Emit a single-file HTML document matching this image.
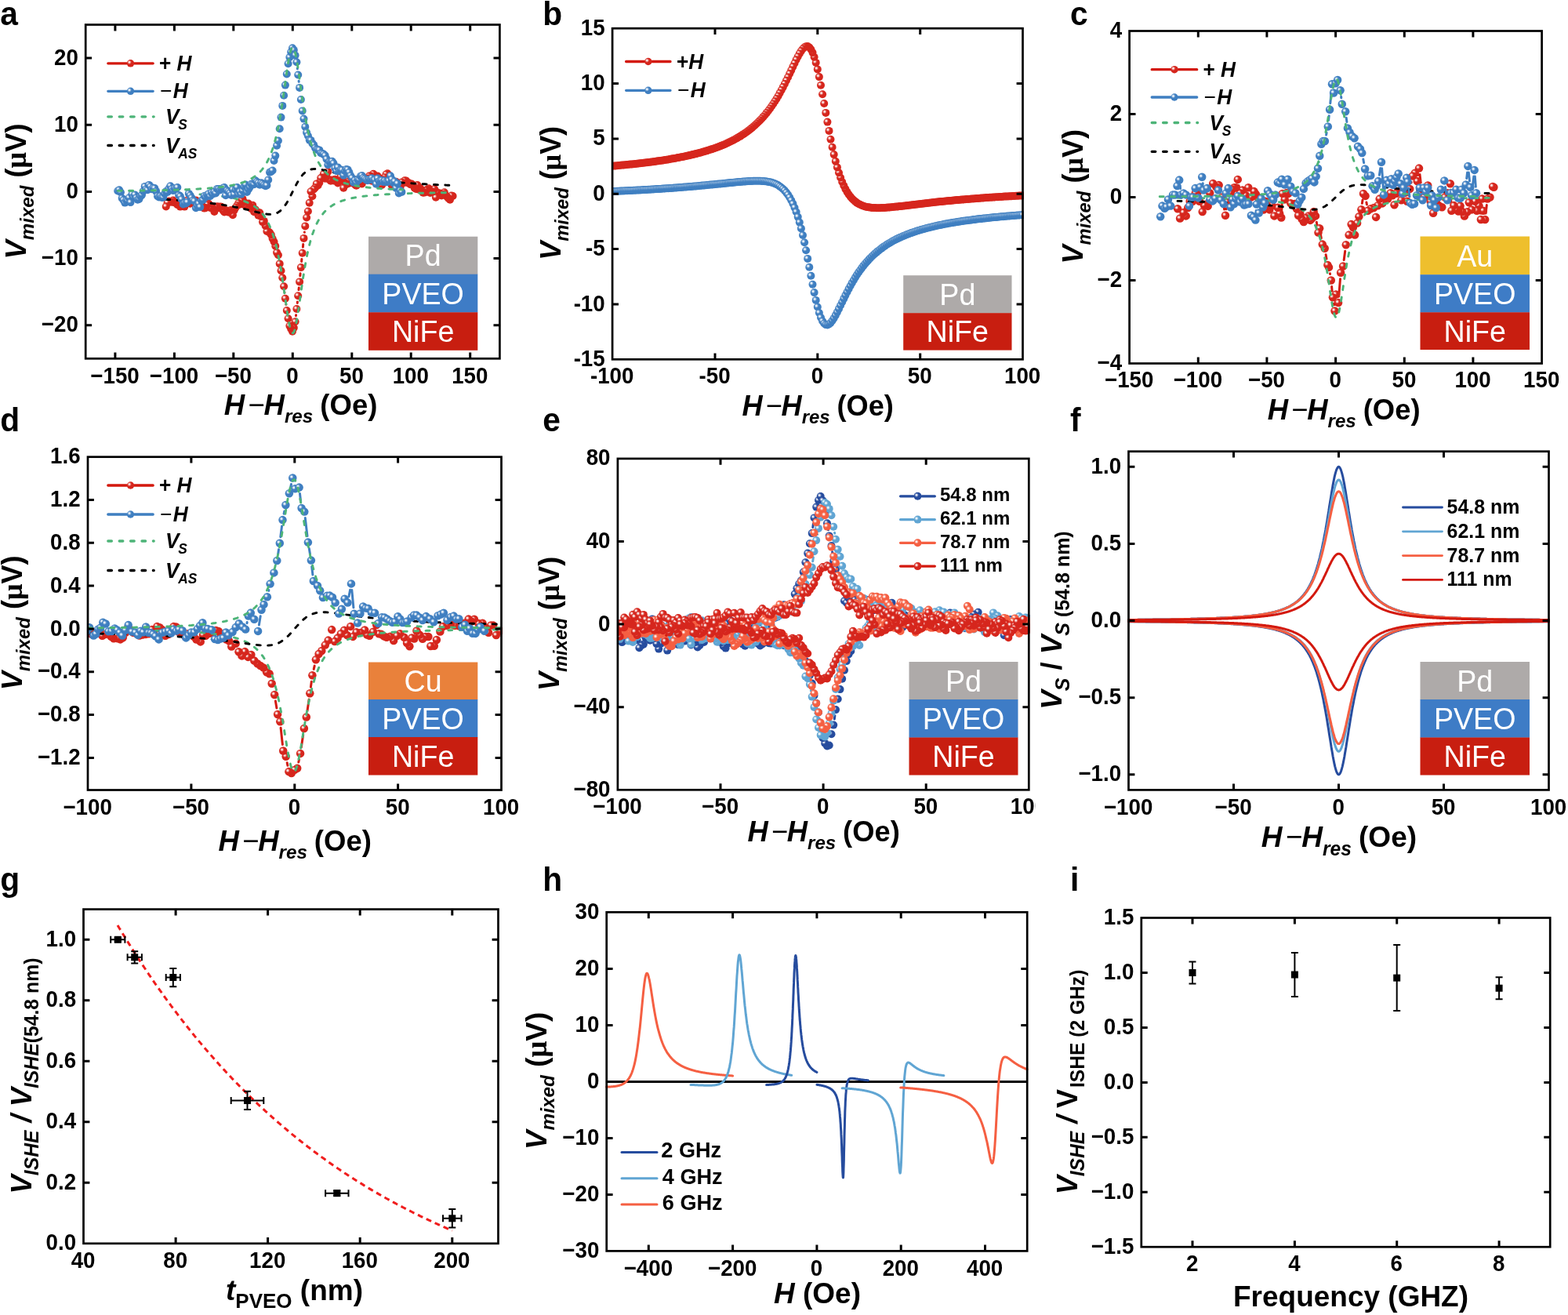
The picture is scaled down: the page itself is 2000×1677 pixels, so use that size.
<!DOCTYPE html>
<html lang="en"><head><meta charset="utf-8"><title>Figure</title>
<style>html,body{margin:0;padding:0;background:#fff}svg{display:block}</style></head>
<body><svg xmlns="http://www.w3.org/2000/svg" width="2000" height="1677" viewBox="0 0 2000 1677" font-family="'Liberation Sans',sans-serif" font-weight="bold" fill="#000">
<rect width="2000" height="1677" fill="#fff"/>
<defs><radialGradient id="hl"><stop offset="0" stop-color="#fff" stop-opacity="0.95"/><stop offset="0.3" stop-color="#fff" stop-opacity="0.85"/><stop offset="0.65" stop-color="#fff" stop-opacity="0.3"/><stop offset="1" stop-color="#fff" stop-opacity="0"/></radialGradient><g id="mr"><circle r="5.0" fill="#d6261d"/><circle cx="-1.5" cy="-1.5" r="2.9" fill="url(#hl)"/></g><g id="lr"><circle r="4.75" fill="#d6261d"/><circle cx="-1.5" cy="-1.5" r="2.9" fill="url(#hl)"/></g><g id="lb"><circle r="4.75" fill="#3f7fc1"/><circle cx="-1.5" cy="-1.5" r="2.9" fill="url(#hl)"/></g><g id="lr5"><circle r="5.0" fill="#d6261d"/><circle cx="-1.5" cy="-1.5" r="2.9" fill="url(#hl)"/></g><g id="mr2"><circle r="5.25" fill="#d6261d"/><circle cx="-1.5" cy="-1.5" r="2.9" fill="url(#hl)"/></g><g id="mb2"><circle r="5.25" fill="#3f7fc1"/><circle cx="-1.5" cy="-1.5" r="2.9" fill="url(#hl)"/></g><g id="ld"><circle r="5.0" fill="#264c9e"/><circle cx="-1.5" cy="-1.5" r="2.9" fill="url(#hl)"/></g><g id="ll"><circle r="5.0" fill="#60a5d3"/><circle cx="-1.5" cy="-1.5" r="2.9" fill="url(#hl)"/></g><g id="ls"><circle r="5.0" fill="#f55f42"/><circle cx="-1.5" cy="-1.5" r="2.9" fill="url(#hl)"/></g><g id="mb"><circle r="5.0" fill="#3f7fc1"/><circle cx="-1.5" cy="-1.5" r="2.9" fill="url(#hl)"/></g><g id="md"><circle r="5.0" fill="#264c9e"/><circle cx="-1.5" cy="-1.5" r="2.9" fill="url(#hl)"/></g><g id="ml"><circle r="5.0" fill="#60a5d3"/><circle cx="-1.5" cy="-1.5" r="2.9" fill="url(#hl)"/></g><g id="ms"><circle r="5.0" fill="#f55f42"/><circle cx="-1.5" cy="-1.5" r="2.9" fill="url(#hl)"/></g><clipPath id="cb"><rect x="781.1" y="36.2" width="524.9" height="422.1"/></clipPath><clipPath id="cd"><rect x="112" y="582.7" width="529" height="424.8"/></clipPath><clipPath id="ce"><rect x="787.9" y="584.9" width="525.9" height="422.4"/></clipPath><clipPath id="cel"><rect x="700" y="1000" width="620.6" height="60"/></clipPath></defs>
<path d="M388.4 296L388.4 296.3M386.7 311.6L386.4 315.1M384.9 330.4L384.6 333.5M383.1 348.8L382.8 351.7M381.3 367L381 369.6M379.4 384.9L379.3 386.4M377.6 401.7L377.5 402.7M364.9 388.3L364.8 388.3M363 373L363 373" stroke="#d3190e" stroke-width="3.0" fill="none" stroke-linecap="round"/>
<use href="#mr" x="577.6" y="250"/><use href="#mr" x="575.8" y="249.5"/><use href="#mr" x="574" y="254.8"/><use href="#mr" x="572.2" y="253.3"/><use href="#mr" x="570.4" y="251.1"/><use href="#mr" x="568.6" y="249.3"/><use href="#mr" x="566.8" y="245.2"/><use href="#mr" x="565" y="247.7"/><use href="#mr" x="563.2" y="249.4"/><use href="#mr" x="561.3" y="246.5"/><use href="#mr" x="559.5" y="248.4"/><use href="#mr" x="557.7" y="245.3"/><use href="#mr" x="555.9" y="251.8"/><use href="#mr" x="554.1" y="241"/><use href="#mr" x="552.3" y="244.5"/><use href="#mr" x="550.5" y="245"/><use href="#mr" x="548.7" y="245.9"/><use href="#mr" x="546.9" y="240.3"/><use href="#mr" x="545" y="241.8"/><use href="#mr" x="543.2" y="242.8"/><use href="#mr" x="541.4" y="245.6"/><use href="#mr" x="539.6" y="245.7"/><use href="#mr" x="537.8" y="242.5"/><use href="#mr" x="536" y="240"/><use href="#mr" x="534.2" y="241.8"/><use href="#mr" x="532.4" y="236"/><use href="#mr" x="530.6" y="241"/><use href="#mr" x="528.7" y="239.8"/><use href="#mr" x="526.9" y="236.1"/><use href="#mr" x="525.1" y="234.5"/><use href="#mr" x="523.3" y="235.3"/><use href="#mr" x="521.5" y="233.2"/><use href="#mr" x="519.7" y="233.1"/><use href="#mr" x="517.9" y="230.4"/><use href="#mr" x="516.1" y="230.3"/><use href="#mr" x="514.3" y="233.5"/><use href="#mr" x="512.4" y="232.5"/><use href="#mr" x="510.6" y="238.7"/><use href="#mr" x="508.8" y="235.2"/><use href="#mr" x="507" y="235.3"/><use href="#mr" x="505.2" y="231.7"/><use href="#mr" x="503.4" y="233.2"/><use href="#mr" x="501.6" y="231"/><use href="#mr" x="499.8" y="236.5"/><use href="#mr" x="498" y="232.2"/><use href="#mr" x="496.1" y="223.9"/><use href="#mr" x="494.3" y="221.2"/><use href="#mr" x="492.5" y="222.4"/><use href="#mr" x="490.7" y="226.2"/><use href="#mr" x="488.9" y="229.2"/><use href="#mr" x="487.1" y="235.9"/><use href="#mr" x="485.3" y="228.3"/><use href="#mr" x="483.5" y="227.1"/><use href="#mr" x="481.7" y="224.5"/><use href="#mr" x="479.8" y="226.7"/><use href="#mr" x="478" y="223.8"/><use href="#mr" x="476.2" y="221.8"/><use href="#mr" x="474.4" y="230.8"/><use href="#mr" x="472.6" y="224.4"/><use href="#mr" x="470.8" y="224.5"/><use href="#mr" x="469" y="227.6"/><use href="#mr" x="467.2" y="228.2"/><use href="#mr" x="465.4" y="229.9"/><use href="#mr" x="463.5" y="229.4"/><use href="#mr" x="461.7" y="234.4"/><use href="#mr" x="459.9" y="233"/><use href="#mr" x="458.1" y="231.9"/><use href="#mr" x="456.3" y="235.2"/><use href="#mr" x="454.5" y="236.7"/><use href="#mr" x="452.7" y="235.5"/><use href="#mr" x="450.9" y="233"/><use href="#mr" x="449.1" y="232.2"/><use href="#mr" x="447.2" y="229"/><use href="#mr" x="445.4" y="233.7"/><use href="#mr" x="443.6" y="231.5"/><use href="#mr" x="441.8" y="235.2"/><use href="#mr" x="440" y="233.2"/><use href="#mr" x="438.2" y="239.7"/><use href="#mr" x="436.4" y="229.2"/><use href="#mr" x="434.6" y="225.4"/><use href="#mr" x="432.8" y="231.3"/><use href="#mr" x="430.9" y="233.5"/><use href="#mr" x="429.1" y="230.9"/><use href="#mr" x="427.3" y="228.8"/><use href="#mr" x="425.5" y="230.5"/><use href="#mr" x="423.7" y="229.5"/><use href="#mr" x="421.9" y="230.7"/><use href="#mr" x="420.1" y="229.3"/><use href="#mr" x="418.3" y="218.9"/><use href="#mr" x="416.5" y="225.3"/><use href="#mr" x="414.7" y="227.8"/><use href="#mr" x="412.8" y="222.1"/><use href="#mr" x="411" y="226.6"/><use href="#mr" x="409.2" y="227.1"/><use href="#mr" x="407.4" y="233"/><use href="#mr" x="405.6" y="236.5"/><use href="#mr" x="403.8" y="234.4"/><use href="#mr" x="402" y="239.4"/><use href="#mr" x="400.2" y="241.4"/><use href="#mr" x="398.4" y="250.3"/><use href="#mr" x="396.5" y="244.2"/><use href="#mr" x="394.7" y="258.8"/><use href="#mr" x="392.9" y="269.5"/><use href="#mr" x="391.1" y="277.5"/><use href="#mr" x="389.3" y="288.4"/><use href="#mr" x="387.5" y="303.9"/><use href="#mr" x="385.7" y="322.7"/><use href="#mr" x="383.9" y="341.1"/><use href="#mr" x="382.1" y="359.4"/><use href="#mr" x="380.2" y="377.2"/><use href="#mr" x="378.4" y="394"/><use href="#mr" x="376.6" y="410.3"/><use href="#mr" x="374.8" y="418.1"/><use href="#mr" x="373" y="422.7"/><use href="#mr" x="371.2" y="419.4"/><use href="#mr" x="369.4" y="415.6"/><use href="#mr" x="367.6" y="406.3"/><use href="#mr" x="365.8" y="396"/><use href="#mr" x="363.9" y="380.7"/><use href="#mr" x="362.1" y="365.3"/><use href="#mr" x="360.3" y="354.3"/><use href="#mr" x="358.5" y="345.3"/><use href="#mr" x="356.7" y="336.4"/><use href="#mr" x="354.9" y="325.2"/><use href="#mr" x="353.1" y="322.1"/><use href="#mr" x="351.3" y="313.7"/><use href="#mr" x="349.5" y="308.2"/><use href="#mr" x="347.6" y="304.2"/><use href="#mr" x="345.8" y="299.3"/><use href="#mr" x="344" y="296.6"/><use href="#mr" x="342.2" y="295.3"/><use href="#mr" x="340.4" y="295"/><use href="#mr" x="338.6" y="287.9"/><use href="#mr" x="336.8" y="281.9"/><use href="#mr" x="335" y="283.1"/><use href="#mr" x="333.2" y="276.3"/><use href="#mr" x="331.3" y="271.3"/><use href="#mr" x="329.5" y="274.7"/><use href="#mr" x="327.7" y="270.2"/><use href="#mr" x="325.9" y="267.3"/><use href="#mr" x="324.1" y="270.3"/><use href="#mr" x="322.3" y="261.7"/><use href="#mr" x="320.5" y="266.1"/><use href="#mr" x="318.7" y="262.7"/><use href="#mr" x="316.9" y="259.5"/><use href="#mr" x="315" y="260.2"/><use href="#mr" x="313.2" y="262.4"/><use href="#mr" x="311.4" y="257.9"/><use href="#mr" x="309.6" y="253.9"/><use href="#mr" x="307.8" y="256.4"/><use href="#mr" x="306" y="260.6"/><use href="#mr" x="304.2" y="259.1"/><use href="#mr" x="302.4" y="262.2"/><use href="#mr" x="300.6" y="264.6"/><use href="#mr" x="298.7" y="268.3"/><use href="#mr" x="296.9" y="274.2"/><use href="#mr" x="295.1" y="267.9"/><use href="#mr" x="293.3" y="268.5"/><use href="#mr" x="291.5" y="270.8"/><use href="#mr" x="289.7" y="269.2"/><use href="#mr" x="287.9" y="268.1"/><use href="#mr" x="286.1" y="270.5"/><use href="#mr" x="284.3" y="268.1"/><use href="#mr" x="282.4" y="263.7"/><use href="#mr" x="280.6" y="263.6"/><use href="#mr" x="278.8" y="265.2"/><use href="#mr" x="277" y="263.3"/><use href="#mr" x="275.2" y="264.4"/><use href="#mr" x="273.4" y="270"/><use href="#mr" x="271.6" y="266.1"/><use href="#mr" x="269.8" y="262.9"/><use href="#mr" x="268" y="265"/><use href="#mr" x="266.2" y="259.8"/><use href="#mr" x="264.3" y="261.2"/><use href="#mr" x="262.5" y="264.9"/><use href="#mr" x="260.7" y="265.6"/><use href="#mr" x="258.9" y="264.5"/><use href="#mr" x="257.1" y="261.4"/><use href="#mr" x="255.3" y="261.2"/><use href="#mr" x="253.5" y="257"/><use href="#mr" x="251.7" y="262.3"/><use href="#mr" x="249.9" y="255.4"/><use href="#mr" x="248" y="256.6"/><use href="#mr" x="246.2" y="258.2"/><use href="#mr" x="244.4" y="256"/><use href="#mr" x="242.6" y="259.8"/><use href="#mr" x="240.8" y="256.8"/><use href="#mr" x="239" y="255.6"/><use href="#mr" x="237.2" y="259.7"/><use href="#mr" x="235.4" y="263.6"/><use href="#mr" x="233.6" y="262.2"/><use href="#mr" x="231.7" y="259.1"/><use href="#mr" x="229.9" y="263.6"/><use href="#mr" x="228.1" y="259.8"/><use href="#mr" x="226.3" y="261.1"/><use href="#mr" x="224.5" y="259"/><use href="#mr" x="222.7" y="258.5"/><use href="#mr" x="220.9" y="255.6"/><use href="#mr" x="219.1" y="257.7"/><use href="#mr" x="217.3" y="257.5"/><use href="#mr" x="215.4" y="256.5"/><use href="#mr" x="213.6" y="258.6"/><use href="#mr" x="211.8" y="263.4"/>
<polyline points="211.8,246.3 212.7,246.3 213.7,246.3 214.6,246.4 215.5,246.4 216.4,246.4 217.3,246.4 218.2,246.4 219.1,246.5 220.1,246.5 221,246.5 221.9,246.5 222.8,246.6 223.7,246.6 224.6,246.6 225.6,246.7 226.5,246.7 227.4,246.7 228.3,246.7 229.2,246.8 230.1,246.8 231,246.8 232,246.9 232.9,246.9 233.8,246.9 234.7,247 235.6,247 236.5,247 237.5,247.1 238.4,247.1 239.3,247.1 240.2,247.2 241.1,247.2 242,247.2 242.9,247.3 243.9,247.3 244.8,247.4 245.7,247.4 246.6,247.4 247.5,247.5 248.4,247.5 249.3,247.6 250.3,247.6 251.2,247.7 252.1,247.7 253,247.8 253.9,247.8 254.8,247.9 255.8,247.9 256.7,248 257.6,248 258.5,248.1 259.4,248.2 260.3,248.2 261.2,248.3 262.2,248.3 263.1,248.4 264,248.5 264.9,248.5 265.8,248.6 266.7,248.7 267.7,248.8 268.6,248.8 269.5,248.9 270.4,249 271.3,249.1 272.2,249.1 273.1,249.2 274.1,249.3 275,249.4 275.9,249.5 276.8,249.6 277.7,249.7 278.6,249.8 279.6,249.9 280.5,250 281.4,250.1 282.3,250.2 283.2,250.3 284.1,250.4 285,250.6 286,250.7 286.9,250.8 287.8,251 288.7,251.1 289.6,251.2 290.5,251.4 291.5,251.5 292.4,251.7 293.3,251.9 294.2,252 295.1,252.2 296,252.4 296.9,252.5 297.9,252.7 298.8,252.9 299.7,253.1 300.6,253.3 301.5,253.6 302.4,253.8 303.4,254 304.3,254.3 305.2,254.5 306.1,254.8 307,255.1 307.9,255.3 308.8,255.6 309.8,255.9 310.7,256.3 311.6,256.6 312.5,256.9 313.4,257.3 314.3,257.7 315.3,258 316.2,258.5 317.1,258.9 318,259.3 318.9,259.8 319.8,260.3 320.7,260.8 321.7,261.3 322.6,261.9 323.5,262.4 324.4,263.1 325.3,263.7 326.2,264.4 327.2,265.1 328.1,265.8 329,266.6 329.9,267.4 330.8,268.3 331.7,269.2 332.6,270.2 333.6,271.2 334.5,272.3 335.4,273.4 336.3,274.7 337.2,275.9 338.1,277.3 339.1,278.7 340,280.3 340.9,281.9 341.8,283.6 342.7,285.5 343.6,287.4 344.5,289.5 345.5,291.8 346.4,294.1 347.3,296.7 348.2,299.4 349.1,302.2 350,305.3 351,308.6 351.9,312.1 352.8,315.8 353.7,319.8 354.6,324 355.5,328.5 356.4,333.3 357.4,338.3 358.3,343.6 359.2,349.2 360.1,355 361,361.1 361.9,367.3 362.8,373.7 363.8,380.2 364.7,386.6 365.6,392.9 366.5,399.1 367.4,404.9 368.3,410.2 369.3,414.8 370.2,418.7 371.1,421.8 372,423.8 372.9,424.8 373.8,424.8 374.7,423.6 375.7,421.4 376.6,418.2 377.5,414.1 378.4,409.3 379.3,403.9 380.2,398.1 381.2,391.9 382.1,385.5 383,379.1 383.9,372.6 384.8,366.3 385.7,360.1 386.6,354 387.6,348.3 388.5,342.7 389.4,337.5 390.3,332.5 391.2,327.8 392.1,323.3 393.1,319.1 394,315.2 394.9,311.5 395.8,308 396.7,304.8 397.6,301.7 398.5,298.9 399.5,296.2 400.4,293.7 401.3,291.4 402.2,289.2 403.1,287.1 404,285.2 405,283.3 405.9,281.6 406.8,280 407.7,278.5 408.6,277.1 409.5,275.7 410.4,274.5 411.4,273.3 412.3,272.1 413.2,271 414.1,270 415,269.1 415.9,268.2 416.9,267.3 417.8,266.5 418.7,265.7 419.6,265 420.5,264.3 421.4,263.6 422.3,263 423.3,262.4 424.2,261.8 425.1,261.2 426,260.7 426.9,260.2 427.8,259.7 428.8,259.2 429.7,258.8 430.6,258.4 431.5,258 432.4,257.6 433.3,257.2 434.2,256.9 435.2,256.5 436.1,256.2 437,255.9 437.9,255.6 438.8,255.3 439.7,255 440.7,254.7 441.6,254.5 442.5,254.2 443.4,254 444.3,253.8 445.2,253.5 446.1,253.3 447.1,253.1 448,252.9 448.9,252.7 449.8,252.5 450.7,252.3 451.6,252.2 452.6,252 453.5,251.8 454.4,251.7 455.3,251.5 456.2,251.4 457.1,251.2 458,251.1 459,250.9 459.9,250.8 460.8,250.7 461.7,250.5 462.6,250.4 463.5,250.3 464.4,250.2 465.4,250.1 466.3,250 467.2,249.9 468.1,249.8 469,249.7 469.9,249.6 470.9,249.5 471.8,249.4 472.7,249.3 473.6,249.2 474.5,249.1 475.4,249 476.3,249 477.3,248.9 478.2,248.8 479.1,248.7 480,248.7 480.9,248.6 481.8,248.5 482.8,248.5 483.7,248.4 484.6,248.3 485.5,248.3 486.4,248.2 487.3,248.1 488.2,248.1 489.2,248 490.1,248 491,247.9 491.9,247.9 492.8,247.8 493.7,247.8 494.7,247.7 495.6,247.7 496.5,247.6 497.4,247.6 498.3,247.5 499.2,247.5 500.1,247.4 501.1,247.4 502,247.4 502.9,247.3 503.8,247.3 504.7,247.2 505.6,247.2 506.6,247.2 507.5,247.1 508.4,247.1 509.3,247.1 510.2,247 511.1,247 512,246.9 513,246.9 513.9,246.9 514.8,246.9 515.7,246.8 516.6,246.8 517.5,246.8 518.5,246.7 519.4,246.7 520.3,246.7 521.2,246.6 522.1,246.6 523,246.6 523.9,246.6 524.9,246.5 525.8,246.5 526.7,246.5 527.6,246.5 528.5,246.4 529.4,246.4 530.4,246.4 531.3,246.4 532.2,246.3 533.1,246.3 534,246.3 534.9,246.3 535.8,246.3 536.8,246.2 537.7,246.2 538.6,246.2 539.5,246.2 540.4,246.2 541.3,246.1 542.3,246.1 543.2,246.1 544.1,246.1 545,246.1 545.9,246.1 546.8,246 547.7,246 548.7,246 549.6,246 550.5,246 551.4,246 552.3,245.9 553.2,245.9 554.2,245.9 555.1,245.9 556,245.9 556.9,245.9 557.8,245.8 558.7,245.8 559.6,245.8 560.6,245.8 561.5,245.8 562.4,245.8 563.3,245.8 564.2,245.8 565.1,245.7 566.1,245.7 567,245.7 567.9,245.7 568.8,245.7 569.7,245.7 570.6,245.7 571.5,245.7 572.5,245.6 573.4,245.6 574.3,245.6 575.2,245.6 576.1,245.6 577,245.6" fill="none" stroke="#4db478" stroke-width="2.9" stroke-linecap="round" stroke-linejoin="round" stroke-dasharray="5 9.4"/>
<polyline points="211.8,254.4 212.7,254.4 213.7,254.5 214.6,254.5 215.5,254.6 216.4,254.6 217.3,254.7 218.2,254.8 219.1,254.8 220.1,254.9 221,254.9 221.9,255 222.8,255 223.7,255.1 224.6,255.2 225.6,255.2 226.5,255.3 227.4,255.4 228.3,255.4 229.2,255.5 230.1,255.6 231,255.6 232,255.7 232.9,255.8 233.8,255.8 234.7,255.9 235.6,256 236.5,256 237.5,256.1 238.4,256.2 239.3,256.2 240.2,256.3 241.1,256.4 242,256.5 242.9,256.5 243.9,256.6 244.8,256.7 245.7,256.8 246.6,256.9 247.5,256.9 248.4,257 249.3,257.1 250.3,257.2 251.2,257.3 252.1,257.4 253,257.5 253.9,257.6 254.8,257.6 255.8,257.7 256.7,257.8 257.6,257.9 258.5,258 259.4,258.1 260.3,258.2 261.2,258.3 262.2,258.4 263.1,258.5 264,258.6 264.9,258.7 265.8,258.8 266.7,258.9 267.7,259 268.6,259.1 269.5,259.3 270.4,259.4 271.3,259.5 272.2,259.6 273.1,259.7 274.1,259.8 275,260 275.9,260.1 276.8,260.2 277.7,260.3 278.6,260.5 279.6,260.6 280.5,260.7 281.4,260.9 282.3,261 283.2,261.1 284.1,261.3 285,261.4 286,261.6 286.9,261.7 287.8,261.9 288.7,262 289.6,262.2 290.5,262.3 291.5,262.5 292.4,262.6 293.3,262.8 294.2,263 295.1,263.1 296,263.3 296.9,263.5 297.9,263.6 298.8,263.8 299.7,264 300.6,264.2 301.5,264.3 302.4,264.5 303.4,264.7 304.3,264.9 305.2,265.1 306.1,265.3 307,265.5 307.9,265.7 308.8,265.9 309.8,266.1 310.7,266.3 311.6,266.5 312.5,266.7 313.4,267 314.3,267.2 315.3,267.4 316.2,267.6 317.1,267.8 318,268.1 318.9,268.3 319.8,268.5 320.7,268.7 321.7,269 322.6,269.2 323.5,269.4 324.4,269.7 325.3,269.9 326.2,270.1 327.2,270.4 328.1,270.6 329,270.8 329.9,271 330.8,271.3 331.7,271.5 332.6,271.7 333.6,271.9 334.5,272.1 335.4,272.3 336.3,272.4 337.2,272.6 338.1,272.8 339.1,272.9 340,273 340.9,273.1 341.8,273.2 342.7,273.3 343.6,273.3 344.5,273.4 345.5,273.3 346.4,273.3 347.3,273.2 348.2,273.1 349.1,272.9 350,272.7 351,272.5 351.9,272.2 352.8,271.8 353.7,271.4 354.6,270.9 355.5,270.3 356.4,269.7 357.4,269 358.3,268.2 359.2,267.3 360.1,266.4 361,265.4 361.9,264.2 362.8,263 363.8,261.7 364.7,260.4 365.6,258.9 366.5,257.4 367.4,255.8 368.3,254.1 369.3,252.4 370.2,250.6 371.1,248.8 372,247 372.9,245.2 373.8,243.3 374.7,241.5 375.7,239.7 376.6,237.9 377.5,236.1 378.4,234.4 379.3,232.7 380.2,231.2 381.2,229.6 382.1,228.2 383,226.8 383.9,225.6 384.8,224.4 385.7,223.3 386.6,222.2 387.6,221.3 388.5,220.5 389.4,219.7 390.3,219 391.2,218.4 392.1,217.8 393.1,217.3 394,216.9 394.9,216.6 395.8,216.3 396.7,216 397.6,215.8 398.5,215.7 399.5,215.6 400.4,215.5 401.3,215.5 402.2,215.4 403.1,215.5 404,215.5 405,215.6 405.9,215.7 406.8,215.8 407.7,215.9 408.6,216.1 409.5,216.2 410.4,216.4 411.4,216.6 412.3,216.8 413.2,217 414.1,217.2 415,217.4 415.9,217.6 416.9,217.8 417.8,218 418.7,218.3 419.6,218.5 420.5,218.7 421.4,218.9 422.3,219.2 423.3,219.4 424.2,219.6 425.1,219.9 426,220.1 426.9,220.3 427.8,220.5 428.8,220.8 429.7,221 430.6,221.2 431.5,221.4 432.4,221.7 433.3,221.9 434.2,222.1 435.2,222.3 436.1,222.5 437,222.7 437.9,222.9 438.8,223.1 439.7,223.3 440.7,223.5 441.6,223.7 442.5,223.9 443.4,224.1 444.3,224.3 445.2,224.5 446.1,224.7 447.1,224.8 448,225 448.9,225.2 449.8,225.4 450.7,225.5 451.6,225.7 452.6,225.9 453.5,226 454.4,226.2 455.3,226.4 456.2,226.5 457.1,226.7 458,226.8 459,227 459.9,227.1 460.8,227.3 461.7,227.4 462.6,227.5 463.5,227.7 464.4,227.8 465.4,228 466.3,228.1 467.2,228.2 468.1,228.4 469,228.5 469.9,228.6 470.9,228.7 471.8,228.9 472.7,229 473.6,229.1 474.5,229.2 475.4,229.3 476.3,229.4 477.3,229.6 478.2,229.7 479.1,229.8 480,229.9 480.9,230 481.8,230.1 482.8,230.2 483.7,230.3 484.6,230.4 485.5,230.5 486.4,230.6 487.3,230.7 488.2,230.8 489.2,230.9 490.1,231 491,231.1 491.9,231.2 492.8,231.3 493.7,231.4 494.7,231.4 495.6,231.5 496.5,231.6 497.4,231.7 498.3,231.8 499.2,231.9 500.1,231.9 501.1,232 502,232.1 502.9,232.2 503.8,232.3 504.7,232.3 505.6,232.4 506.6,232.5 507.5,232.6 508.4,232.6 509.3,232.7 510.2,232.8 511.1,232.9 512,232.9 513,233 513.9,233.1 514.8,233.1 515.7,233.2 516.6,233.3 517.5,233.3 518.5,233.4 519.4,233.5 520.3,233.5 521.2,233.6 522.1,233.6 523,233.7 523.9,233.8 524.9,233.8 525.8,233.9 526.7,233.9 527.6,234 528.5,234.1 529.4,234.1 530.4,234.2 531.3,234.2 532.2,234.3 533.1,234.3 534,234.4 534.9,234.4 535.8,234.5 536.8,234.5 537.7,234.6 538.6,234.6 539.5,234.7 540.4,234.7 541.3,234.8 542.3,234.8 543.2,234.9 544.1,234.9 545,235 545.9,235 546.8,235.1 547.7,235.1 548.7,235.2 549.6,235.2 550.5,235.3 551.4,235.3 552.3,235.4 553.2,235.4 554.2,235.4 555.1,235.5 556,235.5 556.9,235.6 557.8,235.6 558.7,235.7 559.6,235.7 560.6,235.7 561.5,235.8 562.4,235.8 563.3,235.9 564.2,235.9 565.1,235.9 566.1,236 567,236 567.9,236 568.8,236.1 569.7,236.1 570.6,236.2 571.5,236.2 572.5,236.2 573.4,236.3 574.3,236.3 575.2,236.3 576.1,236.4 577,236.4" fill="none" stroke="#000" stroke-width="2.9" stroke-linecap="round" stroke-linejoin="round" stroke-dasharray="5 9.4"/>
<path d="M379.3 87L379.4 87.8M381.1 103.2L381.2 104.3" stroke="#3f7fc1" stroke-width="3.0" fill="none" stroke-linecap="round"/>
<use href="#mb" x="150.2" y="243.5"/><use href="#mb" x="152.1" y="242.3"/><use href="#mb" x="153.9" y="245.2"/><use href="#mb" x="155.7" y="252.8"/><use href="#mb" x="157.5" y="255.1"/><use href="#mb" x="159.3" y="258.6"/><use href="#mb" x="161.1" y="255.5"/><use href="#mb" x="162.9" y="255.9"/><use href="#mb" x="164.7" y="252.2"/><use href="#mb" x="166.5" y="258.1"/><use href="#mb" x="168.4" y="247.7"/><use href="#mb" x="170.2" y="251.5"/><use href="#mb" x="172" y="248.4"/><use href="#mb" x="173.8" y="252.4"/><use href="#mb" x="175.6" y="254.7"/><use href="#mb" x="177.4" y="254"/><use href="#mb" x="179.2" y="250.4"/><use href="#mb" x="181" y="248.6"/><use href="#mb" x="182.8" y="243.7"/><use href="#mb" x="184.7" y="237.9"/><use href="#mb" x="186.5" y="241.3"/><use href="#mb" x="188.3" y="242.2"/><use href="#mb" x="190.1" y="235.9"/><use href="#mb" x="191.9" y="238"/><use href="#mb" x="193.7" y="241.3"/><use href="#mb" x="195.5" y="239.7"/><use href="#mb" x="197.3" y="240.1"/><use href="#mb" x="199.1" y="243.9"/><use href="#mb" x="201" y="250.2"/><use href="#mb" x="202.8" y="251.4"/><use href="#mb" x="204.6" y="250.3"/><use href="#mb" x="206.4" y="251.9"/><use href="#mb" x="208.2" y="251.8"/><use href="#mb" x="210" y="247"/><use href="#mb" x="211.8" y="244.1"/><use href="#mb" x="213.6" y="244.9"/><use href="#mb" x="215.4" y="240.5"/><use href="#mb" x="217.3" y="237.2"/><use href="#mb" x="219.1" y="241.1"/><use href="#mb" x="220.9" y="243.1"/><use href="#mb" x="222.7" y="240.2"/><use href="#mb" x="224.5" y="240.8"/><use href="#mb" x="226.3" y="239"/><use href="#mb" x="228.1" y="248.9"/><use href="#mb" x="229.9" y="250.4"/><use href="#mb" x="231.7" y="254.2"/><use href="#mb" x="233.6" y="260.5"/><use href="#mb" x="235.4" y="259.1"/><use href="#mb" x="237.2" y="259.5"/><use href="#mb" x="239" y="258"/><use href="#mb" x="240.8" y="246.9"/><use href="#mb" x="242.6" y="249.2"/><use href="#mb" x="244.4" y="252.3"/><use href="#mb" x="246.2" y="255.6"/><use href="#mb" x="248" y="256.5"/><use href="#mb" x="249.9" y="265.3"/><use href="#mb" x="251.7" y="262.3"/><use href="#mb" x="253.5" y="259.8"/><use href="#mb" x="255.3" y="264.1"/><use href="#mb" x="257.1" y="255.7"/><use href="#mb" x="258.9" y="255"/><use href="#mb" x="260.7" y="250"/><use href="#mb" x="262.5" y="251.3"/><use href="#mb" x="264.3" y="248.6"/><use href="#mb" x="266.2" y="247.2"/><use href="#mb" x="268" y="250.3"/><use href="#mb" x="269.8" y="245.8"/><use href="#mb" x="271.6" y="247.4"/><use href="#mb" x="273.4" y="244.8"/><use href="#mb" x="275.2" y="246.5"/><use href="#mb" x="277" y="240.9"/><use href="#mb" x="278.8" y="241.1"/><use href="#mb" x="280.6" y="242.5"/><use href="#mb" x="282.4" y="240.9"/><use href="#mb" x="284.3" y="239.9"/><use href="#mb" x="286.1" y="239.1"/><use href="#mb" x="287.9" y="249.3"/><use href="#mb" x="289.7" y="242.9"/><use href="#mb" x="291.5" y="244.3"/><use href="#mb" x="293.3" y="246.1"/><use href="#mb" x="295.1" y="248.9"/><use href="#mb" x="296.9" y="241.8"/><use href="#mb" x="298.7" y="248"/><use href="#mb" x="300.6" y="242"/><use href="#mb" x="302.4" y="239"/><use href="#mb" x="304.2" y="247.7"/><use href="#mb" x="306" y="244.5"/><use href="#mb" x="307.8" y="247.8"/><use href="#mb" x="309.6" y="243.2"/><use href="#mb" x="311.4" y="238.3"/><use href="#mb" x="313.2" y="235.6"/><use href="#mb" x="315" y="244.9"/><use href="#mb" x="316.9" y="241.4"/><use href="#mb" x="318.7" y="238.6"/><use href="#mb" x="320.5" y="234.8"/><use href="#mb" x="322.3" y="235"/><use href="#mb" x="324.1" y="235.2"/><use href="#mb" x="325.9" y="230.2"/><use href="#mb" x="327.7" y="231.9"/><use href="#mb" x="329.5" y="233.3"/><use href="#mb" x="331.3" y="235.7"/><use href="#mb" x="333.2" y="233.3"/><use href="#mb" x="335" y="234.3"/><use href="#mb" x="336.8" y="236.1"/><use href="#mb" x="338.6" y="237.2"/><use href="#mb" x="340.4" y="236.4"/><use href="#mb" x="342.2" y="229.4"/><use href="#mb" x="344" y="219.8"/><use href="#mb" x="345.8" y="218.9"/><use href="#mb" x="347.6" y="217.5"/><use href="#mb" x="349.5" y="204.9"/><use href="#mb" x="351.3" y="198.6"/><use href="#mb" x="353.1" y="185.7"/><use href="#mb" x="354.9" y="179.5"/><use href="#mb" x="356.7" y="164.3"/><use href="#mb" x="358.5" y="149.6"/><use href="#mb" x="360.3" y="134.9"/><use href="#mb" x="362.1" y="121.7"/><use href="#mb" x="363.9" y="108.6"/><use href="#mb" x="365.8" y="94.5"/><use href="#mb" x="367.6" y="81.2"/><use href="#mb" x="369.4" y="73.1"/><use href="#mb" x="371.2" y="66.4"/><use href="#mb" x="373" y="61.3"/><use href="#mb" x="374.8" y="63.9"/><use href="#mb" x="376.6" y="70.6"/><use href="#mb" x="378.4" y="79.3"/><use href="#mb" x="380.2" y="95.5"/><use href="#mb" x="382.1" y="111.9"/><use href="#mb" x="383.9" y="127"/><use href="#mb" x="385.7" y="141.4"/><use href="#mb" x="387.5" y="151.6"/><use href="#mb" x="389.3" y="161.8"/><use href="#mb" x="391.1" y="169.1"/><use href="#mb" x="392.9" y="173.2"/><use href="#mb" x="394.7" y="178.6"/><use href="#mb" x="396.5" y="178.9"/><use href="#mb" x="398.4" y="182.9"/><use href="#mb" x="400.2" y="184.9"/><use href="#mb" x="402" y="188.7"/><use href="#mb" x="403.8" y="190.6"/><use href="#mb" x="405.6" y="191"/><use href="#mb" x="407.4" y="191.4"/><use href="#mb" x="409.2" y="195.3"/><use href="#mb" x="411" y="195.7"/><use href="#mb" x="412.8" y="196.6"/><use href="#mb" x="414.7" y="198.4"/><use href="#mb" x="416.5" y="202.9"/><use href="#mb" x="418.3" y="210.2"/><use href="#mb" x="420.1" y="206.5"/><use href="#mb" x="421.9" y="206.8"/><use href="#mb" x="423.7" y="205.7"/><use href="#mb" x="425.5" y="208.3"/><use href="#mb" x="427.3" y="214.4"/><use href="#mb" x="429.1" y="218"/><use href="#mb" x="430.9" y="213.4"/><use href="#mb" x="432.8" y="218.2"/><use href="#mb" x="434.6" y="216.5"/><use href="#mb" x="436.4" y="216.9"/><use href="#mb" x="438.2" y="223.7"/><use href="#mb" x="440" y="218.3"/><use href="#mb" x="441.8" y="216"/><use href="#mb" x="443.6" y="216.4"/><use href="#mb" x="445.4" y="219.8"/><use href="#mb" x="447.2" y="224"/><use href="#mb" x="449.1" y="227"/><use href="#mb" x="450.9" y="232.8"/><use href="#mb" x="452.7" y="230"/><use href="#mb" x="454.5" y="232.7"/><use href="#mb" x="456.3" y="229.1"/><use href="#mb" x="458.1" y="229.3"/><use href="#mb" x="459.9" y="224.7"/><use href="#mb" x="461.7" y="224"/><use href="#mb" x="463.5" y="226.7"/><use href="#mb" x="465.4" y="228"/><use href="#mb" x="467.2" y="229.5"/><use href="#mb" x="469" y="230.3"/><use href="#mb" x="470.8" y="228.7"/><use href="#mb" x="472.6" y="228.9"/><use href="#mb" x="474.4" y="227.3"/><use href="#mb" x="476.2" y="229.7"/><use href="#mb" x="478" y="229.4"/><use href="#mb" x="479.8" y="234.8"/><use href="#mb" x="481.7" y="227.6"/><use href="#mb" x="483.5" y="231.2"/><use href="#mb" x="485.3" y="230.5"/><use href="#mb" x="487.1" y="230"/><use href="#mb" x="488.9" y="232"/><use href="#mb" x="490.7" y="230.6"/><use href="#mb" x="492.5" y="232.2"/><use href="#mb" x="494.3" y="232.3"/><use href="#mb" x="496.1" y="230.4"/><use href="#mb" x="498" y="224.2"/><use href="#mb" x="499.8" y="228.8"/><use href="#mb" x="501.6" y="233.2"/><use href="#mb" x="503.4" y="231.4"/><use href="#mb" x="505.2" y="239.9"/><use href="#mb" x="507" y="234.1"/><use href="#mb" x="508.8" y="246.5"/><use href="#mb" x="510.6" y="243.1"/><use href="#mb" x="512.4" y="244.9"/>
<polyline points="150.2,243.4 151.2,243.4 152.1,243.4 153,243.4 153.9,243.4 154.8,243.3 155.7,243.3 156.6,243.3 157.5,243.3 158.4,243.3 159.4,243.3 160.3,243.3 161.2,243.3 162.1,243.3 163,243.3 163.9,243.3 164.8,243.2 165.7,243.2 166.6,243.2 167.6,243.2 168.5,243.2 169.4,243.2 170.3,243.2 171.2,243.2 172.1,243.2 173,243.1 173.9,243.1 174.8,243.1 175.8,243.1 176.7,243.1 177.6,243.1 178.5,243.1 179.4,243.1 180.3,243 181.2,243 182.1,243 183,243 183.9,243 184.9,243 185.8,243 186.7,243 187.6,242.9 188.5,242.9 189.4,242.9 190.3,242.9 191.2,242.9 192.1,242.9 193.1,242.9 194,242.8 194.9,242.8 195.8,242.8 196.7,242.8 197.6,242.8 198.5,242.8 199.4,242.7 200.3,242.7 201.3,242.7 202.2,242.7 203.1,242.7 204,242.6 204.9,242.6 205.8,242.6 206.7,242.6 207.6,242.6 208.5,242.6 209.4,242.5 210.4,242.5 211.3,242.5 212.2,242.5 213.1,242.4 214,242.4 214.9,242.4 215.8,242.4 216.7,242.4 217.6,242.3 218.6,242.3 219.5,242.3 220.4,242.3 221.3,242.2 222.2,242.2 223.1,242.2 224,242.2 224.9,242.1 225.8,242.1 226.8,242.1 227.7,242 228.6,242 229.5,242 230.4,242 231.3,241.9 232.2,241.9 233.1,241.9 234,241.8 235,241.8 235.9,241.8 236.8,241.7 237.7,241.7 238.6,241.6 239.5,241.6 240.4,241.6 241.3,241.5 242.2,241.5 243.1,241.5 244.1,241.4 245,241.4 245.9,241.3 246.8,241.3 247.7,241.2 248.6,241.2 249.5,241.1 250.4,241.1 251.3,241.1 252.3,241 253.2,241 254.1,240.9 255,240.8 255.9,240.8 256.8,240.7 257.7,240.7 258.6,240.6 259.5,240.6 260.5,240.5 261.4,240.4 262.3,240.4 263.2,240.3 264.1,240.2 265,240.2 265.9,240.1 266.8,240 267.7,240 268.7,239.9 269.6,239.8 270.5,239.7 271.4,239.6 272.3,239.6 273.2,239.5 274.1,239.4 275,239.3 275.9,239.2 276.8,239.1 277.8,239 278.7,238.9 279.6,238.8 280.5,238.7 281.4,238.6 282.3,238.5 283.2,238.4 284.1,238.2 285,238.1 286,238 286.9,237.9 287.8,237.7 288.7,237.6 289.6,237.4 290.5,237.3 291.4,237.1 292.3,237 293.2,236.8 294.2,236.6 295.1,236.5 296,236.3 296.9,236.1 297.8,235.9 298.7,235.7 299.6,235.5 300.5,235.3 301.4,235.1 302.3,234.9 303.3,234.6 304.2,234.4 305.1,234.1 306,233.9 306.9,233.6 307.8,233.3 308.7,233 309.6,232.7 310.5,232.4 311.5,232 312.4,231.7 313.3,231.3 314.2,231 315.1,230.6 316,230.2 316.9,229.7 317.8,229.3 318.7,228.8 319.7,228.3 320.6,227.8 321.5,227.3 322.4,226.7 323.3,226.1 324.2,225.5 325.1,224.9 326,224.2 326.9,223.5 327.9,222.7 328.8,222 329.7,221.1 330.6,220.3 331.5,219.3 332.4,218.4 333.3,217.4 334.2,216.3 335.1,215.1 336,213.9 337,212.6 337.9,211.3 338.8,209.8 339.7,208.3 340.6,206.7 341.5,205 342.4,203.2 343.3,201.2 344.2,199.1 345.2,196.9 346.1,194.6 347,192.1 347.9,189.4 348.8,186.5 349.7,183.5 350.6,180.2 351.5,176.8 352.4,173.1 353.4,169.1 354.3,164.9 355.2,160.5 356.1,155.8 357,150.8 357.9,145.5 358.8,140 359.7,134.1 360.6,128.1 361.5,121.9 362.5,115.4 363.4,108.9 364.3,102.4 365.2,95.9 366.1,89.6 367,83.5 367.9,77.9 368.8,72.9 369.7,68.5 370.7,65 371.6,62.4 372.5,60.9 373.4,60.5 374.3,61.1 375.2,62.9 376.1,65.6 377,69.3 377.9,73.8 378.9,79 379.8,84.7 380.7,90.8 381.6,97.1 382.5,103.7 383.4,110.2 384.3,116.7 385.2,123.1 386.1,129.3 387.1,135.3 388,141.1 388.9,146.6 389.8,151.8 390.7,156.7 391.6,161.4 392.5,165.8 393.4,169.9 394.3,173.8 395.2,177.5 396.2,180.9 397.1,184.1 398,187.1 398.9,189.9 399.8,192.6 400.7,195 401.6,197.4 402.5,199.6 403.4,201.6 404.4,203.5 405.3,205.3 406.2,207 407.1,208.6 408,210.1 408.9,211.6 409.8,212.9 410.7,214.2 411.6,215.4 412.6,216.5 413.5,217.6 414.4,218.6 415.3,219.5 416.2,220.4 417.1,221.3 418,222.1 418.9,222.9 419.8,223.6 420.8,224.3 421.7,225 422.6,225.6 423.5,226.3 424.4,226.8 425.3,227.4 426.2,227.9 427.1,228.4 428,228.9 428.9,229.4 429.9,229.8 430.8,230.2 431.7,230.6 432.6,231 433.5,231.4 434.4,231.8 435.3,232.1 436.2,232.4 437.1,232.8 438.1,233.1 439,233.4 439.9,233.6 440.8,233.9 441.7,234.2 442.6,234.4 443.5,234.7 444.4,234.9 445.3,235.1 446.3,235.3 447.2,235.6 448.1,235.8 449,236 449.9,236.1 450.8,236.3 451.7,236.5 452.6,236.7 453.5,236.8 454.4,237 455.4,237.2 456.3,237.3 457.2,237.5 458.1,237.6 459,237.7 459.9,237.9 460.8,238 461.7,238.1 462.6,238.3 463.6,238.4 464.5,238.5 465.4,238.6 466.3,238.7 467.2,238.8 468.1,238.9 469,239 469.9,239.1 470.8,239.2 471.8,239.3 472.7,239.4 473.6,239.5 474.5,239.6 475.4,239.7 476.3,239.7 477.2,239.8 478.1,239.9 479,240 480,240 480.9,240.1 481.8,240.2 482.7,240.3 483.6,240.3 484.5,240.4 485.4,240.5 486.3,240.5 487.2,240.6 488.1,240.6 489.1,240.7 490,240.7 490.9,240.8 491.8,240.9 492.7,240.9 493.6,241 494.5,241 495.4,241.1 496.3,241.1 497.3,241.2 498.2,241.2 499.1,241.3 500,241.3 500.9,241.3 501.8,241.4 502.7,241.4 503.6,241.5 504.5,241.5 505.5,241.5 506.4,241.6 507.3,241.6 508.2,241.7 509.1,241.7 510,241.7 510.9,241.8 511.8,241.8 512.7,241.8 513.7,241.9" fill="none" stroke="#4db478" stroke-width="2.9" stroke-linecap="round" stroke-linejoin="round" stroke-dasharray="5 9.4"/>
<path d="M137.8 80.8H161.5M171.5 80.8H195.2" stroke="#d3190e" stroke-width="3.3" stroke-linecap="round" fill="none"/>
<use href="#lr" x="166.5" y="80.8"/>
<path d="M137.8 116.3H161.5M171.5 116.3H195.2" stroke="#3f7fc1" stroke-width="3.3" stroke-linecap="round" fill="none"/>
<use href="#lb" x="166.5" y="116.3"/>
<text transform="translate(203 89.8) scale(0.99 1.045)" font-size="26.5">+ <tspan font-style="italic">H</tspan></text>
<text transform="translate(204 125.3) scale(0.99 1.045)" font-size="26.5"><tspan font-weight="normal">−</tspan><tspan font-style="italic" dx="1.5">H</tspan></text>
<path d="M137.8 148.8H196.2" stroke="#4db478" stroke-width="3.3" stroke-linecap="round" stroke-dasharray="4.6 9.8" fill="none"/>
<path d="M137.8 185.5H196.2" stroke="#000" stroke-width="3.3" stroke-linecap="round" stroke-dasharray="4.6 9.8" fill="none"/>
<text transform="translate(211 158) scale(0.99 1.045)" font-size="26.5" font-style="italic">V<tspan font-size="17.5" dy="6.8" dx="-1.2">S</tspan></text>
<text transform="translate(211 194.5) scale(0.99 1.045)" font-size="26.5" font-style="italic">V<tspan font-size="17.5" dy="6.8" dx="-1.2">AS</tspan></text>
<rect x="470" y="301.7" width="139.3" height="48.3" fill="#aeaaa9"/>
<rect x="470" y="349.7" width="139.3" height="48.9" fill="#3e7cc6"/>
<rect x="470" y="398.3" width="139.3" height="48.5" fill="#c81e10"/>
<text transform="translate(539.6 339.3) scale(0.99 1.045)" font-size="38" font-weight="normal" fill="#fff" text-anchor="middle">Pd</text>
<text transform="translate(539.6 387.9) scale(0.99 1.045)" font-size="38" font-weight="normal" fill="#fff" text-anchor="middle">PVEO</text>
<text transform="translate(539.6 436.4) scale(0.99 1.045)" font-size="38" font-weight="normal" fill="#fff" text-anchor="middle">NiFe</text>
<rect x="109.2" y="31.5" width="528.2" height="425.8" fill="none" stroke="#000" stroke-width="2.7"/>
<path d="M146.9 457.3v-7.9M146.9 31.5v7.9M222.4 457.3v-7.9M222.4 31.5v7.9M297.8 457.3v-7.9M297.8 31.5v7.9M373.3 457.3v-7.9M373.3 31.5v7.9M448.8 457.3v-7.9M448.8 31.5v7.9M524.2 457.3v-7.9M524.2 31.5v7.9M599.7 457.3v-7.9M599.7 31.5v7.9M109.2 414.7h7.9M637.4 414.7h-7.9M109.2 329.6h7.9M637.4 329.6h-7.9M109.2 244.4h7.9M637.4 244.4h-7.9M109.2 159.2h7.9M637.4 159.2h-7.9M109.2 74.1h7.9M637.4 74.1h-7.9" stroke="#000" stroke-width="3.0" fill="none"/>
<text transform="translate(146.5 488.5) scale(0.99 1.05)" font-size="28" text-anchor="middle">−150</text>
<text transform="translate(222 488.5) scale(0.99 1.05)" font-size="28" text-anchor="middle">−100</text>
<text transform="translate(297.4 488.5) scale(0.99 1.05)" font-size="28" text-anchor="middle">−50</text>
<text transform="translate(372.9 488.5) scale(0.99 1.05)" font-size="28" text-anchor="middle">0</text>
<text transform="translate(448.4 488.5) scale(0.99 1.05)" font-size="28" text-anchor="middle">50</text>
<text transform="translate(523.8 488.5) scale(0.99 1.05)" font-size="28" text-anchor="middle">100</text>
<text transform="translate(599.3 488.5) scale(0.99 1.05)" font-size="28" text-anchor="middle">150</text>
<text transform="translate(99.8 423.2) scale(0.99 1.05)" font-size="28" text-anchor="end">−20</text>
<text transform="translate(99.8 338.1) scale(0.99 1.05)" font-size="28" text-anchor="end">−10</text>
<text transform="translate(99.8 252.9) scale(0.99 1.05)" font-size="28" text-anchor="end">0</text>
<text transform="translate(99.8 167.7) scale(0.99 1.05)" font-size="28" text-anchor="end">10</text>
<text transform="translate(99.8 82.6) scale(0.99 1.05)" font-size="28" text-anchor="end">20</text>
<text transform="translate(285.8 529.2) scale(1 1.015)" font-size="36.58"><tspan font-style="italic">H</tspan><tspan font-weight="normal" dx="4.35">−</tspan><tspan font-style="italic" dx="-1.38">H</tspan><tspan font-style="italic" font-size="24.22" dy="9.89">res</tspan><tspan dy="-9.89" dx="-1.19"> (Oe)</tspan></text>
<text transform="translate(32.9 330.4) rotate(-90) scale(1 1.015)"><tspan font-size="36.35" font-style="italic">V</tspan><tspan font-style="italic" font-size="24.07" dy="9.82">mixed</tspan><tspan font-size="36.35" dy="-9.82"> (<tspan font-size="36.35" font-family="'Liberation Serif',serif" font-style="normal">μ</tspan>V)</tspan></text>
<text transform="translate(0.3 31.9) scale(0.97 1.0)" font-size="42">a</text>
<g clip-path="url(#cb)">
<use href="#mr" x="1304.5" y="249.4"/><use href="#mr" x="1302.4" y="249.5"/><use href="#mr" x="1300.3" y="249.6"/><use href="#mr" x="1298.2" y="249.7"/><use href="#mr" x="1296.1" y="249.8"/><use href="#mr" x="1294" y="249.9"/><use href="#mr" x="1291.9" y="250"/><use href="#mr" x="1289.8" y="250.2"/><use href="#mr" x="1287.8" y="250.3"/><use href="#mr" x="1285.7" y="250.4"/><use href="#mr" x="1283.6" y="250.5"/><use href="#mr" x="1281.5" y="250.6"/><use href="#mr" x="1279.4" y="250.8"/><use href="#mr" x="1277.3" y="250.9"/><use href="#mr" x="1275.2" y="251"/><use href="#mr" x="1273.1" y="251.2"/><use href="#mr" x="1271" y="251.3"/><use href="#mr" x="1268.9" y="251.4"/><use href="#mr" x="1266.8" y="251.6"/><use href="#mr" x="1264.7" y="251.7"/><use href="#mr" x="1262.6" y="251.8"/><use href="#mr" x="1260.5" y="252"/><use href="#mr" x="1258.4" y="252.1"/><use href="#mr" x="1256.3" y="252.3"/><use href="#mr" x="1254.3" y="252.4"/><use href="#mr" x="1252.2" y="252.6"/><use href="#mr" x="1250.1" y="252.7"/><use href="#mr" x="1248" y="252.9"/><use href="#mr" x="1245.9" y="253"/><use href="#mr" x="1243.8" y="253.2"/><use href="#mr" x="1241.7" y="253.4"/><use href="#mr" x="1239.6" y="253.5"/><use href="#mr" x="1237.5" y="253.7"/><use href="#mr" x="1235.4" y="253.9"/><use href="#mr" x="1233.3" y="254"/><use href="#mr" x="1231.2" y="254.2"/><use href="#mr" x="1229.1" y="254.4"/><use href="#mr" x="1227" y="254.6"/><use href="#mr" x="1224.9" y="254.7"/><use href="#mr" x="1222.8" y="254.9"/><use href="#mr" x="1220.8" y="255.1"/><use href="#mr" x="1218.7" y="255.3"/><use href="#mr" x="1216.6" y="255.5"/><use href="#mr" x="1214.5" y="255.7"/><use href="#mr" x="1212.4" y="255.9"/><use href="#mr" x="1210.3" y="256.1"/><use href="#mr" x="1208.2" y="256.3"/><use href="#mr" x="1206.1" y="256.5"/><use href="#mr" x="1204" y="256.7"/><use href="#mr" x="1201.9" y="256.9"/><use href="#mr" x="1199.8" y="257.1"/><use href="#mr" x="1197.7" y="257.3"/><use href="#mr" x="1195.6" y="257.6"/><use href="#mr" x="1193.5" y="257.8"/><use href="#mr" x="1191.4" y="258"/><use href="#mr" x="1189.4" y="258.2"/><use href="#mr" x="1187.3" y="258.5"/><use href="#mr" x="1185.2" y="258.7"/><use href="#mr" x="1183.1" y="258.9"/><use href="#mr" x="1181" y="259.2"/><use href="#mr" x="1178.9" y="259.4"/><use href="#mr" x="1176.8" y="259.7"/><use href="#mr" x="1174.7" y="259.9"/><use href="#mr" x="1172.6" y="260.2"/><use href="#mr" x="1170.5" y="260.4"/><use href="#mr" x="1168.4" y="260.7"/><use href="#mr" x="1166.3" y="260.9"/><use href="#mr" x="1164.2" y="261.2"/><use href="#mr" x="1162.1" y="261.4"/><use href="#mr" x="1160" y="261.7"/><use href="#mr" x="1157.9" y="261.9"/><use href="#mr" x="1155.9" y="262.2"/><use href="#mr" x="1153.8" y="262.4"/><use href="#mr" x="1151.7" y="262.7"/><use href="#mr" x="1149.6" y="262.9"/><use href="#mr" x="1147.5" y="263.1"/><use href="#mr" x="1145.4" y="263.4"/><use href="#mr" x="1143.3" y="263.6"/><use href="#mr" x="1141.2" y="263.8"/><use href="#mr" x="1139.1" y="264"/><use href="#mr" x="1137" y="264.2"/><use href="#mr" x="1134.9" y="264.4"/><use href="#mr" x="1132.8" y="264.6"/><use href="#mr" x="1130.7" y="264.8"/><use href="#mr" x="1128.6" y="264.9"/><use href="#mr" x="1126.5" y="265"/><use href="#mr" x="1124.5" y="265.1"/><use href="#mr" x="1122.4" y="265.2"/><use href="#mr" x="1120.3" y="265.2"/><use href="#mr" x="1118.2" y="265.2"/><use href="#mr" x="1116.1" y="265.1"/><use href="#mr" x="1114" y="265"/><use href="#mr" x="1111.9" y="264.9"/><use href="#mr" x="1109.8" y="264.6"/><use href="#mr" x="1107.7" y="264.3"/><use href="#mr" x="1105.6" y="263.9"/><use href="#mr" x="1103.5" y="263.4"/><use href="#mr" x="1101.4" y="262.7"/><use href="#mr" x="1099.3" y="262"/><use href="#mr" x="1097.2" y="261"/><use href="#mr" x="1095.1" y="259.9"/><use href="#mr" x="1093" y="258.6"/><use href="#mr" x="1091" y="257.1"/><use href="#mr" x="1088.9" y="255.3"/><use href="#mr" x="1086.8" y="253.2"/><use href="#mr" x="1084.7" y="250.8"/><use href="#mr" x="1082.6" y="248"/><use href="#mr" x="1080.5" y="244.8"/><use href="#mr" x="1078.4" y="241.1"/><use href="#mr" x="1076.3" y="236.8"/><use href="#mr" x="1074.2" y="232"/><use href="#mr" x="1072.1" y="226.5"/><use href="#mr" x="1070" y="220.3"/><use href="#mr" x="1067.9" y="213.4"/><use href="#mr" x="1065.8" y="205.7"/><use href="#mr" x="1063.7" y="197.1"/><use href="#mr" x="1061.6" y="187.8"/><use href="#mr" x="1059.5" y="177.7"/><use href="#mr" x="1057.5" y="166.9"/><use href="#mr" x="1055.4" y="155.6"/><use href="#mr" x="1053.3" y="143.9"/><use href="#mr" x="1051.2" y="132"/><use href="#mr" x="1049.1" y="120.2"/><use href="#mr" x="1047" y="108.8"/><use href="#mr" x="1044.9" y="98.1"/><use href="#mr" x="1042.8" y="88.4"/><use href="#mr" x="1040.7" y="79.9"/><use href="#mr" x="1038.6" y="72.8"/><use href="#mr" x="1036.5" y="67.1"/><use href="#mr" x="1034.4" y="63"/><use href="#mr" x="1032.3" y="60.4"/><use href="#mr" x="1030.2" y="59.1"/><use href="#mr" x="1028.1" y="59.2"/><use href="#mr" x="1026.1" y="60.3"/><use href="#mr" x="1024" y="62.3"/><use href="#mr" x="1021.9" y="65.1"/><use href="#mr" x="1019.8" y="68.4"/><use href="#mr" x="1017.7" y="72.2"/><use href="#mr" x="1015.6" y="76.3"/><use href="#mr" x="1013.5" y="80.7"/><use href="#mr" x="1011.4" y="85.1"/><use href="#mr" x="1009.3" y="89.6"/><use href="#mr" x="1007.2" y="94"/><use href="#mr" x="1005.1" y="98.5"/><use href="#mr" x="1003" y="102.8"/><use href="#mr" x="1000.9" y="107"/><use href="#mr" x="998.8" y="111.1"/><use href="#mr" x="996.7" y="115"/><use href="#mr" x="994.6" y="118.8"/><use href="#mr" x="992.6" y="122.5"/><use href="#mr" x="990.5" y="126"/><use href="#mr" x="988.4" y="129.3"/><use href="#mr" x="986.3" y="132.5"/><use href="#mr" x="984.2" y="135.5"/><use href="#mr" x="982.1" y="138.5"/><use href="#mr" x="980" y="141.3"/><use href="#mr" x="977.9" y="143.9"/><use href="#mr" x="975.8" y="146.5"/><use href="#mr" x="973.7" y="148.9"/><use href="#mr" x="971.6" y="151.2"/><use href="#mr" x="969.5" y="153.4"/><use href="#mr" x="967.4" y="155.5"/><use href="#mr" x="965.3" y="157.5"/><use href="#mr" x="963.2" y="159.5"/><use href="#mr" x="961.1" y="161.3"/><use href="#mr" x="959.1" y="163.1"/><use href="#mr" x="957" y="164.8"/><use href="#mr" x="954.9" y="166.4"/><use href="#mr" x="952.8" y="168"/><use href="#mr" x="950.7" y="169.4"/><use href="#mr" x="948.6" y="170.9"/><use href="#mr" x="946.5" y="172.3"/><use href="#mr" x="944.4" y="173.6"/><use href="#mr" x="942.3" y="174.8"/><use href="#mr" x="940.2" y="176.1"/><use href="#mr" x="938.1" y="177.2"/><use href="#mr" x="936" y="178.4"/><use href="#mr" x="933.9" y="179.5"/><use href="#mr" x="931.8" y="180.5"/><use href="#mr" x="929.7" y="181.5"/><use href="#mr" x="927.7" y="182.5"/><use href="#mr" x="925.6" y="183.5"/><use href="#mr" x="923.5" y="184.4"/><use href="#mr" x="921.4" y="185.2"/><use href="#mr" x="919.3" y="186.1"/><use href="#mr" x="917.2" y="186.9"/><use href="#mr" x="915.1" y="187.7"/><use href="#mr" x="913" y="188.5"/><use href="#mr" x="910.9" y="189.2"/><use href="#mr" x="908.8" y="189.9"/><use href="#mr" x="906.7" y="190.6"/><use href="#mr" x="904.6" y="191.3"/><use href="#mr" x="902.5" y="192"/><use href="#mr" x="900.4" y="192.6"/><use href="#mr" x="898.3" y="193.2"/><use href="#mr" x="896.2" y="193.8"/><use href="#mr" x="894.2" y="194.4"/><use href="#mr" x="892.1" y="195"/><use href="#mr" x="890" y="195.5"/><use href="#mr" x="887.9" y="196.1"/><use href="#mr" x="885.8" y="196.6"/><use href="#mr" x="883.7" y="197.1"/><use href="#mr" x="881.6" y="197.6"/><use href="#mr" x="879.5" y="198.1"/><use href="#mr" x="877.4" y="198.6"/><use href="#mr" x="875.3" y="199"/><use href="#mr" x="873.2" y="199.5"/><use href="#mr" x="871.1" y="199.9"/><use href="#mr" x="869" y="200.3"/><use href="#mr" x="866.9" y="200.7"/><use href="#mr" x="864.8" y="201.1"/><use href="#mr" x="862.8" y="201.5"/><use href="#mr" x="860.7" y="201.9"/><use href="#mr" x="858.6" y="202.3"/><use href="#mr" x="856.5" y="202.6"/><use href="#mr" x="854.4" y="203"/><use href="#mr" x="852.3" y="203.4"/><use href="#mr" x="850.2" y="203.7"/><use href="#mr" x="848.1" y="204"/><use href="#mr" x="846" y="204.4"/><use href="#mr" x="843.9" y="204.7"/><use href="#mr" x="841.8" y="205"/><use href="#mr" x="839.7" y="205.3"/><use href="#mr" x="837.6" y="205.6"/><use href="#mr" x="835.5" y="205.9"/><use href="#mr" x="833.4" y="206.2"/><use href="#mr" x="831.3" y="206.4"/><use href="#mr" x="829.3" y="206.7"/><use href="#mr" x="827.2" y="207"/><use href="#mr" x="825.1" y="207.2"/><use href="#mr" x="823" y="207.5"/><use href="#mr" x="820.9" y="207.8"/><use href="#mr" x="818.8" y="208"/><use href="#mr" x="816.7" y="208.2"/><use href="#mr" x="814.6" y="208.5"/><use href="#mr" x="812.5" y="208.7"/><use href="#mr" x="810.4" y="209"/><use href="#mr" x="808.3" y="209.2"/><use href="#mr" x="806.2" y="209.4"/><use href="#mr" x="804.1" y="209.6"/><use href="#mr" x="802" y="209.8"/><use href="#mr" x="799.9" y="210"/><use href="#mr" x="797.8" y="210.2"/><use href="#mr" x="795.8" y="210.4"/><use href="#mr" x="793.7" y="210.6"/><use href="#mr" x="791.6" y="210.8"/><use href="#mr" x="789.5" y="211"/><use href="#mr" x="787.4" y="211.2"/><use href="#mr" x="785.3" y="211.4"/><use href="#mr" x="783.2" y="211.6"/><use href="#mr" x="781.1" y="211.8"/>
<use href="#mb" x="781.1" y="244.1"/><use href="#mb" x="783.2" y="244"/><use href="#mb" x="785.3" y="243.9"/><use href="#mb" x="787.4" y="243.8"/><use href="#mb" x="789.5" y="243.7"/><use href="#mb" x="791.6" y="243.6"/><use href="#mb" x="793.7" y="243.5"/><use href="#mb" x="795.8" y="243.4"/><use href="#mb" x="797.8" y="243.3"/><use href="#mb" x="799.9" y="243.2"/><use href="#mb" x="802" y="243.1"/><use href="#mb" x="804.1" y="243"/><use href="#mb" x="806.2" y="242.9"/><use href="#mb" x="808.3" y="242.8"/><use href="#mb" x="810.4" y="242.7"/><use href="#mb" x="812.5" y="242.6"/><use href="#mb" x="814.6" y="242.5"/><use href="#mb" x="816.7" y="242.4"/><use href="#mb" x="818.8" y="242.3"/><use href="#mb" x="820.9" y="242.1"/><use href="#mb" x="823" y="242"/><use href="#mb" x="825.1" y="241.9"/><use href="#mb" x="827.2" y="241.8"/><use href="#mb" x="829.3" y="241.7"/><use href="#mb" x="831.3" y="241.5"/><use href="#mb" x="833.4" y="241.4"/><use href="#mb" x="835.5" y="241.3"/><use href="#mb" x="837.6" y="241.1"/><use href="#mb" x="839.7" y="241"/><use href="#mb" x="841.8" y="240.9"/><use href="#mb" x="843.9" y="240.7"/><use href="#mb" x="846" y="240.6"/><use href="#mb" x="848.1" y="240.5"/><use href="#mb" x="850.2" y="240.3"/><use href="#mb" x="852.3" y="240.2"/><use href="#mb" x="854.4" y="240"/><use href="#mb" x="856.5" y="239.9"/><use href="#mb" x="858.6" y="239.7"/><use href="#mb" x="860.7" y="239.6"/><use href="#mb" x="862.8" y="239.4"/><use href="#mb" x="864.8" y="239.3"/><use href="#mb" x="866.9" y="239.1"/><use href="#mb" x="869" y="238.9"/><use href="#mb" x="871.1" y="238.8"/><use href="#mb" x="873.2" y="238.6"/><use href="#mb" x="875.3" y="238.4"/><use href="#mb" x="877.4" y="238.3"/><use href="#mb" x="879.5" y="238.1"/><use href="#mb" x="881.6" y="237.9"/><use href="#mb" x="883.7" y="237.7"/><use href="#mb" x="885.8" y="237.6"/><use href="#mb" x="887.9" y="237.4"/><use href="#mb" x="890" y="237.2"/><use href="#mb" x="892.1" y="237"/><use href="#mb" x="894.2" y="236.8"/><use href="#mb" x="896.2" y="236.6"/><use href="#mb" x="898.3" y="236.4"/><use href="#mb" x="900.4" y="236.2"/><use href="#mb" x="902.5" y="236"/><use href="#mb" x="904.6" y="235.8"/><use href="#mb" x="906.7" y="235.6"/><use href="#mb" x="908.8" y="235.4"/><use href="#mb" x="910.9" y="235.2"/><use href="#mb" x="913" y="235"/><use href="#mb" x="915.1" y="234.8"/><use href="#mb" x="917.2" y="234.6"/><use href="#mb" x="919.3" y="234.4"/><use href="#mb" x="921.4" y="234.2"/><use href="#mb" x="923.5" y="234"/><use href="#mb" x="925.6" y="233.8"/><use href="#mb" x="927.7" y="233.6"/><use href="#mb" x="929.7" y="233.3"/><use href="#mb" x="931.8" y="233.1"/><use href="#mb" x="933.9" y="232.9"/><use href="#mb" x="936" y="232.7"/><use href="#mb" x="938.1" y="232.5"/><use href="#mb" x="940.2" y="232.3"/><use href="#mb" x="942.3" y="232.1"/><use href="#mb" x="944.4" y="231.9"/><use href="#mb" x="946.5" y="231.8"/><use href="#mb" x="948.6" y="231.6"/><use href="#mb" x="950.7" y="231.4"/><use href="#mb" x="952.8" y="231.3"/><use href="#mb" x="954.9" y="231.1"/><use href="#mb" x="957" y="231"/><use href="#mb" x="959.1" y="230.9"/><use href="#mb" x="961.1" y="230.8"/><use href="#mb" x="963.2" y="230.8"/><use href="#mb" x="965.3" y="230.8"/><use href="#mb" x="967.4" y="230.8"/><use href="#mb" x="969.5" y="230.8"/><use href="#mb" x="971.6" y="230.9"/><use href="#mb" x="973.7" y="231.1"/><use href="#mb" x="975.8" y="231.3"/><use href="#mb" x="977.9" y="231.5"/><use href="#mb" x="980" y="231.9"/><use href="#mb" x="982.1" y="232.3"/><use href="#mb" x="984.2" y="232.8"/><use href="#mb" x="986.3" y="233.5"/><use href="#mb" x="988.4" y="234.3"/><use href="#mb" x="990.5" y="235.2"/><use href="#mb" x="992.6" y="236.3"/><use href="#mb" x="994.6" y="237.7"/><use href="#mb" x="996.7" y="239.2"/><use href="#mb" x="998.8" y="241"/><use href="#mb" x="1000.9" y="243.1"/><use href="#mb" x="1003" y="245.6"/><use href="#mb" x="1005.1" y="248.4"/><use href="#mb" x="1007.2" y="251.7"/><use href="#mb" x="1009.3" y="255.5"/><use href="#mb" x="1011.4" y="259.8"/><use href="#mb" x="1013.5" y="264.7"/><use href="#mb" x="1015.6" y="270.3"/><use href="#mb" x="1017.7" y="276.6"/><use href="#mb" x="1019.8" y="283.6"/><use href="#mb" x="1021.9" y="291.4"/><use href="#mb" x="1024" y="300"/><use href="#mb" x="1026.1" y="309.3"/><use href="#mb" x="1028.1" y="319.3"/><use href="#mb" x="1030.2" y="329.9"/><use href="#mb" x="1032.3" y="340.8"/><use href="#mb" x="1034.4" y="351.8"/><use href="#mb" x="1036.5" y="362.7"/><use href="#mb" x="1038.6" y="373.1"/><use href="#mb" x="1040.7" y="382.9"/><use href="#mb" x="1042.8" y="391.5"/><use href="#mb" x="1044.9" y="399"/><use href="#mb" x="1047" y="405"/><use href="#mb" x="1049.1" y="409.5"/><use href="#mb" x="1051.2" y="412.5"/><use href="#mb" x="1053.3" y="414.1"/><use href="#mb" x="1055.4" y="414.4"/><use href="#mb" x="1057.5" y="413.5"/><use href="#mb" x="1059.5" y="411.7"/><use href="#mb" x="1061.6" y="409"/><use href="#mb" x="1063.7" y="405.8"/><use href="#mb" x="1065.8" y="402.1"/><use href="#mb" x="1067.9" y="398.1"/><use href="#mb" x="1070" y="393.9"/><use href="#mb" x="1072.1" y="389.5"/><use href="#mb" x="1074.2" y="385.2"/><use href="#mb" x="1076.3" y="380.9"/><use href="#mb" x="1078.4" y="376.6"/><use href="#mb" x="1080.5" y="372.5"/><use href="#mb" x="1082.6" y="368.4"/><use href="#mb" x="1084.7" y="364.5"/><use href="#mb" x="1086.8" y="360.8"/><use href="#mb" x="1088.9" y="357.2"/><use href="#mb" x="1091" y="353.8"/><use href="#mb" x="1093" y="350.5"/><use href="#mb" x="1095.1" y="347.4"/><use href="#mb" x="1097.2" y="344.5"/><use href="#mb" x="1099.3" y="341.6"/><use href="#mb" x="1101.4" y="338.9"/><use href="#mb" x="1103.5" y="336.4"/><use href="#mb" x="1105.6" y="334"/><use href="#mb" x="1107.7" y="331.6"/><use href="#mb" x="1109.8" y="329.4"/><use href="#mb" x="1111.9" y="327.3"/><use href="#mb" x="1114" y="325.3"/><use href="#mb" x="1116.1" y="323.4"/><use href="#mb" x="1118.2" y="321.6"/><use href="#mb" x="1120.3" y="319.9"/><use href="#mb" x="1122.4" y="318.2"/><use href="#mb" x="1124.5" y="316.6"/><use href="#mb" x="1126.5" y="315.1"/><use href="#mb" x="1128.6" y="313.7"/><use href="#mb" x="1130.7" y="312.3"/><use href="#mb" x="1132.8" y="311"/><use href="#mb" x="1134.9" y="309.7"/><use href="#mb" x="1137" y="308.5"/><use href="#mb" x="1139.1" y="307.3"/><use href="#mb" x="1141.2" y="306.2"/><use href="#mb" x="1143.3" y="305.1"/><use href="#mb" x="1145.4" y="304.1"/><use href="#mb" x="1147.5" y="303.1"/><use href="#mb" x="1149.6" y="302.2"/><use href="#mb" x="1151.7" y="301.3"/><use href="#mb" x="1153.8" y="300.4"/><use href="#mb" x="1155.9" y="299.5"/><use href="#mb" x="1157.9" y="298.7"/><use href="#mb" x="1160" y="297.9"/><use href="#mb" x="1162.1" y="297.1"/><use href="#mb" x="1164.2" y="296.4"/><use href="#mb" x="1166.3" y="295.7"/><use href="#mb" x="1168.4" y="295"/><use href="#mb" x="1170.5" y="294.3"/><use href="#mb" x="1172.6" y="293.7"/><use href="#mb" x="1174.7" y="293"/><use href="#mb" x="1176.8" y="292.4"/><use href="#mb" x="1178.9" y="291.9"/><use href="#mb" x="1181" y="291.3"/><use href="#mb" x="1183.1" y="290.7"/><use href="#mb" x="1185.2" y="290.2"/><use href="#mb" x="1187.3" y="289.7"/><use href="#mb" x="1189.4" y="289.2"/><use href="#mb" x="1191.4" y="288.7"/><use href="#mb" x="1193.5" y="288.2"/><use href="#mb" x="1195.6" y="287.7"/><use href="#mb" x="1197.7" y="287.3"/><use href="#mb" x="1199.8" y="286.9"/><use href="#mb" x="1201.9" y="286.4"/><use href="#mb" x="1204" y="286"/><use href="#mb" x="1206.1" y="285.6"/><use href="#mb" x="1208.2" y="285.2"/><use href="#mb" x="1210.3" y="284.8"/><use href="#mb" x="1212.4" y="284.5"/><use href="#mb" x="1214.5" y="284.1"/><use href="#mb" x="1216.6" y="283.8"/><use href="#mb" x="1218.7" y="283.4"/><use href="#mb" x="1220.8" y="283.1"/><use href="#mb" x="1222.8" y="282.7"/><use href="#mb" x="1224.9" y="282.4"/><use href="#mb" x="1227" y="282.1"/><use href="#mb" x="1229.1" y="281.8"/><use href="#mb" x="1231.2" y="281.5"/><use href="#mb" x="1233.3" y="281.2"/><use href="#mb" x="1235.4" y="280.9"/><use href="#mb" x="1237.5" y="280.7"/><use href="#mb" x="1239.6" y="280.4"/><use href="#mb" x="1241.7" y="280.1"/><use href="#mb" x="1243.8" y="279.9"/><use href="#mb" x="1245.9" y="279.6"/><use href="#mb" x="1248" y="279.3"/><use href="#mb" x="1250.1" y="279.1"/><use href="#mb" x="1252.2" y="278.9"/><use href="#mb" x="1254.3" y="278.6"/><use href="#mb" x="1256.3" y="278.4"/><use href="#mb" x="1258.4" y="278.2"/><use href="#mb" x="1260.5" y="278"/><use href="#mb" x="1262.6" y="277.7"/><use href="#mb" x="1264.7" y="277.5"/><use href="#mb" x="1266.8" y="277.3"/><use href="#mb" x="1268.9" y="277.1"/><use href="#mb" x="1271" y="276.9"/><use href="#mb" x="1273.1" y="276.7"/><use href="#mb" x="1275.2" y="276.5"/><use href="#mb" x="1277.3" y="276.3"/><use href="#mb" x="1279.4" y="276.2"/><use href="#mb" x="1281.5" y="276"/><use href="#mb" x="1283.6" y="275.8"/><use href="#mb" x="1285.7" y="275.6"/><use href="#mb" x="1287.8" y="275.4"/><use href="#mb" x="1289.8" y="275.3"/><use href="#mb" x="1291.9" y="275.1"/><use href="#mb" x="1294" y="274.9"/><use href="#mb" x="1296.1" y="274.8"/><use href="#mb" x="1298.2" y="274.6"/><use href="#mb" x="1300.3" y="274.5"/><use href="#mb" x="1302.4" y="274.3"/><use href="#mb" x="1304.5" y="274.2"/>
</g>
<path d="M798.6 78.5H821.9M831.7 78.5H855" stroke="#d3190e" stroke-width="3.3" stroke-linecap="round" fill="none"/>
<use href="#lr" x="826.8" y="78.5"/>
<path d="M798.6 115.3H821.9M831.7 115.3H855" stroke="#3f7fc1" stroke-width="3.3" stroke-linecap="round" fill="none"/>
<use href="#lb" x="826.8" y="115.3"/>
<text transform="translate(863 87.5) scale(0.99 1.045)" font-size="26.5">+<tspan font-style="italic">H</tspan></text>
<text transform="translate(864 124.3) scale(0.99 1.045)" font-size="26.5"><tspan font-weight="normal">−</tspan><tspan font-style="italic" dx="1.5">H</tspan></text>
<rect x="1152.2" y="351.2" width="138.3" height="48.3" fill="#aeaaa9"/>
<rect x="1152.2" y="399.2" width="138.3" height="47.4" fill="#c81e10"/>
<text transform="translate(1221.3 388.8) scale(0.99 1.045)" font-size="38" font-weight="normal" fill="#fff" text-anchor="middle">Pd</text>
<text transform="translate(1221.3 436.2) scale(0.99 1.045)" font-size="38" font-weight="normal" fill="#fff" text-anchor="middle">NiFe</text>
<rect x="781.1" y="36.2" width="523.4" height="422.1" fill="none" stroke="#000" stroke-width="2.7"/>
<path d="M912 458.3v-7.9M912 36.2v7.9M1042.8 458.3v-7.9M1042.8 36.2v7.9M1173.7 458.3v-7.9M1173.7 36.2v7.9M781.1 388h7.9M1304.5 388h-7.9M781.1 317.6h7.9M1304.5 317.6h-7.9M781.1 247.2h7.9M1304.5 247.2h-7.9M781.1 176.9h7.9M1304.5 176.9h-7.9M781.1 106.5h7.9M1304.5 106.5h-7.9" stroke="#000" stroke-width="3.0" fill="none"/>
<text transform="translate(780.7 489) scale(0.99 1.05)" font-size="28" text-anchor="middle">-100</text>
<text transform="translate(911.6 489) scale(0.99 1.05)" font-size="28" text-anchor="middle">-50</text>
<text transform="translate(1042.4 489) scale(0.99 1.05)" font-size="28" text-anchor="middle">0</text>
<text transform="translate(1173.2 489) scale(0.99 1.05)" font-size="28" text-anchor="middle">50</text>
<text transform="translate(1304.1 489) scale(0.99 1.05)" font-size="28" text-anchor="middle">100</text>
<text transform="translate(771.7 466.8) scale(0.99 1.05)" font-size="28" text-anchor="end">-15</text>
<text transform="translate(771.7 396.5) scale(0.99 1.05)" font-size="28" text-anchor="end">-10</text>
<text transform="translate(771.7 326.1) scale(0.99 1.05)" font-size="28" text-anchor="end">-5</text>
<text transform="translate(771.7 255.8) scale(0.99 1.05)" font-size="28" text-anchor="end">0</text>
<text transform="translate(771.7 185.4) scale(0.99 1.05)" font-size="28" text-anchor="end">5</text>
<text transform="translate(771.7 115) scale(0.99 1.05)" font-size="28" text-anchor="end">10</text>
<text transform="translate(771.7 44.7) scale(0.99 1.05)" font-size="28" text-anchor="end">15</text>
<text transform="translate(946.4 530) scale(1 1.015)" font-size="36.17"><tspan font-style="italic">H</tspan><tspan font-weight="normal" dx="4.30">−</tspan><tspan font-style="italic" dx="-1.37">H</tspan><tspan font-style="italic" font-size="23.95" dy="9.77">res</tspan><tspan dy="-9.77" dx="-1.17"> (Oe)</tspan></text>
<text transform="translate(715.3 331.8) rotate(-90) scale(1 1.015)"><tspan font-size="35.92" font-style="italic">V</tspan><tspan font-style="italic" font-size="23.78" dy="9.71">mixed</tspan><tspan font-size="35.92" dy="-9.71"> (<tspan font-size="35.92" font-family="'Liberation Serif',serif" font-style="normal">μ</tspan>V)</tspan></text>
<text transform="translate(692.3 31.9) scale(0.97 1.0)" font-size="42">b</text>
<path d="M1896.3 261.6L1895.1 272M1890 261.7L1889.4 272M1887.8 272L1887.5 270.1M1851 260.7L1850.2 242.2M1823.3 248.9L1822.5 244.4M1812.2 232.9L1811 222.6M1808.9 222.6L1808.8 223.2M1800.1 232.3L1800 233M1796.5 248.8L1796.5 248.9M1743.4 260.8L1742.9 257.9M1738 255L1737.4 259.3M1715.7 320.3L1714.2 331.5M1709.5 355.7L1707.7 378.1M1703.4 383.6L1703.1 388.5M1701.3 388.5L1701.1 387.2M1699.1 371.2L1698.6 365.5M1696.5 349.6L1696.4 348.8M1692 330L1691.1 324.8M1685.3 303.7L1684.5 299.2M1680.2 288.6L1679.3 283.3M1635.4 254.9L1634.7 269.4M1580.4 238.3L1580.1 236.8M1564.2 265.8L1564.1 266.8M1561.6 266.9L1560.3 259.4M1542 254.2L1541.9 254.9" stroke="#d3190e" stroke-width="3.0" fill="none" stroke-linecap="round"/>
<use href="#mr2" x="1905.4" y="238.8"/><use href="#mr2" x="1904" y="237.9"/><use href="#mr2" x="1900.5" y="251.5"/><use href="#mr2" x="1897.2" y="253.6"/><use href="#mr2" x="1894.2" y="280"/><use href="#mr2" x="1891.9" y="268.7"/><use href="#mr2" x="1890.5" y="253.6"/><use href="#mr2" x="1888.9" y="280"/><use href="#mr2" x="1886.3" y="262.1"/><use href="#mr2" x="1883.7" y="268.7"/><use href="#mr2" x="1881.4" y="256.8"/><use href="#mr2" x="1877.2" y="267.4"/><use href="#mr2" x="1873.8" y="258.2"/><use href="#mr2" x="1871.6" y="270.3"/><use href="#mr2" x="1867.9" y="275.5"/><use href="#mr2" x="1865.3" y="270.1"/><use href="#mr2" x="1862.6" y="262.6"/><use href="#mr2" x="1860.3" y="269.5"/><use href="#mr2" x="1857.4" y="267.4"/><use href="#mr2" x="1854.4" y="262.1"/><use href="#mr2" x="1851.4" y="268.7"/><use href="#mr2" x="1849.8" y="234.2"/><use href="#mr2" x="1846.5" y="246.2"/><use href="#mr2" x="1843" y="251.5"/><use href="#mr2" x="1839.3" y="264.2"/><use href="#mr2" x="1835.1" y="262.1"/><use href="#mr2" x="1831.6" y="256.8"/><use href="#mr2" x="1828.1" y="271.7"/><use href="#mr2" x="1824.6" y="256.8"/><use href="#mr2" x="1821.2" y="236.4"/><use href="#mr2" x="1819" y="240"/><use href="#mr2" x="1816.7" y="251.5"/><use href="#mr2" x="1813.2" y="240.9"/><use href="#mr2" x="1810" y="214.6"/><use href="#mr2" x="1807.7" y="231.1"/><use href="#mr2" x="1804.8" y="220.8"/><use href="#mr2" x="1801.8" y="224.4"/><use href="#mr2" x="1798.3" y="240.9"/><use href="#mr2" x="1794.8" y="256.8"/><use href="#mr2" x="1791.3" y="246.2"/><use href="#mr2" x="1787.4" y="255.2"/><use href="#mr2" x="1783.7" y="240.2"/><use href="#mr2" x="1781.1" y="246.7"/><use href="#mr2" x="1778.5" y="261.3"/><use href="#mr2" x="1776.2" y="249.2"/><use href="#mr2" x="1773.7" y="246.2"/><use href="#mr2" x="1770.2" y="253.6"/><use href="#mr2" x="1766.7" y="251.5"/><use href="#mr2" x="1763.2" y="259.4"/><use href="#mr2" x="1759.7" y="253.6"/><use href="#mr2" x="1757.4" y="262.2"/><use href="#mr2" x="1755.1" y="276.9"/><use href="#mr2" x="1752.2" y="265"/><use href="#mr2" x="1748.3" y="266.3"/><use href="#mr2" x="1744.6" y="268.7"/><use href="#mr2" x="1741.6" y="249.9"/><use href="#mr2" x="1739" y="247"/><use href="#mr2" x="1736.4" y="267.2"/><use href="#mr2" x="1733.4" y="276.3"/><use href="#mr2" x="1731.1" y="284.6"/><use href="#mr2" x="1728.1" y="299.6"/><use href="#mr2" x="1725.9" y="290.1"/><use href="#mr2" x="1723.6" y="286.1"/><use href="#mr2" x="1720.6" y="299.6"/><use href="#mr2" x="1716.8" y="312.3"/><use href="#mr2" x="1713.1" y="339.5"/><use href="#mr2" x="1710.1" y="347.7"/><use href="#mr2" x="1707.1" y="386.1"/><use href="#mr2" x="1704" y="375.5"/><use href="#mr2" x="1702.5" y="396.5"/><use href="#mr2" x="1699.9" y="379.2"/><use href="#mr2" x="1697.8" y="357.5"/><use href="#mr2" x="1695" y="340.9"/><use href="#mr2" x="1693.4" y="337.9"/><use href="#mr2" x="1689.7" y="316.8"/><use href="#mr2" x="1686.8" y="311.6"/><use href="#mr2" x="1683.1" y="291.2"/><use href="#mr2" x="1681.5" y="296.6"/><use href="#mr2" x="1678" y="275.4"/><use href="#mr2" x="1675.7" y="270"/><use href="#mr2" x="1673.4" y="278.5"/><use href="#mr2" x="1671.2" y="280.9"/><use href="#mr2" x="1668.9" y="275.4"/><use href="#mr2" x="1665.9" y="278"/><use href="#mr2" x="1662.9" y="283"/><use href="#mr2" x="1660.6" y="279.4"/><use href="#mr2" x="1658.4" y="272.7"/><use href="#mr2" x="1656.1" y="274.8"/><use href="#mr2" x="1653.8" y="266.3"/><use href="#mr2" x="1651.5" y="259.9"/><use href="#mr2" x="1649.2" y="260.5"/><use href="#mr2" x="1646.3" y="259.3"/><use href="#mr2" x="1643.3" y="246.9"/><use href="#mr2" x="1641" y="246.1"/><use href="#mr2" x="1638.7" y="254.4"/><use href="#mr2" x="1635.7" y="246.9"/><use href="#mr2" x="1634.3" y="277.5"/><use href="#mr2" x="1632.1" y="272.3"/><use href="#mr2" x="1629.8" y="264.8"/><use href="#mr2" x="1625.4" y="275.4"/><use href="#mr2" x="1622.4" y="262.1"/><use href="#mr2" x="1619.3" y="267.4"/><use href="#mr2" x="1616.7" y="263.2"/><use href="#mr2" x="1614.2" y="256.8"/><use href="#mr2" x="1611.5" y="267.6"/><use href="#mr2" x="1608.9" y="259.4"/><use href="#mr2" x="1606.6" y="255.3"/><use href="#mr2" x="1604.2" y="251.5"/><use href="#mr2" x="1601.9" y="247.6"/><use href="#mr2" x="1599.6" y="244.1"/><use href="#mr2" x="1595.8" y="251.5"/><use href="#mr2" x="1592.3" y="239.3"/><use href="#mr2" x="1588.8" y="248.9"/><use href="#mr2" x="1584.7" y="242.5"/><use href="#mr2" x="1581.7" y="246.2"/><use href="#mr2" x="1578.8" y="228.9"/><use href="#mr2" x="1576.5" y="239.3"/><use href="#mr2" x="1574.2" y="239.3"/><use href="#mr2" x="1571.8" y="241.5"/><use href="#mr2" x="1569.5" y="246.2"/><use href="#mr2" x="1565.3" y="257.9"/><use href="#mr2" x="1563" y="274.8"/><use href="#mr2" x="1558.9" y="251.5"/><use href="#mr2" x="1554.7" y="236.1"/><use href="#mr2" x="1551.1" y="238.2"/><use href="#mr2" x="1547.2" y="234"/><use href="#mr2" x="1543.2" y="246.2"/><use href="#mr2" x="1540.7" y="262.9"/><use href="#mr2" x="1538.3" y="260.5"/><use href="#mr2" x="1536" y="261.9"/><use href="#mr2" x="1533.7" y="270.1"/><use href="#mr2" x="1530" y="256.8"/><use href="#mr2" x="1527.4" y="245.9"/><use href="#mr2" x="1524.8" y="246.2"/><use href="#mr2" x="1521.3" y="256.8"/><use href="#mr2" x="1517.7" y="256.8"/><use href="#mr2" x="1515.2" y="265"/><use href="#mr2" x="1512.7" y="275.4"/><use href="#mr2" x="1509.5" y="271.1"/><use href="#mr2" x="1505.1" y="278.5"/><use href="#mr2" x="1502.1" y="266.3"/>
<polyline points="1502,252.3 1503.3,252.3 1504.7,252.4 1506,252.4 1507.4,252.4 1508.7,252.4 1510.1,252.4 1511.4,252.4 1512.8,252.4 1514.2,252.4 1515.5,252.5 1516.9,252.5 1518.2,252.5 1519.6,252.5 1520.9,252.5 1522.3,252.5 1523.6,252.5 1525,252.6 1526.3,252.6 1527.7,252.6 1529.1,252.6 1530.4,252.6 1531.8,252.6 1533.1,252.7 1534.5,252.7 1535.8,252.7 1537.2,252.7 1538.5,252.7 1539.9,252.8 1541.2,252.8 1542.6,252.8 1544,252.8 1545.3,252.8 1546.7,252.9 1548,252.9 1549.4,252.9 1550.7,252.9 1552.1,253 1553.4,253 1554.8,253 1556.1,253 1557.5,253.1 1558.9,253.1 1560.2,253.1 1561.6,253.2 1562.9,253.2 1564.3,253.2 1565.6,253.3 1567,253.3 1568.3,253.3 1569.7,253.4 1571.1,253.4 1572.4,253.4 1573.8,253.5 1575.1,253.5 1576.5,253.6 1577.8,253.6 1579.2,253.6 1580.5,253.7 1581.9,253.7 1583.2,253.8 1584.6,253.8 1586,253.9 1587.3,253.9 1588.7,254 1590,254.1 1591.4,254.1 1592.7,254.2 1594.1,254.3 1595.4,254.3 1596.8,254.4 1598.1,254.5 1599.5,254.5 1600.9,254.6 1602.2,254.7 1603.6,254.8 1604.9,254.9 1606.3,255 1607.6,255.1 1609,255.2 1610.3,255.3 1611.7,255.4 1613,255.5 1614.4,255.6 1615.8,255.7 1617.1,255.8 1618.5,256 1619.8,256.1 1621.2,256.3 1622.5,256.4 1623.9,256.6 1625.2,256.8 1626.6,256.9 1627.9,257.1 1629.3,257.3 1630.7,257.5 1632,257.7 1633.4,258 1634.7,258.2 1636.1,258.5 1637.4,258.7 1638.8,259 1640.1,259.3 1641.5,259.6 1642.8,260 1644.2,260.4 1645.6,260.7 1646.9,261.2 1648.3,261.6 1649.6,262.1 1651,262.6 1652.3,263.1 1653.7,263.7 1655,264.3 1656.4,265 1657.7,265.7 1659.1,266.5 1660.5,267.3 1661.8,268.2 1663.2,269.2 1664.5,270.3 1665.9,271.4 1667.2,272.7 1668.6,274.1 1669.9,275.6 1671.3,277.3 1672.6,279.1 1674,281.2 1675.4,283.4 1676.7,285.9 1678.1,288.6 1679.4,291.7 1680.8,295 1682.1,298.8 1683.5,303 1684.8,307.7 1686.2,312.8 1687.5,318.6 1688.9,325 1690.3,331.9 1691.6,339.6 1693,347.8 1694.3,356.4 1695.7,365.4 1697,374.5 1698.4,383.2 1699.7,391.1 1701.1,397.7 1702.4,402.4 1703.8,404.9 1705.2,404.9 1706.5,402.4 1707.9,397.7 1709.2,391.1 1710.6,383.2 1711.9,374.5 1713.3,365.4 1714.6,356.4 1716,347.8 1717.3,339.6 1718.7,331.9 1720.1,325 1721.4,318.6 1722.8,312.8 1724.1,307.7 1725.5,303 1726.8,298.8 1728.2,295 1729.5,291.7 1730.9,288.6 1732.2,285.9 1733.6,283.4 1735,281.2 1736.3,279.1 1737.7,277.3 1739,275.6 1740.4,274.1 1741.7,272.7 1743.1,271.4 1744.4,270.3 1745.8,269.2 1747.1,268.2 1748.5,267.3 1749.9,266.5 1751.2,265.7 1752.6,265 1753.9,264.3 1755.3,263.7 1756.6,263.1 1758,262.6 1759.3,262.1 1760.7,261.6 1762,261.2 1763.4,260.7 1764.8,260.4 1766.1,260 1767.5,259.6 1768.8,259.3 1770.2,259 1771.5,258.7 1772.9,258.5 1774.2,258.2 1775.6,258 1776.9,257.7 1778.3,257.5 1779.7,257.3 1781,257.1 1782.4,256.9 1783.7,256.8 1785.1,256.6 1786.4,256.4 1787.8,256.3 1789.1,256.1 1790.5,256 1791.8,255.8 1793.2,255.7 1794.6,255.6 1795.9,255.5 1797.3,255.4 1798.6,255.3 1800,255.2 1801.3,255.1 1802.7,255 1804,254.9 1805.4,254.8 1806.7,254.7 1808.1,254.6 1809.5,254.5 1810.8,254.5 1812.2,254.4 1813.5,254.3 1814.9,254.3 1816.2,254.2 1817.6,254.1 1818.9,254.1 1820.3,254 1821.6,253.9 1823,253.9 1824.4,253.8 1825.7,253.8 1827.1,253.7 1828.4,253.7 1829.8,253.6 1831.1,253.6 1832.5,253.6 1833.8,253.5 1835.2,253.5 1836.5,253.4 1837.9,253.4 1839.3,253.4 1840.6,253.3 1842,253.3 1843.3,253.3 1844.7,253.2 1846,253.2 1847.4,253.2 1848.7,253.1 1850.1,253.1 1851.4,253.1 1852.8,253 1854.2,253 1855.5,253 1856.9,253 1858.2,252.9 1859.6,252.9 1860.9,252.9 1862.3,252.9 1863.6,252.8 1865,252.8 1866.3,252.8 1867.7,252.8 1869.1,252.8 1870.4,252.7 1871.8,252.7 1873.1,252.7 1874.5,252.7 1875.8,252.7 1877.2,252.6 1878.5,252.6 1879.9,252.6 1881.2,252.6 1882.6,252.6 1884,252.6 1885.3,252.5 1886.7,252.5 1888,252.5 1889.4,252.5 1890.7,252.5 1892.1,252.5 1893.4,252.5 1894.8,252.4 1896.2,252.4 1897.5,252.4 1898.9,252.4 1900.2,252.4 1901.6,252.4 1902.9,252.4 1904.3,252.4 1905.6,252.3 1907,252.3" fill="none" stroke="#4db478" stroke-width="2.9" stroke-linecap="round" stroke-linejoin="round" stroke-dasharray="5 9.4"/>
<polyline points="1502,256.4 1503.3,256.4 1504.7,256.4 1506,256.5 1507.4,256.5 1508.7,256.5 1510.1,256.6 1511.4,256.6 1512.8,256.6 1514.2,256.7 1515.5,256.7 1516.9,256.7 1518.2,256.8 1519.6,256.8 1520.9,256.8 1522.3,256.9 1523.6,256.9 1525,256.9 1526.3,257 1527.7,257 1529.1,257.1 1530.4,257.1 1531.8,257.2 1533.1,257.2 1534.5,257.2 1535.8,257.3 1537.2,257.3 1538.5,257.4 1539.9,257.4 1541.2,257.5 1542.6,257.5 1544,257.6 1545.3,257.6 1546.7,257.6 1548,257.7 1549.4,257.7 1550.7,257.8 1552.1,257.8 1553.4,257.9 1554.8,258 1556.1,258 1557.5,258.1 1558.9,258.1 1560.2,258.2 1561.6,258.2 1562.9,258.3 1564.3,258.4 1565.6,258.4 1567,258.5 1568.3,258.5 1569.7,258.6 1571.1,258.7 1572.4,258.7 1573.8,258.8 1575.1,258.9 1576.5,258.9 1577.8,259 1579.2,259.1 1580.5,259.2 1581.9,259.2 1583.2,259.3 1584.6,259.4 1586,259.5 1587.3,259.5 1588.7,259.6 1590,259.7 1591.4,259.8 1592.7,259.9 1594.1,260 1595.4,260.1 1596.8,260.1 1598.1,260.2 1599.5,260.3 1600.9,260.4 1602.2,260.5 1603.6,260.6 1604.9,260.7 1606.3,260.8 1607.6,260.9 1609,261 1610.3,261.2 1611.7,261.3 1613,261.4 1614.4,261.5 1615.8,261.6 1617.1,261.7 1618.5,261.9 1619.8,262 1621.2,262.1 1622.5,262.2 1623.9,262.4 1625.2,262.5 1626.6,262.7 1627.9,262.8 1629.3,262.9 1630.7,263.1 1632,263.2 1633.4,263.4 1634.7,263.5 1636.1,263.7 1637.4,263.9 1638.8,264 1640.1,264.2 1641.5,264.3 1642.8,264.5 1644.2,264.7 1645.6,264.8 1646.9,265 1648.3,265.2 1649.6,265.4 1651,265.5 1652.3,265.7 1653.7,265.9 1655,266 1656.4,266.2 1657.7,266.4 1659.1,266.5 1660.5,266.7 1661.8,266.8 1663.2,266.9 1664.5,267 1665.9,267.1 1667.2,267.2 1668.6,267.3 1669.9,267.4 1671.3,267.4 1672.6,267.4 1674,267.4 1675.4,267.3 1676.7,267.2 1678.1,267.1 1679.4,266.9 1680.8,266.6 1682.1,266.3 1683.5,265.9 1684.8,265.5 1686.2,264.9 1687.5,264.4 1688.9,263.7 1690.3,262.9 1691.6,262.1 1693,261.1 1694.3,260.1 1695.7,259 1697,257.8 1698.4,256.6 1699.7,255.3 1701.1,254 1702.4,252.7 1703.8,251.3 1705.2,249.9 1706.5,248.6 1707.9,247.3 1709.2,246 1710.6,244.8 1711.9,243.7 1713.3,242.6 1714.6,241.6 1716,240.7 1717.3,239.9 1718.7,239.1 1720.1,238.5 1721.4,237.9 1722.8,237.4 1724.1,237 1725.5,236.6 1726.8,236.3 1728.2,236.1 1729.5,235.9 1730.9,235.8 1732.2,235.7 1733.6,235.6 1735,235.6 1736.3,235.6 1737.7,235.6 1739,235.7 1740.4,235.8 1741.7,235.9 1743.1,236 1744.4,236.1 1745.8,236.2 1747.1,236.4 1748.5,236.5 1749.9,236.7 1751.2,236.9 1752.6,237 1753.9,237.2 1755.3,237.4 1756.6,237.5 1758,237.7 1759.3,237.9 1760.7,238 1762,238.2 1763.4,238.4 1764.8,238.5 1766.1,238.7 1767.5,238.9 1768.8,239 1770.2,239.2 1771.5,239.3 1772.9,239.5 1774.2,239.7 1775.6,239.8 1776.9,240 1778.3,240.1 1779.7,240.2 1781,240.4 1782.4,240.5 1783.7,240.7 1785.1,240.8 1786.4,240.9 1787.8,241 1789.1,241.2 1790.5,241.3 1791.8,241.4 1793.2,241.5 1794.6,241.7 1795.9,241.8 1797.3,241.9 1798.6,242 1800,242.1 1801.3,242.2 1802.7,242.3 1804,242.4 1805.4,242.5 1806.7,242.6 1808.1,242.7 1809.5,242.8 1810.8,242.9 1812.2,243 1813.5,243.1 1814.9,243.2 1816.2,243.2 1817.6,243.3 1818.9,243.4 1820.3,243.5 1821.6,243.6 1823,243.6 1824.4,243.7 1825.7,243.8 1827.1,243.9 1828.4,243.9 1829.8,244 1831.1,244.1 1832.5,244.2 1833.8,244.2 1835.2,244.3 1836.5,244.4 1837.9,244.4 1839.3,244.5 1840.6,244.5 1842,244.6 1843.3,244.7 1844.7,244.7 1846,244.8 1847.4,244.8 1848.7,244.9 1850.1,245 1851.4,245 1852.8,245.1 1854.2,245.1 1855.5,245.2 1856.9,245.2 1858.2,245.3 1859.6,245.3 1860.9,245.4 1862.3,245.4 1863.6,245.5 1865,245.5 1866.3,245.6 1867.7,245.6 1869.1,245.6 1870.4,245.7 1871.8,245.7 1873.1,245.8 1874.5,245.8 1875.8,245.9 1877.2,245.9 1878.5,245.9 1879.9,246 1881.2,246 1882.6,246.1 1884,246.1 1885.3,246.1 1886.7,246.2 1888,246.2 1889.4,246.2 1890.7,246.3 1892.1,246.3 1893.4,246.4 1894.8,246.4 1896.2,246.4 1897.5,246.5 1898.9,246.5 1900.2,246.5 1901.6,246.6 1902.9,246.6 1904.3,246.6 1905.6,246.7 1907,246.7" fill="none" stroke="#000" stroke-width="2.9" stroke-linecap="round" stroke-linejoin="round" stroke-dasharray="5 9.4"/>
<path d="M1505.2 237.6L1505.6 240.4M1534.2 233.8L1534.3 234.5M1567.7 248.1L1568.7 256.2M1601.9 272.6L1602.2 268.5M1607 263.7L1607.5 261M1682.1 206.8L1682.1 206.8M1691.6 172.1L1692.1 169.3M1694.6 153.4L1695.2 147.7M1696.8 131.7L1698.3 115.4M1710.6 123.3L1710.8 124.8M1717.2 150.3L1717.9 155.4M1738.8 203L1739.6 207.6M1759.4 223.2L1760.7 214.6M1762.6 214.7L1764.4 240.4M1766.5 240.5L1767.1 237.7M1796.6 239.9L1797.9 250.9M1812.6 247.3L1812.7 247.4M1822.6 247.4L1823.7 254.1M1843.5 238.4L1844.9 247.3M1870.7 227.5L1871.6 219.9M1873.3 219.9L1874.5 230.8M1877.9 241.2L1879.8 224.9M1881.3 224.9L1882.3 238.2" stroke="#3f7fc1" stroke-width="3.0" fill="none" stroke-linecap="round"/>
<use href="#mb2" x="1480.2" y="276.2"/><use href="#mb2" x="1482.5" y="262.6"/><use href="#mb2" x="1485.5" y="265.7"/><use href="#mb2" x="1487.8" y="263.9"/><use href="#mb2" x="1490" y="254.4"/><use href="#mb2" x="1493.2" y="262.6"/><use href="#mb2" x="1496" y="248.4"/><use href="#mb2" x="1498.8" y="248.5"/><use href="#mb2" x="1501.5" y="237.1"/><use href="#mb2" x="1504.2" y="229.6"/><use href="#mb2" x="1506.5" y="248.4"/><use href="#mb2" x="1509.6" y="246.4"/><use href="#mb2" x="1512.7" y="248.4"/><use href="#mb2" x="1517" y="262.6"/><use href="#mb2" x="1519.3" y="251.6"/><use href="#mb2" x="1521.6" y="251.5"/><use href="#mb2" x="1524.6" y="240.1"/><use href="#mb2" x="1528.4" y="252.3"/><use href="#mb2" x="1530.8" y="238.5"/><use href="#mb2" x="1533.2" y="225.8"/><use href="#mb2" x="1535.3" y="242.5"/><use href="#mb2" x="1539.7" y="240.1"/><use href="#mb2" x="1543.3" y="254.4"/><use href="#mb2" x="1546.8" y="256.4"/><use href="#mb2" x="1550.2" y="253.1"/><use href="#mb2" x="1553.9" y="242.5"/><use href="#mb2" x="1557.3" y="255"/><use href="#mb2" x="1560.7" y="260"/><use href="#mb2" x="1563.7" y="246.5"/><use href="#mb2" x="1566.7" y="240.1"/><use href="#mb2" x="1569.6" y="264.2"/><use href="#mb2" x="1571.9" y="254.3"/><use href="#mb2" x="1574.2" y="260"/><use href="#mb2" x="1576.5" y="253.6"/><use href="#mb2" x="1578.8" y="249.9"/><use href="#mb2" x="1581.7" y="257.6"/><use href="#mb2" x="1584.7" y="253.6"/><use href="#mb2" x="1587" y="261.6"/><use href="#mb2" x="1589.3" y="260.5"/><use href="#mb2" x="1592.6" y="260"/><use href="#mb2" x="1595.9" y="274.7"/><use href="#mb2" x="1598.7" y="276.7"/><use href="#mb2" x="1601.4" y="280.6"/><use href="#mb2" x="1602.8" y="260.5"/><use href="#mb2" x="1605.8" y="271.6"/><use href="#mb2" x="1608.7" y="253.1"/><use href="#mb2" x="1611" y="264.3"/><use href="#mb2" x="1613.3" y="258.9"/><use href="#mb2" x="1617" y="243.3"/><use href="#mb2" x="1619.3" y="247"/><use href="#mb2" x="1621.5" y="249.9"/><use href="#mb2" x="1624.2" y="254.7"/><use href="#mb2" x="1626.8" y="248.4"/><use href="#mb2" x="1629.8" y="232.6"/><use href="#mb2" x="1632.4" y="233.7"/><use href="#mb2" x="1635" y="228.7"/><use href="#mb2" x="1638.7" y="235.6"/><use href="#mb2" x="1642.6" y="228.7"/><use href="#mb2" x="1646.3" y="237.7"/><use href="#mb2" x="1649.3" y="244.3"/><use href="#mb2" x="1652.4" y="246.2"/><use href="#mb2" x="1655.4" y="260.5"/><use href="#mb2" x="1657.7" y="255.9"/><use href="#mb2" x="1660.3" y="251.8"/><use href="#mb2" x="1662.9" y="240.9"/><use href="#mb2" x="1665.6" y="233.4"/><use href="#mb2" x="1668.2" y="231.1"/><use href="#mb2" x="1670.8" y="229.5"/><use href="#mb2" x="1673.4" y="227.4"/><use href="#mb2" x="1676.4" y="232.4"/><use href="#mb2" x="1678.7" y="225.1"/><use href="#mb2" x="1681" y="214.8"/><use href="#mb2" x="1683.3" y="198.8"/><use href="#mb2" x="1685.4" y="183.7"/><use href="#mb2" x="1687.6" y="179.9"/><use href="#mb2" x="1689.9" y="180"/><use href="#mb2" x="1693.8" y="161.4"/><use href="#mb2" x="1696.1" y="139.7"/><use href="#mb2" x="1699" y="107.3"/><use href="#mb2" x="1701.1" y="118.5"/><use href="#mb2" x="1703.6" y="106.3"/><use href="#mb2" x="1706.1" y="102"/><use href="#mb2" x="1709.6" y="115.3"/><use href="#mb2" x="1711.8" y="132.8"/><use href="#mb2" x="1716.2" y="142.3"/><use href="#mb2" x="1718.9" y="163.4"/><use href="#mb2" x="1721.5" y="168.8"/><use href="#mb2" x="1724.6" y="173.8"/><use href="#mb2" x="1727.6" y="176.2"/><use href="#mb2" x="1732" y="186.8"/><use href="#mb2" x="1735" y="190"/><use href="#mb2" x="1737.3" y="195.1"/><use href="#mb2" x="1741.1" y="215.5"/><use href="#mb2" x="1744.7" y="224.2"/><use href="#mb2" x="1748.3" y="223.7"/><use href="#mb2" x="1750.6" y="237.2"/><use href="#mb2" x="1753.6" y="241.7"/><use href="#mb2" x="1755.8" y="237.2"/><use href="#mb2" x="1758.1" y="231.1"/><use href="#mb2" x="1762" y="206.7"/><use href="#mb2" x="1765" y="248.4"/><use href="#mb2" x="1768.6" y="229.8"/><use href="#mb2" x="1771.6" y="234.2"/><use href="#mb2" x="1774.6" y="228.2"/><use href="#mb2" x="1776.9" y="235.8"/><use href="#mb2" x="1779.2" y="231.1"/><use href="#mb2" x="1781.4" y="226.2"/><use href="#mb2" x="1783.7" y="221.4"/><use href="#mb2" x="1786.4" y="234.3"/><use href="#mb2" x="1789" y="246.9"/><use href="#mb2" x="1790.4" y="239.5"/><use href="#mb2" x="1794.2" y="226.7"/><use href="#mb2" x="1795.6" y="231.9"/><use href="#mb2" x="1798.8" y="258.9"/><use href="#mb2" x="1801.4" y="260.8"/><use href="#mb2" x="1804.1" y="259.7"/><use href="#mb2" x="1807" y="249.2"/><use href="#mb2" x="1810.7" y="239.5"/><use href="#mb2" x="1814.6" y="255.2"/><use href="#mb2" x="1816" y="239.5"/><use href="#mb2" x="1818.6" y="244.5"/><use href="#mb2" x="1821.2" y="239.5"/><use href="#mb2" x="1825.1" y="262"/><use href="#mb2" x="1826.5" y="249.2"/><use href="#mb2" x="1829.5" y="255.2"/><use href="#mb2" x="1831.8" y="265"/><use href="#mb2" x="1834.7" y="251.5"/><use href="#mb2" x="1837.9" y="241.7"/><use href="#mb2" x="1842.3" y="230.4"/><use href="#mb2" x="1846.1" y="255.2"/><use href="#mb2" x="1850.5" y="246.2"/><use href="#mb2" x="1853.9" y="245.8"/><use href="#mb2" x="1857.4" y="241.7"/><use href="#mb2" x="1860" y="252.5"/><use href="#mb2" x="1862.6" y="252.9"/><use href="#mb2" x="1864.2" y="241.7"/><use href="#mb2" x="1867.2" y="246.2"/><use href="#mb2" x="1869.8" y="235.5"/><use href="#mb2" x="1872.4" y="211.9"/><use href="#mb2" x="1875.4" y="238.8"/><use href="#mb2" x="1877" y="249.2"/><use href="#mb2" x="1880.7" y="216.9"/><use href="#mb2" x="1883" y="246.2"/>
<polyline points="1479.2,250.8 1480.5,250.8 1481.9,250.8 1483.3,250.8 1484.6,250.8 1486,250.8 1487.3,250.8 1488.7,250.8 1490.1,250.8 1491.4,250.8 1492.8,250.8 1494.1,250.7 1495.5,250.7 1496.9,250.7 1498.2,250.7 1499.6,250.7 1500.9,250.7 1502.3,250.7 1503.7,250.7 1505,250.7 1506.4,250.6 1507.7,250.6 1509.1,250.6 1510.5,250.6 1511.8,250.6 1513.2,250.6 1514.5,250.6 1515.9,250.6 1517.3,250.5 1518.6,250.5 1520,250.5 1521.3,250.5 1522.7,250.5 1524.1,250.5 1525.4,250.5 1526.8,250.4 1528.1,250.4 1529.5,250.4 1530.9,250.4 1532.2,250.4 1533.6,250.4 1535,250.3 1536.3,250.3 1537.7,250.3 1539,250.3 1540.4,250.3 1541.8,250.2 1543.1,250.2 1544.5,250.2 1545.8,250.2 1547.2,250.2 1548.6,250.1 1549.9,250.1 1551.3,250.1 1552.6,250.1 1554,250 1555.4,250 1556.7,250 1558.1,250 1559.4,249.9 1560.8,249.9 1562.2,249.9 1563.5,249.8 1564.9,249.8 1566.2,249.8 1567.6,249.7 1569,249.7 1570.3,249.7 1571.7,249.6 1573,249.6 1574.4,249.5 1575.8,249.5 1577.1,249.5 1578.5,249.4 1579.8,249.4 1581.2,249.3 1582.6,249.3 1583.9,249.2 1585.3,249.2 1586.6,249.1 1588,249.1 1589.4,249 1590.7,249 1592.1,248.9 1593.5,248.8 1594.8,248.8 1596.2,248.7 1597.5,248.6 1598.9,248.5 1600.3,248.5 1601.6,248.4 1603,248.3 1604.3,248.2 1605.7,248.1 1607.1,248 1608.4,247.9 1609.8,247.8 1611.1,247.7 1612.5,247.6 1613.9,247.5 1615.2,247.4 1616.6,247.3 1617.9,247.1 1619.3,247 1620.7,246.9 1622,246.7 1623.4,246.6 1624.7,246.4 1626.1,246.2 1627.5,246 1628.8,245.9 1630.2,245.7 1631.5,245.4 1632.9,245.2 1634.3,245 1635.6,244.7 1637,244.5 1638.3,244.2 1639.7,243.9 1641.1,243.6 1642.4,243.3 1643.8,242.9 1645.1,242.5 1646.5,242.1 1647.9,241.7 1649.2,241.3 1650.6,240.8 1651.9,240.2 1653.3,239.7 1654.7,239.1 1656,238.4 1657.4,237.7 1658.8,237 1660.1,236.2 1661.5,235.3 1662.8,234.4 1664.2,233.3 1665.6,232.2 1666.9,231 1668.3,229.6 1669.6,228.1 1671,226.5 1672.4,224.7 1673.7,222.8 1675.1,220.6 1676.4,218.2 1677.8,215.6 1679.2,212.6 1680.5,209.4 1681.9,205.7 1683.2,201.7 1684.6,197.1 1686,192.1 1687.3,186.5 1688.7,180.4 1690,173.6 1691.4,166.1 1692.8,158.1 1694.1,149.6 1695.5,140.8 1696.8,131.8 1698.2,123.2 1699.6,115.2 1700.9,108.6 1702.3,103.6 1703.6,100.9 1705,100.6 1706.4,102.8 1707.7,107.3 1709.1,113.7 1710.4,121.4 1711.8,129.9 1713.2,138.8 1714.5,147.7 1715.9,156.3 1717.3,164.4 1718.6,172 1720,178.9 1721.3,185.2 1722.7,190.9 1724.1,196.1 1725.4,200.7 1726.8,204.9 1728.1,208.6 1729.5,211.9 1730.9,215 1732.2,217.7 1733.6,220.1 1734.9,222.3 1736.3,224.3 1737.7,226.1 1739,227.8 1740.4,229.3 1741.7,230.7 1743.1,231.9 1744.5,233.1 1745.8,234.1 1747.2,235.1 1748.5,236 1749.9,236.8 1751.3,237.6 1752.6,238.3 1754,238.9 1755.3,239.6 1756.7,240.1 1758.1,240.7 1759.4,241.1 1760.8,241.6 1762.1,242 1763.5,242.4 1764.9,242.8 1766.2,243.2 1767.6,243.5 1768.9,243.8 1770.3,244.1 1771.7,244.4 1773,244.7 1774.4,244.9 1775.8,245.2 1777.1,245.4 1778.5,245.6 1779.8,245.8 1781.2,246 1782.6,246.2 1783.9,246.4 1785.3,246.5 1786.6,246.7 1788,246.8 1789.4,247 1790.7,247.1 1792.1,247.3 1793.4,247.4 1794.8,247.5 1796.2,247.6 1797.5,247.7 1798.9,247.8 1800.2,247.9 1801.6,248 1803,248.1 1804.3,248.2 1805.7,248.3 1807,248.4 1808.4,248.5 1809.8,248.5 1811.1,248.6 1812.5,248.7 1813.8,248.7 1815.2,248.8 1816.6,248.9 1817.9,248.9 1819.3,249 1820.6,249.1 1822,249.1 1823.4,249.2 1824.7,249.2 1826.1,249.3 1827.4,249.3 1828.8,249.4 1830.2,249.4 1831.5,249.4 1832.9,249.5 1834.2,249.5 1835.6,249.6 1837,249.6 1838.3,249.7 1839.7,249.7 1841.1,249.7 1842.4,249.8 1843.8,249.8 1845.1,249.8 1846.5,249.9 1847.9,249.9 1849.2,249.9 1850.6,249.9 1851.9,250 1853.3,250 1854.7,250 1856,250.1 1857.4,250.1 1858.7,250.1 1860.1,250.1 1861.5,250.2 1862.8,250.2 1864.2,250.2 1865.5,250.2 1866.9,250.2 1868.3,250.3 1869.6,250.3 1871,250.3 1872.3,250.3 1873.7,250.3 1875.1,250.4 1876.4,250.4 1877.8,250.4 1879.1,250.4 1880.5,250.4 1881.9,250.4 1883.2,250.5 1884.6,250.5 1885.9,250.5" fill="none" stroke="#4db478" stroke-width="2.9" stroke-linecap="round" stroke-linejoin="round" stroke-dasharray="5 9.4"/>
<path d="M1469.2 88.7H1493M1502.9 88.7H1526.7" stroke="#d3190e" stroke-width="3.3" stroke-linecap="round" fill="none"/>
<use href="#lr" x="1498" y="88.7"/>
<path d="M1469.2 124H1493M1502.9 124H1526.7" stroke="#3f7fc1" stroke-width="3.3" stroke-linecap="round" fill="none"/>
<use href="#lb" x="1498" y="124"/>
<text transform="translate(1534.5 97.7) scale(0.99 1.045)" font-size="26.5">+ <tspan font-style="italic">H</tspan></text>
<text transform="translate(1535.5 133) scale(0.99 1.045)" font-size="26.5"><tspan font-weight="normal">−</tspan><tspan font-style="italic" dx="1.5">H</tspan></text>
<path d="M1469.2 156.5H1527.6" stroke="#4db478" stroke-width="3.3" stroke-linecap="round" stroke-dasharray="4.6 9.8" fill="none"/>
<path d="M1469.2 193.3H1527.6" stroke="#000" stroke-width="3.3" stroke-linecap="round" stroke-dasharray="4.6 9.8" fill="none"/>
<text transform="translate(1542.5 165.7) scale(0.99 1.045)" font-size="26.5" font-style="italic">V<tspan font-size="17.5" dy="6.8" dx="-1.2">S</tspan></text>
<text transform="translate(1542.5 202.3) scale(0.99 1.045)" font-size="26.5" font-style="italic">V<tspan font-size="17.5" dy="6.8" dx="-1.2">AS</tspan></text>
<rect x="1811.5" y="301.5" width="139.5" height="49" fill="#eebf2d"/>
<rect x="1811.5" y="350.2" width="139.5" height="48.4" fill="#3e7cc6"/>
<rect x="1811.5" y="398.3" width="139.5" height="47.7" fill="#c81e10"/>
<text transform="translate(1881.2 339.8) scale(0.99 1.045)" font-size="38" font-weight="normal" fill="#fff" text-anchor="middle">Au</text>
<text transform="translate(1881.2 387.9) scale(0.99 1.045)" font-size="38" font-weight="normal" fill="#fff" text-anchor="middle">PVEO</text>
<text transform="translate(1881.2 435.6) scale(0.99 1.045)" font-size="38" font-weight="normal" fill="#fff" text-anchor="middle">NiFe</text>
<rect x="1440.6" y="39.5" width="526" height="424" fill="none" stroke="#000" stroke-width="2.7"/>
<path d="M1528.3 463.5v-7.9M1528.3 39.5v7.9M1615.9 463.5v-7.9M1615.9 39.5v7.9M1703.6 463.5v-7.9M1703.6 39.5v7.9M1791.3 463.5v-7.9M1791.3 39.5v7.9M1878.9 463.5v-7.9M1878.9 39.5v7.9M1440.6 357.5h7.9M1966.6 357.5h-7.9M1440.6 251.5h7.9M1966.6 251.5h-7.9M1440.6 145.5h7.9M1966.6 145.5h-7.9" stroke="#000" stroke-width="3.0" fill="none"/>
<text transform="translate(1440.2 494.2) scale(0.99 1.05)" font-size="28" text-anchor="middle">−150</text>
<text transform="translate(1527.9 494.2) scale(0.99 1.05)" font-size="28" text-anchor="middle">−100</text>
<text transform="translate(1615.5 494.2) scale(0.99 1.05)" font-size="28" text-anchor="middle">−50</text>
<text transform="translate(1703.2 494.2) scale(0.99 1.05)" font-size="28" text-anchor="middle">0</text>
<text transform="translate(1790.9 494.2) scale(0.99 1.05)" font-size="28" text-anchor="middle">50</text>
<text transform="translate(1878.5 494.2) scale(0.99 1.05)" font-size="28" text-anchor="middle">100</text>
<text transform="translate(1966.2 494.2) scale(0.99 1.05)" font-size="28" text-anchor="middle">150</text>
<text transform="translate(1431.2 472) scale(0.99 1.05)" font-size="28" text-anchor="end">−4</text>
<text transform="translate(1431.2 366) scale(0.99 1.05)" font-size="28" text-anchor="end">−2</text>
<text transform="translate(1431.2 260) scale(0.99 1.05)" font-size="28" text-anchor="end">0</text>
<text transform="translate(1431.2 154) scale(0.99 1.05)" font-size="28" text-anchor="end">2</text>
<text transform="translate(1431.2 48) scale(0.99 1.05)" font-size="28" text-anchor="end">4</text>
<text transform="translate(1616.7 535) scale(1 1.015)" font-size="36.43"><tspan font-style="italic">H</tspan><tspan font-weight="normal" dx="4.33">−</tspan><tspan font-style="italic" dx="-1.38">H</tspan><tspan font-style="italic" font-size="24.12" dy="9.85">res</tspan><tspan dy="-9.85" dx="-1.18"> (Oe)</tspan></text>
<text transform="translate(1381.2 336.6) rotate(-90) scale(1 1.015)"><tspan font-size="36.07" font-style="italic">V</tspan><tspan font-style="italic" font-size="23.88" dy="9.75">mixed</tspan><tspan font-size="36.07" dy="-9.75"> (<tspan font-size="36.07" font-family="'Liberation Serif',serif" font-style="normal">μ</tspan>V)</tspan></text>
<text transform="translate(1365 31.9) scale(0.97 1.0)" font-size="42">c</text>
<g clip-path="url(#cd)">
<path d="M401.2 849.1L400.2 853.4M397.3 869.3L396.4 876.2M394.1 892.1L392 906.5M386.7 937L384.3 953M381.5 968.8L380.8 972M366.9 976.2L366.2 972.7M360.4 949.5L358.1 928.2M352.9 903.1L351.4 893.9" stroke="#d3190e" stroke-width="3.0" fill="none" stroke-linecap="round"/>
<use href="#mr2" x="638.2" y="804.4"/><use href="#mr2" x="632.9" y="810.1"/><use href="#mr2" x="629.2" y="797.6"/><use href="#mr2" x="626.2" y="797.5"/><use href="#mr2" x="623.1" y="806.7"/><use href="#mr2" x="619.2" y="800.6"/><use href="#mr2" x="615.5" y="794.8"/><use href="#mr2" x="610.2" y="795.1"/><use href="#mr2" x="604.9" y="789.8"/><use href="#mr2" x="601.3" y="792.5"/><use href="#mr2" x="597.6" y="789.6"/><use href="#mr2" x="594.5" y="795.5"/><use href="#mr2" x="591.5" y="794.9"/><use href="#mr2" x="588.5" y="795.6"/><use href="#mr2" x="585.4" y="798.3"/><use href="#mr2" x="580.2" y="797.8"/><use href="#mr2" x="574.9" y="796.3"/><use href="#mr2" x="569.9" y="797.8"/><use href="#mr2" x="565.1" y="799"/><use href="#mr2" x="561.4" y="805.5"/><use href="#mr2" x="556.9" y="816"/><use href="#mr2" x="553.8" y="823.8"/><use href="#mr2" x="549.3" y="824"/><use href="#mr2" x="546.4" y="812"/><use href="#mr2" x="542.7" y="812.1"/><use href="#mr2" x="539" y="814.7"/><use href="#mr2" x="535.3" y="809.6"/><use href="#mr2" x="531.4" y="804.5"/><use href="#mr2" x="528.3" y="814.6"/><use href="#mr2" x="525.3" y="813.5"/><use href="#mr2" x="522.4" y="824.3"/><use href="#mr2" x="519" y="820"/><use href="#mr2" x="515.5" y="812.8"/><use href="#mr2" x="510.3" y="808.2"/><use href="#mr2" x="506.3" y="810.7"/><use href="#mr2" x="502.1" y="817"/><use href="#mr2" x="497.6" y="811.8"/><use href="#mr2" x="493.1" y="812.7"/><use href="#mr2" x="489.7" y="811.4"/><use href="#mr2" x="486.3" y="808.7"/><use href="#mr2" x="483.2" y="808.2"/><use href="#mr2" x="480.2" y="797"/><use href="#mr2" x="476" y="805.7"/><use href="#mr2" x="471.2" y="810.7"/><use href="#mr2" x="468.2" y="809.6"/><use href="#mr2" x="465.2" y="803.5"/><use href="#mr2" x="459.9" y="807"/><use href="#mr2" x="454.6" y="806.3"/><use href="#mr2" x="450.1" y="811.9"/><use href="#mr2" x="447.2" y="798.9"/><use href="#mr2" x="442.7" y="810"/><use href="#mr2" x="439.1" y="803.8"/><use href="#mr2" x="434.8" y="808.2"/><use href="#mr2" x="430.6" y="813.8"/><use href="#mr2" x="426.9" y="818.1"/><use href="#mr2" x="423.2" y="803.1"/><use href="#mr2" x="418.7" y="816.6"/><use href="#mr2" x="414.8" y="822.6"/><use href="#mr2" x="410.3" y="830"/><use href="#mr2" x="406.6" y="834"/><use href="#mr2" x="402.9" y="841.2"/><use href="#mr2" x="398.4" y="861.3"/><use href="#mr2" x="395.3" y="884.2"/><use href="#mr2" x="390.8" y="914.5"/><use href="#mr2" x="387.9" y="929"/><use href="#mr2" x="383.1" y="960.9"/><use href="#mr2" x="379.2" y="979.8"/><use href="#mr2" x="375.8" y="981.9"/><use href="#mr2" x="371.8" y="986.1"/><use href="#mr2" x="368.4" y="984.1"/><use href="#mr2" x="364.7" y="964.8"/><use href="#mr2" x="361.2" y="957.5"/><use href="#mr2" x="357.3" y="920.2"/><use href="#mr2" x="354.1" y="911"/><use href="#mr2" x="350.2" y="886"/><use href="#mr2" x="346.7" y="871.8"/><use href="#mr2" x="343.6" y="859.2"/><use href="#mr2" x="340.1" y="857.3"/><use href="#mr2" x="336.2" y="851.6"/><use href="#mr2" x="332.2" y="849"/><use href="#mr2" x="328.3" y="846.3"/><use href="#mr2" x="324.3" y="842.5"/><use href="#mr2" x="320.4" y="835"/><use href="#mr2" x="316.4" y="837.9"/><use href="#mr2" x="312.4" y="831.1"/><use href="#mr2" x="308.5" y="836.4"/><use href="#mr2" x="304.5" y="831.3"/><use href="#mr2" x="300.6" y="820.7"/><use href="#mr2" x="295.3" y="824.5"/><use href="#mr2" x="292" y="817.2"/><use href="#mr2" x="288.7" y="815.6"/><use href="#mr2" x="285.4" y="813.3"/><use href="#mr2" x="282.1" y="810.5"/><use href="#mr2" x="278.8" y="805"/><use href="#mr2" x="275.5" y="803.9"/><use href="#mr2" x="272.2" y="806.6"/><use href="#mr2" x="268.9" y="807.5"/><use href="#mr2" x="265.6" y="808"/><use href="#mr2" x="262.3" y="810.7"/><use href="#mr2" x="259" y="809.9"/><use href="#mr2" x="255.7" y="818.4"/><use href="#mr2" x="250.5" y="815.5"/><use href="#mr2" x="247.2" y="811.9"/><use href="#mr2" x="243.9" y="809.4"/><use href="#mr2" x="239.9" y="808.2"/><use href="#mr2" x="236" y="811"/><use href="#mr2" x="232" y="807.9"/><use href="#mr2" x="228.1" y="806.1"/><use href="#mr2" x="224.8" y="799.6"/><use href="#mr2" x="221.5" y="799.1"/><use href="#mr2" x="218.2" y="804.7"/><use href="#mr2" x="214.9" y="809"/><use href="#mr2" x="210.9" y="810.7"/><use href="#mr2" x="206.9" y="803.1"/><use href="#mr2" x="203.7" y="800.3"/><use href="#mr2" x="200.4" y="799"/><use href="#mr2" x="197.1" y="803.1"/><use href="#mr2" x="193.8" y="802.9"/><use href="#mr2" x="189.8" y="808.3"/><use href="#mr2" x="185.9" y="808.9"/><use href="#mr2" x="181.9" y="809.6"/><use href="#mr2" x="177.9" y="810.6"/><use href="#mr2" x="174" y="808.1"/><use href="#mr2" x="170" y="806.7"/><use href="#mr2" x="166.7" y="803.5"/><use href="#mr2" x="163.4" y="800"/><use href="#mr2" x="160.1" y="806.7"/><use href="#mr2" x="156.8" y="813.2"/><use href="#mr2" x="153.5" y="815.4"/><use href="#mr2" x="150.2" y="814.3"/><use href="#mr2" x="145" y="814.3"/><use href="#mr2" x="141.7" y="811.9"/><use href="#mr2" x="138.4" y="808.3"/><use href="#mr2" x="134.4" y="808.9"/><use href="#mr2" x="130.5" y="810.8"/><use href="#mr2" x="127.2" y="804.4"/><use href="#mr2" x="123.9" y="805.8"/><use href="#mr2" x="120.6" y="807.2"/><use href="#mr2" x="117.3" y="809.1"/><use href="#mr2" x="114" y="807.6"/><use href="#mr2" x="110.7" y="804.5"/>
<polyline points="112,802.9 113.8,803 115.5,803 117.3,803 119.1,803 120.8,803 122.6,803 124.3,803 126.1,803.1 127.9,803.1 129.6,803.1 131.4,803.1 133.2,803.1 134.9,803.1 136.7,803.2 138.5,803.2 140.2,803.2 142,803.2 143.8,803.2 145.5,803.2 147.3,803.3 149,803.3 150.8,803.3 152.6,803.3 154.3,803.3 156.1,803.4 157.9,803.4 159.6,803.4 161.4,803.4 163.2,803.5 164.9,803.5 166.7,803.5 168.5,803.5 170.2,803.6 172,803.6 173.7,803.6 175.5,803.7 177.3,803.7 179,803.7 180.8,803.8 182.6,803.8 184.3,803.8 186.1,803.9 187.9,803.9 189.6,803.9 191.4,804 193.2,804 194.9,804 196.7,804.1 198.4,804.1 200.2,804.2 202,804.2 203.7,804.3 205.5,804.3 207.3,804.4 209,804.4 210.8,804.5 212.6,804.5 214.3,804.6 216.1,804.6 217.9,804.7 219.6,804.7 221.4,804.8 223.1,804.9 224.9,804.9 226.7,805 228.4,805.1 230.2,805.2 232,805.2 233.7,805.3 235.5,805.4 237.3,805.5 239,805.6 240.8,805.7 242.6,805.8 244.3,805.9 246.1,806 247.8,806.1 249.6,806.2 251.4,806.3 253.1,806.5 254.9,806.6 256.7,806.7 258.4,806.9 260.2,807 262,807.2 263.7,807.3 265.5,807.5 267.3,807.7 269,807.9 270.8,808.1 272.5,808.3 274.3,808.5 276.1,808.7 277.8,808.9 279.6,809.2 281.4,809.4 283.1,809.7 284.9,810 286.7,810.3 288.4,810.7 290.2,811 291.9,811.4 293.7,811.8 295.5,812.2 297.2,812.6 299,813.1 300.8,813.6 302.5,814.1 304.3,814.7 306.1,815.3 307.8,816 309.6,816.7 311.4,817.4 313.1,818.3 314.9,819.1 316.6,820.1 318.4,821.1 320.2,822.2 321.9,823.4 323.7,824.8 325.5,826.2 327.2,827.8 329,829.5 330.8,831.4 332.5,833.4 334.3,835.7 336.1,838.2 337.8,841 339.6,844 341.3,847.4 343.1,851.2 344.9,855.4 346.6,860.1 348.4,865.3 350.2,871.1 351.9,877.6 353.7,884.7 355.5,892.6 357.2,901.2 359,910.5 360.8,920.5 362.5,931 364.3,941.8 366,952.4 367.8,962.4 369.6,971.2 371.3,978.1 373.1,982.6 374.9,984.2 376.6,982.9 378.4,978.6 380.2,972 381.9,963.4 383.7,953.5 385.5,942.9 387.2,932.1 389,921.6 390.7,911.5 392.5,902.1 394.3,893.4 396,885.5 397.8,878.3 399.6,871.7 401.3,865.9 403.1,860.6 404.9,855.9 406.6,851.6 408.4,847.8 410.2,844.4 411.9,841.3 413.7,838.5 415.4,835.9 417.2,833.6 419,831.6 420.7,829.7 422.5,827.9 424.3,826.4 426,824.9 427.8,823.6 429.6,822.4 431.3,821.2 433.1,820.2 434.9,819.2 436.6,818.3 438.4,817.5 440.1,816.8 441.9,816.1 443.7,815.4 445.4,814.8 447.2,814.2 449,813.7 450.7,813.1 452.5,812.7 454.3,812.2 456,811.8 457.8,811.4 459.6,811 461.3,810.7 463.1,810.4 464.8,810.1 466.6,809.8 468.4,809.5 470.1,809.2 471.9,809 473.7,808.7 475.4,808.5 477.2,808.3 479,808.1 480.7,807.9 482.5,807.7 484.2,807.5 486,807.3 487.8,807.2 489.5,807 491.3,806.9 493.1,806.7 494.8,806.6 496.6,806.5 498.4,806.3 500.1,806.2 501.9,806.1 503.7,806 505.4,805.9 507.2,805.8 508.9,805.7 510.7,805.6 512.5,805.5 514.2,805.4 516,805.3 517.8,805.2 519.5,805.2 521.3,805.1 523.1,805 524.8,805 526.6,804.9 528.4,804.8 530.1,804.8 531.9,804.7 533.6,804.6 535.4,804.6 537.2,804.5 538.9,804.5 540.7,804.4 542.5,804.4 544.2,804.3 546,804.3 547.8,804.2 549.5,804.2 551.3,804.1 553.1,804.1 554.8,804 556.6,804 558.3,804 560.1,803.9 561.9,803.9 563.6,803.9 565.4,803.8 567.2,803.8 568.9,803.8 570.7,803.7 572.5,803.7 574.2,803.7 576,803.6 577.8,803.6 579.5,803.6 581.3,803.5 583,803.5 584.8,803.5 586.6,803.5 588.3,803.4 590.1,803.4 591.9,803.4 593.6,803.4 595.4,803.4 597.2,803.3 598.9,803.3 600.7,803.3 602.5,803.3 604.2,803.2 606,803.2 607.7,803.2 609.5,803.2 611.3,803.2 613,803.2 614.8,803.1 616.6,803.1 618.3,803.1 620.1,803.1 621.9,803.1 623.6,803.1 625.4,803 627.2,803 628.9,803 630.7,803 632.4,803 634.2,803 636,803 637.7,802.9 639.5,802.9" fill="none" stroke="#4db478" stroke-width="2.9" stroke-linecap="round" stroke-linejoin="round" stroke-dasharray="5 9.4"/>
<polyline points="112,807.8 113.8,807.8 115.5,807.9 117.3,807.9 119.1,807.9 120.8,808 122.6,808 124.3,808.1 126.1,808.1 127.9,808.1 129.6,808.2 131.4,808.2 133.2,808.3 134.9,808.3 136.7,808.4 138.5,808.4 140.2,808.5 142,808.5 143.8,808.5 145.5,808.6 147.3,808.6 149,808.7 150.8,808.7 152.6,808.8 154.3,808.8 156.1,808.9 157.9,808.9 159.6,809 161.4,809.1 163.2,809.1 164.9,809.2 166.7,809.2 168.5,809.3 170.2,809.3 172,809.4 173.7,809.5 175.5,809.5 177.3,809.6 179,809.7 180.8,809.7 182.6,809.8 184.3,809.9 186.1,809.9 187.9,810 189.6,810.1 191.4,810.1 193.2,810.2 194.9,810.3 196.7,810.4 198.4,810.4 200.2,810.5 202,810.6 203.7,810.7 205.5,810.8 207.3,810.8 209,810.9 210.8,811 212.6,811.1 214.3,811.2 216.1,811.3 217.9,811.4 219.6,811.5 221.4,811.6 223.1,811.7 224.9,811.8 226.7,811.9 228.4,812 230.2,812.1 232,812.2 233.7,812.3 235.5,812.4 237.3,812.5 239,812.6 240.8,812.8 242.6,812.9 244.3,813 246.1,813.1 247.8,813.3 249.6,813.4 251.4,813.5 253.1,813.7 254.9,813.8 256.7,814 258.4,814.1 260.2,814.3 262,814.4 263.7,814.6 265.5,814.7 267.3,814.9 269,815.1 270.8,815.2 272.5,815.4 274.3,815.6 276.1,815.8 277.8,816 279.6,816.2 281.4,816.4 283.1,816.6 284.9,816.8 286.7,817 288.4,817.2 290.2,817.4 291.9,817.6 293.7,817.9 295.5,818.1 297.2,818.3 299,818.5 300.8,818.8 302.5,819 304.3,819.3 306.1,819.5 307.8,819.8 309.6,820 311.4,820.3 313.1,820.5 314.9,820.8 316.6,821 318.4,821.3 320.2,821.5 321.9,821.8 323.7,822 325.5,822.2 327.2,822.4 329,822.6 330.8,822.8 332.5,822.9 334.3,823 336.1,823.1 337.8,823.2 339.6,823.2 341.3,823.1 343.1,823 344.9,822.9 346.6,822.6 348.4,822.3 350.2,821.8 351.9,821.3 353.7,820.7 355.5,819.9 357.2,819 359,817.9 360.8,816.8 362.5,815.4 364.3,814 366,812.4 367.8,810.7 369.6,808.9 371.3,807 373.1,805 374.9,803 376.6,800.9 378.4,798.9 380.2,796.9 381.9,795 383.7,793.2 385.5,791.5 387.2,789.9 389,788.5 390.7,787.1 392.5,786 394.3,784.9 396,784 397.8,783.3 399.6,782.6 401.3,782.1 403.1,781.6 404.9,781.3 406.6,781 408.4,780.9 410.2,780.8 411.9,780.7 413.7,780.7 415.4,780.8 417.2,780.9 419,781 420.7,781.1 422.5,781.3 424.3,781.5 426,781.7 427.8,781.9 429.6,782.1 431.3,782.4 433.1,782.6 434.9,782.9 436.6,783.1 438.4,783.4 440.1,783.6 441.9,783.9 443.7,784.1 445.4,784.4 447.2,784.6 449,784.9 450.7,785.1 452.5,785.4 454.3,785.6 456,785.8 457.8,786.1 459.6,786.3 461.3,786.5 463.1,786.7 464.8,786.9 466.6,787.1 468.4,787.3 470.1,787.5 471.9,787.7 473.7,787.9 475.4,788.1 477.2,788.3 479,788.5 480.7,788.7 482.5,788.8 484.2,789 486,789.2 487.8,789.3 489.5,789.5 491.3,789.6 493.1,789.8 494.8,789.9 496.6,790.1 498.4,790.2 500.1,790.4 501.9,790.5 503.7,790.6 505.4,790.8 507.2,790.9 508.9,791 510.7,791.1 512.5,791.3 514.2,791.4 516,791.5 517.8,791.6 519.5,791.7 521.3,791.8 523.1,791.9 524.8,792 526.6,792.1 528.4,792.2 530.1,792.3 531.9,792.4 533.6,792.5 535.4,792.6 537.2,792.7 538.9,792.8 540.7,792.9 542.5,793 544.2,793.1 546,793.2 547.8,793.2 549.5,793.3 551.3,793.4 553.1,793.5 554.8,793.5 556.6,793.6 558.3,793.7 560.1,793.8 561.9,793.8 563.6,793.9 565.4,794 567.2,794.1 568.9,794.1 570.7,794.2 572.5,794.2 574.2,794.3 576,794.4 577.8,794.4 579.5,794.5 581.3,794.6 583,794.6 584.8,794.7 586.6,794.7 588.3,794.8 590.1,794.8 591.9,794.9 593.6,795 595.4,795 597.2,795.1 598.9,795.1 600.7,795.2 602.5,795.2 604.2,795.3 606,795.3 607.7,795.4 609.5,795.4 611.3,795.5 613,795.5 614.8,795.5 616.6,795.6 618.3,795.6 620.1,795.7 621.9,795.7 623.6,795.8 625.4,795.8 627.2,795.8 628.9,795.9 630.7,795.9 632.4,796 634.2,796 636,796 637.7,796.1 639.5,796.1" fill="none" stroke="#000" stroke-width="2.9" stroke-linecap="round" stroke-linejoin="round" stroke-dasharray="5 9.4"/>
<path d="M315 794.7L315.2 793.4M330.4 796.9L332.2 785.7M342.7 753.4L342.9 752.5M354.6 707.1L355.5 700.7M357.8 684.7L359.5 671.1M362.1 655.2L362.8 651.9M370.7 621.3L371.5 617.4M382.5 629.6L383.7 640M389.3 660.6L392 683.6M394.3 699.5L395.5 706.7M397.7 722.6L398.9 733M445 760.7L446.6 752.3M448.8 752.4L450.9 774.8" stroke="#3f7fc1" stroke-width="3.0" fill="none" stroke-linecap="round"/>
<use href="#mb2" x="110.7" y="804.7"/><use href="#mb2" x="114.1" y="800.3"/><use href="#mb2" x="119.4" y="810.5"/><use href="#mb2" x="122.3" y="808.5"/><use href="#mb2" x="125.2" y="802.5"/><use href="#mb2" x="128.2" y="800.6"/><use href="#mb2" x="131.3" y="793.7"/><use href="#mb2" x="134.8" y="795.5"/><use href="#mb2" x="138.4" y="805.2"/><use href="#mb2" x="142.3" y="805"/><use href="#mb2" x="146.3" y="801.4"/><use href="#mb2" x="149.5" y="803.5"/><use href="#mb2" x="152.8" y="806.7"/><use href="#mb2" x="156" y="810.5"/><use href="#mb2" x="159.9" y="803.7"/><use href="#mb2" x="163.7" y="797.1"/><use href="#mb2" x="168.2" y="805.6"/><use href="#mb2" x="172.7" y="806.6"/><use href="#mb2" x="176" y="809.9"/><use href="#mb2" x="179.3" y="804.7"/><use href="#mb2" x="182.7" y="806.3"/><use href="#mb2" x="186.1" y="799.5"/><use href="#mb2" x="189.3" y="806.8"/><use href="#mb2" x="192.4" y="807.1"/><use href="#mb2" x="195.3" y="808.8"/><use href="#mb2" x="198.2" y="811.2"/><use href="#mb2" x="202.6" y="815.4"/><use href="#mb2" x="206.9" y="806.7"/><use href="#mb2" x="210.9" y="805.5"/><use href="#mb2" x="214.9" y="804.6"/><use href="#mb2" x="218.2" y="807.5"/><use href="#mb2" x="221.5" y="802.5"/><use href="#mb2" x="224.9" y="804.6"/><use href="#mb2" x="228.3" y="802.8"/><use href="#mb2" x="232.8" y="804.3"/><use href="#mb2" x="237.3" y="813.4"/><use href="#mb2" x="240.6" y="810.1"/><use href="#mb2" x="243.9" y="806.5"/><use href="#mb2" x="247.8" y="806.3"/><use href="#mb2" x="251.8" y="802.1"/><use href="#mb2" x="255.1" y="797.9"/><use href="#mb2" x="258.4" y="794.3"/><use href="#mb2" x="261.7" y="801.5"/><use href="#mb2" x="265" y="801.9"/><use href="#mb2" x="270.2" y="803.2"/><use href="#mb2" x="274.1" y="815.1"/><use href="#mb2" x="277.9" y="816.1"/><use href="#mb2" x="281.3" y="814.6"/><use href="#mb2" x="284.8" y="813.6"/><use href="#mb2" x="288.1" y="806.5"/><use href="#mb2" x="291.4" y="810.2"/><use href="#mb2" x="296.6" y="806"/><use href="#mb2" x="300.7" y="800.1"/><use href="#mb2" x="304.8" y="795.3"/><use href="#mb2" x="309.3" y="799.4"/><use href="#mb2" x="313.2" y="802.6"/><use href="#mb2" x="316.9" y="785.6"/><use href="#mb2" x="319.8" y="781.6"/><use href="#mb2" x="324.3" y="789.8"/><use href="#mb2" x="329.1" y="804.9"/><use href="#mb2" x="333.5" y="777.7"/><use href="#mb2" x="336.5" y="770.9"/><use href="#mb2" x="340.9" y="761.3"/><use href="#mb2" x="344.6" y="744.6"/><use href="#mb2" x="349.4" y="730.4"/><use href="#mb2" x="353.3" y="715"/><use href="#mb2" x="356.8" y="692.7"/><use href="#mb2" x="360.5" y="663.1"/><use href="#mb2" x="364.4" y="644"/><use href="#mb2" x="368.9" y="629.2"/><use href="#mb2" x="373.3" y="609.5"/><use href="#mb2" x="376.3" y="623.3"/><use href="#mb2" x="381.6" y="621.6"/><use href="#mb2" x="384.6" y="648"/><use href="#mb2" x="388.3" y="652.6"/><use href="#mb2" x="392.9" y="691.6"/><use href="#mb2" x="396.9" y="714.6"/><use href="#mb2" x="399.8" y="741"/><use href="#mb2" x="405" y="746.9"/><use href="#mb2" x="408.2" y="753.3"/><use href="#mb2" x="411.9" y="762.1"/><use href="#mb2" x="417.2" y="759.8"/><use href="#mb2" x="420.6" y="759.6"/><use href="#mb2" x="424" y="761.8"/><use href="#mb2" x="427.7" y="768.6"/><use href="#mb2" x="432.2" y="782.6"/><use href="#mb2" x="435.9" y="776.8"/><use href="#mb2" x="439.6" y="763.7"/><use href="#mb2" x="443.5" y="768.6"/><use href="#mb2" x="448" y="744.4"/><use href="#mb2" x="451.7" y="782.8"/><use href="#mb2" x="456.2" y="794.6"/><use href="#mb2" x="459.4" y="782.5"/><use href="#mb2" x="463.1" y="773.4"/><use href="#mb2" x="466.3" y="775.6"/><use href="#mb2" x="469.6" y="776"/><use href="#mb2" x="473.9" y="781.4"/><use href="#mb2" x="478.1" y="781.7"/><use href="#mb2" x="482.6" y="795"/><use href="#mb2" x="487.1" y="787.2"/><use href="#mb2" x="490.5" y="787.6"/><use href="#mb2" x="493.9" y="789.6"/><use href="#mb2" x="497.2" y="792"/><use href="#mb2" x="500.5" y="793.7"/><use href="#mb2" x="503.9" y="793.1"/><use href="#mb2" x="507.4" y="786.2"/><use href="#mb2" x="510.4" y="789.5"/><use href="#mb2" x="513.4" y="794.1"/><use href="#mb2" x="516.3" y="794"/><use href="#mb2" x="519.2" y="792.6"/><use href="#mb2" x="524.8" y="787.5"/><use href="#mb2" x="528.1" y="784.4"/><use href="#mb2" x="531.4" y="784.6"/><use href="#mb2" x="535.2" y="787.4"/><use href="#mb2" x="539" y="791"/><use href="#mb2" x="543.5" y="786.1"/><use href="#mb2" x="548.5" y="789.3"/><use href="#mb2" x="553.3" y="793.3"/><use href="#mb2" x="558.5" y="785.3"/><use href="#mb2" x="562.2" y="783.6"/><use href="#mb2" x="565.9" y="781.8"/><use href="#mb2" x="570.4" y="790.8"/><use href="#mb2" x="574.9" y="787"/><use href="#mb2" x="578.8" y="785.6"/><use href="#mb2" x="582.1" y="789.6"/><use href="#mb2" x="585.4" y="789.2"/><use href="#mb2" x="589.3" y="799.5"/><use href="#mb2" x="593.1" y="796.8"/><use href="#mb2" x="596.1" y="804.8"/><use href="#mb2" x="599.1" y="801.4"/><use href="#mb2" x="602.8" y="807.8"/><use href="#mb2" x="606.5" y="807.9"/><use href="#mb2" x="609.6" y="803"/><use href="#mb2" x="612.6" y="799.5"/><use href="#mb2" x="617.9" y="804.7"/>
<polyline points="112,800.8 113.8,800.8 115.5,800.8 117.3,800.8 119.1,800.8 120.8,800.7 122.6,800.7 124.3,800.7 126.1,800.7 127.9,800.7 129.6,800.7 131.4,800.6 133.2,800.6 134.9,800.6 136.7,800.6 138.5,800.6 140.2,800.5 142,800.5 143.8,800.5 145.5,800.5 147.3,800.4 149,800.4 150.8,800.4 152.6,800.4 154.3,800.4 156.1,800.3 157.9,800.3 159.6,800.3 161.4,800.2 163.2,800.2 164.9,800.2 166.7,800.2 168.5,800.1 170.2,800.1 172,800.1 173.7,800 175.5,800 177.3,800 179,799.9 180.8,799.9 182.6,799.9 184.3,799.8 186.1,799.8 187.9,799.7 189.6,799.7 191.4,799.6 193.2,799.6 194.9,799.6 196.7,799.5 198.4,799.5 200.2,799.4 202,799.4 203.7,799.3 205.5,799.3 207.3,799.2 209,799.1 210.8,799.1 212.6,799 214.3,799 216.1,798.9 217.9,798.8 219.6,798.8 221.4,798.7 223.1,798.6 224.9,798.5 226.7,798.4 228.4,798.4 230.2,798.3 232,798.2 233.7,798.1 235.5,798 237.3,797.9 239,797.8 240.8,797.7 242.6,797.6 244.3,797.5 246.1,797.3 247.8,797.2 249.6,797.1 251.4,796.9 253.1,796.8 254.9,796.7 256.7,796.5 258.4,796.3 260.2,796.2 262,796 263.7,795.8 265.5,795.6 267.3,795.4 269,795.2 270.8,795 272.5,794.7 274.3,794.5 276.1,794.2 277.8,794 279.6,793.7 281.4,793.4 283.1,793.1 284.9,792.7 286.7,792.4 288.4,792 290.2,791.6 291.9,791.2 293.7,790.7 295.5,790.3 297.2,789.8 299,789.2 300.8,788.7 302.5,788.1 304.3,787.4 306.1,786.7 307.8,786 309.6,785.2 311.4,784.3 313.1,783.4 314.9,782.4 316.6,781.3 318.4,780.2 320.2,778.9 321.9,777.6 323.7,776.1 325.5,774.5 327.2,772.7 329,770.8 330.8,768.7 332.5,766.5 334.3,763.9 336.1,761.2 337.8,758.1 339.6,754.7 341.3,751 343.1,746.9 344.9,742.3 346.6,737.3 348.4,731.7 350.2,725.5 351.9,718.6 353.7,711.1 355.5,702.8 357.2,693.9 359,684.2 360.8,674 362.5,663.4 364.3,652.7 366,642.2 367.8,632.5 369.6,624 371.3,617.3 373.1,613.1 374.9,611.5 376.6,612.8 378.4,616.8 380.2,623.2 381.9,631.5 383.7,641.2 385.5,651.6 387.2,662.3 389,673 390.7,683.2 392.5,692.9 394.3,701.9 396,710.3 397.8,717.9 399.6,724.8 401.3,731 403.1,736.7 404.9,741.8 406.6,746.4 408.4,750.6 410.2,754.4 411.9,757.8 413.7,760.9 415.4,763.7 417.2,766.2 419,768.5 420.7,770.6 422.5,772.6 424.3,774.3 426,775.9 427.8,777.4 429.6,778.8 431.3,780.1 433.1,781.2 434.9,782.3 436.6,783.3 438.4,784.2 440.1,785.1 441.9,785.9 443.7,786.6 445.4,787.3 447.2,788 449,788.6 450.7,789.2 452.5,789.7 454.3,790.2 456,790.7 457.8,791.1 459.6,791.6 461.3,792 463.1,792.3 464.8,792.7 466.6,793 468.4,793.4 470.1,793.7 471.9,793.9 473.7,794.2 475.4,794.5 477.2,794.7 479,795 480.7,795.2 482.5,795.4 484.2,795.6 486,795.8 487.8,796 489.5,796.2 491.3,796.3 493.1,796.5 494.8,796.6 496.6,796.8 498.4,796.9 500.1,797.1 501.9,797.2 503.7,797.3 505.4,797.4 507.2,797.6 508.9,797.7 510.7,797.8 512.5,797.9 514.2,798 516,798.1 517.8,798.2 519.5,798.3 521.3,798.4 523.1,798.4 524.8,798.5 526.6,798.6 528.4,798.7 530.1,798.7 531.9,798.8 533.6,798.9 535.4,798.9 537.2,799 538.9,799.1 540.7,799.1 542.5,799.2 544.2,799.2 546,799.3 547.8,799.4 549.5,799.4 551.3,799.5 553.1,799.5 554.8,799.6 556.6,799.6 558.3,799.6 560.1,799.7 561.9,799.7 563.6,799.8 565.4,799.8 567.2,799.8 568.9,799.9 570.7,799.9 572.5,800 574.2,800 576,800 577.8,800.1 579.5,800.1 581.3,800.1 583,800.2 584.8,800.2 586.6,800.2 588.3,800.2 590.1,800.3 591.9,800.3 593.6,800.3 595.4,800.3 597.2,800.4 598.9,800.4 600.7,800.4 602.5,800.4 604.2,800.5 606,800.5 607.7,800.5 609.5,800.5 611.3,800.6 613,800.6 614.8,800.6 616.6,800.6 618.3,800.6 620.1,800.7 621.9,800.7 623.6,800.7 625.4,800.7 627.2,800.7 628.9,800.7 630.7,800.8 632.4,800.8 634.2,800.8 636,800.8 637.7,800.8 639.5,800.8" fill="none" stroke="#4db478" stroke-width="2.9" stroke-linecap="round" stroke-linejoin="round" stroke-dasharray="5 9.4"/>
</g>
<path d="M137.8 619H161.5M171.5 619H195.2" stroke="#d3190e" stroke-width="3.3" stroke-linecap="round" fill="none"/>
<use href="#lr" x="166.5" y="619"/>
<path d="M137.8 656H161.5M171.5 656H195.2" stroke="#3f7fc1" stroke-width="3.3" stroke-linecap="round" fill="none"/>
<use href="#lb" x="166.5" y="656"/>
<text transform="translate(203 628) scale(0.99 1.045)" font-size="26.5">+ <tspan font-style="italic">H</tspan></text>
<text transform="translate(204 665) scale(0.99 1.045)" font-size="26.5"><tspan font-weight="normal">−</tspan><tspan font-style="italic" dx="1.5">H</tspan></text>
<path d="M137.8 690H196.2" stroke="#4db478" stroke-width="3.3" stroke-linecap="round" stroke-dasharray="4.6 9.8" fill="none"/>
<path d="M137.8 727.5H196.2" stroke="#000" stroke-width="3.3" stroke-linecap="round" stroke-dasharray="4.6 9.8" fill="none"/>
<text transform="translate(211 699.2) scale(0.99 1.045)" font-size="26.5" font-style="italic">V<tspan font-size="17.5" dy="6.8" dx="-1.2">S</tspan></text>
<text transform="translate(211 736.5) scale(0.99 1.045)" font-size="26.5" font-style="italic">V<tspan font-size="17.5" dy="6.8" dx="-1.2">AS</tspan></text>
<rect x="470" y="844.5" width="139.3" height="47.8" fill="#e9813b"/>
<rect x="470" y="892" width="139.3" height="48.3" fill="#3e7cc6"/>
<rect x="470" y="940" width="139.3" height="48.5" fill="#c81e10"/>
<text transform="translate(539.6 881.6) scale(0.99 1.045)" font-size="38" font-weight="normal" fill="#fff" text-anchor="middle">Cu</text>
<text transform="translate(539.6 929.6) scale(0.99 1.045)" font-size="38" font-weight="normal" fill="#fff" text-anchor="middle">PVEO</text>
<text transform="translate(539.6 978.1) scale(0.99 1.045)" font-size="38" font-weight="normal" fill="#fff" text-anchor="middle">NiFe</text>
<rect x="112" y="582.7" width="527.5" height="424.8" fill="none" stroke="#000" stroke-width="2.7"/>
<path d="M243.9 1007.5v-7.9M243.9 582.7v7.9M375.8 1007.5v-7.9M375.8 582.7v7.9M507.6 1007.5v-7.9M507.6 582.7v7.9M112 966.4h7.9M639.5 966.4h-7.9M112 911.6h7.9M639.5 911.6h-7.9M112 856.8h7.9M639.5 856.8h-7.9M112 802h7.9M639.5 802h-7.9M112 747.1h7.9M639.5 747.1h-7.9M112 692.3h7.9M639.5 692.3h-7.9M112 637.5h7.9M639.5 637.5h-7.9" stroke="#000" stroke-width="3.0" fill="none"/>
<text transform="translate(111.6 1038.8) scale(0.99 1.05)" font-size="28" text-anchor="middle">−100</text>
<text transform="translate(243.5 1038.8) scale(0.99 1.05)" font-size="28" text-anchor="middle">−50</text>
<text transform="translate(375.4 1038.8) scale(0.99 1.05)" font-size="28" text-anchor="middle">0</text>
<text transform="translate(507.2 1038.8) scale(0.99 1.05)" font-size="28" text-anchor="middle">50</text>
<text transform="translate(639.1 1038.8) scale(0.99 1.05)" font-size="28" text-anchor="middle">100</text>
<text transform="translate(102.6 974.9) scale(0.99 1.05)" font-size="28" text-anchor="end">−1.2</text>
<text transform="translate(102.6 920.1) scale(0.99 1.05)" font-size="28" text-anchor="end">−0.8</text>
<text transform="translate(102.6 865.3) scale(0.99 1.05)" font-size="28" text-anchor="end">−0.4</text>
<text transform="translate(102.6 810.5) scale(0.99 1.05)" font-size="28" text-anchor="end">0.0</text>
<text transform="translate(102.6 755.6) scale(0.99 1.05)" font-size="28" text-anchor="end">0.4</text>
<text transform="translate(102.6 700.8) scale(0.99 1.05)" font-size="28" text-anchor="end">0.8</text>
<text transform="translate(102.6 646) scale(0.99 1.05)" font-size="28" text-anchor="end">1.2</text>
<text transform="translate(102.6 591.2) scale(0.99 1.05)" font-size="28" text-anchor="end">1.6</text>
<text transform="translate(278.4 1085.2) scale(1 1.015)" font-size="36.56"><tspan font-style="italic">H</tspan><tspan font-weight="normal" dx="4.35">−</tspan><tspan font-style="italic" dx="-1.38">H</tspan><tspan font-style="italic" font-size="24.21" dy="9.88">res</tspan><tspan dy="-9.88" dx="-1.19"> (Oe)</tspan></text>
<text transform="translate(28.1 880.3) rotate(-90) scale(1 1.015)"><tspan font-size="36.11" font-style="italic">V</tspan><tspan font-style="italic" font-size="23.91" dy="9.76">mixed</tspan><tspan font-size="36.11" dy="-9.76"> (<tspan font-size="36.11" font-family="'Liberation Serif',serif" font-style="normal">μ</tspan>V)</tspan></text>
<text transform="translate(0.3 549.7) scale(0.97 1.0)" font-size="42">d</text>
<g clip-path="url(#ce)">
<path d="M1036.8 672.4L1037.4 668M1056.3 674.9L1056.4 675.8M1061.6 703.7L1062.2 707.8M1075.4 756L1075.8 758.7M1138.9 776.3L1139 776.4" stroke="#264c9e" stroke-width="3.0" fill="none" stroke-linecap="round"/>
<use href="#md" x="787.9" y="801.5"/><use href="#md" x="790.7" y="795"/><use href="#md" x="793.4" y="808.4"/><use href="#md" x="796.2" y="797.2"/><use href="#md" x="798.9" y="800.7"/><use href="#md" x="801.7" y="806"/><use href="#md" x="804.4" y="808.4"/><use href="#md" x="807.2" y="810.9"/><use href="#md" x="809.9" y="807.7"/><use href="#md" x="812.7" y="801"/><use href="#md" x="815.4" y="799.3"/><use href="#md" x="818.2" y="798.2"/><use href="#md" x="820.9" y="809.2"/><use href="#md" x="823.7" y="813.6"/><use href="#md" x="826.4" y="800.1"/><use href="#md" x="829.2" y="796.8"/><use href="#md" x="832" y="789.4"/><use href="#md" x="834.7" y="790.8"/><use href="#md" x="837.5" y="802.5"/><use href="#md" x="840.2" y="796.3"/><use href="#md" x="843" y="796.8"/><use href="#md" x="845.7" y="799"/><use href="#md" x="848.5" y="805.1"/><use href="#md" x="851.2" y="803.8"/><use href="#md" x="854" y="803.9"/><use href="#md" x="856.7" y="798.8"/><use href="#md" x="859.5" y="800.2"/><use href="#md" x="862.2" y="793.7"/><use href="#md" x="865" y="802.4"/><use href="#md" x="867.7" y="800.1"/><use href="#md" x="870.5" y="798.9"/><use href="#md" x="873.3" y="805.1"/><use href="#md" x="876" y="809.4"/><use href="#md" x="878.8" y="800.4"/><use href="#md" x="881.5" y="798.8"/><use href="#md" x="884.3" y="801.4"/><use href="#md" x="887" y="799.8"/><use href="#md" x="889.8" y="804.3"/><use href="#md" x="892.5" y="801.8"/><use href="#md" x="895.3" y="804.8"/><use href="#md" x="898" y="802.2"/><use href="#md" x="900.8" y="797"/><use href="#md" x="903.5" y="801.2"/><use href="#md" x="906.3" y="797.1"/><use href="#md" x="909" y="804.6"/><use href="#md" x="911.8" y="804.2"/><use href="#md" x="914.6" y="809.3"/><use href="#md" x="917.3" y="805.2"/><use href="#md" x="920.1" y="802.5"/><use href="#md" x="922.8" y="802.5"/><use href="#md" x="925.6" y="802.8"/><use href="#md" x="928.3" y="794.9"/><use href="#md" x="931.1" y="790.8"/><use href="#md" x="933.8" y="801.9"/><use href="#md" x="936.6" y="795"/><use href="#md" x="939.3" y="806.1"/><use href="#md" x="942.1" y="806.1"/><use href="#md" x="944.8" y="803.2"/><use href="#md" x="947.6" y="800.3"/><use href="#md" x="950.3" y="804.6"/><use href="#md" x="953.1" y="804.7"/><use href="#md" x="955.9" y="800.6"/><use href="#md" x="958.6" y="802.4"/><use href="#md" x="961.4" y="802.7"/><use href="#md" x="964.1" y="796.1"/><use href="#md" x="966.9" y="791.2"/><use href="#md" x="969.6" y="793.4"/><use href="#md" x="972.4" y="793.5"/><use href="#md" x="975.1" y="793.2"/><use href="#md" x="977.9" y="794.6"/><use href="#md" x="980.6" y="794.8"/><use href="#md" x="983.4" y="796.8"/><use href="#md" x="986.1" y="788.6"/><use href="#md" x="988.9" y="787.7"/><use href="#md" x="991.6" y="786.6"/><use href="#md" x="994.4" y="783.3"/><use href="#md" x="997.2" y="779.1"/><use href="#md" x="999.9" y="771.3"/><use href="#md" x="1002.7" y="774.7"/><use href="#md" x="1005.4" y="775.1"/><use href="#md" x="1008.2" y="770.2"/><use href="#md" x="1010.9" y="770.7"/><use href="#md" x="1013.7" y="757.6"/><use href="#md" x="1016.4" y="750.3"/><use href="#md" x="1019.2" y="744.5"/><use href="#md" x="1021.9" y="740.4"/><use href="#md" x="1024.7" y="729.6"/><use href="#md" x="1027.4" y="717.2"/><use href="#md" x="1030.2" y="705.6"/><use href="#md" x="1032.9" y="693.2"/><use href="#md" x="1035.7" y="680.1"/><use href="#md" x="1038.5" y="660.4"/><use href="#md" x="1041.2" y="646.6"/><use href="#md" x="1044" y="638"/><use href="#md" x="1046.7" y="633.1"/><use href="#md" x="1049.5" y="638.4"/><use href="#md" x="1052.2" y="653"/><use href="#md" x="1055" y="667.3"/><use href="#md" x="1057.7" y="683.4"/><use href="#md" x="1060.5" y="696"/><use href="#md" x="1063.2" y="715.4"/><use href="#md" x="1066" y="726"/><use href="#md" x="1068.7" y="734.3"/><use href="#md" x="1071.5" y="735.2"/><use href="#md" x="1074.2" y="748.4"/><use href="#md" x="1077" y="766.3"/><use href="#md" x="1079.8" y="768.7"/><use href="#md" x="1082.5" y="762.7"/><use href="#md" x="1085.3" y="758.4"/><use href="#md" x="1088" y="752.6"/><use href="#md" x="1090.8" y="757.5"/><use href="#md" x="1093.5" y="766.7"/><use href="#md" x="1096.3" y="763.2"/><use href="#md" x="1099" y="766.7"/><use href="#md" x="1101.8" y="769.7"/><use href="#md" x="1104.5" y="770.5"/><use href="#md" x="1107.3" y="765.1"/><use href="#md" x="1110" y="773.8"/><use href="#md" x="1112.8" y="778.7"/><use href="#md" x="1115.6" y="776.4"/><use href="#md" x="1118.3" y="775.7"/><use href="#md" x="1121.1" y="779.4"/><use href="#md" x="1123.8" y="781.7"/><use href="#md" x="1126.6" y="776.8"/><use href="#md" x="1129.3" y="770.1"/><use href="#md" x="1132.1" y="770.4"/><use href="#md" x="1134.8" y="771"/><use href="#md" x="1137.6" y="768.7"/><use href="#md" x="1140.3" y="784"/><use href="#md" x="1143.1" y="788.7"/><use href="#md" x="1145.8" y="787.2"/><use href="#md" x="1148.6" y="789.2"/><use href="#md" x="1151.3" y="789.3"/><use href="#md" x="1154.1" y="784.4"/><use href="#md" x="1156.9" y="789.2"/><use href="#md" x="1159.6" y="787.5"/><use href="#md" x="1162.4" y="794.9"/><use href="#md" x="1165.1" y="793.3"/><use href="#md" x="1167.9" y="781.3"/><use href="#md" x="1170.6" y="785.6"/><use href="#md" x="1173.4" y="783.5"/><use href="#md" x="1176.1" y="780.9"/><use href="#md" x="1178.9" y="786"/><use href="#md" x="1181.6" y="783.3"/><use href="#md" x="1184.4" y="784.1"/><use href="#md" x="1187.1" y="782.3"/><use href="#md" x="1189.9" y="788.4"/><use href="#md" x="1192.6" y="795.4"/><use href="#md" x="1195.4" y="796.7"/><use href="#md" x="1198.2" y="795.2"/><use href="#md" x="1200.9" y="789.4"/><use href="#md" x="1203.7" y="790.6"/><use href="#md" x="1206.4" y="792.3"/><use href="#md" x="1209.2" y="792.2"/><use href="#md" x="1211.9" y="786"/><use href="#md" x="1214.7" y="791.7"/><use href="#md" x="1217.4" y="784.1"/><use href="#md" x="1220.2" y="794.4"/><use href="#md" x="1222.9" y="796.1"/><use href="#md" x="1225.7" y="789.8"/><use href="#md" x="1228.4" y="788.8"/><use href="#md" x="1231.2" y="795.2"/><use href="#md" x="1233.9" y="794.6"/><use href="#md" x="1236.7" y="797.4"/><use href="#md" x="1239.5" y="791"/><use href="#md" x="1242.2" y="789.8"/><use href="#md" x="1245" y="795.5"/><use href="#md" x="1247.7" y="792.7"/><use href="#md" x="1250.5" y="795.3"/><use href="#md" x="1253.2" y="795"/><use href="#md" x="1256" y="794.3"/><use href="#md" x="1258.7" y="797.2"/><use href="#md" x="1261.5" y="793.6"/><use href="#md" x="1264.2" y="791.9"/><use href="#md" x="1267" y="791.3"/><use href="#md" x="1269.7" y="787.7"/><use href="#md" x="1272.5" y="793"/><use href="#md" x="1275.2" y="801.4"/><use href="#md" x="1278" y="800.3"/><use href="#md" x="1280.8" y="796.4"/><use href="#md" x="1283.5" y="795.5"/><use href="#md" x="1286.3" y="792.4"/><use href="#md" x="1289" y="789.9"/><use href="#md" x="1291.8" y="793.4"/><use href="#md" x="1294.5" y="794.9"/><use href="#md" x="1297.3" y="800"/><use href="#md" x="1300" y="792.3"/><use href="#md" x="1302.8" y="795.2"/><use href="#md" x="1305.5" y="800.6"/><use href="#md" x="1308.3" y="803.2"/><use href="#md" x="1311" y="801"/>
<path d="M1064.9 912.7L1064.3 917M1045.6 920.5L1045 916.2M1037.1 879.5L1037 879" stroke="#264c9e" stroke-width="3.0" fill="none" stroke-linecap="round"/>
<use href="#md" x="1311" y="788.5"/><use href="#md" x="1308.3" y="792.6"/><use href="#md" x="1305.5" y="795.6"/><use href="#md" x="1302.8" y="790.8"/><use href="#md" x="1300" y="790.2"/><use href="#md" x="1297.3" y="790.2"/><use href="#md" x="1294.5" y="801.4"/><use href="#md" x="1291.8" y="802"/><use href="#md" x="1289" y="796.3"/><use href="#md" x="1286.3" y="798.2"/><use href="#md" x="1283.5" y="803.3"/><use href="#md" x="1280.8" y="810.3"/><use href="#md" x="1278" y="799.3"/><use href="#md" x="1275.2" y="791.7"/><use href="#md" x="1272.5" y="790.5"/><use href="#md" x="1269.7" y="786.5"/><use href="#md" x="1267" y="787.8"/><use href="#md" x="1264.2" y="795.6"/><use href="#md" x="1261.5" y="790.4"/><use href="#md" x="1258.7" y="793.6"/><use href="#md" x="1256" y="794.5"/><use href="#md" x="1253.2" y="793.4"/><use href="#md" x="1250.5" y="792.1"/><use href="#md" x="1247.7" y="780.7"/><use href="#md" x="1245" y="785.9"/><use href="#md" x="1242.2" y="783.5"/><use href="#md" x="1239.5" y="787.3"/><use href="#md" x="1236.7" y="792.4"/><use href="#md" x="1233.9" y="795.7"/><use href="#md" x="1231.2" y="801.2"/><use href="#md" x="1228.4" y="796.7"/><use href="#md" x="1225.7" y="801.1"/><use href="#md" x="1222.9" y="802"/><use href="#md" x="1220.2" y="799.5"/><use href="#md" x="1217.4" y="799.4"/><use href="#md" x="1214.7" y="791.5"/><use href="#md" x="1211.9" y="781.6"/><use href="#md" x="1209.2" y="789.3"/><use href="#md" x="1206.4" y="796.5"/><use href="#md" x="1203.7" y="798.4"/><use href="#md" x="1200.9" y="796.2"/><use href="#md" x="1198.2" y="792.8"/><use href="#md" x="1195.4" y="792.5"/><use href="#md" x="1192.6" y="792.3"/><use href="#md" x="1189.9" y="794.3"/><use href="#md" x="1187.1" y="789.5"/><use href="#md" x="1184.4" y="790.7"/><use href="#md" x="1181.6" y="792.9"/><use href="#md" x="1178.9" y="791"/><use href="#md" x="1176.1" y="792.9"/><use href="#md" x="1173.4" y="797.6"/><use href="#md" x="1170.6" y="789.2"/><use href="#md" x="1167.9" y="785.5"/><use href="#md" x="1165.1" y="785.2"/><use href="#md" x="1162.4" y="791.1"/><use href="#md" x="1159.6" y="788.4"/><use href="#md" x="1156.9" y="789.7"/><use href="#md" x="1154.1" y="792.4"/><use href="#md" x="1151.3" y="800"/><use href="#md" x="1148.6" y="799.8"/><use href="#md" x="1145.8" y="801"/><use href="#md" x="1143.1" y="801"/><use href="#md" x="1140.3" y="795.6"/><use href="#md" x="1137.6" y="799.6"/><use href="#md" x="1134.8" y="792"/><use href="#md" x="1132.1" y="799"/><use href="#md" x="1129.3" y="790.9"/><use href="#md" x="1126.6" y="801.2"/><use href="#md" x="1123.8" y="802.3"/><use href="#md" x="1121.1" y="794.5"/><use href="#md" x="1118.3" y="798.1"/><use href="#md" x="1115.6" y="800.6"/><use href="#md" x="1112.8" y="797.2"/><use href="#md" x="1110" y="802.5"/><use href="#md" x="1107.3" y="802.1"/><use href="#md" x="1104.5" y="804.4"/><use href="#md" x="1101.8" y="809.7"/><use href="#md" x="1099" y="811.2"/><use href="#md" x="1096.3" y="811.9"/><use href="#md" x="1093.5" y="813.3"/><use href="#md" x="1090.8" y="814.6"/><use href="#md" x="1088" y="818.8"/><use href="#md" x="1085.3" y="830.4"/><use href="#md" x="1082.5" y="834.4"/><use href="#md" x="1079.8" y="843.1"/><use href="#md" x="1077" y="854.7"/><use href="#md" x="1074.2" y="865.7"/><use href="#md" x="1071.5" y="879.1"/><use href="#md" x="1068.7" y="891.5"/><use href="#md" x="1066" y="905.1"/><use href="#md" x="1063.2" y="924.6"/><use href="#md" x="1060.5" y="936.2"/><use href="#md" x="1057.7" y="950.5"/><use href="#md" x="1055" y="951.5"/><use href="#md" x="1052.2" y="947.9"/><use href="#md" x="1049.5" y="941.3"/><use href="#md" x="1046.7" y="928.1"/><use href="#md" x="1044" y="908.5"/><use href="#md" x="1041.2" y="896.7"/><use href="#md" x="1038.5" y="887"/><use href="#md" x="1035.7" y="871.4"/><use href="#md" x="1032.9" y="861.1"/><use href="#md" x="1030.2" y="848.3"/><use href="#md" x="1027.4" y="843"/><use href="#md" x="1024.7" y="838.1"/><use href="#md" x="1021.9" y="835.6"/><use href="#md" x="1019.2" y="831.4"/><use href="#md" x="1016.4" y="822.1"/><use href="#md" x="1013.7" y="824.7"/><use href="#md" x="1010.9" y="826.1"/><use href="#md" x="1008.2" y="821.7"/><use href="#md" x="1005.4" y="817.1"/><use href="#md" x="1002.7" y="817.2"/><use href="#md" x="999.9" y="823.2"/><use href="#md" x="997.2" y="819.4"/><use href="#md" x="994.4" y="818.3"/><use href="#md" x="991.6" y="807.9"/><use href="#md" x="988.9" y="811.3"/><use href="#md" x="986.1" y="817.5"/><use href="#md" x="983.4" y="820.6"/><use href="#md" x="980.6" y="820.2"/><use href="#md" x="977.9" y="813.2"/><use href="#md" x="975.1" y="818.6"/><use href="#md" x="972.4" y="821.5"/><use href="#md" x="969.6" y="823.4"/><use href="#md" x="966.9" y="820.7"/><use href="#md" x="964.1" y="811.4"/><use href="#md" x="961.4" y="813.3"/><use href="#md" x="958.6" y="817.3"/><use href="#md" x="955.9" y="819.4"/><use href="#md" x="953.1" y="819.1"/><use href="#md" x="950.3" y="823.7"/><use href="#md" x="947.6" y="821.8"/><use href="#md" x="944.8" y="819.6"/><use href="#md" x="942.1" y="819.2"/><use href="#md" x="939.3" y="819.6"/><use href="#md" x="936.6" y="814.5"/><use href="#md" x="933.8" y="817"/><use href="#md" x="931.1" y="820.1"/><use href="#md" x="928.3" y="819.9"/><use href="#md" x="925.6" y="826.6"/><use href="#md" x="922.8" y="824.3"/><use href="#md" x="920.1" y="819.3"/><use href="#md" x="917.3" y="818.6"/><use href="#md" x="914.6" y="812.1"/><use href="#md" x="911.8" y="803.8"/><use href="#md" x="909" y="811.3"/><use href="#md" x="906.3" y="812.1"/><use href="#md" x="903.5" y="804.6"/><use href="#md" x="900.8" y="810"/><use href="#md" x="898" y="818.9"/><use href="#md" x="895.3" y="816.6"/><use href="#md" x="892.5" y="823"/><use href="#md" x="889.8" y="825.5"/><use href="#md" x="887" y="819.1"/><use href="#md" x="884.3" y="819"/><use href="#md" x="881.5" y="822.4"/><use href="#md" x="878.8" y="814.9"/><use href="#md" x="876" y="814.7"/><use href="#md" x="873.3" y="817.6"/><use href="#md" x="870.5" y="814.9"/><use href="#md" x="867.7" y="815.3"/><use href="#md" x="865" y="822.3"/><use href="#md" x="862.2" y="819.4"/><use href="#md" x="859.5" y="821.6"/><use href="#md" x="856.7" y="820.5"/><use href="#md" x="854" y="821.4"/><use href="#md" x="851.2" y="829.6"/><use href="#md" x="848.5" y="818.3"/><use href="#md" x="845.7" y="816.6"/><use href="#md" x="843" y="820.8"/><use href="#md" x="840.2" y="827.6"/><use href="#md" x="837.5" y="821.2"/><use href="#md" x="834.7" y="813.9"/><use href="#md" x="832" y="814.5"/><use href="#md" x="829.2" y="816.7"/><use href="#md" x="826.4" y="808.3"/><use href="#md" x="823.7" y="812.8"/><use href="#md" x="820.9" y="821.6"/><use href="#md" x="818.2" y="823.1"/><use href="#md" x="815.4" y="826.2"/><use href="#md" x="812.7" y="816.3"/><use href="#md" x="809.9" y="812.8"/><use href="#md" x="807.2" y="815.8"/><use href="#md" x="804.4" y="810.9"/><use href="#md" x="801.7" y="810.9"/><use href="#md" x="798.9" y="814"/><use href="#md" x="796.2" y="816.9"/><use href="#md" x="793.4" y="819.1"/><use href="#md" x="790.7" y="806.6"/><use href="#md" x="787.9" y="806.2"/>
<path d="M857.9 799.9L858.3 802.3M1023.2 758.8L1023.4 757.8M1036.7 715.8L1037.4 710.8M1042.6 681.5L1042.6 681.5M1064.5 679.4L1064.7 680.2M1094.9 758.7L1094.9 759M1174.7 785.8L1174.8 786M1265.5 790.3L1265.7 789" stroke="#60a5d3" stroke-width="3.0" fill="none" stroke-linecap="round"/>
<use href="#ml" x="787.9" y="799.5"/><use href="#ml" x="790.7" y="803.5"/><use href="#ml" x="793.4" y="801.9"/><use href="#ml" x="796.2" y="806.9"/><use href="#ml" x="798.9" y="806.3"/><use href="#ml" x="801.7" y="801.6"/><use href="#ml" x="804.4" y="805"/><use href="#ml" x="807.2" y="805.1"/><use href="#ml" x="809.9" y="796.9"/><use href="#ml" x="812.7" y="801"/><use href="#ml" x="815.4" y="798.3"/><use href="#ml" x="818.2" y="802.3"/><use href="#ml" x="820.9" y="808.2"/><use href="#ml" x="823.7" y="805.3"/><use href="#ml" x="826.4" y="805.7"/><use href="#ml" x="829.2" y="814"/><use href="#ml" x="832" y="813.8"/><use href="#ml" x="834.7" y="809.8"/><use href="#ml" x="837.5" y="798.6"/><use href="#ml" x="840.2" y="803.7"/><use href="#ml" x="843" y="803.3"/><use href="#ml" x="845.7" y="799.8"/><use href="#ml" x="848.5" y="799.9"/><use href="#ml" x="851.2" y="803"/><use href="#ml" x="854" y="794.4"/><use href="#ml" x="856.7" y="792.3"/><use href="#ml" x="859.5" y="809.9"/><use href="#ml" x="862.2" y="801.1"/><use href="#ml" x="865" y="799.1"/><use href="#ml" x="867.7" y="796.1"/><use href="#ml" x="870.5" y="799.1"/><use href="#ml" x="873.3" y="796.7"/><use href="#ml" x="876" y="790.3"/><use href="#ml" x="878.8" y="788.4"/><use href="#ml" x="881.5" y="787.1"/><use href="#ml" x="884.3" y="790.1"/><use href="#ml" x="887" y="792.1"/><use href="#ml" x="889.8" y="792.9"/><use href="#ml" x="892.5" y="803.3"/><use href="#ml" x="895.3" y="791.3"/><use href="#ml" x="898" y="795.8"/><use href="#ml" x="900.8" y="797.4"/><use href="#ml" x="903.5" y="799.1"/><use href="#ml" x="906.3" y="798"/><use href="#ml" x="909" y="810.3"/><use href="#ml" x="911.8" y="804.2"/><use href="#ml" x="914.6" y="808.7"/><use href="#ml" x="917.3" y="809.3"/><use href="#ml" x="920.1" y="813.8"/><use href="#ml" x="922.8" y="815.1"/><use href="#ml" x="925.6" y="804.3"/><use href="#ml" x="928.3" y="804.6"/><use href="#ml" x="931.1" y="802.8"/><use href="#ml" x="933.8" y="802.2"/><use href="#ml" x="936.6" y="806.7"/><use href="#ml" x="939.3" y="806.4"/><use href="#ml" x="942.1" y="808.9"/><use href="#ml" x="944.8" y="805.2"/><use href="#ml" x="947.6" y="812.8"/><use href="#ml" x="950.3" y="807.2"/><use href="#ml" x="953.1" y="798"/><use href="#ml" x="955.9" y="792.3"/><use href="#ml" x="958.6" y="789.9"/><use href="#ml" x="961.4" y="791.8"/><use href="#ml" x="964.1" y="799.8"/><use href="#ml" x="966.9" y="793.4"/><use href="#ml" x="969.6" y="792"/><use href="#ml" x="972.4" y="792.2"/><use href="#ml" x="975.1" y="799.1"/><use href="#ml" x="977.9" y="793.8"/><use href="#ml" x="980.6" y="785.8"/><use href="#ml" x="983.4" y="784.9"/><use href="#ml" x="986.1" y="788.7"/><use href="#ml" x="988.9" y="785.8"/><use href="#ml" x="991.6" y="786.5"/><use href="#ml" x="994.4" y="785.1"/><use href="#ml" x="997.2" y="780.2"/><use href="#ml" x="999.9" y="779.5"/><use href="#ml" x="1002.7" y="779.4"/><use href="#ml" x="1005.4" y="776.5"/><use href="#ml" x="1008.2" y="779.6"/><use href="#ml" x="1010.9" y="780.2"/><use href="#ml" x="1013.7" y="771.3"/><use href="#ml" x="1016.4" y="770.3"/><use href="#ml" x="1019.2" y="761.6"/><use href="#ml" x="1021.9" y="766.4"/><use href="#ml" x="1024.7" y="750.2"/><use href="#ml" x="1027.4" y="744.8"/><use href="#ml" x="1030.2" y="730.8"/><use href="#ml" x="1032.9" y="733.2"/><use href="#ml" x="1035.7" y="723.5"/><use href="#ml" x="1038.5" y="703.2"/><use href="#ml" x="1041.2" y="689.1"/><use href="#ml" x="1044" y="673.9"/><use href="#ml" x="1046.7" y="659.8"/><use href="#ml" x="1049.5" y="648.3"/><use href="#ml" x="1052.2" y="641"/><use href="#ml" x="1055" y="643"/><use href="#ml" x="1057.7" y="648.9"/><use href="#ml" x="1060.5" y="657.3"/><use href="#ml" x="1063.2" y="671.8"/><use href="#ml" x="1066" y="687.8"/><use href="#ml" x="1068.7" y="700.8"/><use href="#ml" x="1071.5" y="709.7"/><use href="#ml" x="1074.2" y="721.8"/><use href="#ml" x="1077" y="731.3"/><use href="#ml" x="1079.8" y="736.1"/><use href="#ml" x="1082.5" y="738.7"/><use href="#ml" x="1085.3" y="738.4"/><use href="#ml" x="1088" y="747.9"/><use href="#ml" x="1090.8" y="751.4"/><use href="#ml" x="1093.5" y="751.1"/><use href="#ml" x="1096.3" y="766.6"/><use href="#ml" x="1099" y="764.6"/><use href="#ml" x="1101.8" y="762.9"/><use href="#ml" x="1104.5" y="765.6"/><use href="#ml" x="1107.3" y="771.3"/><use href="#ml" x="1110" y="767.4"/><use href="#ml" x="1112.8" y="762.9"/><use href="#ml" x="1115.6" y="767.9"/><use href="#ml" x="1118.3" y="772.6"/><use href="#ml" x="1121.1" y="773.7"/><use href="#ml" x="1123.8" y="765.9"/><use href="#ml" x="1126.6" y="764.3"/><use href="#ml" x="1129.3" y="769.9"/><use href="#ml" x="1132.1" y="778.3"/><use href="#ml" x="1134.8" y="783.3"/><use href="#ml" x="1137.6" y="781.2"/><use href="#ml" x="1140.3" y="780.5"/><use href="#ml" x="1143.1" y="777.7"/><use href="#ml" x="1145.8" y="783.6"/><use href="#ml" x="1148.6" y="781.6"/><use href="#ml" x="1151.3" y="777.8"/><use href="#ml" x="1154.1" y="787.3"/><use href="#ml" x="1156.9" y="772.3"/><use href="#ml" x="1159.6" y="774.3"/><use href="#ml" x="1162.4" y="775.8"/><use href="#ml" x="1165.1" y="785.8"/><use href="#ml" x="1167.9" y="789.2"/><use href="#ml" x="1170.6" y="781"/><use href="#ml" x="1173.4" y="778.2"/><use href="#ml" x="1176.1" y="793.6"/><use href="#ml" x="1178.9" y="783.2"/><use href="#ml" x="1181.6" y="780.8"/><use href="#ml" x="1184.4" y="780.6"/><use href="#ml" x="1187.1" y="789.3"/><use href="#ml" x="1189.9" y="786.7"/><use href="#ml" x="1192.6" y="790.1"/><use href="#ml" x="1195.4" y="786.1"/><use href="#ml" x="1198.2" y="778.2"/><use href="#ml" x="1200.9" y="780.8"/><use href="#ml" x="1203.7" y="780.4"/><use href="#ml" x="1206.4" y="786.9"/><use href="#ml" x="1209.2" y="793.6"/><use href="#ml" x="1211.9" y="791.7"/><use href="#ml" x="1214.7" y="785.9"/><use href="#ml" x="1217.4" y="781.4"/><use href="#ml" x="1220.2" y="787.1"/><use href="#ml" x="1222.9" y="788.2"/><use href="#ml" x="1225.7" y="792.1"/><use href="#ml" x="1228.4" y="800.5"/><use href="#ml" x="1231.2" y="795.5"/><use href="#ml" x="1233.9" y="792.1"/><use href="#ml" x="1236.7" y="794.5"/><use href="#ml" x="1239.5" y="794.4"/><use href="#ml" x="1242.2" y="802.5"/><use href="#ml" x="1245" y="797.1"/><use href="#ml" x="1247.7" y="788.2"/><use href="#ml" x="1250.5" y="791.2"/><use href="#ml" x="1253.2" y="789.6"/><use href="#ml" x="1256" y="789.7"/><use href="#ml" x="1258.7" y="795.7"/><use href="#ml" x="1261.5" y="793.7"/><use href="#ml" x="1264.2" y="797.9"/><use href="#ml" x="1267" y="781.4"/><use href="#ml" x="1269.7" y="787.4"/><use href="#ml" x="1272.5" y="796.6"/><use href="#ml" x="1275.2" y="802.9"/><use href="#ml" x="1278" y="790.9"/><use href="#ml" x="1280.8" y="789.8"/><use href="#ml" x="1283.5" y="790.4"/><use href="#ml" x="1286.3" y="799.4"/><use href="#ml" x="1289" y="799.6"/><use href="#ml" x="1291.8" y="802.9"/><use href="#ml" x="1294.5" y="792.9"/><use href="#ml" x="1297.3" y="796.5"/><use href="#ml" x="1300" y="786"/><use href="#ml" x="1302.8" y="788.3"/><use href="#ml" x="1305.5" y="793.5"/><use href="#ml" x="1308.3" y="787.6"/><use href="#ml" x="1311" y="802"/>
<path d="M1144.5 787.2L1144.4 788M1061.9 901.3L1061.8 902.3M1039.9 909.9L1039.8 909.5M1034.4 881L1034.3 880.4" stroke="#60a5d3" stroke-width="3.0" fill="none" stroke-linecap="round"/>
<use href="#ml" x="1311" y="789.4"/><use href="#ml" x="1308.3" y="790.8"/><use href="#ml" x="1305.5" y="798.5"/><use href="#ml" x="1302.8" y="793.5"/><use href="#ml" x="1300" y="793.5"/><use href="#ml" x="1297.3" y="797.3"/><use href="#ml" x="1294.5" y="796.6"/><use href="#ml" x="1291.8" y="791.3"/><use href="#ml" x="1289" y="792.1"/><use href="#ml" x="1286.3" y="794.9"/><use href="#ml" x="1283.5" y="793.4"/><use href="#ml" x="1280.8" y="789.6"/><use href="#ml" x="1278" y="799.6"/><use href="#ml" x="1275.2" y="796.6"/><use href="#ml" x="1272.5" y="785.3"/><use href="#ml" x="1269.7" y="788.6"/><use href="#ml" x="1267" y="791.1"/><use href="#ml" x="1264.2" y="797.6"/><use href="#ml" x="1261.5" y="789.8"/><use href="#ml" x="1258.7" y="799.2"/><use href="#ml" x="1256" y="806.3"/><use href="#ml" x="1253.2" y="801.9"/><use href="#ml" x="1250.5" y="798.3"/><use href="#ml" x="1247.7" y="799.2"/><use href="#ml" x="1245" y="794.4"/><use href="#ml" x="1242.2" y="799.6"/><use href="#ml" x="1239.5" y="798.1"/><use href="#ml" x="1236.7" y="795"/><use href="#ml" x="1233.9" y="801.4"/><use href="#ml" x="1231.2" y="795.7"/><use href="#ml" x="1228.4" y="793.4"/><use href="#ml" x="1225.7" y="797.9"/><use href="#ml" x="1222.9" y="794.3"/><use href="#ml" x="1220.2" y="791.7"/><use href="#ml" x="1217.4" y="792.3"/><use href="#ml" x="1214.7" y="794.1"/><use href="#ml" x="1211.9" y="790.3"/><use href="#ml" x="1209.2" y="788"/><use href="#ml" x="1206.4" y="792.8"/><use href="#ml" x="1203.7" y="796.3"/><use href="#ml" x="1200.9" y="795.4"/><use href="#ml" x="1198.2" y="798.9"/><use href="#ml" x="1195.4" y="792"/><use href="#ml" x="1192.6" y="780.2"/><use href="#ml" x="1189.9" y="791.7"/><use href="#ml" x="1187.1" y="791.5"/><use href="#ml" x="1184.4" y="789.5"/><use href="#ml" x="1181.6" y="794.8"/><use href="#ml" x="1178.9" y="797.9"/><use href="#ml" x="1176.1" y="794.2"/><use href="#ml" x="1173.4" y="789.4"/><use href="#ml" x="1170.6" y="784.9"/><use href="#ml" x="1167.9" y="792.6"/><use href="#ml" x="1165.1" y="794.7"/><use href="#ml" x="1162.4" y="791.6"/><use href="#ml" x="1159.6" y="793"/><use href="#ml" x="1156.9" y="795.9"/><use href="#ml" x="1154.1" y="790.4"/><use href="#ml" x="1151.3" y="794"/><use href="#ml" x="1148.6" y="792"/><use href="#ml" x="1145.8" y="779.6"/><use href="#ml" x="1143.1" y="795.6"/><use href="#ml" x="1140.3" y="798.3"/><use href="#ml" x="1137.6" y="797.5"/><use href="#ml" x="1134.8" y="788.3"/><use href="#ml" x="1132.1" y="797.4"/><use href="#ml" x="1129.3" y="802.3"/><use href="#ml" x="1126.6" y="802"/><use href="#ml" x="1123.8" y="789.1"/><use href="#ml" x="1121.1" y="798.4"/><use href="#ml" x="1118.3" y="800.5"/><use href="#ml" x="1115.6" y="794.9"/><use href="#ml" x="1112.8" y="793.7"/><use href="#ml" x="1110" y="792.2"/><use href="#ml" x="1107.3" y="797.8"/><use href="#ml" x="1104.5" y="801"/><use href="#ml" x="1101.8" y="807.3"/><use href="#ml" x="1099" y="808"/><use href="#ml" x="1096.3" y="823"/><use href="#ml" x="1093.5" y="817.1"/><use href="#ml" x="1090.8" y="821"/><use href="#ml" x="1088" y="824.2"/><use href="#ml" x="1085.3" y="825.7"/><use href="#ml" x="1082.5" y="821"/><use href="#ml" x="1079.8" y="827.9"/><use href="#ml" x="1077" y="834.4"/><use href="#ml" x="1074.2" y="847.6"/><use href="#ml" x="1071.5" y="853.6"/><use href="#ml" x="1068.7" y="864.1"/><use href="#ml" x="1066" y="878.9"/><use href="#ml" x="1063.2" y="893.7"/><use href="#ml" x="1060.5" y="909.9"/><use href="#ml" x="1057.7" y="922.6"/><use href="#ml" x="1055" y="934.4"/><use href="#ml" x="1052.2" y="939.6"/><use href="#ml" x="1049.5" y="938"/><use href="#ml" x="1046.7" y="937.4"/><use href="#ml" x="1044" y="928"/><use href="#ml" x="1041.2" y="917.5"/><use href="#ml" x="1038.5" y="901.9"/><use href="#ml" x="1035.7" y="888.6"/><use href="#ml" x="1032.9" y="872.8"/><use href="#ml" x="1030.2" y="865.1"/><use href="#ml" x="1027.4" y="862.6"/><use href="#ml" x="1024.7" y="848.8"/><use href="#ml" x="1021.9" y="845.5"/><use href="#ml" x="1019.2" y="839.7"/><use href="#ml" x="1016.4" y="836.2"/><use href="#ml" x="1013.7" y="829"/><use href="#ml" x="1010.9" y="832.2"/><use href="#ml" x="1008.2" y="832.3"/><use href="#ml" x="1005.4" y="827.7"/><use href="#ml" x="1002.7" y="823.1"/><use href="#ml" x="999.9" y="815.1"/><use href="#ml" x="997.2" y="821.7"/><use href="#ml" x="994.4" y="823.2"/><use href="#ml" x="991.6" y="823.2"/><use href="#ml" x="988.9" y="821.7"/><use href="#ml" x="986.1" y="815.2"/><use href="#ml" x="983.4" y="818.4"/><use href="#ml" x="980.6" y="813.6"/><use href="#ml" x="977.9" y="816"/><use href="#ml" x="975.1" y="814.5"/><use href="#ml" x="972.4" y="812.8"/><use href="#ml" x="969.6" y="814.6"/><use href="#ml" x="966.9" y="810.5"/><use href="#ml" x="964.1" y="818.6"/><use href="#ml" x="961.4" y="811.2"/><use href="#ml" x="958.6" y="822.6"/><use href="#ml" x="955.9" y="807.8"/><use href="#ml" x="953.1" y="820.4"/><use href="#ml" x="950.3" y="811.4"/><use href="#ml" x="947.6" y="805.9"/><use href="#ml" x="944.8" y="815.4"/><use href="#ml" x="942.1" y="815.5"/><use href="#ml" x="939.3" y="818.6"/><use href="#ml" x="936.6" y="815.2"/><use href="#ml" x="933.8" y="813.1"/><use href="#ml" x="931.1" y="811.8"/><use href="#ml" x="928.3" y="816.3"/><use href="#ml" x="925.6" y="813.2"/><use href="#ml" x="922.8" y="817.5"/><use href="#ml" x="920.1" y="811.6"/><use href="#ml" x="917.3" y="812"/><use href="#ml" x="914.6" y="818.8"/><use href="#ml" x="911.8" y="814.8"/><use href="#ml" x="909" y="810.2"/><use href="#ml" x="906.3" y="814.5"/><use href="#ml" x="903.5" y="814.1"/><use href="#ml" x="900.8" y="811.4"/><use href="#ml" x="898" y="814.7"/><use href="#ml" x="895.3" y="816.2"/><use href="#ml" x="892.5" y="805.4"/><use href="#ml" x="889.8" y="808.5"/><use href="#ml" x="887" y="804.6"/><use href="#ml" x="884.3" y="813.8"/><use href="#ml" x="881.5" y="821.6"/><use href="#ml" x="878.8" y="814.4"/><use href="#ml" x="876" y="803.1"/><use href="#ml" x="873.3" y="805.7"/><use href="#ml" x="870.5" y="815.2"/><use href="#ml" x="867.7" y="822.6"/><use href="#ml" x="865" y="818.1"/><use href="#ml" x="862.2" y="818"/><use href="#ml" x="859.5" y="810.6"/><use href="#ml" x="856.7" y="811.9"/><use href="#ml" x="854" y="823"/><use href="#ml" x="851.2" y="812.2"/><use href="#ml" x="848.5" y="809.9"/><use href="#ml" x="845.7" y="810.8"/><use href="#ml" x="843" y="802.9"/><use href="#ml" x="840.2" y="813.1"/><use href="#ml" x="837.5" y="810.8"/><use href="#ml" x="834.7" y="811"/><use href="#ml" x="832" y="810.8"/><use href="#ml" x="829.2" y="810.7"/><use href="#ml" x="826.4" y="810.7"/><use href="#ml" x="823.7" y="805.8"/><use href="#ml" x="820.9" y="806.9"/><use href="#ml" x="818.2" y="800.8"/><use href="#ml" x="815.4" y="808.6"/><use href="#ml" x="812.7" y="812.1"/><use href="#ml" x="809.9" y="808.5"/><use href="#ml" x="807.2" y="819"/><use href="#ml" x="804.4" y="816.6"/><use href="#ml" x="801.7" y="817.6"/><use href="#ml" x="798.9" y="806.1"/><use href="#ml" x="796.2" y="804.1"/><use href="#ml" x="793.4" y="807.4"/><use href="#ml" x="790.7" y="814.8"/><use href="#ml" x="787.9" y="815.2"/>
<path d="M1067.3 725.5L1067.4 726.2" stroke="#f55f42" stroke-width="3.0" fill="none" stroke-linecap="round"/>
<use href="#ms" x="787.9" y="801.7"/><use href="#ms" x="790.7" y="803.4"/><use href="#ms" x="793.4" y="796.8"/><use href="#ms" x="796.2" y="810.3"/><use href="#ms" x="798.9" y="803.9"/><use href="#ms" x="801.7" y="804.5"/><use href="#ms" x="804.4" y="805.1"/><use href="#ms" x="807.2" y="797.7"/><use href="#ms" x="809.9" y="797.2"/><use href="#ms" x="812.7" y="783.4"/><use href="#ms" x="815.4" y="793.3"/><use href="#ms" x="818.2" y="794.8"/><use href="#ms" x="820.9" y="804.2"/><use href="#ms" x="823.7" y="796.6"/><use href="#ms" x="826.4" y="801"/><use href="#ms" x="829.2" y="799"/><use href="#ms" x="832" y="792.7"/><use href="#ms" x="834.7" y="790.4"/><use href="#ms" x="837.5" y="792.8"/><use href="#ms" x="840.2" y="789.9"/><use href="#ms" x="843" y="797.1"/><use href="#ms" x="845.7" y="802.8"/><use href="#ms" x="848.5" y="808.2"/><use href="#ms" x="851.2" y="800.4"/><use href="#ms" x="854" y="789.9"/><use href="#ms" x="856.7" y="796.4"/><use href="#ms" x="859.5" y="797.7"/><use href="#ms" x="862.2" y="799.9"/><use href="#ms" x="865" y="796.9"/><use href="#ms" x="867.7" y="806.9"/><use href="#ms" x="870.5" y="798.2"/><use href="#ms" x="873.3" y="793.1"/><use href="#ms" x="876" y="799.5"/><use href="#ms" x="878.8" y="803.9"/><use href="#ms" x="881.5" y="805.3"/><use href="#ms" x="884.3" y="798.8"/><use href="#ms" x="887" y="791.4"/><use href="#ms" x="889.8" y="800.1"/><use href="#ms" x="892.5" y="806.7"/><use href="#ms" x="895.3" y="801.5"/><use href="#ms" x="898" y="798.3"/><use href="#ms" x="900.8" y="794.7"/><use href="#ms" x="903.5" y="799.9"/><use href="#ms" x="906.3" y="795.2"/><use href="#ms" x="909" y="791.2"/><use href="#ms" x="911.8" y="802.8"/><use href="#ms" x="914.6" y="801.4"/><use href="#ms" x="917.3" y="796.2"/><use href="#ms" x="920.1" y="793.1"/><use href="#ms" x="922.8" y="798.1"/><use href="#ms" x="925.6" y="807.2"/><use href="#ms" x="928.3" y="805.4"/><use href="#ms" x="931.1" y="807.8"/><use href="#ms" x="933.8" y="804.3"/><use href="#ms" x="936.6" y="794.9"/><use href="#ms" x="939.3" y="798.8"/><use href="#ms" x="942.1" y="796.9"/><use href="#ms" x="944.8" y="802.4"/><use href="#ms" x="947.6" y="794.1"/><use href="#ms" x="950.3" y="797.9"/><use href="#ms" x="953.1" y="801.5"/><use href="#ms" x="955.9" y="788.6"/><use href="#ms" x="958.6" y="790.2"/><use href="#ms" x="961.4" y="788.9"/><use href="#ms" x="964.1" y="801.3"/><use href="#ms" x="966.9" y="789.6"/><use href="#ms" x="969.6" y="782.4"/><use href="#ms" x="972.4" y="787.9"/><use href="#ms" x="975.1" y="790.7"/><use href="#ms" x="977.9" y="792.9"/><use href="#ms" x="980.6" y="785.1"/><use href="#ms" x="983.4" y="794"/><use href="#ms" x="986.1" y="788"/><use href="#ms" x="988.9" y="776.3"/><use href="#ms" x="991.6" y="779.4"/><use href="#ms" x="994.4" y="770.8"/><use href="#ms" x="997.2" y="775.5"/><use href="#ms" x="999.9" y="778"/><use href="#ms" x="1002.7" y="771.8"/><use href="#ms" x="1005.4" y="772.3"/><use href="#ms" x="1008.2" y="769.9"/><use href="#ms" x="1010.9" y="769.1"/><use href="#ms" x="1013.7" y="770.3"/><use href="#ms" x="1016.4" y="763.4"/><use href="#ms" x="1019.2" y="752.1"/><use href="#ms" x="1021.9" y="741.9"/><use href="#ms" x="1024.7" y="737.2"/><use href="#ms" x="1027.4" y="728"/><use href="#ms" x="1030.2" y="720.8"/><use href="#ms" x="1032.9" y="707.8"/><use href="#ms" x="1035.7" y="693.8"/><use href="#ms" x="1038.5" y="679.6"/><use href="#ms" x="1041.2" y="666.1"/><use href="#ms" x="1044" y="655.3"/><use href="#ms" x="1046.7" y="648.6"/><use href="#ms" x="1049.5" y="649.9"/><use href="#ms" x="1052.2" y="657.3"/><use href="#ms" x="1055" y="671.6"/><use href="#ms" x="1057.7" y="685.5"/><use href="#ms" x="1060.5" y="697.8"/><use href="#ms" x="1063.2" y="709.4"/><use href="#ms" x="1066" y="717.9"/><use href="#ms" x="1068.7" y="733.8"/><use href="#ms" x="1071.5" y="738.2"/><use href="#ms" x="1074.2" y="742.8"/><use href="#ms" x="1077" y="749"/><use href="#ms" x="1079.8" y="755.9"/><use href="#ms" x="1082.5" y="755.2"/><use href="#ms" x="1085.3" y="757.7"/><use href="#ms" x="1088" y="756.5"/><use href="#ms" x="1090.8" y="769"/><use href="#ms" x="1093.5" y="770.3"/><use href="#ms" x="1096.3" y="759.7"/><use href="#ms" x="1099" y="761.9"/><use href="#ms" x="1101.8" y="768.4"/><use href="#ms" x="1104.5" y="769.5"/><use href="#ms" x="1107.3" y="775.3"/><use href="#ms" x="1110" y="764.9"/><use href="#ms" x="1112.8" y="760.5"/><use href="#ms" x="1115.6" y="761.6"/><use href="#ms" x="1118.3" y="760.8"/><use href="#ms" x="1121.1" y="764.3"/><use href="#ms" x="1123.8" y="762"/><use href="#ms" x="1126.6" y="764.7"/><use href="#ms" x="1129.3" y="762.3"/><use href="#ms" x="1132.1" y="768.6"/><use href="#ms" x="1134.8" y="772"/><use href="#ms" x="1137.6" y="776.1"/><use href="#ms" x="1140.3" y="777.8"/><use href="#ms" x="1143.1" y="784.4"/><use href="#ms" x="1145.8" y="773.3"/><use href="#ms" x="1148.6" y="768.3"/><use href="#ms" x="1151.3" y="769.6"/><use href="#ms" x="1154.1" y="769.2"/><use href="#ms" x="1156.9" y="773.2"/><use href="#ms" x="1159.6" y="774"/><use href="#ms" x="1162.4" y="783.7"/><use href="#ms" x="1165.1" y="782.2"/><use href="#ms" x="1167.9" y="790.3"/><use href="#ms" x="1170.6" y="788.8"/><use href="#ms" x="1173.4" y="786.5"/><use href="#ms" x="1176.1" y="785.9"/><use href="#ms" x="1178.9" y="789.6"/><use href="#ms" x="1181.6" y="780.1"/><use href="#ms" x="1184.4" y="777.6"/><use href="#ms" x="1187.1" y="784.2"/><use href="#ms" x="1189.9" y="791"/><use href="#ms" x="1192.6" y="790.6"/><use href="#ms" x="1195.4" y="783.8"/><use href="#ms" x="1198.2" y="795"/><use href="#ms" x="1200.9" y="786.9"/><use href="#ms" x="1203.7" y="788.2"/><use href="#ms" x="1206.4" y="790.3"/><use href="#ms" x="1209.2" y="784.5"/><use href="#ms" x="1211.9" y="787.1"/><use href="#ms" x="1214.7" y="790.2"/><use href="#ms" x="1217.4" y="784.1"/><use href="#ms" x="1220.2" y="795.3"/><use href="#ms" x="1222.9" y="784.9"/><use href="#ms" x="1225.7" y="792.4"/><use href="#ms" x="1228.4" y="795.9"/><use href="#ms" x="1231.2" y="785.7"/><use href="#ms" x="1233.9" y="772.8"/><use href="#ms" x="1236.7" y="777.3"/><use href="#ms" x="1239.5" y="789.7"/><use href="#ms" x="1242.2" y="801.9"/><use href="#ms" x="1245" y="795.6"/><use href="#ms" x="1247.7" y="794.1"/><use href="#ms" x="1250.5" y="796.3"/><use href="#ms" x="1253.2" y="795.2"/><use href="#ms" x="1256" y="797.5"/><use href="#ms" x="1258.7" y="791.1"/><use href="#ms" x="1261.5" y="792.8"/><use href="#ms" x="1264.2" y="794.3"/><use href="#ms" x="1267" y="804.8"/><use href="#ms" x="1269.7" y="797.5"/><use href="#ms" x="1272.5" y="802.6"/><use href="#ms" x="1275.2" y="794.3"/><use href="#ms" x="1278" y="794.3"/><use href="#ms" x="1280.8" y="804.2"/><use href="#ms" x="1283.5" y="800.3"/><use href="#ms" x="1286.3" y="802.8"/><use href="#ms" x="1289" y="795.4"/><use href="#ms" x="1291.8" y="792.6"/><use href="#ms" x="1294.5" y="788.4"/><use href="#ms" x="1297.3" y="795.5"/><use href="#ms" x="1300" y="792.5"/><use href="#ms" x="1302.8" y="800.4"/><use href="#ms" x="1305.5" y="795.6"/><use href="#ms" x="1308.3" y="796.2"/><use href="#ms" x="1311" y="794.2"/>
<path d="M1034.4 867.4L1034.2 866.1" stroke="#f55f42" stroke-width="3.0" fill="none" stroke-linecap="round"/>
<use href="#ms" x="1311" y="791.4"/><use href="#ms" x="1308.3" y="796.1"/><use href="#ms" x="1305.5" y="790.6"/><use href="#ms" x="1302.8" y="802.6"/><use href="#ms" x="1300" y="807.9"/><use href="#ms" x="1297.3" y="803.5"/><use href="#ms" x="1294.5" y="803.1"/><use href="#ms" x="1291.8" y="792.5"/><use href="#ms" x="1289" y="798.8"/><use href="#ms" x="1286.3" y="794.6"/><use href="#ms" x="1283.5" y="788.7"/><use href="#ms" x="1280.8" y="787.9"/><use href="#ms" x="1278" y="795.8"/><use href="#ms" x="1275.2" y="803.4"/><use href="#ms" x="1272.5" y="794.6"/><use href="#ms" x="1269.7" y="800"/><use href="#ms" x="1267" y="799"/><use href="#ms" x="1264.2" y="803.6"/><use href="#ms" x="1261.5" y="803.5"/><use href="#ms" x="1258.7" y="798.8"/><use href="#ms" x="1256" y="787"/><use href="#ms" x="1253.2" y="797"/><use href="#ms" x="1250.5" y="792.6"/><use href="#ms" x="1247.7" y="790.6"/><use href="#ms" x="1245" y="790.3"/><use href="#ms" x="1242.2" y="794.5"/><use href="#ms" x="1239.5" y="801.7"/><use href="#ms" x="1236.7" y="803.1"/><use href="#ms" x="1233.9" y="797.6"/><use href="#ms" x="1231.2" y="797.9"/><use href="#ms" x="1228.4" y="797.9"/><use href="#ms" x="1225.7" y="788.6"/><use href="#ms" x="1222.9" y="793.2"/><use href="#ms" x="1220.2" y="790.1"/><use href="#ms" x="1217.4" y="797.3"/><use href="#ms" x="1214.7" y="787.9"/><use href="#ms" x="1211.9" y="790.5"/><use href="#ms" x="1209.2" y="795"/><use href="#ms" x="1206.4" y="798"/><use href="#ms" x="1203.7" y="795.7"/><use href="#ms" x="1200.9" y="794.6"/><use href="#ms" x="1198.2" y="802.1"/><use href="#ms" x="1195.4" y="795.2"/><use href="#ms" x="1192.6" y="799.8"/><use href="#ms" x="1189.9" y="800.8"/><use href="#ms" x="1187.1" y="800.8"/><use href="#ms" x="1184.4" y="796.1"/><use href="#ms" x="1181.6" y="799.3"/><use href="#ms" x="1178.9" y="798.5"/><use href="#ms" x="1176.1" y="795.5"/><use href="#ms" x="1173.4" y="802.8"/><use href="#ms" x="1170.6" y="801.6"/><use href="#ms" x="1167.9" y="806.8"/><use href="#ms" x="1165.1" y="795.8"/><use href="#ms" x="1162.4" y="794.4"/><use href="#ms" x="1159.6" y="792.2"/><use href="#ms" x="1156.9" y="792.9"/><use href="#ms" x="1154.1" y="796.3"/><use href="#ms" x="1151.3" y="794.6"/><use href="#ms" x="1148.6" y="804.9"/><use href="#ms" x="1145.8" y="797"/><use href="#ms" x="1143.1" y="793"/><use href="#ms" x="1140.3" y="800.8"/><use href="#ms" x="1137.6" y="796.8"/><use href="#ms" x="1134.8" y="795.9"/><use href="#ms" x="1132.1" y="797.2"/><use href="#ms" x="1129.3" y="791.2"/><use href="#ms" x="1126.6" y="791.8"/><use href="#ms" x="1123.8" y="798.1"/><use href="#ms" x="1121.1" y="787.4"/><use href="#ms" x="1118.3" y="793.6"/><use href="#ms" x="1115.6" y="796.4"/><use href="#ms" x="1112.8" y="797.5"/><use href="#ms" x="1110" y="804.6"/><use href="#ms" x="1107.3" y="801.9"/><use href="#ms" x="1104.5" y="804"/><use href="#ms" x="1101.8" y="809.1"/><use href="#ms" x="1099" y="811.1"/><use href="#ms" x="1096.3" y="806.2"/><use href="#ms" x="1093.5" y="809"/><use href="#ms" x="1090.8" y="814.3"/><use href="#ms" x="1088" y="806.6"/><use href="#ms" x="1085.3" y="818.9"/><use href="#ms" x="1082.5" y="827"/><use href="#ms" x="1079.8" y="832.7"/><use href="#ms" x="1077" y="841.4"/><use href="#ms" x="1074.2" y="852.6"/><use href="#ms" x="1071.5" y="861"/><use href="#ms" x="1068.7" y="867.9"/><use href="#ms" x="1066" y="877"/><use href="#ms" x="1063.2" y="891.2"/><use href="#ms" x="1060.5" y="902.3"/><use href="#ms" x="1057.7" y="914.4"/><use href="#ms" x="1055" y="926.1"/><use href="#ms" x="1052.2" y="930"/><use href="#ms" x="1049.5" y="928.9"/><use href="#ms" x="1046.7" y="921.6"/><use href="#ms" x="1044" y="908.5"/><use href="#ms" x="1041.2" y="896.9"/><use href="#ms" x="1038.5" y="884.3"/><use href="#ms" x="1035.7" y="875"/><use href="#ms" x="1032.9" y="858.5"/><use href="#ms" x="1030.2" y="851.3"/><use href="#ms" x="1027.4" y="845.4"/><use href="#ms" x="1024.7" y="836.9"/><use href="#ms" x="1021.9" y="834.7"/><use href="#ms" x="1019.2" y="833.5"/><use href="#ms" x="1016.4" y="836.5"/><use href="#ms" x="1013.7" y="831.2"/><use href="#ms" x="1010.9" y="820.9"/><use href="#ms" x="1008.2" y="821.1"/><use href="#ms" x="1005.4" y="823.8"/><use href="#ms" x="1002.7" y="820.8"/><use href="#ms" x="999.9" y="810.9"/><use href="#ms" x="997.2" y="818.8"/><use href="#ms" x="994.4" y="820.7"/><use href="#ms" x="991.6" y="809.7"/><use href="#ms" x="988.9" y="811.3"/><use href="#ms" x="986.1" y="802"/><use href="#ms" x="983.4" y="814.1"/><use href="#ms" x="980.6" y="805.7"/><use href="#ms" x="977.9" y="816.5"/><use href="#ms" x="975.1" y="818.5"/><use href="#ms" x="972.4" y="813.6"/><use href="#ms" x="969.6" y="810.9"/><use href="#ms" x="966.9" y="814"/><use href="#ms" x="964.1" y="813"/><use href="#ms" x="961.4" y="813.7"/><use href="#ms" x="958.6" y="815.4"/><use href="#ms" x="955.9" y="817.4"/><use href="#ms" x="953.1" y="818.8"/><use href="#ms" x="950.3" y="814.2"/><use href="#ms" x="947.6" y="811.2"/><use href="#ms" x="944.8" y="816.8"/><use href="#ms" x="942.1" y="819.7"/><use href="#ms" x="939.3" y="821.6"/><use href="#ms" x="936.6" y="823.9"/><use href="#ms" x="933.8" y="817.2"/><use href="#ms" x="931.1" y="812.5"/><use href="#ms" x="928.3" y="804.6"/><use href="#ms" x="925.6" y="809.7"/><use href="#ms" x="922.8" y="815.2"/><use href="#ms" x="920.1" y="812.3"/><use href="#ms" x="917.3" y="805.3"/><use href="#ms" x="914.6" y="804.6"/><use href="#ms" x="911.8" y="808.5"/><use href="#ms" x="909" y="805.1"/><use href="#ms" x="906.3" y="814.6"/><use href="#ms" x="903.5" y="803.7"/><use href="#ms" x="900.8" y="805.9"/><use href="#ms" x="898" y="806.6"/><use href="#ms" x="895.3" y="812"/><use href="#ms" x="892.5" y="812"/><use href="#ms" x="889.8" y="813.1"/><use href="#ms" x="887" y="801.2"/><use href="#ms" x="884.3" y="798.6"/><use href="#ms" x="881.5" y="804.4"/><use href="#ms" x="878.8" y="805.7"/><use href="#ms" x="876" y="804.9"/><use href="#ms" x="873.3" y="807.7"/><use href="#ms" x="870.5" y="814.3"/><use href="#ms" x="867.7" y="813.5"/><use href="#ms" x="865" y="815.4"/><use href="#ms" x="862.2" y="812.9"/><use href="#ms" x="859.5" y="817.6"/><use href="#ms" x="856.7" y="824.3"/><use href="#ms" x="854" y="824"/><use href="#ms" x="851.2" y="821.1"/><use href="#ms" x="848.5" y="816.3"/><use href="#ms" x="845.7" y="804.2"/><use href="#ms" x="843" y="809"/><use href="#ms" x="840.2" y="805.3"/><use href="#ms" x="837.5" y="812.9"/><use href="#ms" x="834.7" y="804.2"/><use href="#ms" x="832" y="803.4"/><use href="#ms" x="829.2" y="804.9"/><use href="#ms" x="826.4" y="800.2"/><use href="#ms" x="823.7" y="807.9"/><use href="#ms" x="820.9" y="804.6"/><use href="#ms" x="818.2" y="807.8"/><use href="#ms" x="815.4" y="805.5"/><use href="#ms" x="812.7" y="809.2"/><use href="#ms" x="809.9" y="810.3"/><use href="#ms" x="807.2" y="813.1"/><use href="#ms" x="804.4" y="809.4"/><use href="#ms" x="801.7" y="805.4"/><use href="#ms" x="798.9" y="801.4"/><use href="#ms" x="796.2" y="808.6"/><use href="#ms" x="793.4" y="807.4"/><use href="#ms" x="790.7" y="803.1"/><use href="#ms" x="787.9" y="808.3"/>
<use href="#mr" x="787.9" y="795.5"/><use href="#mr" x="790.7" y="795.3"/><use href="#mr" x="793.4" y="795.3"/><use href="#mr" x="796.2" y="787.5"/><use href="#mr" x="798.9" y="793.3"/><use href="#mr" x="801.7" y="794.9"/><use href="#mr" x="804.4" y="792.3"/><use href="#mr" x="807.2" y="783.7"/><use href="#mr" x="809.9" y="787"/><use href="#mr" x="812.7" y="780.2"/><use href="#mr" x="815.4" y="783.8"/><use href="#mr" x="818.2" y="788.5"/><use href="#mr" x="820.9" y="783.9"/><use href="#mr" x="823.7" y="790.1"/><use href="#mr" x="826.4" y="794.5"/><use href="#mr" x="829.2" y="791.6"/><use href="#mr" x="832" y="798.2"/><use href="#mr" x="834.7" y="799.4"/><use href="#mr" x="837.5" y="798.1"/><use href="#mr" x="840.2" y="793.5"/><use href="#mr" x="843" y="786.6"/><use href="#mr" x="845.7" y="782.9"/><use href="#mr" x="848.5" y="787.7"/><use href="#mr" x="851.2" y="787.8"/><use href="#mr" x="854" y="790.4"/><use href="#mr" x="856.7" y="796.9"/><use href="#mr" x="859.5" y="791.1"/><use href="#mr" x="862.2" y="793.9"/><use href="#mr" x="865" y="788"/><use href="#mr" x="867.7" y="791.5"/><use href="#mr" x="870.5" y="795.4"/><use href="#mr" x="873.3" y="790.6"/><use href="#mr" x="876" y="792.7"/><use href="#mr" x="878.8" y="797.3"/><use href="#mr" x="881.5" y="788"/><use href="#mr" x="884.3" y="787.3"/><use href="#mr" x="887" y="786.9"/><use href="#mr" x="889.8" y="787.9"/><use href="#mr" x="892.5" y="791.4"/><use href="#mr" x="895.3" y="803.7"/><use href="#mr" x="898" y="798.4"/><use href="#mr" x="900.8" y="795.4"/><use href="#mr" x="903.5" y="789.9"/><use href="#mr" x="906.3" y="795.7"/><use href="#mr" x="909" y="789.7"/><use href="#mr" x="911.8" y="789.1"/><use href="#mr" x="914.6" y="781.8"/><use href="#mr" x="917.3" y="789.1"/><use href="#mr" x="920.1" y="788.7"/><use href="#mr" x="922.8" y="787.4"/><use href="#mr" x="925.6" y="785.1"/><use href="#mr" x="928.3" y="780.6"/><use href="#mr" x="931.1" y="782.4"/><use href="#mr" x="933.8" y="792.2"/><use href="#mr" x="936.6" y="781.8"/><use href="#mr" x="939.3" y="794.6"/><use href="#mr" x="942.1" y="787.6"/><use href="#mr" x="944.8" y="781.1"/><use href="#mr" x="947.6" y="787.7"/><use href="#mr" x="950.3" y="787.5"/><use href="#mr" x="953.1" y="787.4"/><use href="#mr" x="955.9" y="792.2"/><use href="#mr" x="958.6" y="787.1"/><use href="#mr" x="961.4" y="791.1"/><use href="#mr" x="964.1" y="786.6"/><use href="#mr" x="966.9" y="783.2"/><use href="#mr" x="969.6" y="779.2"/><use href="#mr" x="972.4" y="776.1"/><use href="#mr" x="975.1" y="779.1"/><use href="#mr" x="977.9" y="780"/><use href="#mr" x="980.6" y="783.6"/><use href="#mr" x="983.4" y="784.3"/><use href="#mr" x="986.1" y="779.8"/><use href="#mr" x="988.9" y="778"/><use href="#mr" x="991.6" y="778.4"/><use href="#mr" x="994.4" y="780.5"/><use href="#mr" x="997.2" y="776"/><use href="#mr" x="999.9" y="783.9"/><use href="#mr" x="1002.7" y="784"/><use href="#mr" x="1005.4" y="779.8"/><use href="#mr" x="1008.2" y="772.7"/><use href="#mr" x="1010.9" y="780"/><use href="#mr" x="1013.7" y="781.5"/><use href="#mr" x="1016.4" y="781.6"/><use href="#mr" x="1019.2" y="770.8"/><use href="#mr" x="1021.9" y="764.1"/><use href="#mr" x="1024.7" y="756.5"/><use href="#mr" x="1027.4" y="748.8"/><use href="#mr" x="1030.2" y="756"/><use href="#mr" x="1032.9" y="752.2"/><use href="#mr" x="1035.7" y="748.2"/><use href="#mr" x="1038.5" y="744"/><use href="#mr" x="1041.2" y="736.4"/><use href="#mr" x="1044" y="731.3"/><use href="#mr" x="1046.7" y="725.8"/><use href="#mr" x="1049.5" y="723"/><use href="#mr" x="1052.2" y="723.5"/><use href="#mr" x="1055" y="721.3"/><use href="#mr" x="1057.7" y="722.4"/><use href="#mr" x="1060.5" y="727.4"/><use href="#mr" x="1063.2" y="735.6"/><use href="#mr" x="1066" y="743.7"/><use href="#mr" x="1068.7" y="749.3"/><use href="#mr" x="1071.5" y="749.8"/><use href="#mr" x="1074.2" y="750.9"/><use href="#mr" x="1077" y="755"/><use href="#mr" x="1079.8" y="758.5"/><use href="#mr" x="1082.5" y="773.4"/><use href="#mr" x="1085.3" y="768.2"/><use href="#mr" x="1088" y="771.6"/><use href="#mr" x="1090.8" y="772.1"/><use href="#mr" x="1093.5" y="776.7"/><use href="#mr" x="1096.3" y="784.5"/><use href="#mr" x="1099" y="775.4"/><use href="#mr" x="1101.8" y="773.7"/><use href="#mr" x="1104.5" y="780.5"/><use href="#mr" x="1107.3" y="786.3"/><use href="#mr" x="1110" y="784.9"/><use href="#mr" x="1112.8" y="777.5"/><use href="#mr" x="1115.6" y="776.1"/><use href="#mr" x="1118.3" y="778.1"/><use href="#mr" x="1121.1" y="775.2"/><use href="#mr" x="1123.8" y="776.9"/><use href="#mr" x="1126.6" y="784.1"/><use href="#mr" x="1129.3" y="780"/><use href="#mr" x="1132.1" y="781.7"/><use href="#mr" x="1134.8" y="786.5"/><use href="#mr" x="1137.6" y="779.4"/><use href="#mr" x="1140.3" y="779.8"/><use href="#mr" x="1143.1" y="789.2"/><use href="#mr" x="1145.8" y="783.1"/><use href="#mr" x="1148.6" y="783.2"/><use href="#mr" x="1151.3" y="786.2"/><use href="#mr" x="1154.1" y="788.2"/><use href="#mr" x="1156.9" y="792.1"/><use href="#mr" x="1159.6" y="796.1"/><use href="#mr" x="1162.4" y="789.8"/><use href="#mr" x="1165.1" y="786.2"/><use href="#mr" x="1167.9" y="788.6"/><use href="#mr" x="1170.6" y="787.1"/><use href="#mr" x="1173.4" y="789.7"/><use href="#mr" x="1176.1" y="790.9"/><use href="#mr" x="1178.9" y="787.5"/><use href="#mr" x="1181.6" y="786.2"/><use href="#mr" x="1184.4" y="781.4"/><use href="#mr" x="1187.1" y="788.4"/><use href="#mr" x="1189.9" y="787.8"/><use href="#mr" x="1192.6" y="790.2"/><use href="#mr" x="1195.4" y="789.6"/><use href="#mr" x="1198.2" y="784.5"/><use href="#mr" x="1200.9" y="786.5"/><use href="#mr" x="1203.7" y="793.2"/><use href="#mr" x="1206.4" y="794.8"/><use href="#mr" x="1209.2" y="796.3"/><use href="#mr" x="1211.9" y="795.5"/><use href="#mr" x="1214.7" y="797.2"/><use href="#mr" x="1217.4" y="797.2"/><use href="#mr" x="1220.2" y="795.8"/><use href="#mr" x="1222.9" y="792.9"/><use href="#mr" x="1225.7" y="797.3"/><use href="#mr" x="1228.4" y="795"/><use href="#mr" x="1231.2" y="794.2"/><use href="#mr" x="1233.9" y="790"/><use href="#mr" x="1236.7" y="791.1"/><use href="#mr" x="1239.5" y="790.3"/><use href="#mr" x="1242.2" y="791.3"/><use href="#mr" x="1245" y="787.6"/><use href="#mr" x="1247.7" y="792"/><use href="#mr" x="1250.5" y="800.6"/><use href="#mr" x="1253.2" y="795.7"/><use href="#mr" x="1256" y="799.9"/><use href="#mr" x="1258.7" y="807.8"/><use href="#mr" x="1261.5" y="798.5"/><use href="#mr" x="1264.2" y="796.8"/><use href="#mr" x="1267" y="795"/><use href="#mr" x="1269.7" y="793"/><use href="#mr" x="1272.5" y="795.1"/><use href="#mr" x="1275.2" y="790.2"/><use href="#mr" x="1278" y="792.8"/><use href="#mr" x="1280.8" y="795.7"/><use href="#mr" x="1283.5" y="795.5"/><use href="#mr" x="1286.3" y="805.2"/><use href="#mr" x="1289" y="797.5"/><use href="#mr" x="1291.8" y="803.5"/><use href="#mr" x="1294.5" y="797.3"/><use href="#mr" x="1297.3" y="797.1"/><use href="#mr" x="1300" y="796"/><use href="#mr" x="1302.8" y="799.7"/><use href="#mr" x="1305.5" y="789.7"/><use href="#mr" x="1308.3" y="802.7"/><use href="#mr" x="1311" y="799.6"/>
<path d="M849.9 809.4L849.8 810.4" stroke="#d3190e" stroke-width="3.0" fill="none" stroke-linecap="round"/>
<use href="#mr" x="1311" y="803.4"/><use href="#mr" x="1308.3" y="804.6"/><use href="#mr" x="1305.5" y="804.1"/><use href="#mr" x="1302.8" y="801.5"/><use href="#mr" x="1300" y="795.9"/><use href="#mr" x="1297.3" y="792.8"/><use href="#mr" x="1294.5" y="800.8"/><use href="#mr" x="1291.8" y="804"/><use href="#mr" x="1289" y="807.3"/><use href="#mr" x="1286.3" y="813.3"/><use href="#mr" x="1283.5" y="805.6"/><use href="#mr" x="1280.8" y="798.5"/><use href="#mr" x="1278" y="791.8"/><use href="#mr" x="1275.2" y="793.3"/><use href="#mr" x="1272.5" y="800.8"/><use href="#mr" x="1269.7" y="807"/><use href="#mr" x="1267" y="800.9"/><use href="#mr" x="1264.2" y="796.2"/><use href="#mr" x="1261.5" y="802.5"/><use href="#mr" x="1258.7" y="794.1"/><use href="#mr" x="1256" y="793.2"/><use href="#mr" x="1253.2" y="795.6"/><use href="#mr" x="1250.5" y="790.4"/><use href="#mr" x="1247.7" y="795"/><use href="#mr" x="1245" y="791"/><use href="#mr" x="1242.2" y="797.9"/><use href="#mr" x="1239.5" y="794.8"/><use href="#mr" x="1236.7" y="798.2"/><use href="#mr" x="1233.9" y="793.2"/><use href="#mr" x="1231.2" y="794.1"/><use href="#mr" x="1228.4" y="796.1"/><use href="#mr" x="1225.7" y="800.2"/><use href="#mr" x="1222.9" y="804.2"/><use href="#mr" x="1220.2" y="800.5"/><use href="#mr" x="1217.4" y="801.4"/><use href="#mr" x="1214.7" y="793.7"/><use href="#mr" x="1211.9" y="795.6"/><use href="#mr" x="1209.2" y="795.2"/><use href="#mr" x="1206.4" y="803.9"/><use href="#mr" x="1203.7" y="801.8"/><use href="#mr" x="1200.9" y="796.9"/><use href="#mr" x="1198.2" y="797.8"/><use href="#mr" x="1195.4" y="790.2"/><use href="#mr" x="1192.6" y="800.1"/><use href="#mr" x="1189.9" y="790.6"/><use href="#mr" x="1187.1" y="797.4"/><use href="#mr" x="1184.4" y="794.3"/><use href="#mr" x="1181.6" y="791.4"/><use href="#mr" x="1178.9" y="796.7"/><use href="#mr" x="1176.1" y="801.1"/><use href="#mr" x="1173.4" y="794.1"/><use href="#mr" x="1170.6" y="803.8"/><use href="#mr" x="1167.9" y="804.7"/><use href="#mr" x="1165.1" y="797.8"/><use href="#mr" x="1162.4" y="801.7"/><use href="#mr" x="1159.6" y="798.3"/><use href="#mr" x="1156.9" y="791.2"/><use href="#mr" x="1154.1" y="792.4"/><use href="#mr" x="1151.3" y="793.4"/><use href="#mr" x="1148.6" y="795"/><use href="#mr" x="1145.8" y="802.7"/><use href="#mr" x="1143.1" y="793.2"/><use href="#mr" x="1140.3" y="789"/><use href="#mr" x="1137.6" y="798.4"/><use href="#mr" x="1134.8" y="800.4"/><use href="#mr" x="1132.1" y="795.6"/><use href="#mr" x="1129.3" y="803.7"/><use href="#mr" x="1126.6" y="803.4"/><use href="#mr" x="1123.8" y="806.5"/><use href="#mr" x="1121.1" y="805.5"/><use href="#mr" x="1118.3" y="808.1"/><use href="#mr" x="1115.6" y="796.6"/><use href="#mr" x="1112.8" y="791.3"/><use href="#mr" x="1110" y="798.1"/><use href="#mr" x="1107.3" y="802.4"/><use href="#mr" x="1104.5" y="810.2"/><use href="#mr" x="1101.8" y="812.6"/><use href="#mr" x="1099" y="811.7"/><use href="#mr" x="1096.3" y="812.4"/><use href="#mr" x="1093.5" y="812.8"/><use href="#mr" x="1090.8" y="810.9"/><use href="#mr" x="1088" y="804.8"/><use href="#mr" x="1085.3" y="812"/><use href="#mr" x="1082.5" y="824.2"/><use href="#mr" x="1079.8" y="828.8"/><use href="#mr" x="1077" y="826.9"/><use href="#mr" x="1074.2" y="828"/><use href="#mr" x="1071.5" y="832.1"/><use href="#mr" x="1068.7" y="835.4"/><use href="#mr" x="1066" y="842"/><use href="#mr" x="1063.2" y="848"/><use href="#mr" x="1060.5" y="856"/><use href="#mr" x="1057.7" y="860.3"/><use href="#mr" x="1055" y="865.5"/><use href="#mr" x="1052.2" y="864.6"/><use href="#mr" x="1049.5" y="866"/><use href="#mr" x="1046.7" y="867.7"/><use href="#mr" x="1044" y="864.5"/><use href="#mr" x="1041.2" y="858.5"/><use href="#mr" x="1038.5" y="853.5"/><use href="#mr" x="1035.7" y="847.7"/><use href="#mr" x="1032.9" y="845.2"/><use href="#mr" x="1030.2" y="833.5"/><use href="#mr" x="1027.4" y="831.1"/><use href="#mr" x="1024.7" y="826"/><use href="#mr" x="1021.9" y="822.8"/><use href="#mr" x="1019.2" y="813.8"/><use href="#mr" x="1016.4" y="820"/><use href="#mr" x="1013.7" y="815"/><use href="#mr" x="1010.9" y="813.7"/><use href="#mr" x="1008.2" y="815.5"/><use href="#mr" x="1005.4" y="820.1"/><use href="#mr" x="1002.7" y="818"/><use href="#mr" x="999.9" y="813.9"/><use href="#mr" x="997.2" y="807.6"/><use href="#mr" x="994.4" y="807.1"/><use href="#mr" x="991.6" y="809"/><use href="#mr" x="988.9" y="804.9"/><use href="#mr" x="986.1" y="805.8"/><use href="#mr" x="983.4" y="813.5"/><use href="#mr" x="980.6" y="818.2"/><use href="#mr" x="977.9" y="811.4"/><use href="#mr" x="975.1" y="810.7"/><use href="#mr" x="972.4" y="804"/><use href="#mr" x="969.6" y="807.7"/><use href="#mr" x="966.9" y="808.1"/><use href="#mr" x="964.1" y="812.5"/><use href="#mr" x="961.4" y="813"/><use href="#mr" x="958.6" y="807.1"/><use href="#mr" x="955.9" y="803.9"/><use href="#mr" x="953.1" y="799.3"/><use href="#mr" x="950.3" y="804"/><use href="#mr" x="947.6" y="801.5"/><use href="#mr" x="944.8" y="802.1"/><use href="#mr" x="942.1" y="801.4"/><use href="#mr" x="939.3" y="801.9"/><use href="#mr" x="936.6" y="801.3"/><use href="#mr" x="933.8" y="801.9"/><use href="#mr" x="931.1" y="800.4"/><use href="#mr" x="928.3" y="803.6"/><use href="#mr" x="925.6" y="805.4"/><use href="#mr" x="922.8" y="801.5"/><use href="#mr" x="920.1" y="800.8"/><use href="#mr" x="917.3" y="809.7"/><use href="#mr" x="914.6" y="806"/><use href="#mr" x="911.8" y="794.9"/><use href="#mr" x="909" y="803.6"/><use href="#mr" x="906.3" y="808.5"/><use href="#mr" x="903.5" y="793.5"/><use href="#mr" x="900.8" y="798.8"/><use href="#mr" x="898" y="805.3"/><use href="#mr" x="895.3" y="807.1"/><use href="#mr" x="892.5" y="808.7"/><use href="#mr" x="889.8" y="803.4"/><use href="#mr" x="887" y="808.2"/><use href="#mr" x="884.3" y="806.9"/><use href="#mr" x="881.5" y="798.5"/><use href="#mr" x="878.8" y="795.9"/><use href="#mr" x="876" y="797.5"/><use href="#mr" x="873.3" y="794.7"/><use href="#mr" x="870.5" y="798.6"/><use href="#mr" x="867.7" y="796.1"/><use href="#mr" x="865" y="808.3"/><use href="#mr" x="862.2" y="803.1"/><use href="#mr" x="859.5" y="798.3"/><use href="#mr" x="856.7" y="799.6"/><use href="#mr" x="854" y="806.6"/><use href="#mr" x="851.2" y="801.8"/><use href="#mr" x="848.5" y="818"/><use href="#mr" x="845.7" y="804.2"/><use href="#mr" x="843" y="800.2"/><use href="#mr" x="840.2" y="803.5"/><use href="#mr" x="837.5" y="799.2"/><use href="#mr" x="834.7" y="803.7"/><use href="#mr" x="832" y="798.1"/><use href="#mr" x="829.2" y="796.3"/><use href="#mr" x="826.4" y="801.6"/><use href="#mr" x="823.7" y="802.4"/><use href="#mr" x="820.9" y="803.5"/><use href="#mr" x="818.2" y="797.1"/><use href="#mr" x="815.4" y="799.2"/><use href="#mr" x="812.7" y="810.2"/><use href="#mr" x="809.9" y="805.9"/><use href="#mr" x="807.2" y="796.8"/><use href="#mr" x="804.4" y="795.9"/><use href="#mr" x="801.7" y="793.2"/><use href="#mr" x="798.9" y="790"/><use href="#mr" x="796.2" y="800.3"/><use href="#mr" x="793.4" y="799.8"/><use href="#mr" x="790.7" y="811.7"/><use href="#mr" x="787.9" y="806.4"/>
</g>
<path d="M1148.5 632.8H1165M1176 632.8H1192.4" stroke="#264c9e" stroke-width="3.2" stroke-linecap="round" fill="none"/>
<use href="#ld" x="1170.5" y="632.8"/>
<text transform="translate(1198.9 639.3)" font-size="24">54.8 nm</text>
<path d="M1148.5 662.6H1165M1176 662.6H1192.4" stroke="#60a5d3" stroke-width="3.2" stroke-linecap="round" fill="none"/>
<use href="#ll" x="1170.5" y="662.6"/>
<text transform="translate(1198.9 669.1)" font-size="24">62.1 nm</text>
<path d="M1148.5 692.3H1165M1176 692.3H1192.4" stroke="#f55f42" stroke-width="3.2" stroke-linecap="round" fill="none"/>
<use href="#ls" x="1170.5" y="692.3"/>
<text transform="translate(1198.9 698.8)" font-size="24">78.7 nm</text>
<path d="M1148.5 722.1H1165M1176 722.1H1192.4" stroke="#d3190e" stroke-width="3.2" stroke-linecap="round" fill="none"/>
<use href="#lr5" x="1170.5" y="722.1"/>
<text transform="translate(1198.9 728.6)" font-size="24">111 nm</text>
<rect x="1159.5" y="844" width="139" height="48.3" fill="#aeaaa9"/>
<rect x="1159.5" y="892" width="139" height="48.8" fill="#3e7cc6"/>
<rect x="1159.5" y="940.5" width="139" height="48" fill="#c81e10"/>
<text transform="translate(1229 881.6) scale(0.99 1.045)" font-size="38" font-weight="normal" fill="#fff" text-anchor="middle">Pd</text>
<text transform="translate(1229 930.1) scale(0.99 1.045)" font-size="38" font-weight="normal" fill="#fff" text-anchor="middle">PVEO</text>
<text transform="translate(1229 978.1) scale(0.99 1.045)" font-size="38" font-weight="normal" fill="#fff" text-anchor="middle">NiFe</text>
<rect x="787.9" y="584.9" width="524.4" height="422.4" fill="none" stroke="#000" stroke-width="2.7"/>
<path d="M919 1007.2v-7.9M919 584.9v7.9M1050.1 1007.2v-7.9M1050.1 584.9v7.9M1181.2 1007.2v-7.9M1181.2 584.9v7.9M787.9 901.7h7.9M1312.3 901.7h-7.9M787.9 796.1h7.9M1312.3 796.1h-7.9M787.9 690.5h7.9M1312.3 690.5h-7.9" stroke="#000" stroke-width="3.0" fill="none"/>
<g clip-path="url(#cel)">
<text transform="translate(787.5 1038.3) scale(0.99 1.05)" font-size="28" text-anchor="middle">−100</text>
<text transform="translate(918.6 1038.3) scale(0.99 1.05)" font-size="28" text-anchor="middle">−50</text>
<text transform="translate(1049.7 1038.3) scale(0.99 1.05)" font-size="28" text-anchor="middle">0</text>
<text transform="translate(1180.8 1038.3) scale(0.99 1.05)" font-size="28" text-anchor="middle">50</text>
<text transform="translate(1311.9 1038.3) scale(0.99 1.05)" font-size="28" text-anchor="middle">100</text>
</g>
<text transform="translate(778.5 1015.8) scale(0.99 1.05)" font-size="28" text-anchor="end">−80</text>
<text transform="translate(778.5 910.2) scale(0.99 1.05)" font-size="28" text-anchor="end">−40</text>
<text transform="translate(778.5 804.6) scale(0.99 1.05)" font-size="28" text-anchor="end">0</text>
<text transform="translate(778.5 699) scale(0.99 1.05)" font-size="28" text-anchor="end">40</text>
<text transform="translate(778.5 593.4) scale(0.99 1.05)" font-size="28" text-anchor="end">80</text>
<text transform="translate(953.4 1073.1) scale(1 1.015)" font-size="36.34"><tspan font-style="italic">H</tspan><tspan font-weight="normal" dx="4.32">−</tspan><tspan font-style="italic" dx="-1.37">H</tspan><tspan font-style="italic" font-size="24.06" dy="9.82">res</tspan><tspan dy="-9.82" dx="-1.18"> (Oe)</tspan></text>
<text transform="translate(712.8 881.1) rotate(-90) scale(1 1.015)"><tspan font-size="36.00" font-style="italic">V</tspan><tspan font-style="italic" font-size="23.84" dy="9.73">mixed</tspan><tspan font-size="36.00" dy="-9.73"> (<tspan font-size="36.00" font-family="'Liberation Serif',serif" font-style="normal">μ</tspan>V)</tspan></text>
<text transform="translate(692.3 549.7) scale(0.97 1.0)" font-size="42">e</text>
<polyline points="1439.5,790.5 1440.2,790.4 1440.8,790.4 1441.5,790.4 1442.2,790.4 1442.8,790.4 1443.5,790.4 1444.2,790.4 1444.9,790.4 1445.5,790.4 1446.2,790.4 1446.9,790.4 1447.5,790.4 1448.2,790.4 1448.9,790.4 1449.5,790.4 1450.2,790.4 1450.9,790.4 1451.6,790.3 1452.2,790.3 1452.9,790.3 1453.6,790.3 1454.2,790.3 1454.9,790.3 1455.6,790.3 1456.2,790.3 1456.9,790.3 1457.6,790.3 1458.3,790.3 1458.9,790.3 1459.6,790.3 1460.3,790.3 1460.9,790.3 1461.6,790.2 1462.3,790.2 1463,790.2 1463.6,790.2 1464.3,790.2 1465,790.2 1465.6,790.2 1466.3,790.2 1467,790.2 1467.6,790.2 1468.3,790.2 1469,790.2 1469.7,790.2 1470.3,790.2 1471,790.1 1471.7,790.1 1472.3,790.1 1473,790.1 1473.7,790.1 1474.3,790.1 1475,790.1 1475.7,790.1 1476.3,790.1 1477,790.1 1477.7,790.1 1478.4,790.1 1479,790 1479.7,790 1480.4,790 1481,790 1481.7,790 1482.4,790 1483,790 1483.7,790 1484.4,790 1485.1,790 1485.7,790 1486.4,789.9 1487.1,789.9 1487.7,789.9 1488.4,789.9 1489.1,789.9 1489.8,789.9 1490.4,789.9 1491.1,789.9 1491.8,789.9 1492.4,789.9 1493.1,789.8 1493.8,789.8 1494.4,789.8 1495.1,789.8 1495.8,789.8 1496.5,789.8 1497.1,789.8 1497.8,789.8 1498.5,789.8 1499.1,789.7 1499.8,789.7 1500.5,789.7 1501.1,789.7 1501.8,789.7 1502.5,789.7 1503.2,789.7 1503.8,789.7 1504.5,789.6 1505.2,789.6 1505.8,789.6 1506.5,789.6 1507.2,789.6 1507.8,789.6 1508.5,789.6 1509.2,789.6 1509.8,789.5 1510.5,789.5 1511.2,789.5 1511.9,789.5 1512.5,789.5 1513.2,789.5 1513.9,789.5 1514.5,789.4 1515.2,789.4 1515.9,789.4 1516.5,789.4 1517.2,789.4 1517.9,789.4 1518.6,789.4 1519.2,789.3 1519.9,789.3 1520.6,789.3 1521.2,789.3 1521.9,789.3 1522.6,789.3 1523.2,789.2 1523.9,789.2 1524.6,789.2 1525.3,789.2 1525.9,789.2 1526.6,789.2 1527.3,789.1 1527.9,789.1 1528.6,789.1 1529.3,789.1 1530,789.1 1530.6,789 1531.3,789 1532,789 1532.6,789 1533.3,789 1534,789 1534.6,788.9 1535.3,788.9 1536,788.9 1536.7,788.9 1537.3,788.9 1538,788.8 1538.7,788.8 1539.3,788.8 1540,788.8 1540.7,788.7 1541.3,788.7 1542,788.7 1542.7,788.7 1543.3,788.7 1544,788.6 1544.7,788.6 1545.4,788.6 1546,788.6 1546.7,788.5 1547.4,788.5 1548,788.5 1548.7,788.5 1549.4,788.4 1550,788.4 1550.7,788.4 1551.4,788.4 1552.1,788.3 1552.7,788.3 1553.4,788.3 1554.1,788.2 1554.7,788.2 1555.4,788.2 1556.1,788.2 1556.8,788.1 1557.4,788.1 1558.1,788.1 1558.8,788 1559.4,788 1560.1,788 1560.8,787.9 1561.4,787.9 1562.1,787.9 1562.8,787.8 1563.5,787.8 1564.1,787.8 1564.8,787.7 1565.5,787.7 1566.1,787.7 1566.8,787.6 1567.5,787.6 1568.1,787.6 1568.8,787.5 1569.5,787.5 1570.2,787.4 1570.8,787.4 1571.5,787.4 1572.2,787.3 1572.8,787.3 1573.5,787.2 1574.2,787.2 1574.8,787.1 1575.5,787.1 1576.2,787.1 1576.8,787 1577.5,787 1578.2,786.9 1578.9,786.9 1579.5,786.8 1580.2,786.8 1580.9,786.7 1581.5,786.7 1582.2,786.6 1582.9,786.6 1583.5,786.5 1584.2,786.5 1584.9,786.4 1585.6,786.4 1586.2,786.3 1586.9,786.2 1587.6,786.2 1588.2,786.1 1588.9,786.1 1589.6,786 1590.2,785.9 1590.9,785.9 1591.6,785.8 1592.3,785.8 1592.9,785.7 1593.6,785.6 1594.3,785.6 1594.9,785.5 1595.6,785.4 1596.3,785.3 1597,785.3 1597.6,785.2 1598.3,785.1 1599,785 1599.6,785 1600.3,784.9 1601,784.8 1601.6,784.7 1602.3,784.6 1603,784.6 1603.7,784.5 1604.3,784.4 1605,784.3 1605.7,784.2 1606.3,784.1 1607,784 1607.7,783.9 1608.3,783.8 1609,783.7 1609.7,783.6 1610.3,783.5 1611,783.4 1611.7,783.3 1612.4,783.2 1613,783.1 1613.7,782.9 1614.4,782.8 1615,782.7 1615.7,782.6 1616.4,782.4 1617,782.3 1617.7,782.2 1618.4,782 1619.1,781.9 1619.7,781.8 1620.4,781.6 1621.1,781.5 1621.7,781.3 1622.4,781.2 1623.1,781 1623.8,780.9 1624.4,780.7 1625.1,780.5 1625.8,780.4 1626.4,780.2 1627.1,780 1627.8,779.8 1628.4,779.6 1629.1,779.4 1629.8,779.2 1630.5,779 1631.1,778.8 1631.8,778.6 1632.5,778.4 1633.1,778.2 1633.8,778 1634.5,777.7 1635.1,777.5 1635.8,777.2 1636.5,777 1637.2,776.7 1637.8,776.5 1638.5,776.2 1639.2,775.9 1639.8,775.6 1640.5,775.3 1641.2,775 1641.8,774.7 1642.5,774.4 1643.2,774.1 1643.8,773.8 1644.5,773.4 1645.2,773.1 1645.9,772.7 1646.5,772.3 1647.2,771.9 1647.9,771.5 1648.5,771.1 1649.2,770.7 1649.9,770.3 1650.5,769.8 1651.2,769.4 1651.9,768.9 1652.6,768.4 1653.2,767.9 1653.9,767.4 1654.6,766.8 1655.2,766.3 1655.9,765.7 1656.6,765.1 1657.2,764.5 1657.9,763.9 1658.6,763.2 1659.3,762.5 1659.9,761.8 1660.6,761.1 1661.3,760.4 1661.9,759.6 1662.6,758.8 1663.3,757.9 1664,757.1 1664.6,756.2 1665.3,755.3 1666,754.3 1666.6,753.3 1667.3,752.3 1668,751.2 1668.6,750.1 1669.3,749 1670,747.8 1670.7,746.6 1671.3,745.3 1672,743.9 1672.7,742.5 1673.3,741.1 1674,739.6 1674.7,738 1675.3,736.4 1676,734.7 1676.7,733 1677.3,731.2 1678,729.3 1678.7,727.3 1679.4,725.3 1680,723.1 1680.7,720.9 1681.4,718.6 1682,716.2 1682.7,713.7 1683.4,711.1 1684,708.4 1684.7,705.7 1685.4,702.8 1686.1,699.8 1686.7,696.7 1687.4,693.4 1688.1,690.1 1688.7,686.7 1689.4,683.1 1690.1,679.5 1690.8,675.7 1691.4,671.9 1692.1,668 1692.8,663.9 1693.4,659.9 1694.1,655.7 1694.8,651.5 1695.4,647.3 1696.1,643 1696.8,638.8 1697.5,634.6 1698.1,630.4 1698.8,626.3 1699.5,622.4 1700.1,618.6 1700.8,614.9 1701.5,611.5 1702.1,608.4 1702.8,605.5 1703.5,602.9 1704.2,600.6 1704.8,598.8 1705.5,597.3 1706.2,596.2 1706.8,595.5 1707.5,595.3 1708.2,595.5 1708.8,596.2 1709.5,597.3 1710.2,598.8 1710.8,600.6 1711.5,602.9 1712.2,605.5 1712.9,608.4 1713.5,611.5 1714.2,614.9 1714.9,618.6 1715.5,622.4 1716.2,626.3 1716.9,630.4 1717.5,634.6 1718.2,638.8 1718.9,643 1719.6,647.3 1720.2,651.5 1720.9,655.7 1721.6,659.9 1722.2,663.9 1722.9,668 1723.6,671.9 1724.2,675.7 1724.9,679.5 1725.6,683.1 1726.3,686.7 1726.9,690.1 1727.6,693.4 1728.3,696.7 1728.9,699.8 1729.6,702.8 1730.3,705.7 1731,708.4 1731.6,711.1 1732.3,713.7 1733,716.2 1733.6,718.6 1734.3,720.9 1735,723.1 1735.6,725.3 1736.3,727.3 1737,729.3 1737.7,731.2 1738.3,733 1739,734.7 1739.7,736.4 1740.3,738 1741,739.6 1741.7,741.1 1742.3,742.5 1743,743.9 1743.7,745.3 1744.3,746.6 1745,747.8 1745.7,749 1746.4,750.1 1747,751.2 1747.7,752.3 1748.4,753.3 1749,754.3 1749.7,755.3 1750.4,756.2 1751,757.1 1751.7,757.9 1752.4,758.8 1753.1,759.6 1753.7,760.4 1754.4,761.1 1755.1,761.8 1755.7,762.5 1756.4,763.2 1757.1,763.9 1757.8,764.5 1758.4,765.1 1759.1,765.7 1759.8,766.3 1760.4,766.8 1761.1,767.4 1761.8,767.9 1762.4,768.4 1763.1,768.9 1763.8,769.4 1764.5,769.8 1765.1,770.3 1765.8,770.7 1766.5,771.1 1767.1,771.5 1767.8,771.9 1768.5,772.3 1769.1,772.7 1769.8,773.1 1770.5,773.4 1771.2,773.8 1771.8,774.1 1772.5,774.4 1773.2,774.7 1773.8,775 1774.5,775.3 1775.2,775.6 1775.8,775.9 1776.5,776.2 1777.2,776.5 1777.8,776.7 1778.5,777 1779.2,777.2 1779.9,777.5 1780.5,777.7 1781.2,778 1781.9,778.2 1782.5,778.4 1783.2,778.6 1783.9,778.8 1784.5,779 1785.2,779.2 1785.9,779.4 1786.6,779.6 1787.2,779.8 1787.9,780 1788.6,780.2 1789.2,780.4 1789.9,780.5 1790.6,780.7 1791.2,780.9 1791.9,781 1792.6,781.2 1793.3,781.3 1793.9,781.5 1794.6,781.6 1795.3,781.8 1795.9,781.9 1796.6,782 1797.3,782.2 1798,782.3 1798.6,782.4 1799.3,782.6 1800,782.7 1800.6,782.8 1801.3,782.9 1802,783.1 1802.6,783.2 1803.3,783.3 1804,783.4 1804.7,783.5 1805.3,783.6 1806,783.7 1806.7,783.8 1807.3,783.9 1808,784 1808.7,784.1 1809.3,784.2 1810,784.3 1810.7,784.4 1811.3,784.5 1812,784.6 1812.7,784.6 1813.4,784.7 1814,784.8 1814.7,784.9 1815.4,785 1816,785 1816.7,785.1 1817.4,785.2 1818,785.3 1818.7,785.3 1819.4,785.4 1820.1,785.5 1820.7,785.6 1821.4,785.6 1822.1,785.7 1822.7,785.8 1823.4,785.8 1824.1,785.9 1824.8,785.9 1825.4,786 1826.1,786.1 1826.8,786.1 1827.4,786.2 1828.1,786.2 1828.8,786.3 1829.4,786.4 1830.1,786.4 1830.8,786.5 1831.5,786.5 1832.1,786.6 1832.8,786.6 1833.5,786.7 1834.1,786.7 1834.8,786.8 1835.5,786.8 1836.1,786.9 1836.8,786.9 1837.5,787 1838.2,787 1838.8,787.1 1839.5,787.1 1840.2,787.1 1840.8,787.2 1841.5,787.2 1842.2,787.3 1842.8,787.3 1843.5,787.4 1844.2,787.4 1844.8,787.4 1845.5,787.5 1846.2,787.5 1846.9,787.6 1847.5,787.6 1848.2,787.6 1848.9,787.7 1849.5,787.7 1850.2,787.7 1850.9,787.8 1851.5,787.8 1852.2,787.8 1852.9,787.9 1853.6,787.9 1854.2,787.9 1854.9,788 1855.6,788 1856.2,788 1856.9,788.1 1857.6,788.1 1858.2,788.1 1858.9,788.2 1859.6,788.2 1860.3,788.2 1860.9,788.2 1861.6,788.3 1862.3,788.3 1862.9,788.3 1863.6,788.4 1864.3,788.4 1865,788.4 1865.6,788.4 1866.3,788.5 1867,788.5 1867.6,788.5 1868.3,788.5 1869,788.6 1869.6,788.6 1870.3,788.6 1871,788.6 1871.7,788.7 1872.3,788.7 1873,788.7 1873.7,788.7 1874.3,788.7 1875,788.8 1875.7,788.8 1876.3,788.8 1877,788.8 1877.7,788.9 1878.3,788.9 1879,788.9 1879.7,788.9 1880.4,788.9 1881,789 1881.7,789 1882.4,789 1883,789 1883.7,789 1884.4,789 1885,789.1 1885.7,789.1 1886.4,789.1 1887.1,789.1 1887.7,789.1 1888.4,789.2 1889.1,789.2 1889.7,789.2 1890.4,789.2 1891.1,789.2 1891.8,789.2 1892.4,789.3 1893.1,789.3 1893.8,789.3 1894.4,789.3 1895.1,789.3 1895.8,789.3 1896.4,789.4 1897.1,789.4 1897.8,789.4 1898.5,789.4 1899.1,789.4 1899.8,789.4 1900.5,789.4 1901.1,789.5 1901.8,789.5 1902.5,789.5 1903.1,789.5 1903.8,789.5 1904.5,789.5 1905.2,789.5 1905.8,789.6 1906.5,789.6 1907.2,789.6 1907.8,789.6 1908.5,789.6 1909.2,789.6 1909.8,789.6 1910.5,789.6 1911.2,789.7 1911.8,789.7 1912.5,789.7 1913.2,789.7 1913.9,789.7 1914.5,789.7 1915.2,789.7 1915.9,789.7 1916.5,789.8 1917.2,789.8 1917.9,789.8 1918.5,789.8 1919.2,789.8 1919.9,789.8 1920.6,789.8 1921.2,789.8 1921.9,789.8 1922.6,789.9 1923.2,789.9 1923.9,789.9 1924.6,789.9 1925.2,789.9 1925.9,789.9 1926.6,789.9 1927.3,789.9 1927.9,789.9 1928.6,789.9 1929.3,790 1929.9,790 1930.6,790 1931.3,790 1932,790 1932.6,790 1933.3,790 1934,790 1934.6,790 1935.3,790 1936,790 1936.6,790.1 1937.3,790.1 1938,790.1 1938.7,790.1 1939.3,790.1 1940,790.1 1940.7,790.1 1941.3,790.1 1942,790.1 1942.7,790.1 1943.3,790.1 1944,790.1 1944.7,790.2 1945.3,790.2 1946,790.2 1946.7,790.2 1947.4,790.2 1948,790.2 1948.7,790.2 1949.4,790.2 1950,790.2 1950.7,790.2 1951.4,790.2 1952.1,790.2 1952.7,790.2 1953.4,790.2 1954.1,790.3 1954.7,790.3 1955.4,790.3 1956.1,790.3 1956.7,790.3 1957.4,790.3 1958.1,790.3 1958.8,790.3 1959.4,790.3 1960.1,790.3 1960.8,790.3 1961.4,790.3 1962.1,790.3 1962.8,790.3 1963.4,790.3 1964.1,790.4 1964.8,790.4 1965.4,790.4 1966.1,790.4 1966.8,790.4 1967.5,790.4 1968.1,790.4 1968.8,790.4 1969.5,790.4 1970.1,790.4 1970.8,790.4 1971.5,790.4 1972.2,790.4 1972.8,790.4 1973.5,790.4 1974.2,790.4 1974.8,790.4 1975.5,790.5" fill="none" stroke="#264c9e" stroke-width="3.0" stroke-linecap="round" stroke-linejoin="round"/>
<polyline points="1439.5,792.6 1440.2,792.7 1440.8,792.7 1441.5,792.7 1442.2,792.7 1442.8,792.7 1443.5,792.7 1444.2,792.7 1444.9,792.7 1445.5,792.7 1446.2,792.7 1446.9,792.7 1447.5,792.7 1448.2,792.7 1448.9,792.7 1449.5,792.7 1450.2,792.7 1450.9,792.7 1451.6,792.8 1452.2,792.8 1452.9,792.8 1453.6,792.8 1454.2,792.8 1454.9,792.8 1455.6,792.8 1456.2,792.8 1456.9,792.8 1457.6,792.8 1458.3,792.8 1458.9,792.8 1459.6,792.8 1460.3,792.8 1460.9,792.8 1461.6,792.9 1462.3,792.9 1463,792.9 1463.6,792.9 1464.3,792.9 1465,792.9 1465.6,792.9 1466.3,792.9 1467,792.9 1467.6,792.9 1468.3,792.9 1469,792.9 1469.7,792.9 1470.3,792.9 1471,793 1471.7,793 1472.3,793 1473,793 1473.7,793 1474.3,793 1475,793 1475.7,793 1476.3,793 1477,793 1477.7,793 1478.4,793 1479,793.1 1479.7,793.1 1480.4,793.1 1481,793.1 1481.7,793.1 1482.4,793.1 1483,793.1 1483.7,793.1 1484.4,793.1 1485.1,793.1 1485.7,793.1 1486.4,793.2 1487.1,793.2 1487.7,793.2 1488.4,793.2 1489.1,793.2 1489.8,793.2 1490.4,793.2 1491.1,793.2 1491.8,793.2 1492.4,793.2 1493.1,793.3 1493.8,793.3 1494.4,793.3 1495.1,793.3 1495.8,793.3 1496.5,793.3 1497.1,793.3 1497.8,793.3 1498.5,793.3 1499.1,793.4 1499.8,793.4 1500.5,793.4 1501.1,793.4 1501.8,793.4 1502.5,793.4 1503.2,793.4 1503.8,793.4 1504.5,793.5 1505.2,793.5 1505.8,793.5 1506.5,793.5 1507.2,793.5 1507.8,793.5 1508.5,793.5 1509.2,793.5 1509.8,793.6 1510.5,793.6 1511.2,793.6 1511.9,793.6 1512.5,793.6 1513.2,793.6 1513.9,793.6 1514.5,793.7 1515.2,793.7 1515.9,793.7 1516.5,793.7 1517.2,793.7 1517.9,793.7 1518.6,793.7 1519.2,793.8 1519.9,793.8 1520.6,793.8 1521.2,793.8 1521.9,793.8 1522.6,793.8 1523.2,793.9 1523.9,793.9 1524.6,793.9 1525.3,793.9 1525.9,793.9 1526.6,793.9 1527.3,794 1527.9,794 1528.6,794 1529.3,794 1530,794 1530.6,794.1 1531.3,794.1 1532,794.1 1532.6,794.1 1533.3,794.1 1534,794.1 1534.6,794.2 1535.3,794.2 1536,794.2 1536.7,794.2 1537.3,794.2 1538,794.3 1538.7,794.3 1539.3,794.3 1540,794.3 1540.7,794.4 1541.3,794.4 1542,794.4 1542.7,794.4 1543.3,794.4 1544,794.5 1544.7,794.5 1545.4,794.5 1546,794.5 1546.7,794.6 1547.4,794.6 1548,794.6 1548.7,794.6 1549.4,794.7 1550,794.7 1550.7,794.7 1551.4,794.7 1552.1,794.8 1552.7,794.8 1553.4,794.8 1554.1,794.9 1554.7,794.9 1555.4,794.9 1556.1,794.9 1556.8,795 1557.4,795 1558.1,795 1558.8,795.1 1559.4,795.1 1560.1,795.1 1560.8,795.2 1561.4,795.2 1562.1,795.2 1562.8,795.3 1563.5,795.3 1564.1,795.3 1564.8,795.4 1565.5,795.4 1566.1,795.4 1566.8,795.5 1567.5,795.5 1568.1,795.5 1568.8,795.6 1569.5,795.6 1570.2,795.7 1570.8,795.7 1571.5,795.7 1572.2,795.8 1572.8,795.8 1573.5,795.9 1574.2,795.9 1574.8,796 1575.5,796 1576.2,796 1576.8,796.1 1577.5,796.1 1578.2,796.2 1578.9,796.2 1579.5,796.3 1580.2,796.3 1580.9,796.4 1581.5,796.4 1582.2,796.5 1582.9,796.5 1583.5,796.6 1584.2,796.6 1584.9,796.7 1585.6,796.7 1586.2,796.8 1586.9,796.9 1587.6,796.9 1588.2,797 1588.9,797 1589.6,797.1 1590.2,797.2 1590.9,797.2 1591.6,797.3 1592.3,797.3 1592.9,797.4 1593.6,797.5 1594.3,797.5 1594.9,797.6 1595.6,797.7 1596.3,797.8 1597,797.8 1597.6,797.9 1598.3,798 1599,798.1 1599.6,798.1 1600.3,798.2 1601,798.3 1601.6,798.4 1602.3,798.5 1603,798.5 1603.7,798.6 1604.3,798.7 1605,798.8 1605.7,798.9 1606.3,799 1607,799.1 1607.7,799.2 1608.3,799.3 1609,799.4 1609.7,799.5 1610.3,799.6 1611,799.7 1611.7,799.8 1612.4,799.9 1613,800 1613.7,800.2 1614.4,800.3 1615,800.4 1615.7,800.5 1616.4,800.7 1617,800.8 1617.7,800.9 1618.4,801.1 1619.1,801.2 1619.7,801.3 1620.4,801.5 1621.1,801.6 1621.7,801.8 1622.4,801.9 1623.1,802.1 1623.8,802.2 1624.4,802.4 1625.1,802.6 1625.8,802.7 1626.4,802.9 1627.1,803.1 1627.8,803.3 1628.4,803.5 1629.1,803.7 1629.8,803.9 1630.5,804.1 1631.1,804.3 1631.8,804.5 1632.5,804.7 1633.1,804.9 1633.8,805.1 1634.5,805.4 1635.1,805.6 1635.8,805.9 1636.5,806.1 1637.2,806.4 1637.8,806.6 1638.5,806.9 1639.2,807.2 1639.8,807.5 1640.5,807.8 1641.2,808.1 1641.8,808.4 1642.5,808.7 1643.2,809 1643.8,809.3 1644.5,809.7 1645.2,810 1645.9,810.4 1646.5,810.8 1647.2,811.2 1647.9,811.6 1648.5,812 1649.2,812.4 1649.9,812.8 1650.5,813.3 1651.2,813.7 1651.9,814.2 1652.6,814.7 1653.2,815.2 1653.9,815.7 1654.6,816.3 1655.2,816.8 1655.9,817.4 1656.6,818 1657.2,818.6 1657.9,819.2 1658.6,819.9 1659.3,820.6 1659.9,821.3 1660.6,822 1661.3,822.7 1661.9,823.5 1662.6,824.3 1663.3,825.2 1664,826 1664.6,826.9 1665.3,827.8 1666,828.8 1666.6,829.8 1667.3,830.8 1668,831.9 1668.6,833 1669.3,834.1 1670,835.3 1670.7,836.5 1671.3,837.8 1672,839.2 1672.7,840.6 1673.3,842 1674,843.5 1674.7,845.1 1675.3,846.7 1676,848.4 1676.7,850.1 1677.3,851.9 1678,853.8 1678.7,855.8 1679.4,857.8 1680,860 1680.7,862.2 1681.4,864.5 1682,866.9 1682.7,869.4 1683.4,872 1684,874.7 1684.7,877.4 1685.4,880.3 1686.1,883.3 1686.7,886.4 1687.4,889.7 1688.1,893 1688.7,896.4 1689.4,900 1690.1,903.6 1690.8,907.4 1691.4,911.2 1692.1,915.1 1692.8,919.2 1693.4,923.2 1694.1,927.4 1694.8,931.6 1695.4,935.8 1696.1,940.1 1696.8,944.3 1697.5,948.5 1698.1,952.7 1698.8,956.8 1699.5,960.7 1700.1,964.5 1700.8,968.2 1701.5,971.6 1702.1,974.7 1702.8,977.6 1703.5,980.2 1704.2,982.5 1704.8,984.3 1705.5,985.8 1706.2,986.9 1706.8,987.6 1707.5,987.8 1708.2,987.6 1708.8,986.9 1709.5,985.8 1710.2,984.3 1710.8,982.5 1711.5,980.2 1712.2,977.6 1712.9,974.7 1713.5,971.6 1714.2,968.2 1714.9,964.5 1715.5,960.7 1716.2,956.8 1716.9,952.7 1717.5,948.5 1718.2,944.3 1718.9,940.1 1719.6,935.8 1720.2,931.6 1720.9,927.4 1721.6,923.2 1722.2,919.2 1722.9,915.1 1723.6,911.2 1724.2,907.4 1724.9,903.6 1725.6,900 1726.3,896.4 1726.9,893 1727.6,889.7 1728.3,886.4 1728.9,883.3 1729.6,880.3 1730.3,877.4 1731,874.7 1731.6,872 1732.3,869.4 1733,866.9 1733.6,864.5 1734.3,862.2 1735,860 1735.6,857.8 1736.3,855.8 1737,853.8 1737.7,851.9 1738.3,850.1 1739,848.4 1739.7,846.7 1740.3,845.1 1741,843.5 1741.7,842 1742.3,840.6 1743,839.2 1743.7,837.8 1744.3,836.5 1745,835.3 1745.7,834.1 1746.4,833 1747,831.9 1747.7,830.8 1748.4,829.8 1749,828.8 1749.7,827.8 1750.4,826.9 1751,826 1751.7,825.2 1752.4,824.3 1753.1,823.5 1753.7,822.7 1754.4,822 1755.1,821.3 1755.7,820.6 1756.4,819.9 1757.1,819.2 1757.8,818.6 1758.4,818 1759.1,817.4 1759.8,816.8 1760.4,816.3 1761.1,815.7 1761.8,815.2 1762.4,814.7 1763.1,814.2 1763.8,813.7 1764.5,813.3 1765.1,812.8 1765.8,812.4 1766.5,812 1767.1,811.6 1767.8,811.2 1768.5,810.8 1769.1,810.4 1769.8,810 1770.5,809.7 1771.2,809.3 1771.8,809 1772.5,808.7 1773.2,808.4 1773.8,808.1 1774.5,807.8 1775.2,807.5 1775.8,807.2 1776.5,806.9 1777.2,806.6 1777.8,806.4 1778.5,806.1 1779.2,805.9 1779.9,805.6 1780.5,805.4 1781.2,805.1 1781.9,804.9 1782.5,804.7 1783.2,804.5 1783.9,804.3 1784.5,804.1 1785.2,803.9 1785.9,803.7 1786.6,803.5 1787.2,803.3 1787.9,803.1 1788.6,802.9 1789.2,802.7 1789.9,802.6 1790.6,802.4 1791.2,802.2 1791.9,802.1 1792.6,801.9 1793.3,801.8 1793.9,801.6 1794.6,801.5 1795.3,801.3 1795.9,801.2 1796.6,801.1 1797.3,800.9 1798,800.8 1798.6,800.7 1799.3,800.5 1800,800.4 1800.6,800.3 1801.3,800.2 1802,800 1802.6,799.9 1803.3,799.8 1804,799.7 1804.7,799.6 1805.3,799.5 1806,799.4 1806.7,799.3 1807.3,799.2 1808,799.1 1808.7,799 1809.3,798.9 1810,798.8 1810.7,798.7 1811.3,798.6 1812,798.5 1812.7,798.5 1813.4,798.4 1814,798.3 1814.7,798.2 1815.4,798.1 1816,798.1 1816.7,798 1817.4,797.9 1818,797.8 1818.7,797.8 1819.4,797.7 1820.1,797.6 1820.7,797.5 1821.4,797.5 1822.1,797.4 1822.7,797.3 1823.4,797.3 1824.1,797.2 1824.8,797.2 1825.4,797.1 1826.1,797 1826.8,797 1827.4,796.9 1828.1,796.9 1828.8,796.8 1829.4,796.7 1830.1,796.7 1830.8,796.6 1831.5,796.6 1832.1,796.5 1832.8,796.5 1833.5,796.4 1834.1,796.4 1834.8,796.3 1835.5,796.3 1836.1,796.2 1836.8,796.2 1837.5,796.1 1838.2,796.1 1838.8,796 1839.5,796 1840.2,796 1840.8,795.9 1841.5,795.9 1842.2,795.8 1842.8,795.8 1843.5,795.7 1844.2,795.7 1844.8,795.7 1845.5,795.6 1846.2,795.6 1846.9,795.5 1847.5,795.5 1848.2,795.5 1848.9,795.4 1849.5,795.4 1850.2,795.4 1850.9,795.3 1851.5,795.3 1852.2,795.3 1852.9,795.2 1853.6,795.2 1854.2,795.2 1854.9,795.1 1855.6,795.1 1856.2,795.1 1856.9,795 1857.6,795 1858.2,795 1858.9,794.9 1859.6,794.9 1860.3,794.9 1860.9,794.9 1861.6,794.8 1862.3,794.8 1862.9,794.8 1863.6,794.7 1864.3,794.7 1865,794.7 1865.6,794.7 1866.3,794.6 1867,794.6 1867.6,794.6 1868.3,794.6 1869,794.5 1869.6,794.5 1870.3,794.5 1871,794.5 1871.7,794.4 1872.3,794.4 1873,794.4 1873.7,794.4 1874.3,794.4 1875,794.3 1875.7,794.3 1876.3,794.3 1877,794.3 1877.7,794.2 1878.3,794.2 1879,794.2 1879.7,794.2 1880.4,794.2 1881,794.1 1881.7,794.1 1882.4,794.1 1883,794.1 1883.7,794.1 1884.4,794.1 1885,794 1885.7,794 1886.4,794 1887.1,794 1887.7,794 1888.4,793.9 1889.1,793.9 1889.7,793.9 1890.4,793.9 1891.1,793.9 1891.8,793.9 1892.4,793.8 1893.1,793.8 1893.8,793.8 1894.4,793.8 1895.1,793.8 1895.8,793.8 1896.4,793.7 1897.1,793.7 1897.8,793.7 1898.5,793.7 1899.1,793.7 1899.8,793.7 1900.5,793.7 1901.1,793.6 1901.8,793.6 1902.5,793.6 1903.1,793.6 1903.8,793.6 1904.5,793.6 1905.2,793.6 1905.8,793.5 1906.5,793.5 1907.2,793.5 1907.8,793.5 1908.5,793.5 1909.2,793.5 1909.8,793.5 1910.5,793.5 1911.2,793.4 1911.8,793.4 1912.5,793.4 1913.2,793.4 1913.9,793.4 1914.5,793.4 1915.2,793.4 1915.9,793.4 1916.5,793.3 1917.2,793.3 1917.9,793.3 1918.5,793.3 1919.2,793.3 1919.9,793.3 1920.6,793.3 1921.2,793.3 1921.9,793.3 1922.6,793.2 1923.2,793.2 1923.9,793.2 1924.6,793.2 1925.2,793.2 1925.9,793.2 1926.6,793.2 1927.3,793.2 1927.9,793.2 1928.6,793.2 1929.3,793.1 1929.9,793.1 1930.6,793.1 1931.3,793.1 1932,793.1 1932.6,793.1 1933.3,793.1 1934,793.1 1934.6,793.1 1935.3,793.1 1936,793.1 1936.6,793 1937.3,793 1938,793 1938.7,793 1939.3,793 1940,793 1940.7,793 1941.3,793 1942,793 1942.7,793 1943.3,793 1944,793 1944.7,792.9 1945.3,792.9 1946,792.9 1946.7,792.9 1947.4,792.9 1948,792.9 1948.7,792.9 1949.4,792.9 1950,792.9 1950.7,792.9 1951.4,792.9 1952.1,792.9 1952.7,792.9 1953.4,792.9 1954.1,792.8 1954.7,792.8 1955.4,792.8 1956.1,792.8 1956.7,792.8 1957.4,792.8 1958.1,792.8 1958.8,792.8 1959.4,792.8 1960.1,792.8 1960.8,792.8 1961.4,792.8 1962.1,792.8 1962.8,792.8 1963.4,792.8 1964.1,792.7 1964.8,792.7 1965.4,792.7 1966.1,792.7 1966.8,792.7 1967.5,792.7 1968.1,792.7 1968.8,792.7 1969.5,792.7 1970.1,792.7 1970.8,792.7 1971.5,792.7 1972.2,792.7 1972.8,792.7 1973.5,792.7 1974.2,792.7 1974.8,792.7 1975.5,792.6" fill="none" stroke="#264c9e" stroke-width="3.0" stroke-linecap="round" stroke-linejoin="round"/>
<polyline points="1439.5,790.5 1440.2,790.5 1440.8,790.5 1441.5,790.4 1442.2,790.4 1442.8,790.4 1443.5,790.4 1444.2,790.4 1444.9,790.4 1445.5,790.4 1446.2,790.4 1446.9,790.4 1447.5,790.4 1448.2,790.4 1448.9,790.4 1449.5,790.4 1450.2,790.4 1450.9,790.4 1451.6,790.4 1452.2,790.4 1452.9,790.3 1453.6,790.3 1454.2,790.3 1454.9,790.3 1455.6,790.3 1456.2,790.3 1456.9,790.3 1457.6,790.3 1458.3,790.3 1458.9,790.3 1459.6,790.3 1460.3,790.3 1460.9,790.3 1461.6,790.3 1462.3,790.3 1463,790.2 1463.6,790.2 1464.3,790.2 1465,790.2 1465.6,790.2 1466.3,790.2 1467,790.2 1467.6,790.2 1468.3,790.2 1469,790.2 1469.7,790.2 1470.3,790.2 1471,790.2 1471.7,790.2 1472.3,790.1 1473,790.1 1473.7,790.1 1474.3,790.1 1475,790.1 1475.7,790.1 1476.3,790.1 1477,790.1 1477.7,790.1 1478.4,790.1 1479,790.1 1479.7,790.1 1480.4,790 1481,790 1481.7,790 1482.4,790 1483,790 1483.7,790 1484.4,790 1485.1,790 1485.7,790 1486.4,790 1487.1,789.9 1487.7,789.9 1488.4,789.9 1489.1,789.9 1489.8,789.9 1490.4,789.9 1491.1,789.9 1491.8,789.9 1492.4,789.9 1493.1,789.9 1493.8,789.8 1494.4,789.8 1495.1,789.8 1495.8,789.8 1496.5,789.8 1497.1,789.8 1497.8,789.8 1498.5,789.8 1499.1,789.8 1499.8,789.7 1500.5,789.7 1501.1,789.7 1501.8,789.7 1502.5,789.7 1503.2,789.7 1503.8,789.7 1504.5,789.7 1505.2,789.7 1505.8,789.6 1506.5,789.6 1507.2,789.6 1507.8,789.6 1508.5,789.6 1509.2,789.6 1509.8,789.6 1510.5,789.6 1511.2,789.5 1511.9,789.5 1512.5,789.5 1513.2,789.5 1513.9,789.5 1514.5,789.5 1515.2,789.5 1515.9,789.4 1516.5,789.4 1517.2,789.4 1517.9,789.4 1518.6,789.4 1519.2,789.4 1519.9,789.3 1520.6,789.3 1521.2,789.3 1521.9,789.3 1522.6,789.3 1523.2,789.3 1523.9,789.3 1524.6,789.2 1525.3,789.2 1525.9,789.2 1526.6,789.2 1527.3,789.2 1527.9,789.1 1528.6,789.1 1529.3,789.1 1530,789.1 1530.6,789.1 1531.3,789.1 1532,789 1532.6,789 1533.3,789 1534,789 1534.6,789 1535.3,788.9 1536,788.9 1536.7,788.9 1537.3,788.9 1538,788.9 1538.7,788.8 1539.3,788.8 1540,788.8 1540.7,788.8 1541.3,788.8 1542,788.7 1542.7,788.7 1543.3,788.7 1544,788.7 1544.7,788.6 1545.4,788.6 1546,788.6 1546.7,788.6 1547.4,788.5 1548,788.5 1548.7,788.5 1549.4,788.5 1550,788.4 1550.7,788.4 1551.4,788.4 1552.1,788.4 1552.7,788.3 1553.4,788.3 1554.1,788.3 1554.7,788.2 1555.4,788.2 1556.1,788.2 1556.8,788.2 1557.4,788.1 1558.1,788.1 1558.8,788.1 1559.4,788 1560.1,788 1560.8,788 1561.4,787.9 1562.1,787.9 1562.8,787.9 1563.5,787.8 1564.1,787.8 1564.8,787.8 1565.5,787.7 1566.1,787.7 1566.8,787.7 1567.5,787.6 1568.1,787.6 1568.8,787.6 1569.5,787.5 1570.2,787.5 1570.8,787.4 1571.5,787.4 1572.2,787.4 1572.8,787.3 1573.5,787.3 1574.2,787.2 1574.8,787.2 1575.5,787.2 1576.2,787.1 1576.8,787.1 1577.5,787 1578.2,787 1578.9,786.9 1579.5,786.9 1580.2,786.8 1580.9,786.8 1581.5,786.7 1582.2,786.7 1582.9,786.6 1583.5,786.6 1584.2,786.5 1584.9,786.5 1585.6,786.4 1586.2,786.4 1586.9,786.3 1587.6,786.3 1588.2,786.2 1588.9,786.1 1589.6,786.1 1590.2,786 1590.9,786 1591.6,785.9 1592.3,785.8 1592.9,785.8 1593.6,785.7 1594.3,785.6 1594.9,785.6 1595.6,785.5 1596.3,785.4 1597,785.4 1597.6,785.3 1598.3,785.2 1599,785.1 1599.6,785.1 1600.3,785 1601,784.9 1601.6,784.8 1602.3,784.7 1603,784.6 1603.7,784.6 1604.3,784.5 1605,784.4 1605.7,784.3 1606.3,784.2 1607,784.1 1607.7,784 1608.3,783.9 1609,783.8 1609.7,783.7 1610.3,783.6 1611,783.5 1611.7,783.4 1612.4,783.3 1613,783.2 1613.7,783.1 1614.4,782.9 1615,782.8 1615.7,782.7 1616.4,782.6 1617,782.4 1617.7,782.3 1618.4,782.2 1619.1,782 1619.7,781.9 1620.4,781.8 1621.1,781.6 1621.7,781.5 1622.4,781.3 1623.1,781.2 1623.8,781 1624.4,780.9 1625.1,780.7 1625.8,780.5 1626.4,780.4 1627.1,780.2 1627.8,780 1628.4,779.8 1629.1,779.6 1629.8,779.4 1630.5,779.2 1631.1,779 1631.8,778.8 1632.5,778.6 1633.1,778.4 1633.8,778.2 1634.5,778 1635.1,777.7 1635.8,777.5 1636.5,777.2 1637.2,777 1637.8,776.7 1638.5,776.5 1639.2,776.2 1639.8,775.9 1640.5,775.6 1641.2,775.3 1641.8,775 1642.5,774.7 1643.2,774.4 1643.8,774.1 1644.5,773.7 1645.2,773.4 1645.9,773 1646.5,772.7 1647.2,772.3 1647.9,771.9 1648.5,771.5 1649.2,771.1 1649.9,770.7 1650.5,770.2 1651.2,769.8 1651.9,769.3 1652.6,768.8 1653.2,768.4 1653.9,767.8 1654.6,767.3 1655.2,766.8 1655.9,766.2 1656.6,765.7 1657.2,765.1 1657.9,764.5 1658.6,763.8 1659.3,763.2 1659.9,762.5 1660.6,761.8 1661.3,761.1 1661.9,760.3 1662.6,759.6 1663.3,758.8 1664,757.9 1664.6,757.1 1665.3,756.2 1666,755.3 1666.6,754.3 1667.3,753.3 1668,752.3 1668.6,751.3 1669.3,750.2 1670,749 1670.7,747.8 1671.3,746.6 1672,745.3 1672.7,744 1673.3,742.7 1674,741.2 1674.7,739.8 1675.3,738.2 1676,736.6 1676.7,735 1677.3,733.3 1678,731.5 1678.7,729.6 1679.4,727.7 1680,725.7 1680.7,723.6 1681.4,721.5 1682,719.3 1682.7,716.9 1683.4,714.5 1684,712 1684.7,709.5 1685.4,706.8 1686.1,704 1686.7,701.2 1687.4,698.3 1688.1,695.2 1688.7,692.1 1689.4,688.9 1690.1,685.6 1690.8,682.2 1691.4,678.7 1692.1,675.2 1692.8,671.6 1693.4,668 1694.1,664.3 1694.8,660.6 1695.4,656.8 1696.1,653.1 1696.8,649.4 1697.5,645.7 1698.1,642.1 1698.8,638.6 1699.5,635.1 1700.1,631.9 1700.8,628.7 1701.5,625.8 1702.1,623.1 1702.8,620.6 1703.5,618.4 1704.2,616.5 1704.8,614.9 1705.5,613.6 1706.2,612.7 1706.8,612.2 1707.5,612 1708.2,612.2 1708.8,612.7 1709.5,613.6 1710.2,614.9 1710.8,616.5 1711.5,618.4 1712.2,620.6 1712.9,623.1 1713.5,625.8 1714.2,628.7 1714.9,631.9 1715.5,635.1 1716.2,638.6 1716.9,642.1 1717.5,645.7 1718.2,649.4 1718.9,653.1 1719.6,656.8 1720.2,660.6 1720.9,664.3 1721.6,668 1722.2,671.6 1722.9,675.2 1723.6,678.7 1724.2,682.2 1724.9,685.6 1725.6,688.9 1726.3,692.1 1726.9,695.2 1727.6,698.3 1728.3,701.2 1728.9,704 1729.6,706.8 1730.3,709.5 1731,712 1731.6,714.5 1732.3,716.9 1733,719.3 1733.6,721.5 1734.3,723.6 1735,725.7 1735.6,727.7 1736.3,729.6 1737,731.5 1737.7,733.3 1738.3,735 1739,736.6 1739.7,738.2 1740.3,739.8 1741,741.2 1741.7,742.7 1742.3,744 1743,745.3 1743.7,746.6 1744.3,747.8 1745,749 1745.7,750.2 1746.4,751.3 1747,752.3 1747.7,753.3 1748.4,754.3 1749,755.3 1749.7,756.2 1750.4,757.1 1751,757.9 1751.7,758.8 1752.4,759.6 1753.1,760.3 1753.7,761.1 1754.4,761.8 1755.1,762.5 1755.7,763.2 1756.4,763.8 1757.1,764.5 1757.8,765.1 1758.4,765.7 1759.1,766.2 1759.8,766.8 1760.4,767.3 1761.1,767.8 1761.8,768.4 1762.4,768.8 1763.1,769.3 1763.8,769.8 1764.5,770.2 1765.1,770.7 1765.8,771.1 1766.5,771.5 1767.1,771.9 1767.8,772.3 1768.5,772.7 1769.1,773 1769.8,773.4 1770.5,773.7 1771.2,774.1 1771.8,774.4 1772.5,774.7 1773.2,775 1773.8,775.3 1774.5,775.6 1775.2,775.9 1775.8,776.2 1776.5,776.5 1777.2,776.7 1777.8,777 1778.5,777.2 1779.2,777.5 1779.9,777.7 1780.5,778 1781.2,778.2 1781.9,778.4 1782.5,778.6 1783.2,778.8 1783.9,779 1784.5,779.2 1785.2,779.4 1785.9,779.6 1786.6,779.8 1787.2,780 1787.9,780.2 1788.6,780.4 1789.2,780.5 1789.9,780.7 1790.6,780.9 1791.2,781 1791.9,781.2 1792.6,781.3 1793.3,781.5 1793.9,781.6 1794.6,781.8 1795.3,781.9 1795.9,782 1796.6,782.2 1797.3,782.3 1798,782.4 1798.6,782.6 1799.3,782.7 1800,782.8 1800.6,782.9 1801.3,783.1 1802,783.2 1802.6,783.3 1803.3,783.4 1804,783.5 1804.7,783.6 1805.3,783.7 1806,783.8 1806.7,783.9 1807.3,784 1808,784.1 1808.7,784.2 1809.3,784.3 1810,784.4 1810.7,784.5 1811.3,784.6 1812,784.6 1812.7,784.7 1813.4,784.8 1814,784.9 1814.7,785 1815.4,785.1 1816,785.1 1816.7,785.2 1817.4,785.3 1818,785.4 1818.7,785.4 1819.4,785.5 1820.1,785.6 1820.7,785.6 1821.4,785.7 1822.1,785.8 1822.7,785.8 1823.4,785.9 1824.1,786 1824.8,786 1825.4,786.1 1826.1,786.1 1826.8,786.2 1827.4,786.3 1828.1,786.3 1828.8,786.4 1829.4,786.4 1830.1,786.5 1830.8,786.5 1831.5,786.6 1832.1,786.6 1832.8,786.7 1833.5,786.7 1834.1,786.8 1834.8,786.8 1835.5,786.9 1836.1,786.9 1836.8,787 1837.5,787 1838.2,787.1 1838.8,787.1 1839.5,787.2 1840.2,787.2 1840.8,787.2 1841.5,787.3 1842.2,787.3 1842.8,787.4 1843.5,787.4 1844.2,787.4 1844.8,787.5 1845.5,787.5 1846.2,787.6 1846.9,787.6 1847.5,787.6 1848.2,787.7 1848.9,787.7 1849.5,787.7 1850.2,787.8 1850.9,787.8 1851.5,787.8 1852.2,787.9 1852.9,787.9 1853.6,787.9 1854.2,788 1854.9,788 1855.6,788 1856.2,788.1 1856.9,788.1 1857.6,788.1 1858.2,788.2 1858.9,788.2 1859.6,788.2 1860.3,788.2 1860.9,788.3 1861.6,788.3 1862.3,788.3 1862.9,788.4 1863.6,788.4 1864.3,788.4 1865,788.4 1865.6,788.5 1866.3,788.5 1867,788.5 1867.6,788.5 1868.3,788.6 1869,788.6 1869.6,788.6 1870.3,788.6 1871,788.7 1871.7,788.7 1872.3,788.7 1873,788.7 1873.7,788.8 1874.3,788.8 1875,788.8 1875.7,788.8 1876.3,788.8 1877,788.9 1877.7,788.9 1878.3,788.9 1879,788.9 1879.7,788.9 1880.4,789 1881,789 1881.7,789 1882.4,789 1883,789 1883.7,789.1 1884.4,789.1 1885,789.1 1885.7,789.1 1886.4,789.1 1887.1,789.1 1887.7,789.2 1888.4,789.2 1889.1,789.2 1889.7,789.2 1890.4,789.2 1891.1,789.3 1891.8,789.3 1892.4,789.3 1893.1,789.3 1893.8,789.3 1894.4,789.3 1895.1,789.3 1895.8,789.4 1896.4,789.4 1897.1,789.4 1897.8,789.4 1898.5,789.4 1899.1,789.4 1899.8,789.5 1900.5,789.5 1901.1,789.5 1901.8,789.5 1902.5,789.5 1903.1,789.5 1903.8,789.5 1904.5,789.6 1905.2,789.6 1905.8,789.6 1906.5,789.6 1907.2,789.6 1907.8,789.6 1908.5,789.6 1909.2,789.6 1909.8,789.7 1910.5,789.7 1911.2,789.7 1911.8,789.7 1912.5,789.7 1913.2,789.7 1913.9,789.7 1914.5,789.7 1915.2,789.7 1915.9,789.8 1916.5,789.8 1917.2,789.8 1917.9,789.8 1918.5,789.8 1919.2,789.8 1919.9,789.8 1920.6,789.8 1921.2,789.8 1921.9,789.9 1922.6,789.9 1923.2,789.9 1923.9,789.9 1924.6,789.9 1925.2,789.9 1925.9,789.9 1926.6,789.9 1927.3,789.9 1927.9,789.9 1928.6,790 1929.3,790 1929.9,790 1930.6,790 1931.3,790 1932,790 1932.6,790 1933.3,790 1934,790 1934.6,790 1935.3,790.1 1936,790.1 1936.6,790.1 1937.3,790.1 1938,790.1 1938.7,790.1 1939.3,790.1 1940,790.1 1940.7,790.1 1941.3,790.1 1942,790.1 1942.7,790.1 1943.3,790.2 1944,790.2 1944.7,790.2 1945.3,790.2 1946,790.2 1946.7,790.2 1947.4,790.2 1948,790.2 1948.7,790.2 1949.4,790.2 1950,790.2 1950.7,790.2 1951.4,790.2 1952.1,790.2 1952.7,790.3 1953.4,790.3 1954.1,790.3 1954.7,790.3 1955.4,790.3 1956.1,790.3 1956.7,790.3 1957.4,790.3 1958.1,790.3 1958.8,790.3 1959.4,790.3 1960.1,790.3 1960.8,790.3 1961.4,790.3 1962.1,790.3 1962.8,790.4 1963.4,790.4 1964.1,790.4 1964.8,790.4 1965.4,790.4 1966.1,790.4 1966.8,790.4 1967.5,790.4 1968.1,790.4 1968.8,790.4 1969.5,790.4 1970.1,790.4 1970.8,790.4 1971.5,790.4 1972.2,790.4 1972.8,790.4 1973.5,790.4 1974.2,790.5 1974.8,790.5 1975.5,790.5" fill="none" stroke="#60a5d3" stroke-width="3.0" stroke-linecap="round" stroke-linejoin="round"/>
<polyline points="1439.5,792.6 1440.2,792.6 1440.8,792.6 1441.5,792.6 1442.2,792.6 1442.8,792.6 1443.5,792.6 1444.2,792.6 1444.9,792.6 1445.5,792.6 1446.2,792.6 1446.9,792.6 1447.5,792.6 1448.2,792.6 1448.9,792.6 1449.5,792.6 1450.2,792.6 1450.9,792.6 1451.6,792.7 1452.2,792.7 1452.9,792.7 1453.6,792.7 1454.2,792.7 1454.9,792.7 1455.6,792.7 1456.2,792.7 1456.9,792.7 1457.6,792.7 1458.3,792.7 1458.9,792.7 1459.6,792.7 1460.3,792.7 1460.9,792.7 1461.6,792.7 1462.3,792.8 1463,792.8 1463.6,792.8 1464.3,792.8 1465,792.8 1465.6,792.8 1466.3,792.8 1467,792.8 1467.6,792.8 1468.3,792.8 1469,792.8 1469.7,792.8 1470.3,792.8 1471,792.8 1471.7,792.9 1472.3,792.9 1473,792.9 1473.7,792.9 1474.3,792.9 1475,792.9 1475.7,792.9 1476.3,792.9 1477,792.9 1477.7,792.9 1478.4,792.9 1479,792.9 1479.7,792.9 1480.4,793 1481,793 1481.7,793 1482.4,793 1483,793 1483.7,793 1484.4,793 1485.1,793 1485.7,793 1486.4,793 1487.1,793 1487.7,793 1488.4,793.1 1489.1,793.1 1489.8,793.1 1490.4,793.1 1491.1,793.1 1491.8,793.1 1492.4,793.1 1493.1,793.1 1493.8,793.1 1494.4,793.1 1495.1,793.2 1495.8,793.2 1496.5,793.2 1497.1,793.2 1497.8,793.2 1498.5,793.2 1499.1,793.2 1499.8,793.2 1500.5,793.2 1501.1,793.2 1501.8,793.3 1502.5,793.3 1503.2,793.3 1503.8,793.3 1504.5,793.3 1505.2,793.3 1505.8,793.3 1506.5,793.3 1507.2,793.3 1507.8,793.4 1508.5,793.4 1509.2,793.4 1509.8,793.4 1510.5,793.4 1511.2,793.4 1511.9,793.4 1512.5,793.4 1513.2,793.5 1513.9,793.5 1514.5,793.5 1515.2,793.5 1515.9,793.5 1516.5,793.5 1517.2,793.5 1517.9,793.6 1518.6,793.6 1519.2,793.6 1519.9,793.6 1520.6,793.6 1521.2,793.6 1521.9,793.6 1522.6,793.7 1523.2,793.7 1523.9,793.7 1524.6,793.7 1525.3,793.7 1525.9,793.7 1526.6,793.7 1527.3,793.8 1527.9,793.8 1528.6,793.8 1529.3,793.8 1530,793.8 1530.6,793.8 1531.3,793.9 1532,793.9 1532.6,793.9 1533.3,793.9 1534,793.9 1534.6,794 1535.3,794 1536,794 1536.7,794 1537.3,794 1538,794 1538.7,794.1 1539.3,794.1 1540,794.1 1540.7,794.1 1541.3,794.1 1542,794.2 1542.7,794.2 1543.3,794.2 1544,794.2 1544.7,794.3 1545.4,794.3 1546,794.3 1546.7,794.3 1547.4,794.3 1548,794.4 1548.7,794.4 1549.4,794.4 1550,794.4 1550.7,794.5 1551.4,794.5 1552.1,794.5 1552.7,794.5 1553.4,794.6 1554.1,794.6 1554.7,794.6 1555.4,794.6 1556.1,794.7 1556.8,794.7 1557.4,794.7 1558.1,794.8 1558.8,794.8 1559.4,794.8 1560.1,794.8 1560.8,794.9 1561.4,794.9 1562.1,794.9 1562.8,795 1563.5,795 1564.1,795 1564.8,795.1 1565.5,795.1 1566.1,795.1 1566.8,795.2 1567.5,795.2 1568.1,795.2 1568.8,795.3 1569.5,795.3 1570.2,795.3 1570.8,795.4 1571.5,795.4 1572.2,795.4 1572.8,795.5 1573.5,795.5 1574.2,795.6 1574.8,795.6 1575.5,795.6 1576.2,795.7 1576.8,795.7 1577.5,795.8 1578.2,795.8 1578.9,795.8 1579.5,795.9 1580.2,795.9 1580.9,796 1581.5,796 1582.2,796.1 1582.9,796.1 1583.5,796.2 1584.2,796.2 1584.9,796.3 1585.6,796.3 1586.2,796.4 1586.9,796.4 1587.6,796.5 1588.2,796.5 1588.9,796.6 1589.6,796.6 1590.2,796.7 1590.9,796.7 1591.6,796.8 1592.3,796.9 1592.9,796.9 1593.6,797 1594.3,797 1594.9,797.1 1595.6,797.2 1596.3,797.2 1597,797.3 1597.6,797.4 1598.3,797.4 1599,797.5 1599.6,797.6 1600.3,797.7 1601,797.7 1601.6,797.8 1602.3,797.9 1603,798 1603.7,798 1604.3,798.1 1605,798.2 1605.7,798.3 1606.3,798.4 1607,798.5 1607.7,798.6 1608.3,798.6 1609,798.7 1609.7,798.8 1610.3,798.9 1611,799 1611.7,799.1 1612.4,799.2 1613,799.3 1613.7,799.4 1614.4,799.6 1615,799.7 1615.7,799.8 1616.4,799.9 1617,800 1617.7,800.1 1618.4,800.2 1619.1,800.4 1619.7,800.5 1620.4,800.6 1621.1,800.8 1621.7,800.9 1622.4,801 1623.1,801.2 1623.8,801.3 1624.4,801.5 1625.1,801.6 1625.8,801.8 1626.4,801.9 1627.1,802.1 1627.8,802.3 1628.4,802.4 1629.1,802.6 1629.8,802.8 1630.5,803 1631.1,803.2 1631.8,803.4 1632.5,803.6 1633.1,803.8 1633.8,804 1634.5,804.2 1635.1,804.4 1635.8,804.6 1636.5,804.8 1637.2,805.1 1637.8,805.3 1638.5,805.6 1639.2,805.8 1639.8,806.1 1640.5,806.3 1641.2,806.6 1641.8,806.9 1642.5,807.2 1643.2,807.5 1643.8,807.8 1644.5,808.1 1645.2,808.4 1645.9,808.8 1646.5,809.1 1647.2,809.4 1647.9,809.8 1648.5,810.2 1649.2,810.6 1649.9,810.9 1650.5,811.4 1651.2,811.8 1651.9,812.2 1652.6,812.6 1653.2,813.1 1653.9,813.6 1654.6,814.1 1655.2,814.6 1655.9,815.1 1656.6,815.6 1657.2,816.2 1657.9,816.7 1658.6,817.3 1659.3,817.9 1659.9,818.5 1660.6,819.2 1661.3,819.9 1661.9,820.6 1662.6,821.3 1663.3,822 1664,822.8 1664.6,823.6 1665.3,824.4 1666,825.3 1666.6,826.1 1667.3,827.1 1668,828 1668.6,829 1669.3,830 1670,831.1 1670.7,832.2 1671.3,833.3 1672,834.5 1672.7,835.7 1673.3,837 1674,838.3 1674.7,839.7 1675.3,841.1 1676,842.6 1676.7,844.1 1677.3,845.7 1678,847.4 1678.7,849.1 1679.4,850.9 1680,852.7 1680.7,854.6 1681.4,856.6 1682,858.7 1682.7,860.9 1683.4,863.1 1684,865.4 1684.7,867.8 1685.4,870.3 1686.1,872.8 1686.7,875.5 1687.4,878.2 1688.1,881 1688.7,883.9 1689.4,886.9 1690.1,890 1690.8,893.1 1691.4,896.3 1692.1,899.6 1692.8,903 1693.4,906.3 1694.1,909.8 1694.8,913.2 1695.4,916.7 1696.1,920.2 1696.8,923.6 1697.5,927 1698.1,930.4 1698.8,933.7 1699.5,936.8 1700.1,939.9 1700.8,942.8 1701.5,945.5 1702.1,948.1 1702.8,950.3 1703.5,952.4 1704.2,954.2 1704.8,955.6 1705.5,956.8 1706.2,957.7 1706.8,958.2 1707.5,958.3 1708.2,958.2 1708.8,957.7 1709.5,956.8 1710.2,955.6 1710.8,954.2 1711.5,952.4 1712.2,950.3 1712.9,948.1 1713.5,945.5 1714.2,942.8 1714.9,939.9 1715.5,936.8 1716.2,933.7 1716.9,930.4 1717.5,927 1718.2,923.6 1718.9,920.2 1719.6,916.7 1720.2,913.2 1720.9,909.8 1721.6,906.3 1722.2,903 1722.9,899.6 1723.6,896.3 1724.2,893.1 1724.9,890 1725.6,886.9 1726.3,883.9 1726.9,881 1727.6,878.2 1728.3,875.5 1728.9,872.8 1729.6,870.3 1730.3,867.8 1731,865.4 1731.6,863.1 1732.3,860.9 1733,858.7 1733.6,856.6 1734.3,854.6 1735,852.7 1735.6,850.9 1736.3,849.1 1737,847.4 1737.7,845.7 1738.3,844.1 1739,842.6 1739.7,841.1 1740.3,839.7 1741,838.3 1741.7,837 1742.3,835.7 1743,834.5 1743.7,833.3 1744.3,832.2 1745,831.1 1745.7,830 1746.4,829 1747,828 1747.7,827.1 1748.4,826.1 1749,825.3 1749.7,824.4 1750.4,823.6 1751,822.8 1751.7,822 1752.4,821.3 1753.1,820.6 1753.7,819.9 1754.4,819.2 1755.1,818.5 1755.7,817.9 1756.4,817.3 1757.1,816.7 1757.8,816.2 1758.4,815.6 1759.1,815.1 1759.8,814.6 1760.4,814.1 1761.1,813.6 1761.8,813.1 1762.4,812.6 1763.1,812.2 1763.8,811.8 1764.5,811.4 1765.1,810.9 1765.8,810.6 1766.5,810.2 1767.1,809.8 1767.8,809.4 1768.5,809.1 1769.1,808.8 1769.8,808.4 1770.5,808.1 1771.2,807.8 1771.8,807.5 1772.5,807.2 1773.2,806.9 1773.8,806.6 1774.5,806.3 1775.2,806.1 1775.8,805.8 1776.5,805.6 1777.2,805.3 1777.8,805.1 1778.5,804.8 1779.2,804.6 1779.9,804.4 1780.5,804.2 1781.2,804 1781.9,803.8 1782.5,803.6 1783.2,803.4 1783.9,803.2 1784.5,803 1785.2,802.8 1785.9,802.6 1786.6,802.4 1787.2,802.3 1787.9,802.1 1788.6,801.9 1789.2,801.8 1789.9,801.6 1790.6,801.5 1791.2,801.3 1791.9,801.2 1792.6,801 1793.3,800.9 1793.9,800.8 1794.6,800.6 1795.3,800.5 1795.9,800.4 1796.6,800.2 1797.3,800.1 1798,800 1798.6,799.9 1799.3,799.8 1800,799.7 1800.6,799.6 1801.3,799.4 1802,799.3 1802.6,799.2 1803.3,799.1 1804,799 1804.7,798.9 1805.3,798.8 1806,798.7 1806.7,798.6 1807.3,798.6 1808,798.5 1808.7,798.4 1809.3,798.3 1810,798.2 1810.7,798.1 1811.3,798 1812,798 1812.7,797.9 1813.4,797.8 1814,797.7 1814.7,797.7 1815.4,797.6 1816,797.5 1816.7,797.4 1817.4,797.4 1818,797.3 1818.7,797.2 1819.4,797.2 1820.1,797.1 1820.7,797 1821.4,797 1822.1,796.9 1822.7,796.9 1823.4,796.8 1824.1,796.7 1824.8,796.7 1825.4,796.6 1826.1,796.6 1826.8,796.5 1827.4,796.5 1828.1,796.4 1828.8,796.4 1829.4,796.3 1830.1,796.3 1830.8,796.2 1831.5,796.2 1832.1,796.1 1832.8,796.1 1833.5,796 1834.1,796 1834.8,795.9 1835.5,795.9 1836.1,795.8 1836.8,795.8 1837.5,795.8 1838.2,795.7 1838.8,795.7 1839.5,795.6 1840.2,795.6 1840.8,795.6 1841.5,795.5 1842.2,795.5 1842.8,795.4 1843.5,795.4 1844.2,795.4 1844.8,795.3 1845.5,795.3 1846.2,795.3 1846.9,795.2 1847.5,795.2 1848.2,795.2 1848.9,795.1 1849.5,795.1 1850.2,795.1 1850.9,795 1851.5,795 1852.2,795 1852.9,794.9 1853.6,794.9 1854.2,794.9 1854.9,794.8 1855.6,794.8 1856.2,794.8 1856.9,794.8 1857.6,794.7 1858.2,794.7 1858.9,794.7 1859.6,794.6 1860.3,794.6 1860.9,794.6 1861.6,794.6 1862.3,794.5 1862.9,794.5 1863.6,794.5 1864.3,794.5 1865,794.4 1865.6,794.4 1866.3,794.4 1867,794.4 1867.6,794.3 1868.3,794.3 1869,794.3 1869.6,794.3 1870.3,794.3 1871,794.2 1871.7,794.2 1872.3,794.2 1873,794.2 1873.7,794.1 1874.3,794.1 1875,794.1 1875.7,794.1 1876.3,794.1 1877,794 1877.7,794 1878.3,794 1879,794 1879.7,794 1880.4,794 1881,793.9 1881.7,793.9 1882.4,793.9 1883,793.9 1883.7,793.9 1884.4,793.8 1885,793.8 1885.7,793.8 1886.4,793.8 1887.1,793.8 1887.7,793.8 1888.4,793.7 1889.1,793.7 1889.7,793.7 1890.4,793.7 1891.1,793.7 1891.8,793.7 1892.4,793.7 1893.1,793.6 1893.8,793.6 1894.4,793.6 1895.1,793.6 1895.8,793.6 1896.4,793.6 1897.1,793.6 1897.8,793.5 1898.5,793.5 1899.1,793.5 1899.8,793.5 1900.5,793.5 1901.1,793.5 1901.8,793.5 1902.5,793.4 1903.1,793.4 1903.8,793.4 1904.5,793.4 1905.2,793.4 1905.8,793.4 1906.5,793.4 1907.2,793.4 1907.8,793.3 1908.5,793.3 1909.2,793.3 1909.8,793.3 1910.5,793.3 1911.2,793.3 1911.8,793.3 1912.5,793.3 1913.2,793.3 1913.9,793.2 1914.5,793.2 1915.2,793.2 1915.9,793.2 1916.5,793.2 1917.2,793.2 1917.9,793.2 1918.5,793.2 1919.2,793.2 1919.9,793.2 1920.6,793.1 1921.2,793.1 1921.9,793.1 1922.6,793.1 1923.2,793.1 1923.9,793.1 1924.6,793.1 1925.2,793.1 1925.9,793.1 1926.6,793.1 1927.3,793 1927.9,793 1928.6,793 1929.3,793 1929.9,793 1930.6,793 1931.3,793 1932,793 1932.6,793 1933.3,793 1934,793 1934.6,793 1935.3,792.9 1936,792.9 1936.6,792.9 1937.3,792.9 1938,792.9 1938.7,792.9 1939.3,792.9 1940,792.9 1940.7,792.9 1941.3,792.9 1942,792.9 1942.7,792.9 1943.3,792.9 1944,792.8 1944.7,792.8 1945.3,792.8 1946,792.8 1946.7,792.8 1947.4,792.8 1948,792.8 1948.7,792.8 1949.4,792.8 1950,792.8 1950.7,792.8 1951.4,792.8 1952.1,792.8 1952.7,792.8 1953.4,792.7 1954.1,792.7 1954.7,792.7 1955.4,792.7 1956.1,792.7 1956.7,792.7 1957.4,792.7 1958.1,792.7 1958.8,792.7 1959.4,792.7 1960.1,792.7 1960.8,792.7 1961.4,792.7 1962.1,792.7 1962.8,792.7 1963.4,792.7 1964.1,792.6 1964.8,792.6 1965.4,792.6 1966.1,792.6 1966.8,792.6 1967.5,792.6 1968.1,792.6 1968.8,792.6 1969.5,792.6 1970.1,792.6 1970.8,792.6 1971.5,792.6 1972.2,792.6 1972.8,792.6 1973.5,792.6 1974.2,792.6 1974.8,792.6 1975.5,792.6" fill="none" stroke="#60a5d3" stroke-width="3.0" stroke-linecap="round" stroke-linejoin="round"/>
<polyline points="1439.5,790.4 1440.2,790.4 1440.8,790.4 1441.5,790.4 1442.2,790.4 1442.8,790.4 1443.5,790.4 1444.2,790.4 1444.9,790.4 1445.5,790.4 1446.2,790.4 1446.9,790.4 1447.5,790.4 1448.2,790.4 1448.9,790.4 1449.5,790.4 1450.2,790.4 1450.9,790.3 1451.6,790.3 1452.2,790.3 1452.9,790.3 1453.6,790.3 1454.2,790.3 1454.9,790.3 1455.6,790.3 1456.2,790.3 1456.9,790.3 1457.6,790.3 1458.3,790.3 1458.9,790.3 1459.6,790.3 1460.3,790.3 1460.9,790.3 1461.6,790.2 1462.3,790.2 1463,790.2 1463.6,790.2 1464.3,790.2 1465,790.2 1465.6,790.2 1466.3,790.2 1467,790.2 1467.6,790.2 1468.3,790.2 1469,790.2 1469.7,790.2 1470.3,790.1 1471,790.1 1471.7,790.1 1472.3,790.1 1473,790.1 1473.7,790.1 1474.3,790.1 1475,790.1 1475.7,790.1 1476.3,790.1 1477,790.1 1477.7,790.1 1478.4,790 1479,790 1479.7,790 1480.4,790 1481,790 1481.7,790 1482.4,790 1483,790 1483.7,790 1484.4,790 1485.1,790 1485.7,789.9 1486.4,789.9 1487.1,789.9 1487.7,789.9 1488.4,789.9 1489.1,789.9 1489.8,789.9 1490.4,789.9 1491.1,789.9 1491.8,789.9 1492.4,789.8 1493.1,789.8 1493.8,789.8 1494.4,789.8 1495.1,789.8 1495.8,789.8 1496.5,789.8 1497.1,789.8 1497.8,789.8 1498.5,789.7 1499.1,789.7 1499.8,789.7 1500.5,789.7 1501.1,789.7 1501.8,789.7 1502.5,789.7 1503.2,789.7 1503.8,789.7 1504.5,789.6 1505.2,789.6 1505.8,789.6 1506.5,789.6 1507.2,789.6 1507.8,789.6 1508.5,789.6 1509.2,789.6 1509.8,789.5 1510.5,789.5 1511.2,789.5 1511.9,789.5 1512.5,789.5 1513.2,789.5 1513.9,789.5 1514.5,789.4 1515.2,789.4 1515.9,789.4 1516.5,789.4 1517.2,789.4 1517.9,789.4 1518.6,789.3 1519.2,789.3 1519.9,789.3 1520.6,789.3 1521.2,789.3 1521.9,789.3 1522.6,789.3 1523.2,789.2 1523.9,789.2 1524.6,789.2 1525.3,789.2 1525.9,789.2 1526.6,789.2 1527.3,789.1 1527.9,789.1 1528.6,789.1 1529.3,789.1 1530,789.1 1530.6,789 1531.3,789 1532,789 1532.6,789 1533.3,789 1534,788.9 1534.6,788.9 1535.3,788.9 1536,788.9 1536.7,788.9 1537.3,788.8 1538,788.8 1538.7,788.8 1539.3,788.8 1540,788.8 1540.7,788.7 1541.3,788.7 1542,788.7 1542.7,788.7 1543.3,788.6 1544,788.6 1544.7,788.6 1545.4,788.6 1546,788.6 1546.7,788.5 1547.4,788.5 1548,788.5 1548.7,788.5 1549.4,788.4 1550,788.4 1550.7,788.4 1551.4,788.3 1552.1,788.3 1552.7,788.3 1553.4,788.3 1554.1,788.2 1554.7,788.2 1555.4,788.2 1556.1,788.1 1556.8,788.1 1557.4,788.1 1558.1,788.1 1558.8,788 1559.4,788 1560.1,788 1560.8,787.9 1561.4,787.9 1562.1,787.9 1562.8,787.8 1563.5,787.8 1564.1,787.8 1564.8,787.7 1565.5,787.7 1566.1,787.7 1566.8,787.6 1567.5,787.6 1568.1,787.6 1568.8,787.5 1569.5,787.5 1570.2,787.4 1570.8,787.4 1571.5,787.4 1572.2,787.3 1572.8,787.3 1573.5,787.2 1574.2,787.2 1574.8,787.1 1575.5,787.1 1576.2,787.1 1576.8,787 1577.5,787 1578.2,786.9 1578.9,786.9 1579.5,786.8 1580.2,786.8 1580.9,786.7 1581.5,786.7 1582.2,786.6 1582.9,786.6 1583.5,786.5 1584.2,786.5 1584.9,786.4 1585.6,786.4 1586.2,786.3 1586.9,786.3 1587.6,786.2 1588.2,786.1 1588.9,786.1 1589.6,786 1590.2,786 1590.9,785.9 1591.6,785.8 1592.3,785.8 1592.9,785.7 1593.6,785.6 1594.3,785.6 1594.9,785.5 1595.6,785.4 1596.3,785.4 1597,785.3 1597.6,785.2 1598.3,785.1 1599,785.1 1599.6,785 1600.3,784.9 1601,784.8 1601.6,784.7 1602.3,784.7 1603,784.6 1603.7,784.5 1604.3,784.4 1605,784.3 1605.7,784.2 1606.3,784.1 1607,784 1607.7,783.9 1608.3,783.8 1609,783.7 1609.7,783.6 1610.3,783.5 1611,783.4 1611.7,783.3 1612.4,783.2 1613,783.1 1613.7,783 1614.4,782.9 1615,782.7 1615.7,782.6 1616.4,782.5 1617,782.4 1617.7,782.2 1618.4,782.1 1619.1,782 1619.7,781.8 1620.4,781.7 1621.1,781.5 1621.7,781.4 1622.4,781.2 1623.1,781.1 1623.8,780.9 1624.4,780.8 1625.1,780.6 1625.8,780.4 1626.4,780.3 1627.1,780.1 1627.8,779.9 1628.4,779.7 1629.1,779.5 1629.8,779.3 1630.5,779.1 1631.1,778.9 1631.8,778.7 1632.5,778.5 1633.1,778.3 1633.8,778.1 1634.5,777.9 1635.1,777.6 1635.8,777.4 1636.5,777.1 1637.2,776.9 1637.8,776.6 1638.5,776.4 1639.2,776.1 1639.8,775.8 1640.5,775.5 1641.2,775.2 1641.8,774.9 1642.5,774.6 1643.2,774.3 1643.8,774 1644.5,773.7 1645.2,773.3 1645.9,773 1646.5,772.6 1647.2,772.2 1647.9,771.8 1648.5,771.4 1649.2,771 1649.9,770.6 1650.5,770.2 1651.2,769.7 1651.9,769.3 1652.6,768.8 1653.2,768.3 1653.9,767.8 1654.6,767.3 1655.2,766.8 1655.9,766.2 1656.6,765.7 1657.2,765.1 1657.9,764.5 1658.6,763.9 1659.3,763.2 1659.9,762.6 1660.6,761.9 1661.3,761.2 1661.9,760.4 1662.6,759.7 1663.3,758.9 1664,758.1 1664.6,757.3 1665.3,756.4 1666,755.5 1666.6,754.6 1667.3,753.6 1668,752.6 1668.6,751.6 1669.3,750.5 1670,749.4 1670.7,748.3 1671.3,747.1 1672,745.9 1672.7,744.6 1673.3,743.3 1674,742 1674.7,740.5 1675.3,739.1 1676,737.6 1676.7,736 1677.3,734.4 1678,732.7 1678.7,730.9 1679.4,729.1 1680,727.2 1680.7,725.3 1681.4,723.3 1682,721.2 1682.7,719 1683.4,716.8 1684,714.5 1684.7,712.1 1685.4,709.6 1686.1,707.1 1686.7,704.5 1687.4,701.8 1688.1,699 1688.7,696.2 1689.4,693.3 1690.1,690.3 1690.8,687.3 1691.4,684.2 1692.1,681.1 1692.8,677.9 1693.4,674.6 1694.1,671.4 1694.8,668.1 1695.4,664.9 1696.1,661.6 1696.8,658.4 1697.5,655.2 1698.1,652.1 1698.8,649.1 1699.5,646.2 1700.1,643.4 1700.8,640.7 1701.5,638.3 1702.1,636 1702.8,633.9 1703.5,632.1 1704.2,630.5 1704.8,629.1 1705.5,628.1 1706.2,627.3 1706.8,626.9 1707.5,626.7 1708.2,626.9 1708.8,627.3 1709.5,628.1 1710.2,629.1 1710.8,630.5 1711.5,632.1 1712.2,633.9 1712.9,636 1713.5,638.3 1714.2,640.7 1714.9,643.4 1715.5,646.2 1716.2,649.1 1716.9,652.1 1717.5,655.2 1718.2,658.4 1718.9,661.6 1719.6,664.9 1720.2,668.1 1720.9,671.4 1721.6,674.6 1722.2,677.9 1722.9,681.1 1723.6,684.2 1724.2,687.3 1724.9,690.3 1725.6,693.3 1726.3,696.2 1726.9,699 1727.6,701.8 1728.3,704.5 1728.9,707.1 1729.6,709.6 1730.3,712.1 1731,714.5 1731.6,716.8 1732.3,719 1733,721.2 1733.6,723.3 1734.3,725.3 1735,727.2 1735.6,729.1 1736.3,730.9 1737,732.7 1737.7,734.4 1738.3,736 1739,737.6 1739.7,739.1 1740.3,740.5 1741,742 1741.7,743.3 1742.3,744.6 1743,745.9 1743.7,747.1 1744.3,748.3 1745,749.4 1745.7,750.5 1746.4,751.6 1747,752.6 1747.7,753.6 1748.4,754.6 1749,755.5 1749.7,756.4 1750.4,757.3 1751,758.1 1751.7,758.9 1752.4,759.7 1753.1,760.4 1753.7,761.2 1754.4,761.9 1755.1,762.6 1755.7,763.2 1756.4,763.9 1757.1,764.5 1757.8,765.1 1758.4,765.7 1759.1,766.2 1759.8,766.8 1760.4,767.3 1761.1,767.8 1761.8,768.3 1762.4,768.8 1763.1,769.3 1763.8,769.7 1764.5,770.2 1765.1,770.6 1765.8,771 1766.5,771.4 1767.1,771.8 1767.8,772.2 1768.5,772.6 1769.1,773 1769.8,773.3 1770.5,773.7 1771.2,774 1771.8,774.3 1772.5,774.6 1773.2,774.9 1773.8,775.2 1774.5,775.5 1775.2,775.8 1775.8,776.1 1776.5,776.4 1777.2,776.6 1777.8,776.9 1778.5,777.1 1779.2,777.4 1779.9,777.6 1780.5,777.9 1781.2,778.1 1781.9,778.3 1782.5,778.5 1783.2,778.7 1783.9,778.9 1784.5,779.1 1785.2,779.3 1785.9,779.5 1786.6,779.7 1787.2,779.9 1787.9,780.1 1788.6,780.3 1789.2,780.4 1789.9,780.6 1790.6,780.8 1791.2,780.9 1791.9,781.1 1792.6,781.2 1793.3,781.4 1793.9,781.5 1794.6,781.7 1795.3,781.8 1795.9,782 1796.6,782.1 1797.3,782.2 1798,782.4 1798.6,782.5 1799.3,782.6 1800,782.7 1800.6,782.9 1801.3,783 1802,783.1 1802.6,783.2 1803.3,783.3 1804,783.4 1804.7,783.5 1805.3,783.6 1806,783.7 1806.7,783.8 1807.3,783.9 1808,784 1808.7,784.1 1809.3,784.2 1810,784.3 1810.7,784.4 1811.3,784.5 1812,784.6 1812.7,784.7 1813.4,784.7 1814,784.8 1814.7,784.9 1815.4,785 1816,785.1 1816.7,785.1 1817.4,785.2 1818,785.3 1818.7,785.4 1819.4,785.4 1820.1,785.5 1820.7,785.6 1821.4,785.6 1822.1,785.7 1822.7,785.8 1823.4,785.8 1824.1,785.9 1824.8,786 1825.4,786 1826.1,786.1 1826.8,786.1 1827.4,786.2 1828.1,786.3 1828.8,786.3 1829.4,786.4 1830.1,786.4 1830.8,786.5 1831.5,786.5 1832.1,786.6 1832.8,786.6 1833.5,786.7 1834.1,786.7 1834.8,786.8 1835.5,786.8 1836.1,786.9 1836.8,786.9 1837.5,787 1838.2,787 1838.8,787.1 1839.5,787.1 1840.2,787.1 1840.8,787.2 1841.5,787.2 1842.2,787.3 1842.8,787.3 1843.5,787.4 1844.2,787.4 1844.8,787.4 1845.5,787.5 1846.2,787.5 1846.9,787.6 1847.5,787.6 1848.2,787.6 1848.9,787.7 1849.5,787.7 1850.2,787.7 1850.9,787.8 1851.5,787.8 1852.2,787.8 1852.9,787.9 1853.6,787.9 1854.2,787.9 1854.9,788 1855.6,788 1856.2,788 1856.9,788.1 1857.6,788.1 1858.2,788.1 1858.9,788.1 1859.6,788.2 1860.3,788.2 1860.9,788.2 1861.6,788.3 1862.3,788.3 1862.9,788.3 1863.6,788.3 1864.3,788.4 1865,788.4 1865.6,788.4 1866.3,788.5 1867,788.5 1867.6,788.5 1868.3,788.5 1869,788.6 1869.6,788.6 1870.3,788.6 1871,788.6 1871.7,788.6 1872.3,788.7 1873,788.7 1873.7,788.7 1874.3,788.7 1875,788.8 1875.7,788.8 1876.3,788.8 1877,788.8 1877.7,788.8 1878.3,788.9 1879,788.9 1879.7,788.9 1880.4,788.9 1881,788.9 1881.7,789 1882.4,789 1883,789 1883.7,789 1884.4,789 1885,789.1 1885.7,789.1 1886.4,789.1 1887.1,789.1 1887.7,789.1 1888.4,789.2 1889.1,789.2 1889.7,789.2 1890.4,789.2 1891.1,789.2 1891.8,789.2 1892.4,789.3 1893.1,789.3 1893.8,789.3 1894.4,789.3 1895.1,789.3 1895.8,789.3 1896.4,789.3 1897.1,789.4 1897.8,789.4 1898.5,789.4 1899.1,789.4 1899.8,789.4 1900.5,789.4 1901.1,789.5 1901.8,789.5 1902.5,789.5 1903.1,789.5 1903.8,789.5 1904.5,789.5 1905.2,789.5 1905.8,789.6 1906.5,789.6 1907.2,789.6 1907.8,789.6 1908.5,789.6 1909.2,789.6 1909.8,789.6 1910.5,789.6 1911.2,789.7 1911.8,789.7 1912.5,789.7 1913.2,789.7 1913.9,789.7 1914.5,789.7 1915.2,789.7 1915.9,789.7 1916.5,789.7 1917.2,789.8 1917.9,789.8 1918.5,789.8 1919.2,789.8 1919.9,789.8 1920.6,789.8 1921.2,789.8 1921.9,789.8 1922.6,789.8 1923.2,789.9 1923.9,789.9 1924.6,789.9 1925.2,789.9 1925.9,789.9 1926.6,789.9 1927.3,789.9 1927.9,789.9 1928.6,789.9 1929.3,789.9 1929.9,790 1930.6,790 1931.3,790 1932,790 1932.6,790 1933.3,790 1934,790 1934.6,790 1935.3,790 1936,790 1936.6,790 1937.3,790.1 1938,790.1 1938.7,790.1 1939.3,790.1 1940,790.1 1940.7,790.1 1941.3,790.1 1942,790.1 1942.7,790.1 1943.3,790.1 1944,790.1 1944.7,790.1 1945.3,790.2 1946,790.2 1946.7,790.2 1947.4,790.2 1948,790.2 1948.7,790.2 1949.4,790.2 1950,790.2 1950.7,790.2 1951.4,790.2 1952.1,790.2 1952.7,790.2 1953.4,790.2 1954.1,790.3 1954.7,790.3 1955.4,790.3 1956.1,790.3 1956.7,790.3 1957.4,790.3 1958.1,790.3 1958.8,790.3 1959.4,790.3 1960.1,790.3 1960.8,790.3 1961.4,790.3 1962.1,790.3 1962.8,790.3 1963.4,790.3 1964.1,790.3 1964.8,790.4 1965.4,790.4 1966.1,790.4 1966.8,790.4 1967.5,790.4 1968.1,790.4 1968.8,790.4 1969.5,790.4 1970.1,790.4 1970.8,790.4 1971.5,790.4 1972.2,790.4 1972.8,790.4 1973.5,790.4 1974.2,790.4 1974.8,790.4 1975.5,790.4" fill="none" stroke="#f55f42" stroke-width="3.0" stroke-linecap="round" stroke-linejoin="round"/>
<polyline points="1439.5,792.6 1440.2,792.6 1440.8,792.6 1441.5,792.6 1442.2,792.6 1442.8,792.6 1443.5,792.6 1444.2,792.6 1444.9,792.6 1445.5,792.6 1446.2,792.7 1446.9,792.7 1447.5,792.7 1448.2,792.7 1448.9,792.7 1449.5,792.7 1450.2,792.7 1450.9,792.7 1451.6,792.7 1452.2,792.7 1452.9,792.7 1453.6,792.7 1454.2,792.7 1454.9,792.7 1455.6,792.7 1456.2,792.7 1456.9,792.7 1457.6,792.8 1458.3,792.8 1458.9,792.8 1459.6,792.8 1460.3,792.8 1460.9,792.8 1461.6,792.8 1462.3,792.8 1463,792.8 1463.6,792.8 1464.3,792.8 1465,792.8 1465.6,792.8 1466.3,792.8 1467,792.8 1467.6,792.9 1468.3,792.9 1469,792.9 1469.7,792.9 1470.3,792.9 1471,792.9 1471.7,792.9 1472.3,792.9 1473,792.9 1473.7,792.9 1474.3,792.9 1475,792.9 1475.7,792.9 1476.3,793 1477,793 1477.7,793 1478.4,793 1479,793 1479.7,793 1480.4,793 1481,793 1481.7,793 1482.4,793 1483,793 1483.7,793 1484.4,793.1 1485.1,793.1 1485.7,793.1 1486.4,793.1 1487.1,793.1 1487.7,793.1 1488.4,793.1 1489.1,793.1 1489.8,793.1 1490.4,793.1 1491.1,793.2 1491.8,793.2 1492.4,793.2 1493.1,793.2 1493.8,793.2 1494.4,793.2 1495.1,793.2 1495.8,793.2 1496.5,793.2 1497.1,793.2 1497.8,793.3 1498.5,793.3 1499.1,793.3 1499.8,793.3 1500.5,793.3 1501.1,793.3 1501.8,793.3 1502.5,793.3 1503.2,793.3 1503.8,793.4 1504.5,793.4 1505.2,793.4 1505.8,793.4 1506.5,793.4 1507.2,793.4 1507.8,793.4 1508.5,793.4 1509.2,793.5 1509.8,793.5 1510.5,793.5 1511.2,793.5 1511.9,793.5 1512.5,793.5 1513.2,793.5 1513.9,793.5 1514.5,793.6 1515.2,793.6 1515.9,793.6 1516.5,793.6 1517.2,793.6 1517.9,793.6 1518.6,793.6 1519.2,793.7 1519.9,793.7 1520.6,793.7 1521.2,793.7 1521.9,793.7 1522.6,793.7 1523.2,793.8 1523.9,793.8 1524.6,793.8 1525.3,793.8 1525.9,793.8 1526.6,793.8 1527.3,793.8 1527.9,793.9 1528.6,793.9 1529.3,793.9 1530,793.9 1530.6,793.9 1531.3,794 1532,794 1532.6,794 1533.3,794 1534,794 1534.6,794 1535.3,794.1 1536,794.1 1536.7,794.1 1537.3,794.1 1538,794.1 1538.7,794.2 1539.3,794.2 1540,794.2 1540.7,794.2 1541.3,794.2 1542,794.3 1542.7,794.3 1543.3,794.3 1544,794.3 1544.7,794.4 1545.4,794.4 1546,794.4 1546.7,794.4 1547.4,794.5 1548,794.5 1548.7,794.5 1549.4,794.5 1550,794.5 1550.7,794.6 1551.4,794.6 1552.1,794.6 1552.7,794.7 1553.4,794.7 1554.1,794.7 1554.7,794.7 1555.4,794.8 1556.1,794.8 1556.8,794.8 1557.4,794.8 1558.1,794.9 1558.8,794.9 1559.4,794.9 1560.1,795 1560.8,795 1561.4,795 1562.1,795.1 1562.8,795.1 1563.5,795.1 1564.1,795.2 1564.8,795.2 1565.5,795.2 1566.1,795.3 1566.8,795.3 1567.5,795.3 1568.1,795.4 1568.8,795.4 1569.5,795.4 1570.2,795.5 1570.8,795.5 1571.5,795.5 1572.2,795.6 1572.8,795.6 1573.5,795.7 1574.2,795.7 1574.8,795.7 1575.5,795.8 1576.2,795.8 1576.8,795.9 1577.5,795.9 1578.2,796 1578.9,796 1579.5,796 1580.2,796.1 1580.9,796.1 1581.5,796.2 1582.2,796.2 1582.9,796.3 1583.5,796.3 1584.2,796.4 1584.9,796.4 1585.6,796.5 1586.2,796.5 1586.9,796.6 1587.6,796.6 1588.2,796.7 1588.9,796.8 1589.6,796.8 1590.2,796.9 1590.9,796.9 1591.6,797 1592.3,797.1 1592.9,797.1 1593.6,797.2 1594.3,797.2 1594.9,797.3 1595.6,797.4 1596.3,797.4 1597,797.5 1597.6,797.6 1598.3,797.7 1599,797.7 1599.6,797.8 1600.3,797.9 1601,798 1601.6,798 1602.3,798.1 1603,798.2 1603.7,798.3 1604.3,798.4 1605,798.4 1605.7,798.5 1606.3,798.6 1607,798.7 1607.7,798.8 1608.3,798.9 1609,799 1609.7,799.1 1610.3,799.2 1611,799.3 1611.7,799.4 1612.4,799.5 1613,799.6 1613.7,799.7 1614.4,799.8 1615,799.9 1615.7,800.1 1616.4,800.2 1617,800.3 1617.7,800.4 1618.4,800.6 1619.1,800.7 1619.7,800.8 1620.4,800.9 1621.1,801.1 1621.7,801.2 1622.4,801.4 1623.1,801.5 1623.8,801.7 1624.4,801.8 1625.1,802 1625.8,802.1 1626.4,802.3 1627.1,802.5 1627.8,802.6 1628.4,802.8 1629.1,803 1629.8,803.2 1630.5,803.4 1631.1,803.6 1631.8,803.7 1632.5,804 1633.1,804.2 1633.8,804.4 1634.5,804.6 1635.1,804.8 1635.8,805 1636.5,805.3 1637.2,805.5 1637.8,805.8 1638.5,806 1639.2,806.3 1639.8,806.5 1640.5,806.8 1641.2,807.1 1641.8,807.4 1642.5,807.7 1643.2,808 1643.8,808.3 1644.5,808.6 1645.2,808.9 1645.9,809.3 1646.5,809.6 1647.2,810 1647.9,810.3 1648.5,810.7 1649.2,811.1 1649.9,811.5 1650.5,811.9 1651.2,812.3 1651.9,812.8 1652.6,813.2 1653.2,813.7 1653.9,814.1 1654.6,814.6 1655.2,815.1 1655.9,815.7 1656.6,816.2 1657.2,816.8 1657.9,817.3 1658.6,817.9 1659.3,818.5 1659.9,819.2 1660.6,819.8 1661.3,820.5 1661.9,821.2 1662.6,821.9 1663.3,822.6 1664,823.4 1664.6,824.2 1665.3,825 1666,825.9 1666.6,826.8 1667.3,827.7 1668,828.6 1668.6,829.6 1669.3,830.6 1670,831.6 1670.7,832.7 1671.3,833.9 1672,835 1672.7,836.2 1673.3,837.5 1674,838.8 1674.7,840.1 1675.3,841.5 1676,843 1676.7,844.5 1677.3,846 1678,847.6 1678.7,849.3 1679.4,851 1680,852.8 1680.7,854.7 1681.4,856.6 1682,858.6 1682.7,860.6 1683.4,862.8 1684,865 1684.7,867.2 1685.4,869.6 1686.1,872 1686.7,874.5 1687.4,877 1688.1,879.7 1688.7,882.4 1689.4,885.1 1690.1,888 1690.8,890.8 1691.4,893.8 1692.1,896.8 1692.8,899.8 1693.4,902.9 1694.1,906 1694.8,909.1 1695.4,912.2 1696.1,915.3 1696.8,918.4 1697.5,921.4 1698.1,924.3 1698.8,927.2 1699.5,930 1700.1,932.7 1700.8,935.2 1701.5,937.5 1702.1,939.7 1702.8,941.7 1703.5,943.4 1704.2,945 1704.8,946.2 1705.5,947.2 1706.2,948 1706.8,948.4 1707.5,948.5 1708.2,948.4 1708.8,948 1709.5,947.2 1710.2,946.2 1710.8,945 1711.5,943.4 1712.2,941.7 1712.9,939.7 1713.5,937.5 1714.2,935.2 1714.9,932.7 1715.5,930 1716.2,927.2 1716.9,924.3 1717.5,921.4 1718.2,918.4 1718.9,915.3 1719.6,912.2 1720.2,909.1 1720.9,906 1721.6,902.9 1722.2,899.8 1722.9,896.8 1723.6,893.8 1724.2,890.8 1724.9,888 1725.6,885.1 1726.3,882.4 1726.9,879.7 1727.6,877 1728.3,874.5 1728.9,872 1729.6,869.6 1730.3,867.2 1731,865 1731.6,862.8 1732.3,860.6 1733,858.6 1733.6,856.6 1734.3,854.7 1735,852.8 1735.6,851 1736.3,849.3 1737,847.6 1737.7,846 1738.3,844.5 1739,843 1739.7,841.5 1740.3,840.1 1741,838.8 1741.7,837.5 1742.3,836.2 1743,835 1743.7,833.9 1744.3,832.7 1745,831.6 1745.7,830.6 1746.4,829.6 1747,828.6 1747.7,827.7 1748.4,826.8 1749,825.9 1749.7,825 1750.4,824.2 1751,823.4 1751.7,822.6 1752.4,821.9 1753.1,821.2 1753.7,820.5 1754.4,819.8 1755.1,819.2 1755.7,818.5 1756.4,817.9 1757.1,817.3 1757.8,816.8 1758.4,816.2 1759.1,815.7 1759.8,815.1 1760.4,814.6 1761.1,814.1 1761.8,813.7 1762.4,813.2 1763.1,812.8 1763.8,812.3 1764.5,811.9 1765.1,811.5 1765.8,811.1 1766.5,810.7 1767.1,810.3 1767.8,810 1768.5,809.6 1769.1,809.3 1769.8,808.9 1770.5,808.6 1771.2,808.3 1771.8,808 1772.5,807.7 1773.2,807.4 1773.8,807.1 1774.5,806.8 1775.2,806.5 1775.8,806.3 1776.5,806 1777.2,805.8 1777.8,805.5 1778.5,805.3 1779.2,805 1779.9,804.8 1780.5,804.6 1781.2,804.4 1781.9,804.2 1782.5,804 1783.2,803.7 1783.9,803.6 1784.5,803.4 1785.2,803.2 1785.9,803 1786.6,802.8 1787.2,802.6 1787.9,802.5 1788.6,802.3 1789.2,802.1 1789.9,802 1790.6,801.8 1791.2,801.7 1791.9,801.5 1792.6,801.4 1793.3,801.2 1793.9,801.1 1794.6,800.9 1795.3,800.8 1795.9,800.7 1796.6,800.6 1797.3,800.4 1798,800.3 1798.6,800.2 1799.3,800.1 1800,799.9 1800.6,799.8 1801.3,799.7 1802,799.6 1802.6,799.5 1803.3,799.4 1804,799.3 1804.7,799.2 1805.3,799.1 1806,799 1806.7,798.9 1807.3,798.8 1808,798.7 1808.7,798.6 1809.3,798.5 1810,798.4 1810.7,798.4 1811.3,798.3 1812,798.2 1812.7,798.1 1813.4,798 1814,798 1814.7,797.9 1815.4,797.8 1816,797.7 1816.7,797.7 1817.4,797.6 1818,797.5 1818.7,797.4 1819.4,797.4 1820.1,797.3 1820.7,797.2 1821.4,797.2 1822.1,797.1 1822.7,797.1 1823.4,797 1824.1,796.9 1824.8,796.9 1825.4,796.8 1826.1,796.8 1826.8,796.7 1827.4,796.6 1828.1,796.6 1828.8,796.5 1829.4,796.5 1830.1,796.4 1830.8,796.4 1831.5,796.3 1832.1,796.3 1832.8,796.2 1833.5,796.2 1834.1,796.1 1834.8,796.1 1835.5,796 1836.1,796 1836.8,796 1837.5,795.9 1838.2,795.9 1838.8,795.8 1839.5,795.8 1840.2,795.7 1840.8,795.7 1841.5,795.7 1842.2,795.6 1842.8,795.6 1843.5,795.5 1844.2,795.5 1844.8,795.5 1845.5,795.4 1846.2,795.4 1846.9,795.4 1847.5,795.3 1848.2,795.3 1848.9,795.3 1849.5,795.2 1850.2,795.2 1850.9,795.2 1851.5,795.1 1852.2,795.1 1852.9,795.1 1853.6,795 1854.2,795 1854.9,795 1855.6,794.9 1856.2,794.9 1856.9,794.9 1857.6,794.8 1858.2,794.8 1858.9,794.8 1859.6,794.8 1860.3,794.7 1860.9,794.7 1861.6,794.7 1862.3,794.7 1862.9,794.6 1863.6,794.6 1864.3,794.6 1865,794.5 1865.6,794.5 1866.3,794.5 1867,794.5 1867.6,794.5 1868.3,794.4 1869,794.4 1869.6,794.4 1870.3,794.4 1871,794.3 1871.7,794.3 1872.3,794.3 1873,794.3 1873.7,794.2 1874.3,794.2 1875,794.2 1875.7,794.2 1876.3,794.2 1877,794.1 1877.7,794.1 1878.3,794.1 1879,794.1 1879.7,794.1 1880.4,794 1881,794 1881.7,794 1882.4,794 1883,794 1883.7,794 1884.4,793.9 1885,793.9 1885.7,793.9 1886.4,793.9 1887.1,793.9 1887.7,793.8 1888.4,793.8 1889.1,793.8 1889.7,793.8 1890.4,793.8 1891.1,793.8 1891.8,793.8 1892.4,793.7 1893.1,793.7 1893.8,793.7 1894.4,793.7 1895.1,793.7 1895.8,793.7 1896.4,793.6 1897.1,793.6 1897.8,793.6 1898.5,793.6 1899.1,793.6 1899.8,793.6 1900.5,793.6 1901.1,793.5 1901.8,793.5 1902.5,793.5 1903.1,793.5 1903.8,793.5 1904.5,793.5 1905.2,793.5 1905.8,793.5 1906.5,793.4 1907.2,793.4 1907.8,793.4 1908.5,793.4 1909.2,793.4 1909.8,793.4 1910.5,793.4 1911.2,793.4 1911.8,793.3 1912.5,793.3 1913.2,793.3 1913.9,793.3 1914.5,793.3 1915.2,793.3 1915.9,793.3 1916.5,793.3 1917.2,793.3 1917.9,793.2 1918.5,793.2 1919.2,793.2 1919.9,793.2 1920.6,793.2 1921.2,793.2 1921.9,793.2 1922.6,793.2 1923.2,793.2 1923.9,793.2 1924.6,793.1 1925.2,793.1 1925.9,793.1 1926.6,793.1 1927.3,793.1 1927.9,793.1 1928.6,793.1 1929.3,793.1 1929.9,793.1 1930.6,793.1 1931.3,793 1932,793 1932.6,793 1933.3,793 1934,793 1934.6,793 1935.3,793 1936,793 1936.6,793 1937.3,793 1938,793 1938.7,793 1939.3,792.9 1940,792.9 1940.7,792.9 1941.3,792.9 1942,792.9 1942.7,792.9 1943.3,792.9 1944,792.9 1944.7,792.9 1945.3,792.9 1946,792.9 1946.7,792.9 1947.4,792.9 1948,792.8 1948.7,792.8 1949.4,792.8 1950,792.8 1950.7,792.8 1951.4,792.8 1952.1,792.8 1952.7,792.8 1953.4,792.8 1954.1,792.8 1954.7,792.8 1955.4,792.8 1956.1,792.8 1956.7,792.8 1957.4,792.8 1958.1,792.7 1958.8,792.7 1959.4,792.7 1960.1,792.7 1960.8,792.7 1961.4,792.7 1962.1,792.7 1962.8,792.7 1963.4,792.7 1964.1,792.7 1964.8,792.7 1965.4,792.7 1966.1,792.7 1966.8,792.7 1967.5,792.7 1968.1,792.7 1968.8,792.7 1969.5,792.6 1970.1,792.6 1970.8,792.6 1971.5,792.6 1972.2,792.6 1972.8,792.6 1973.5,792.6 1974.2,792.6 1974.8,792.6 1975.5,792.6" fill="none" stroke="#f55f42" stroke-width="3.0" stroke-linecap="round" stroke-linejoin="round"/>
<polyline points="1439.5,790.8 1440.2,790.8 1440.8,790.8 1441.5,790.8 1442.2,790.8 1442.8,790.8 1443.5,790.8 1444.2,790.8 1444.9,790.8 1445.5,790.8 1446.2,790.7 1446.9,790.7 1447.5,790.7 1448.2,790.7 1448.9,790.7 1449.5,790.7 1450.2,790.7 1450.9,790.7 1451.6,790.7 1452.2,790.7 1452.9,790.7 1453.6,790.7 1454.2,790.7 1454.9,790.7 1455.6,790.7 1456.2,790.7 1456.9,790.7 1457.6,790.7 1458.3,790.7 1458.9,790.7 1459.6,790.7 1460.3,790.7 1460.9,790.6 1461.6,790.6 1462.3,790.6 1463,790.6 1463.6,790.6 1464.3,790.6 1465,790.6 1465.6,790.6 1466.3,790.6 1467,790.6 1467.6,790.6 1468.3,790.6 1469,790.6 1469.7,790.6 1470.3,790.6 1471,790.6 1471.7,790.6 1472.3,790.6 1473,790.6 1473.7,790.5 1474.3,790.5 1475,790.5 1475.7,790.5 1476.3,790.5 1477,790.5 1477.7,790.5 1478.4,790.5 1479,790.5 1479.7,790.5 1480.4,790.5 1481,790.5 1481.7,790.5 1482.4,790.5 1483,790.5 1483.7,790.5 1484.4,790.5 1485.1,790.4 1485.7,790.4 1486.4,790.4 1487.1,790.4 1487.7,790.4 1488.4,790.4 1489.1,790.4 1489.8,790.4 1490.4,790.4 1491.1,790.4 1491.8,790.4 1492.4,790.4 1493.1,790.4 1493.8,790.4 1494.4,790.3 1495.1,790.3 1495.8,790.3 1496.5,790.3 1497.1,790.3 1497.8,790.3 1498.5,790.3 1499.1,790.3 1499.8,790.3 1500.5,790.3 1501.1,790.3 1501.8,790.3 1502.5,790.3 1503.2,790.2 1503.8,790.2 1504.5,790.2 1505.2,790.2 1505.8,790.2 1506.5,790.2 1507.2,790.2 1507.8,790.2 1508.5,790.2 1509.2,790.2 1509.8,790.2 1510.5,790.1 1511.2,790.1 1511.9,790.1 1512.5,790.1 1513.2,790.1 1513.9,790.1 1514.5,790.1 1515.2,790.1 1515.9,790.1 1516.5,790.1 1517.2,790 1517.9,790 1518.6,790 1519.2,790 1519.9,790 1520.6,790 1521.2,790 1521.9,790 1522.6,790 1523.2,790 1523.9,789.9 1524.6,789.9 1525.3,789.9 1525.9,789.9 1526.6,789.9 1527.3,789.9 1527.9,789.9 1528.6,789.9 1529.3,789.8 1530,789.8 1530.6,789.8 1531.3,789.8 1532,789.8 1532.6,789.8 1533.3,789.8 1534,789.8 1534.6,789.7 1535.3,789.7 1536,789.7 1536.7,789.7 1537.3,789.7 1538,789.7 1538.7,789.7 1539.3,789.6 1540,789.6 1540.7,789.6 1541.3,789.6 1542,789.6 1542.7,789.6 1543.3,789.5 1544,789.5 1544.7,789.5 1545.4,789.5 1546,789.5 1546.7,789.5 1547.4,789.4 1548,789.4 1548.7,789.4 1549.4,789.4 1550,789.4 1550.7,789.4 1551.4,789.3 1552.1,789.3 1552.7,789.3 1553.4,789.3 1554.1,789.3 1554.7,789.2 1555.4,789.2 1556.1,789.2 1556.8,789.2 1557.4,789.2 1558.1,789.1 1558.8,789.1 1559.4,789.1 1560.1,789.1 1560.8,789.1 1561.4,789 1562.1,789 1562.8,789 1563.5,789 1564.1,788.9 1564.8,788.9 1565.5,788.9 1566.1,788.9 1566.8,788.8 1567.5,788.8 1568.1,788.8 1568.8,788.8 1569.5,788.7 1570.2,788.7 1570.8,788.7 1571.5,788.7 1572.2,788.6 1572.8,788.6 1573.5,788.6 1574.2,788.5 1574.8,788.5 1575.5,788.5 1576.2,788.5 1576.8,788.4 1577.5,788.4 1578.2,788.4 1578.9,788.3 1579.5,788.3 1580.2,788.3 1580.9,788.2 1581.5,788.2 1582.2,788.2 1582.9,788.1 1583.5,788.1 1584.2,788.1 1584.9,788 1585.6,788 1586.2,787.9 1586.9,787.9 1587.6,787.9 1588.2,787.8 1588.9,787.8 1589.6,787.7 1590.2,787.7 1590.9,787.7 1591.6,787.6 1592.3,787.6 1592.9,787.5 1593.6,787.5 1594.3,787.4 1594.9,787.4 1595.6,787.3 1596.3,787.3 1597,787.3 1597.6,787.2 1598.3,787.1 1599,787.1 1599.6,787 1600.3,787 1601,786.9 1601.6,786.9 1602.3,786.8 1603,786.8 1603.7,786.7 1604.3,786.7 1605,786.6 1605.7,786.5 1606.3,786.5 1607,786.4 1607.7,786.3 1608.3,786.3 1609,786.2 1609.7,786.1 1610.3,786.1 1611,786 1611.7,785.9 1612.4,785.8 1613,785.8 1613.7,785.7 1614.4,785.6 1615,785.5 1615.7,785.5 1616.4,785.4 1617,785.3 1617.7,785.2 1618.4,785.1 1619.1,785 1619.7,784.9 1620.4,784.8 1621.1,784.7 1621.7,784.6 1622.4,784.5 1623.1,784.4 1623.8,784.3 1624.4,784.2 1625.1,784.1 1625.8,784 1626.4,783.9 1627.1,783.8 1627.8,783.7 1628.4,783.5 1629.1,783.4 1629.8,783.3 1630.5,783.1 1631.1,783 1631.8,782.9 1632.5,782.7 1633.1,782.6 1633.8,782.4 1634.5,782.3 1635.1,782.1 1635.8,782 1636.5,781.8 1637.2,781.7 1637.8,781.5 1638.5,781.3 1639.2,781.1 1639.8,781 1640.5,780.8 1641.2,780.6 1641.8,780.4 1642.5,780.2 1643.2,780 1643.8,779.8 1644.5,779.6 1645.2,779.3 1645.9,779.1 1646.5,778.9 1647.2,778.6 1647.9,778.4 1648.5,778.1 1649.2,777.9 1649.9,777.6 1650.5,777.3 1651.2,777 1651.9,776.8 1652.6,776.5 1653.2,776.2 1653.9,775.8 1654.6,775.5 1655.2,775.2 1655.9,774.8 1656.6,774.5 1657.2,774.1 1657.9,773.7 1658.6,773.4 1659.3,773 1659.9,772.5 1660.6,772.1 1661.3,771.7 1661.9,771.2 1662.6,770.8 1663.3,770.3 1664,769.8 1664.6,769.3 1665.3,768.8 1666,768.2 1666.6,767.7 1667.3,767.1 1668,766.5 1668.6,765.9 1669.3,765.3 1670,764.6 1670.7,764 1671.3,763.3 1672,762.6 1672.7,761.8 1673.3,761.1 1674,760.3 1674.7,759.5 1675.3,758.7 1676,757.8 1676.7,756.9 1677.3,756 1678,755.1 1678.7,754.1 1679.4,753.1 1680,752.1 1680.7,751.1 1681.4,750 1682,748.9 1682.7,747.7 1683.4,746.6 1684,745.4 1684.7,744.1 1685.4,742.9 1686.1,741.6 1686.7,740.3 1687.4,739 1688.1,737.6 1688.7,736.2 1689.4,734.8 1690.1,733.4 1690.8,732 1691.4,730.5 1692.1,729.1 1692.8,727.6 1693.4,726.2 1694.1,724.7 1694.8,723.3 1695.4,721.8 1696.1,720.4 1696.8,719 1697.5,717.7 1698.1,716.4 1698.8,715.1 1699.5,713.9 1700.1,712.8 1700.8,711.7 1701.5,710.7 1702.1,709.8 1702.8,709 1703.5,708.3 1704.2,707.6 1704.8,707.1 1705.5,706.7 1706.2,706.4 1706.8,706.3 1707.5,706.2 1708.2,706.3 1708.8,706.4 1709.5,706.7 1710.2,707.1 1710.8,707.6 1711.5,708.3 1712.2,709 1712.9,709.8 1713.5,710.7 1714.2,711.7 1714.9,712.8 1715.5,713.9 1716.2,715.1 1716.9,716.4 1717.5,717.7 1718.2,719 1718.9,720.4 1719.6,721.8 1720.2,723.3 1720.9,724.7 1721.6,726.2 1722.2,727.6 1722.9,729.1 1723.6,730.5 1724.2,732 1724.9,733.4 1725.6,734.8 1726.3,736.2 1726.9,737.6 1727.6,739 1728.3,740.3 1728.9,741.6 1729.6,742.9 1730.3,744.1 1731,745.4 1731.6,746.6 1732.3,747.7 1733,748.9 1733.6,750 1734.3,751.1 1735,752.1 1735.6,753.1 1736.3,754.1 1737,755.1 1737.7,756 1738.3,756.9 1739,757.8 1739.7,758.7 1740.3,759.5 1741,760.3 1741.7,761.1 1742.3,761.8 1743,762.6 1743.7,763.3 1744.3,764 1745,764.6 1745.7,765.3 1746.4,765.9 1747,766.5 1747.7,767.1 1748.4,767.7 1749,768.2 1749.7,768.8 1750.4,769.3 1751,769.8 1751.7,770.3 1752.4,770.8 1753.1,771.2 1753.7,771.7 1754.4,772.1 1755.1,772.5 1755.7,773 1756.4,773.4 1757.1,773.7 1757.8,774.1 1758.4,774.5 1759.1,774.8 1759.8,775.2 1760.4,775.5 1761.1,775.8 1761.8,776.2 1762.4,776.5 1763.1,776.8 1763.8,777 1764.5,777.3 1765.1,777.6 1765.8,777.9 1766.5,778.1 1767.1,778.4 1767.8,778.6 1768.5,778.9 1769.1,779.1 1769.8,779.3 1770.5,779.6 1771.2,779.8 1771.8,780 1772.5,780.2 1773.2,780.4 1773.8,780.6 1774.5,780.8 1775.2,781 1775.8,781.1 1776.5,781.3 1777.2,781.5 1777.8,781.7 1778.5,781.8 1779.2,782 1779.9,782.1 1780.5,782.3 1781.2,782.4 1781.9,782.6 1782.5,782.7 1783.2,782.9 1783.9,783 1784.5,783.1 1785.2,783.3 1785.9,783.4 1786.6,783.5 1787.2,783.7 1787.9,783.8 1788.6,783.9 1789.2,784 1789.9,784.1 1790.6,784.2 1791.2,784.3 1791.9,784.4 1792.6,784.5 1793.3,784.6 1793.9,784.7 1794.6,784.8 1795.3,784.9 1795.9,785 1796.6,785.1 1797.3,785.2 1798,785.3 1798.6,785.4 1799.3,785.5 1800,785.5 1800.6,785.6 1801.3,785.7 1802,785.8 1802.6,785.8 1803.3,785.9 1804,786 1804.7,786.1 1805.3,786.1 1806,786.2 1806.7,786.3 1807.3,786.3 1808,786.4 1808.7,786.5 1809.3,786.5 1810,786.6 1810.7,786.7 1811.3,786.7 1812,786.8 1812.7,786.8 1813.4,786.9 1814,786.9 1814.7,787 1815.4,787 1816,787.1 1816.7,787.1 1817.4,787.2 1818,787.3 1818.7,787.3 1819.4,787.3 1820.1,787.4 1820.7,787.4 1821.4,787.5 1822.1,787.5 1822.7,787.6 1823.4,787.6 1824.1,787.7 1824.8,787.7 1825.4,787.7 1826.1,787.8 1826.8,787.8 1827.4,787.9 1828.1,787.9 1828.8,787.9 1829.4,788 1830.1,788 1830.8,788.1 1831.5,788.1 1832.1,788.1 1832.8,788.2 1833.5,788.2 1834.1,788.2 1834.8,788.3 1835.5,788.3 1836.1,788.3 1836.8,788.4 1837.5,788.4 1838.2,788.4 1838.8,788.5 1839.5,788.5 1840.2,788.5 1840.8,788.5 1841.5,788.6 1842.2,788.6 1842.8,788.6 1843.5,788.7 1844.2,788.7 1844.8,788.7 1845.5,788.7 1846.2,788.8 1846.9,788.8 1847.5,788.8 1848.2,788.8 1848.9,788.9 1849.5,788.9 1850.2,788.9 1850.9,788.9 1851.5,789 1852.2,789 1852.9,789 1853.6,789 1854.2,789.1 1854.9,789.1 1855.6,789.1 1856.2,789.1 1856.9,789.1 1857.6,789.2 1858.2,789.2 1858.9,789.2 1859.6,789.2 1860.3,789.2 1860.9,789.3 1861.6,789.3 1862.3,789.3 1862.9,789.3 1863.6,789.3 1864.3,789.4 1865,789.4 1865.6,789.4 1866.3,789.4 1867,789.4 1867.6,789.4 1868.3,789.5 1869,789.5 1869.6,789.5 1870.3,789.5 1871,789.5 1871.7,789.5 1872.3,789.6 1873,789.6 1873.7,789.6 1874.3,789.6 1875,789.6 1875.7,789.6 1876.3,789.7 1877,789.7 1877.7,789.7 1878.3,789.7 1879,789.7 1879.7,789.7 1880.4,789.7 1881,789.8 1881.7,789.8 1882.4,789.8 1883,789.8 1883.7,789.8 1884.4,789.8 1885,789.8 1885.7,789.8 1886.4,789.9 1887.1,789.9 1887.7,789.9 1888.4,789.9 1889.1,789.9 1889.7,789.9 1890.4,789.9 1891.1,789.9 1891.8,790 1892.4,790 1893.1,790 1893.8,790 1894.4,790 1895.1,790 1895.8,790 1896.4,790 1897.1,790 1897.8,790 1898.5,790.1 1899.1,790.1 1899.8,790.1 1900.5,790.1 1901.1,790.1 1901.8,790.1 1902.5,790.1 1903.1,790.1 1903.8,790.1 1904.5,790.1 1905.2,790.2 1905.8,790.2 1906.5,790.2 1907.2,790.2 1907.8,790.2 1908.5,790.2 1909.2,790.2 1909.8,790.2 1910.5,790.2 1911.2,790.2 1911.8,790.2 1912.5,790.3 1913.2,790.3 1913.9,790.3 1914.5,790.3 1915.2,790.3 1915.9,790.3 1916.5,790.3 1917.2,790.3 1917.9,790.3 1918.5,790.3 1919.2,790.3 1919.9,790.3 1920.6,790.3 1921.2,790.4 1921.9,790.4 1922.6,790.4 1923.2,790.4 1923.9,790.4 1924.6,790.4 1925.2,790.4 1925.9,790.4 1926.6,790.4 1927.3,790.4 1927.9,790.4 1928.6,790.4 1929.3,790.4 1929.9,790.4 1930.6,790.5 1931.3,790.5 1932,790.5 1932.6,790.5 1933.3,790.5 1934,790.5 1934.6,790.5 1935.3,790.5 1936,790.5 1936.6,790.5 1937.3,790.5 1938,790.5 1938.7,790.5 1939.3,790.5 1940,790.5 1940.7,790.5 1941.3,790.5 1942,790.6 1942.7,790.6 1943.3,790.6 1944,790.6 1944.7,790.6 1945.3,790.6 1946,790.6 1946.7,790.6 1947.4,790.6 1948,790.6 1948.7,790.6 1949.4,790.6 1950,790.6 1950.7,790.6 1951.4,790.6 1952.1,790.6 1952.7,790.6 1953.4,790.6 1954.1,790.6 1954.7,790.7 1955.4,790.7 1956.1,790.7 1956.7,790.7 1957.4,790.7 1958.1,790.7 1958.8,790.7 1959.4,790.7 1960.1,790.7 1960.8,790.7 1961.4,790.7 1962.1,790.7 1962.8,790.7 1963.4,790.7 1964.1,790.7 1964.8,790.7 1965.4,790.7 1966.1,790.7 1966.8,790.7 1967.5,790.7 1968.1,790.7 1968.8,790.7 1969.5,790.8 1970.1,790.8 1970.8,790.8 1971.5,790.8 1972.2,790.8 1972.8,790.8 1973.5,790.8 1974.2,790.8 1974.8,790.8 1975.5,790.8" fill="none" stroke="#d3190e" stroke-width="3.0" stroke-linecap="round" stroke-linejoin="round"/>
<polyline points="1439.5,792.3 1440.2,792.3 1440.8,792.3 1441.5,792.4 1442.2,792.4 1442.8,792.4 1443.5,792.4 1444.2,792.4 1444.9,792.4 1445.5,792.4 1446.2,792.4 1446.9,792.4 1447.5,792.4 1448.2,792.4 1448.9,792.4 1449.5,792.4 1450.2,792.4 1450.9,792.4 1451.6,792.4 1452.2,792.4 1452.9,792.4 1453.6,792.4 1454.2,792.4 1454.9,792.4 1455.6,792.4 1456.2,792.4 1456.9,792.5 1457.6,792.5 1458.3,792.5 1458.9,792.5 1459.6,792.5 1460.3,792.5 1460.9,792.5 1461.6,792.5 1462.3,792.5 1463,792.5 1463.6,792.5 1464.3,792.5 1465,792.5 1465.6,792.5 1466.3,792.5 1467,792.5 1467.6,792.5 1468.3,792.5 1469,792.5 1469.7,792.6 1470.3,792.6 1471,792.6 1471.7,792.6 1472.3,792.6 1473,792.6 1473.7,792.6 1474.3,792.6 1475,792.6 1475.7,792.6 1476.3,792.6 1477,792.6 1477.7,792.6 1478.4,792.6 1479,792.6 1479.7,792.6 1480.4,792.6 1481,792.7 1481.7,792.7 1482.4,792.7 1483,792.7 1483.7,792.7 1484.4,792.7 1485.1,792.7 1485.7,792.7 1486.4,792.7 1487.1,792.7 1487.7,792.7 1488.4,792.7 1489.1,792.7 1489.8,792.7 1490.4,792.7 1491.1,792.8 1491.8,792.8 1492.4,792.8 1493.1,792.8 1493.8,792.8 1494.4,792.8 1495.1,792.8 1495.8,792.8 1496.5,792.8 1497.1,792.8 1497.8,792.8 1498.5,792.8 1499.1,792.8 1499.8,792.9 1500.5,792.9 1501.1,792.9 1501.8,792.9 1502.5,792.9 1503.2,792.9 1503.8,792.9 1504.5,792.9 1505.2,792.9 1505.8,792.9 1506.5,792.9 1507.2,793 1507.8,793 1508.5,793 1509.2,793 1509.8,793 1510.5,793 1511.2,793 1511.9,793 1512.5,793 1513.2,793 1513.9,793.1 1514.5,793.1 1515.2,793.1 1515.9,793.1 1516.5,793.1 1517.2,793.1 1517.9,793.1 1518.6,793.1 1519.2,793.1 1519.9,793.1 1520.6,793.2 1521.2,793.2 1521.9,793.2 1522.6,793.2 1523.2,793.2 1523.9,793.2 1524.6,793.2 1525.3,793.2 1525.9,793.3 1526.6,793.3 1527.3,793.3 1527.9,793.3 1528.6,793.3 1529.3,793.3 1530,793.3 1530.6,793.3 1531.3,793.4 1532,793.4 1532.6,793.4 1533.3,793.4 1534,793.4 1534.6,793.4 1535.3,793.4 1536,793.5 1536.7,793.5 1537.3,793.5 1538,793.5 1538.7,793.5 1539.3,793.5 1540,793.5 1540.7,793.6 1541.3,793.6 1542,793.6 1542.7,793.6 1543.3,793.6 1544,793.6 1544.7,793.7 1545.4,793.7 1546,793.7 1546.7,793.7 1547.4,793.7 1548,793.7 1548.7,793.8 1549.4,793.8 1550,793.8 1550.7,793.8 1551.4,793.8 1552.1,793.9 1552.7,793.9 1553.4,793.9 1554.1,793.9 1554.7,793.9 1555.4,794 1556.1,794 1556.8,794 1557.4,794 1558.1,794 1558.8,794.1 1559.4,794.1 1560.1,794.1 1560.8,794.1 1561.4,794.2 1562.1,794.2 1562.8,794.2 1563.5,794.2 1564.1,794.2 1564.8,794.3 1565.5,794.3 1566.1,794.3 1566.8,794.3 1567.5,794.4 1568.1,794.4 1568.8,794.4 1569.5,794.5 1570.2,794.5 1570.8,794.5 1571.5,794.5 1572.2,794.6 1572.8,794.6 1573.5,794.6 1574.2,794.7 1574.8,794.7 1575.5,794.7 1576.2,794.7 1576.8,794.8 1577.5,794.8 1578.2,794.8 1578.9,794.9 1579.5,794.9 1580.2,794.9 1580.9,795 1581.5,795 1582.2,795.1 1582.9,795.1 1583.5,795.1 1584.2,795.2 1584.9,795.2 1585.6,795.2 1586.2,795.3 1586.9,795.3 1587.6,795.4 1588.2,795.4 1588.9,795.4 1589.6,795.5 1590.2,795.5 1590.9,795.6 1591.6,795.6 1592.3,795.7 1592.9,795.7 1593.6,795.8 1594.3,795.8 1594.9,795.8 1595.6,795.9 1596.3,795.9 1597,796 1597.6,796 1598.3,796.1 1599,796.2 1599.6,796.2 1600.3,796.3 1601,796.3 1601.6,796.4 1602.3,796.4 1603,796.5 1603.7,796.6 1604.3,796.6 1605,796.7 1605.7,796.7 1606.3,796.8 1607,796.9 1607.7,796.9 1608.3,797 1609,797.1 1609.7,797.2 1610.3,797.2 1611,797.3 1611.7,797.4 1612.4,797.5 1613,797.5 1613.7,797.6 1614.4,797.7 1615,797.8 1615.7,797.9 1616.4,797.9 1617,798 1617.7,798.1 1618.4,798.2 1619.1,798.3 1619.7,798.4 1620.4,798.5 1621.1,798.6 1621.7,798.7 1622.4,798.8 1623.1,798.9 1623.8,799 1624.4,799.1 1625.1,799.2 1625.8,799.4 1626.4,799.5 1627.1,799.6 1627.8,799.7 1628.4,799.8 1629.1,800 1629.8,800.1 1630.5,800.2 1631.1,800.4 1631.8,800.5 1632.5,800.7 1633.1,800.8 1633.8,801 1634.5,801.1 1635.1,801.3 1635.8,801.4 1636.5,801.6 1637.2,801.8 1637.8,802 1638.5,802.1 1639.2,802.3 1639.8,802.5 1640.5,802.7 1641.2,802.9 1641.8,803.1 1642.5,803.3 1643.2,803.5 1643.8,803.7 1644.5,804 1645.2,804.2 1645.9,804.4 1646.5,804.7 1647.2,804.9 1647.9,805.2 1648.5,805.4 1649.2,805.7 1649.9,806 1650.5,806.3 1651.2,806.6 1651.9,806.9 1652.6,807.2 1653.2,807.5 1653.9,807.8 1654.6,808.1 1655.2,808.5 1655.9,808.8 1656.6,809.2 1657.2,809.6 1657.9,810 1658.6,810.4 1659.3,810.8 1659.9,811.2 1660.6,811.6 1661.3,812.1 1661.9,812.6 1662.6,813 1663.3,813.5 1664,814 1664.6,814.6 1665.3,815.1 1666,815.7 1666.6,816.2 1667.3,816.8 1668,817.4 1668.6,818.1 1669.3,818.7 1670,819.4 1670.7,820.1 1671.3,820.8 1672,821.5 1672.7,822.3 1673.3,823.1 1674,823.9 1674.7,824.7 1675.3,825.6 1676,826.5 1676.7,827.4 1677.3,828.3 1678,829.3 1678.7,830.3 1679.4,831.3 1680,832.4 1680.7,833.4 1681.4,834.6 1682,835.7 1682.7,836.9 1683.4,838.1 1684,839.3 1684.7,840.6 1685.4,841.9 1686.1,843.2 1686.7,844.6 1687.4,845.9 1688.1,847.4 1688.7,848.8 1689.4,850.2 1690.1,851.7 1690.8,853.2 1691.4,854.7 1692.1,856.2 1692.8,857.7 1693.4,859.2 1694.1,860.7 1694.8,862.2 1695.4,863.7 1696.1,865.1 1696.8,866.6 1697.5,867.9 1698.1,869.3 1698.8,870.6 1699.5,871.8 1700.1,873 1700.8,874.1 1701.5,875.2 1702.1,876.1 1702.8,877 1703.5,877.7 1704.2,878.3 1704.8,878.9 1705.5,879.3 1706.2,879.6 1706.8,879.8 1707.5,879.9 1708.2,879.8 1708.8,879.6 1709.5,879.3 1710.2,878.9 1710.8,878.3 1711.5,877.7 1712.2,877 1712.9,876.1 1713.5,875.2 1714.2,874.1 1714.9,873 1715.5,871.8 1716.2,870.6 1716.9,869.3 1717.5,867.9 1718.2,866.6 1718.9,865.1 1719.6,863.7 1720.2,862.2 1720.9,860.7 1721.6,859.2 1722.2,857.7 1722.9,856.2 1723.6,854.7 1724.2,853.2 1724.9,851.7 1725.6,850.2 1726.3,848.8 1726.9,847.4 1727.6,845.9 1728.3,844.6 1728.9,843.2 1729.6,841.9 1730.3,840.6 1731,839.3 1731.6,838.1 1732.3,836.9 1733,835.7 1733.6,834.6 1734.3,833.4 1735,832.4 1735.6,831.3 1736.3,830.3 1737,829.3 1737.7,828.3 1738.3,827.4 1739,826.5 1739.7,825.6 1740.3,824.7 1741,823.9 1741.7,823.1 1742.3,822.3 1743,821.5 1743.7,820.8 1744.3,820.1 1745,819.4 1745.7,818.7 1746.4,818.1 1747,817.4 1747.7,816.8 1748.4,816.2 1749,815.7 1749.7,815.1 1750.4,814.6 1751,814 1751.7,813.5 1752.4,813 1753.1,812.6 1753.7,812.1 1754.4,811.6 1755.1,811.2 1755.7,810.8 1756.4,810.4 1757.1,810 1757.8,809.6 1758.4,809.2 1759.1,808.8 1759.8,808.5 1760.4,808.1 1761.1,807.8 1761.8,807.5 1762.4,807.2 1763.1,806.9 1763.8,806.6 1764.5,806.3 1765.1,806 1765.8,805.7 1766.5,805.4 1767.1,805.2 1767.8,804.9 1768.5,804.7 1769.1,804.4 1769.8,804.2 1770.5,804 1771.2,803.7 1771.8,803.5 1772.5,803.3 1773.2,803.1 1773.8,802.9 1774.5,802.7 1775.2,802.5 1775.8,802.3 1776.5,802.1 1777.2,802 1777.8,801.8 1778.5,801.6 1779.2,801.4 1779.9,801.3 1780.5,801.1 1781.2,801 1781.9,800.8 1782.5,800.7 1783.2,800.5 1783.9,800.4 1784.5,800.2 1785.2,800.1 1785.9,800 1786.6,799.8 1787.2,799.7 1787.9,799.6 1788.6,799.5 1789.2,799.4 1789.9,799.2 1790.6,799.1 1791.2,799 1791.9,798.9 1792.6,798.8 1793.3,798.7 1793.9,798.6 1794.6,798.5 1795.3,798.4 1795.9,798.3 1796.6,798.2 1797.3,798.1 1798,798 1798.6,797.9 1799.3,797.9 1800,797.8 1800.6,797.7 1801.3,797.6 1802,797.5 1802.6,797.5 1803.3,797.4 1804,797.3 1804.7,797.2 1805.3,797.2 1806,797.1 1806.7,797 1807.3,796.9 1808,796.9 1808.7,796.8 1809.3,796.7 1810,796.7 1810.7,796.6 1811.3,796.6 1812,796.5 1812.7,796.4 1813.4,796.4 1814,796.3 1814.7,796.3 1815.4,796.2 1816,796.2 1816.7,796.1 1817.4,796 1818,796 1818.7,795.9 1819.4,795.9 1820.1,795.8 1820.7,795.8 1821.4,795.8 1822.1,795.7 1822.7,795.7 1823.4,795.6 1824.1,795.6 1824.8,795.5 1825.4,795.5 1826.1,795.4 1826.8,795.4 1827.4,795.4 1828.1,795.3 1828.8,795.3 1829.4,795.2 1830.1,795.2 1830.8,795.2 1831.5,795.1 1832.1,795.1 1832.8,795.1 1833.5,795 1834.1,795 1834.8,794.9 1835.5,794.9 1836.1,794.9 1836.8,794.8 1837.5,794.8 1838.2,794.8 1838.8,794.7 1839.5,794.7 1840.2,794.7 1840.8,794.7 1841.5,794.6 1842.2,794.6 1842.8,794.6 1843.5,794.5 1844.2,794.5 1844.8,794.5 1845.5,794.5 1846.2,794.4 1846.9,794.4 1847.5,794.4 1848.2,794.3 1848.9,794.3 1849.5,794.3 1850.2,794.3 1850.9,794.2 1851.5,794.2 1852.2,794.2 1852.9,794.2 1853.6,794.2 1854.2,794.1 1854.9,794.1 1855.6,794.1 1856.2,794.1 1856.9,794 1857.6,794 1858.2,794 1858.9,794 1859.6,794 1860.3,793.9 1860.9,793.9 1861.6,793.9 1862.3,793.9 1862.9,793.9 1863.6,793.8 1864.3,793.8 1865,793.8 1865.6,793.8 1866.3,793.8 1867,793.7 1867.6,793.7 1868.3,793.7 1869,793.7 1869.6,793.7 1870.3,793.7 1871,793.6 1871.7,793.6 1872.3,793.6 1873,793.6 1873.7,793.6 1874.3,793.6 1875,793.5 1875.7,793.5 1876.3,793.5 1877,793.5 1877.7,793.5 1878.3,793.5 1879,793.5 1879.7,793.4 1880.4,793.4 1881,793.4 1881.7,793.4 1882.4,793.4 1883,793.4 1883.7,793.4 1884.4,793.3 1885,793.3 1885.7,793.3 1886.4,793.3 1887.1,793.3 1887.7,793.3 1888.4,793.3 1889.1,793.3 1889.7,793.2 1890.4,793.2 1891.1,793.2 1891.8,793.2 1892.4,793.2 1893.1,793.2 1893.8,793.2 1894.4,793.2 1895.1,793.1 1895.8,793.1 1896.4,793.1 1897.1,793.1 1897.8,793.1 1898.5,793.1 1899.1,793.1 1899.8,793.1 1900.5,793.1 1901.1,793.1 1901.8,793 1902.5,793 1903.1,793 1903.8,793 1904.5,793 1905.2,793 1905.8,793 1906.5,793 1907.2,793 1907.8,793 1908.5,792.9 1909.2,792.9 1909.8,792.9 1910.5,792.9 1911.2,792.9 1911.8,792.9 1912.5,792.9 1913.2,792.9 1913.9,792.9 1914.5,792.9 1915.2,792.9 1915.9,792.8 1916.5,792.8 1917.2,792.8 1917.9,792.8 1918.5,792.8 1919.2,792.8 1919.9,792.8 1920.6,792.8 1921.2,792.8 1921.9,792.8 1922.6,792.8 1923.2,792.8 1923.9,792.8 1924.6,792.7 1925.2,792.7 1925.9,792.7 1926.6,792.7 1927.3,792.7 1927.9,792.7 1928.6,792.7 1929.3,792.7 1929.9,792.7 1930.6,792.7 1931.3,792.7 1932,792.7 1932.6,792.7 1933.3,792.7 1934,792.7 1934.6,792.6 1935.3,792.6 1936,792.6 1936.6,792.6 1937.3,792.6 1938,792.6 1938.7,792.6 1939.3,792.6 1940,792.6 1940.7,792.6 1941.3,792.6 1942,792.6 1942.7,792.6 1943.3,792.6 1944,792.6 1944.7,792.6 1945.3,792.6 1946,792.5 1946.7,792.5 1947.4,792.5 1948,792.5 1948.7,792.5 1949.4,792.5 1950,792.5 1950.7,792.5 1951.4,792.5 1952.1,792.5 1952.7,792.5 1953.4,792.5 1954.1,792.5 1954.7,792.5 1955.4,792.5 1956.1,792.5 1956.7,792.5 1957.4,792.5 1958.1,792.5 1958.8,792.4 1959.4,792.4 1960.1,792.4 1960.8,792.4 1961.4,792.4 1962.1,792.4 1962.8,792.4 1963.4,792.4 1964.1,792.4 1964.8,792.4 1965.4,792.4 1966.1,792.4 1966.8,792.4 1967.5,792.4 1968.1,792.4 1968.8,792.4 1969.5,792.4 1970.1,792.4 1970.8,792.4 1971.5,792.4 1972.2,792.4 1972.8,792.4 1973.5,792.4 1974.2,792.3 1974.8,792.3 1975.5,792.3" fill="none" stroke="#d3190e" stroke-width="3.0" stroke-linecap="round" stroke-linejoin="round"/>
<path d="M1789.5 647H1839.5" stroke="#264c9e" stroke-width="2.8" stroke-linecap="round" fill="none"/>
<text transform="translate(1845.6 654.9)" font-size="24.9">54.8 nm</text>
<path d="M1789.5 677.8H1839.5" stroke="#60a5d3" stroke-width="2.8" stroke-linecap="round" fill="none"/>
<text transform="translate(1845.6 685.6)" font-size="24.9">62.1 nm</text>
<path d="M1789.5 708.6H1839.5" stroke="#f55f42" stroke-width="2.8" stroke-linecap="round" fill="none"/>
<text transform="translate(1845.6 716.5)" font-size="24.9">78.7 nm</text>
<path d="M1789.5 739.4H1839.5" stroke="#d3190e" stroke-width="2.8" stroke-linecap="round" fill="none"/>
<text transform="translate(1845.6 747.2)" font-size="24.9">111 nm</text>
<rect x="1811.5" y="844" width="139.5" height="48.3" fill="#aeaaa9"/>
<rect x="1811.5" y="892" width="139.5" height="48.8" fill="#3e7cc6"/>
<rect x="1811.5" y="940.5" width="139.5" height="48" fill="#c81e10"/>
<text transform="translate(1881.2 881.6) scale(0.99 1.045)" font-size="38" font-weight="normal" fill="#fff" text-anchor="middle">Pd</text>
<text transform="translate(1881.2 930.1) scale(0.99 1.045)" font-size="38" font-weight="normal" fill="#fff" text-anchor="middle">PVEO</text>
<text transform="translate(1881.2 978.1) scale(0.99 1.045)" font-size="38" font-weight="normal" fill="#fff" text-anchor="middle">NiFe</text>
<rect x="1439.5" y="575.7" width="536" height="431.7" fill="none" stroke="#000" stroke-width="2.7"/>
<path d="M1573.5 1007.4v-7.9M1573.5 575.7v7.9M1707.5 1007.4v-7.9M1707.5 575.7v7.9M1841.5 1007.4v-7.9M1841.5 575.7v7.9M1439.5 987.8h7.9M1975.5 987.8h-7.9M1439.5 889.7h7.9M1975.5 889.7h-7.9M1439.5 791.5h7.9M1975.5 791.5h-7.9M1439.5 693.4h7.9M1975.5 693.4h-7.9M1439.5 595.3h7.9M1975.5 595.3h-7.9" stroke="#000" stroke-width="3.0" fill="none"/>
<text transform="translate(1439.1 1039) scale(0.99 1.05)" font-size="28" text-anchor="middle">−100</text>
<text transform="translate(1573.1 1039) scale(0.99 1.05)" font-size="28" text-anchor="middle">−50</text>
<text transform="translate(1707.1 1039) scale(0.99 1.05)" font-size="28" text-anchor="middle">0</text>
<text transform="translate(1841.1 1039) scale(0.99 1.05)" font-size="28" text-anchor="middle">50</text>
<text transform="translate(1975.1 1039) scale(0.99 1.05)" font-size="28" text-anchor="middle">100</text>
<text transform="translate(1430.1 996.3) scale(0.99 1.05)" font-size="28" text-anchor="end">−1.0</text>
<text transform="translate(1430.1 898.2) scale(0.99 1.05)" font-size="28" text-anchor="end">−0.5</text>
<text transform="translate(1430.1 800) scale(0.99 1.05)" font-size="28" text-anchor="end">0.0</text>
<text transform="translate(1430.1 701.9) scale(0.99 1.05)" font-size="28" text-anchor="end">0.5</text>
<text transform="translate(1430.1 603.8) scale(0.99 1.05)" font-size="28" text-anchor="end">1.0</text>
<text transform="translate(1608.8 1080.4) scale(1 1.015)" font-size="37.09"><tspan font-style="italic">H</tspan><tspan font-weight="normal" dx="4.41">−</tspan><tspan font-style="italic" dx="-1.40">H</tspan><tspan font-style="italic" font-size="24.56" dy="10.03">res</tspan><tspan dy="-10.03" dx="-1.20"> (Oe)</tspan></text>
<text transform="translate(1354.3 904.8) rotate(-90) scale(1 1.015)"><tspan font-size="36.58" font-style="italic">V</tspan><tspan font-style="italic" font-size="25.03" dy="9.62" dx="-0.96">S</tspan><tspan font-size="36.58" dy="-9.62"> / </tspan><tspan font-size="36.58" font-style="italic">V</tspan><tspan font-style="italic" font-size="25.03" dy="9.62" dx="-0.96">S</tspan><tspan font-size="25.03"> (54.8 nm)</tspan></text>
<text transform="translate(1365 549.7) scale(0.97 1.0)" font-size="42">f</text>
<polyline points="150,1179.9 152.1,1183.5 154.3,1187 156.4,1190.5 158.6,1194.1 160.7,1197.5 162.9,1201 165,1204.4 167.2,1207.8 169.3,1211.2 171.4,1214.6 173.6,1217.9 175.7,1221.3 177.9,1224.6 180,1227.8 182.2,1231.1 184.3,1234.3 186.5,1237.5 188.6,1240.7 190.7,1243.9 192.9,1247 195,1250.2 197.2,1253.3 199.3,1256.3 201.5,1259.4 203.6,1262.4 205.8,1265.4 207.9,1268.4 210,1271.4 212.2,1274.4 214.3,1277.3 216.5,1280.2 218.6,1283.1 220.8,1286 222.9,1288.8 225.1,1291.7 227.2,1294.5 229.3,1297.3 231.5,1300.1 233.6,1302.8 235.8,1305.5 237.9,1308.3 240.1,1311 242.2,1313.7 244.4,1316.3 246.5,1319 248.6,1321.6 250.8,1324.2 252.9,1326.8 255.1,1329.4 257.2,1331.9 259.4,1334.5 261.5,1337 263.7,1339.5 265.8,1342 268,1344.4 270.1,1346.9 272.2,1349.3 274.4,1351.8 276.5,1354.2 278.7,1356.5 280.8,1358.9 283,1361.3 285.1,1363.6 287.3,1365.9 289.4,1368.2 291.5,1370.5 293.7,1372.8 295.8,1375.1 298,1377.3 300.1,1379.5 302.3,1381.7 304.4,1383.9 306.6,1386.1 308.7,1388.3 310.8,1390.4 313,1392.6 315.1,1394.7 317.3,1396.8 319.4,1398.9 321.6,1401 323.7,1403 325.9,1405.1 328,1407.1 330.1,1409.2 332.3,1411.2 334.4,1413.2 336.6,1415.1 338.7,1417.1 340.9,1419.1 343,1421 345.2,1422.9 347.3,1424.8 349.4,1426.7 351.6,1428.6 353.7,1430.5 355.9,1432.4 358,1434.2 360.2,1436.1 362.3,1437.9 364.5,1439.7 366.6,1441.5 368.7,1443.3 370.9,1445.1 373,1446.8 375.2,1448.6 377.3,1450.3 379.5,1452 381.6,1453.8 383.8,1455.5 385.9,1457.1 388,1458.8 390.2,1460.5 392.3,1462.2 394.5,1463.8 396.6,1465.4 398.8,1467.1 400.9,1468.7 403.1,1470.3 405.2,1471.9 407.3,1473.4 409.5,1475 411.6,1476.6 413.8,1478.1 415.9,1479.6 418.1,1481.2 420.2,1482.7 422.4,1484.2 424.5,1485.7 426.6,1487.2 428.8,1488.6 430.9,1490.1 433.1,1491.6 435.2,1493 437.4,1494.4 439.5,1495.9 441.7,1497.3 443.8,1498.7 445.9,1500.1 448.1,1501.5 450.2,1502.8 452.4,1504.2 454.5,1505.6 456.7,1506.9 458.8,1508.2 461,1509.6 463.1,1510.9 465.2,1512.2 467.4,1513.5 469.5,1514.8 471.7,1516.1 473.8,1517.4 476,1518.6 478.1,1519.9 480.3,1521.1 482.4,1522.4 484.6,1523.6 486.7,1524.8 488.8,1526.1 491,1527.3 493.1,1528.5 495.3,1529.6 497.4,1530.8 499.6,1532 501.7,1533.2 503.9,1534.3 506,1535.5 508.1,1536.6 510.3,1537.8 512.4,1538.9 514.6,1540 516.7,1541.1 518.9,1542.2 521,1543.3 523.2,1544.4 525.3,1545.5 527.4,1546.6 529.6,1547.6 531.7,1548.7 533.9,1549.7 536,1550.8 538.2,1551.8 540.3,1552.9 542.5,1553.9 544.6,1554.9 546.7,1555.9 548.9,1556.9 551,1557.9 553.2,1558.9 555.3,1559.9 557.5,1560.8 559.6,1561.8 561.8,1562.8 563.9,1563.7 566,1564.7 568.2,1565.6 570.3,1566.6 572.5,1567.5 574.6,1568.4 576.8,1569.3" fill="none" stroke="#f01d1d" stroke-width="3.0" stroke-linecap="butt" stroke-linejoin="round" stroke-dasharray="7 5"/>
<path d="M141.2 1198.3H159.4M141.2 1193.8v9M159.4 1193.8v9M150.3 1196V1200.7M145.8 1196h9M145.8 1200.7h9" stroke="#000" stroke-width="2.0" fill="none"/>
<rect x="145.8" y="1193.8" width="9.0" height="9.0" fill="#000"/>
<path d="M162.6 1220.8H180.9M162.6 1216.3v9M180.9 1216.3v9M171.7 1213.2V1228.4M167.2 1213.2h9M167.2 1228.4h9" stroke="#000" stroke-width="2.0" fill="none"/>
<rect x="167.2" y="1216.3" width="9.0" height="9.0" fill="#000"/>
<path d="M211.7 1246.5H229.9M211.7 1242v9M229.9 1242v9M220.8 1234.9V1258.2M216.3 1234.9h9M216.3 1258.2h9" stroke="#000" stroke-width="2.0" fill="none"/>
<rect x="216.3" y="1242" width="9.0" height="9.0" fill="#000"/>
<path d="M294.7 1403.5H336.3M294.7 1399v9M336.3 1399v9M315.5 1391.8V1415.1M311 1391.8h9M311 1415.1h9" stroke="#000" stroke-width="2.0" fill="none"/>
<rect x="311" y="1399" width="9.0" height="9.0" fill="#000"/>
<path d="M415.1 1521.7H444.5M415.1 1517.2v9M444.5 1517.2v9M429.8 1518.6V1524.8M425.3 1518.6h9M425.3 1524.8h9" stroke="#000" stroke-width="2.0" fill="none"/>
<rect x="425.3" y="1517.2" width="9.0" height="9.0" fill="#000"/>
<path d="M565 1553.8H588.5M565 1549.3v9M588.5 1549.3v9M576.8 1542.1V1565.4M572.3 1542.1h9M572.3 1565.4h9" stroke="#000" stroke-width="2.0" fill="none"/>
<rect x="572.3" y="1549.3" width="9.0" height="9.0" fill="#000"/>
<rect x="106.5" y="1159.6" width="529" height="426.2" fill="none" stroke="#000" stroke-width="2.7"/>
<path d="M224.1 1585.8v-7.9M224.1 1159.6v7.9M341.6 1585.8v-7.9M341.6 1159.6v7.9M459.2 1585.8v-7.9M459.2 1159.6v7.9M576.8 1585.8v-7.9M576.8 1159.6v7.9M106.5 1508.3h7.9M635.5 1508.3h-7.9M106.5 1430.8h7.9M635.5 1430.8h-7.9M106.5 1353.3h7.9M635.5 1353.3h-7.9M106.5 1275.8h7.9M635.5 1275.8h-7.9M106.5 1198.3h7.9M635.5 1198.3h-7.9" stroke="#000" stroke-width="3.0" fill="none"/>
<text transform="translate(106.1 1616.9) scale(0.99 1.05)" font-size="28" text-anchor="middle">40</text>
<text transform="translate(223.7 1616.9) scale(0.99 1.05)" font-size="28" text-anchor="middle">80</text>
<text transform="translate(341.2 1616.9) scale(0.99 1.05)" font-size="28" text-anchor="middle">120</text>
<text transform="translate(458.8 1616.9) scale(0.99 1.05)" font-size="28" text-anchor="middle">160</text>
<text transform="translate(576.4 1616.9) scale(0.99 1.05)" font-size="28" text-anchor="middle">200</text>
<text transform="translate(97.1 1594.3) scale(0.99 1.05)" font-size="28" text-anchor="end">0.0</text>
<text transform="translate(97.1 1516.8) scale(0.99 1.05)" font-size="28" text-anchor="end">0.2</text>
<text transform="translate(97.1 1439.3) scale(0.99 1.05)" font-size="28" text-anchor="end">0.4</text>
<text transform="translate(97.1 1361.8) scale(0.99 1.05)" font-size="28" text-anchor="end">0.6</text>
<text transform="translate(97.1 1284.3) scale(0.99 1.05)" font-size="28" text-anchor="end">0.8</text>
<text transform="translate(97.1 1206.8) scale(0.99 1.05)" font-size="28" text-anchor="end">1.0</text>
<text transform="translate(288 1658) scale(1 1.015)" font-size="37"><tspan font-style="italic">t</tspan><tspan font-size="26" dy="9.5">PVEO</tspan><tspan dy="-9.5"> (nm)</tspan></text>
<text transform="translate(39.5 1522.4) rotate(-90) scale(1 1.015)"><tspan font-size="36.19" font-style="italic">V</tspan><tspan font-style="italic" font-size="24.76" dy="9.52" dx="-0.95">ISHE</tspan><tspan font-size="36.19" font-style="italic" dy="-9.52"> / </tspan><tspan font-size="36.19" font-style="italic">V</tspan><tspan font-style="italic" font-size="24.76" dy="9.52" dx="-0.95">ISHE</tspan><tspan font-size="24.76">(54.8 nm)</tspan></text>
<text transform="translate(0.3 1136.3) scale(0.97 1.0)" font-size="42">g</text>
<path d="M773.7 1379.4H1310.2" stroke="#000" stroke-width="3"/>
<polyline points="773.7,1386.1 774.1,1386.1 774.5,1386.1 774.9,1386.1 775.3,1386 775.7,1386 776.1,1386 776.5,1386 776.9,1386 777.3,1386 777.7,1386 778.1,1385.9 778.5,1385.9 778.9,1385.9 779.3,1385.9 779.8,1385.8 780.2,1385.8 780.6,1385.8 781,1385.7 781.4,1385.7 781.8,1385.7 782.2,1385.6 782.6,1385.6 783,1385.6 783.4,1385.5 783.8,1385.5 784.2,1385.4 784.6,1385.4 785,1385.3 785.4,1385.2 785.8,1385.2 786.2,1385.1 786.6,1385 787,1384.9 787.4,1384.9 787.8,1384.8 788.2,1384.7 788.6,1384.6 789,1384.5 789.4,1384.4 789.8,1384.3 790.2,1384.2 790.6,1384 791,1383.9 791.4,1383.8 791.9,1383.6 792.3,1383.5 792.7,1383.3 793.1,1383.1 793.5,1382.9 793.9,1382.7 794.3,1382.5 794.7,1382.3 795.1,1382.1 795.5,1381.9 795.9,1381.6 796.3,1381.4 796.7,1381.1 797.1,1380.8 797.5,1380.5 797.9,1380.1 798.3,1379.8 798.7,1379.4 799.1,1379.1 799.5,1378.6 799.9,1378.2 800.3,1377.8 800.7,1377.3 801.1,1376.8 801.5,1376.2 801.9,1375.7 802.3,1375.1 802.7,1374.4 803.1,1373.8 803.5,1373 804,1372.3 804.4,1371.5 804.8,1370.6 805.2,1369.7 805.6,1368.8 806,1367.8 806.4,1366.7 806.8,1365.6 807.2,1364.4 807.6,1363.1 808,1361.8 808.4,1360.4 808.8,1358.9 809.2,1357.3 809.6,1355.6 810,1353.8 810.4,1351.9 810.8,1349.9 811.2,1347.7 811.6,1345.5 812,1343.1 812.4,1340.6 812.8,1338 813.2,1335.2 813.6,1332.3 814,1329.2 814.4,1326 814.8,1322.7 815.2,1319.2 815.6,1315.5 816.1,1311.8 816.5,1307.9 816.9,1303.9 817.3,1299.8 817.7,1295.6 818.1,1291.4 818.5,1287.1 818.9,1282.9 819.3,1278.6 819.7,1274.5 820.1,1270.4 820.5,1266.4 820.9,1262.7 821.3,1259.1 821.7,1255.8 822.1,1252.7 822.5,1250 822.9,1247.6 823.3,1245.6 823.7,1244 824.1,1242.7 824.5,1241.8 824.9,1241.3 825.3,1241.2 825.7,1241.5 826.1,1242 826.5,1242.9 826.9,1244.1 827.3,1245.6 827.7,1247.3 828.2,1249.2 828.6,1251.2 829,1253.5 829.4,1255.8 829.8,1258.2 830.2,1260.7 830.6,1263.3 831,1265.9 831.4,1268.5 831.8,1271.1 832.2,1273.8 832.6,1276.3 833,1278.9 833.4,1281.4 833.8,1283.9 834.2,1286.3 834.6,1288.7 835,1291 835.4,1293.2 835.8,1295.4 836.2,1297.6 836.6,1299.6 837,1301.6 837.4,1303.6 837.8,1305.5 838.2,1307.3 838.6,1309.1 839,1310.8 839.4,1312.4 839.8,1314 840.3,1315.5 840.7,1317 841.1,1318.5 841.5,1319.9 841.9,1321.2 842.3,1322.5 842.7,1323.8 843.1,1325 843.5,1326.2 843.9,1327.3 844.3,1328.4 844.7,1329.5 845.1,1330.5 845.5,1331.5 845.9,1332.4 846.3,1333.4 846.7,1334.3 847.1,1335.1 847.5,1336 847.9,1336.8 848.3,1337.6 848.7,1338.4 849.1,1339.1 849.5,1339.8 849.9,1340.5 850.3,1341.2 850.7,1341.9 851.1,1342.5 851.5,1343.2 851.9,1343.8 852.4,1344.3 852.8,1344.9 853.2,1345.5 853.6,1346 854,1346.5 854.4,1347.1 854.8,1347.6 855.2,1348 855.6,1348.5 856,1349 856.4,1349.4 856.8,1349.9 857.2,1350.3 857.6,1350.7 858,1351.1 858.4,1351.5 858.8,1351.9 859.2,1352.3 859.6,1352.6 860,1353 860.4,1353.3 860.8,1353.7 861.2,1354 861.6,1354.3 862,1354.6 862.4,1354.9 862.8,1355.3 863.2,1355.5 863.6,1355.8 864,1356.1 864.5,1356.4 864.9,1356.7 865.3,1356.9 865.7,1357.2 866.1,1357.4 866.5,1357.7 866.9,1357.9 867.3,1358.2 867.7,1358.4 868.1,1358.6 868.5,1358.9 868.9,1359.1 869.3,1359.3 869.7,1359.5 870.1,1359.7 870.5,1359.9 870.9,1360.1 871.3,1360.3 871.7,1360.5 872.1,1360.7 872.5,1360.9 872.9,1361.1 873.3,1361.2 873.7,1361.4 874.1,1361.6 874.5,1361.7 874.9,1361.9 875.3,1362.1 875.7,1362.2 876.1,1362.4 876.6,1362.5 877,1362.7 877.4,1362.8 877.8,1363 878.2,1363.1 878.6,1363.3 879,1363.4 879.4,1363.5 879.8,1363.7 880.2,1363.8 880.6,1363.9 881,1364.1 881.4,1364.2 881.8,1364.3 882.2,1364.4 882.6,1364.6 883,1364.7 883.4,1364.8 883.8,1364.9 884.2,1365 884.6,1365.1 885,1365.2 885.4,1365.3 885.8,1365.5 886.2,1365.6 886.6,1365.7 887,1365.8 887.4,1365.9 887.8,1366 888.3,1366.1 888.7,1366.2 889.1,1366.2 889.5,1366.3 889.9,1366.4 890.3,1366.5 890.7,1366.6 891.1,1366.7 891.5,1366.8 891.9,1366.9 892.3,1366.9 892.7,1367 893.1,1367.1 893.5,1367.2 893.9,1367.3 894.3,1367.4 894.7,1367.4 895.1,1367.5 895.5,1367.6 895.9,1367.7 896.3,1367.7 896.7,1367.8 897.1,1367.9 897.5,1367.9 897.9,1368 898.3,1368.1 898.7,1368.1 899.1,1368.2 899.5,1368.3 899.9,1368.3 900.4,1368.4 900.8,1368.5 901.2,1368.5 901.6,1368.6 902,1368.7 902.4,1368.7 902.8,1368.8 903.2,1368.8 903.6,1368.9 904,1369 904.4,1369 904.8,1369.1 905.2,1369.1 905.6,1369.2 906,1369.2 906.4,1369.3 906.8,1369.3 907.2,1369.4 907.6,1369.4 908,1369.5 908.4,1369.6 908.8,1369.6 909.2,1369.7 909.6,1369.7 910,1369.7 910.4,1369.8 910.8,1369.8 911.2,1369.9 911.6,1369.9 912,1370 912.5,1370 912.9,1370.1 913.3,1370.1 913.7,1370.2 914.1,1370.2 914.5,1370.3 914.9,1370.3 915.3,1370.3 915.7,1370.4 916.1,1370.4 916.5,1370.5 916.9,1370.5 917.3,1370.5 917.7,1370.6 918.1,1370.6 918.5,1370.7 918.9,1370.7 919.3,1370.7 919.7,1370.8 920.1,1370.8 920.5,1370.8 920.9,1370.9 921.3,1370.9 921.7,1371 922.1,1371 922.5,1371 922.9,1371.1 923.3,1371.1 923.7,1371.1 924.1,1371.2 924.6,1371.2 925,1371.2 925.4,1371.3 925.8,1371.3 926.2,1371.3 926.6,1371.4 927,1371.4 927.4,1371.4 927.8,1371.5 928.2,1371.5 928.6,1371.5 929,1371.5 929.4,1371.6 929.8,1371.6 930.2,1371.6 930.6,1371.7 931,1371.7 931.4,1371.7 931.8,1371.7 932.2,1371.8 932.6,1371.8 933,1371.8 933.4,1371.9 933.8,1371.9 934.2,1371.9 934.6,1371.9" fill="none" stroke="#f55f42" stroke-width="3.0" stroke-linecap="round" stroke-linejoin="round"/>
<polyline points="881,1383.4 881.3,1383.4 881.6,1383.4 882,1383.4 882.3,1383.5 882.6,1383.5 882.9,1383.5 883.2,1383.5 883.6,1383.5 883.9,1383.5 884.2,1383.6 884.5,1383.6 884.9,1383.6 885.2,1383.6 885.5,1383.6 885.8,1383.6 886.2,1383.7 886.5,1383.7 886.8,1383.7 887.1,1383.7 887.4,1383.7 887.8,1383.7 888.1,1383.7 888.4,1383.8 888.7,1383.8 889.1,1383.8 889.4,1383.8 889.7,1383.8 890,1383.8 890.3,1383.9 890.7,1383.9 891,1383.9 891.3,1383.9 891.6,1383.9 892,1383.9 892.3,1383.9 892.6,1384 892.9,1384 893.3,1384 893.6,1384 893.9,1384 894.2,1384 894.5,1384 894.9,1384.1 895.2,1384.1 895.5,1384.1 895.8,1384.1 896.2,1384.1 896.5,1384.1 896.8,1384.1 897.1,1384.1 897.4,1384.1 897.8,1384.2 898.1,1384.2 898.4,1384.2 898.7,1384.2 899.1,1384.2 899.4,1384.2 899.7,1384.2 900,1384.2 900.4,1384.2 900.7,1384.2 901,1384.2 901.3,1384.2 901.6,1384.3 902,1384.3 902.3,1384.3 902.6,1384.3 902.9,1384.3 903.3,1384.3 903.6,1384.3 903.9,1384.3 904.2,1384.3 904.5,1384.3 904.9,1384.3 905.2,1384.3 905.5,1384.3 905.8,1384.3 906.2,1384.2 906.5,1384.2 906.8,1384.2 907.1,1384.2 907.4,1384.2 907.8,1384.2 908.1,1384.2 908.4,1384.2 908.7,1384.1 909.1,1384.1 909.4,1384.1 909.7,1384.1 910,1384 910.4,1384 910.7,1384 911,1384 911.3,1383.9 911.6,1383.9 912,1383.8 912.3,1383.8 912.6,1383.7 912.9,1383.7 913.3,1383.6 913.6,1383.6 913.9,1383.5 914.2,1383.5 914.5,1383.4 914.9,1383.3 915.2,1383.2 915.5,1383.1 915.8,1383.1 916.2,1383 916.5,1382.9 916.8,1382.7 917.1,1382.6 917.5,1382.5 917.8,1382.4 918.1,1382.2 918.4,1382.1 918.7,1381.9 919.1,1381.8 919.4,1381.6 919.7,1381.4 920,1381.2 920.4,1381 920.7,1380.8 921,1380.6 921.3,1380.3 921.6,1380.1 922,1379.8 922.3,1379.5 922.6,1379.2 922.9,1378.8 923.3,1378.5 923.6,1378.1 923.9,1377.7 924.2,1377.3 924.6,1376.8 924.9,1376.4 925.2,1375.8 925.5,1375.3 925.8,1374.7 926.2,1374.1 926.5,1373.4 926.8,1372.7 927.1,1372 927.5,1371.2 927.8,1370.4 928.1,1369.5 928.4,1368.5 928.7,1367.5 929.1,1366.4 929.4,1365.2 929.7,1363.9 930,1362.6 930.4,1361.1 930.7,1359.6 931,1358 931.3,1356.2 931.7,1354.3 932,1352.3 932.3,1350.1 932.6,1347.8 932.9,1345.4 933.3,1342.7 933.6,1339.9 933.9,1336.9 934.2,1333.7 934.6,1330.3 934.9,1326.7 935.2,1322.8 935.5,1318.7 935.8,1314.4 936.2,1309.9 936.5,1305.1 936.8,1300.1 937.1,1295 937.5,1289.6 937.8,1284 938.1,1278.4 938.4,1272.6 938.7,1266.8 939.1,1261 939.4,1255.3 939.7,1249.8 940,1244.5 940.4,1239.5 940.7,1234.9 941,1230.7 941.3,1227 941.7,1223.9 942,1221.4 942.3,1219.6 942.6,1218.4 942.9,1217.8 943.3,1217.9 943.6,1218.6 943.9,1219.8 944.2,1221.5 944.6,1223.7 944.9,1226.3 945.2,1229.2 945.5,1232.3 945.8,1235.7 946.2,1239.3 946.5,1242.9 946.8,1246.7 947.1,1250.4 947.5,1254.2 947.8,1258 948.1,1261.7 948.4,1265.3 948.8,1268.9 949.1,1272.4 949.4,1275.8 949.7,1279 950,1282.2 950.4,1285.3 950.7,1288.2 951,1291.1 951.3,1293.8 951.7,1296.4 952,1299 952.3,1301.4 952.6,1303.7 952.9,1305.9 953.3,1308.1 953.6,1310.1 953.9,1312.1 954.2,1314 954.6,1315.8 954.9,1317.5 955.2,1319.2 955.5,1320.7 955.9,1322.3 956.2,1323.7 956.5,1325.1 956.8,1326.5 957.1,1327.8 957.5,1329 957.8,1330.3 958.1,1331.4 958.4,1332.5 958.8,1333.6 959.1,1334.6 959.4,1335.6 959.7,1336.6 960,1337.5 960.4,1338.4 960.7,1339.2 961,1340.1 961.3,1340.9 961.7,1341.6 962,1342.4 962.3,1343.1 962.6,1343.8 962.9,1344.5 963.3,1345.1 963.6,1345.8 963.9,1346.4 964.2,1347 964.6,1347.6 964.9,1348.1 965.2,1348.7 965.5,1349.2 965.9,1349.7 966.2,1350.2 966.5,1350.7 966.8,1351.1 967.1,1351.6 967.5,1352 967.8,1352.4 968.1,1352.9 968.4,1353.3 968.8,1353.7 969.1,1354.1 969.4,1354.4 969.7,1354.8 970,1355.1 970.4,1355.5 970.7,1355.8 971,1356.2 971.3,1356.5 971.7,1356.8 972,1357.1 972.3,1357.4 972.6,1357.7 973,1358 973.3,1358.2 973.6,1358.5 973.9,1358.8 974.2,1359 974.6,1359.3 974.9,1359.5 975.2,1359.8 975.5,1360 975.9,1360.2 976.2,1360.5 976.5,1360.7 976.8,1360.9 977.1,1361.1 977.5,1361.3 977.8,1361.5 978.1,1361.7 978.4,1361.9 978.8,1362.1 979.1,1362.3 979.4,1362.5 979.7,1362.7 980.1,1362.8 980.4,1363 980.7,1363.2 981,1363.4 981.3,1363.5 981.7,1363.7 982,1363.8 982.3,1364 982.6,1364.1 983,1364.3 983.3,1364.4 983.6,1364.6 983.9,1364.7 984.2,1364.9 984.6,1365 984.9,1365.1 985.2,1365.3 985.5,1365.4 985.9,1365.5 986.2,1365.7 986.5,1365.8 986.8,1365.9 987.2,1366 987.5,1366.1 987.8,1366.3 988.1,1366.4 988.4,1366.5 988.8,1366.6 989.1,1366.7 989.4,1366.8 989.7,1366.9 990.1,1367 990.4,1367.1 990.7,1367.2 991,1367.3 991.3,1367.4 991.7,1367.5 992,1367.6 992.3,1367.7 992.6,1367.8 993,1367.9 993.3,1368 993.6,1368.1 993.9,1368.2 994.2,1368.2 994.6,1368.3 994.9,1368.4 995.2,1368.5 995.5,1368.6 995.9,1368.6 996.2,1368.7 996.5,1368.8 996.8,1368.9 997.2,1369 997.5,1369 997.8,1369.1 998.1,1369.2 998.4,1369.3 998.8,1369.3 999.1,1369.4 999.4,1369.5 999.7,1369.5 1000.1,1369.6 1000.4,1369.7 1000.7,1369.7 1001,1369.8 1001.3,1369.9 1001.7,1369.9 1002,1370 1002.3,1370.1 1002.6,1370.1 1003,1370.2 1003.3,1370.2 1003.6,1370.3 1003.9,1370.4 1004.3,1370.4 1004.6,1370.5 1004.9,1370.5 1005.2,1370.6 1005.5,1370.6 1005.9,1370.7 1006.2,1370.7 1006.5,1370.8 1006.8,1370.8 1007.2,1370.9 1007.5,1371 1007.8,1371 1008.1,1371.1 1008.4,1371.1 1008.8,1371.2 1009.1,1371.2 1009.4,1371.3 1009.7,1371.3" fill="none" stroke="#60a5d3" stroke-width="3.0" stroke-linecap="round" stroke-linejoin="round"/>
<polyline points="977.6,1383.5 977.7,1383.5 977.9,1383.5 978,1383.5 978.2,1383.5 978.4,1383.5 978.5,1383.5 978.7,1383.5 978.8,1383.4 979,1383.4 979.2,1383.4 979.3,1383.4 979.5,1383.4 979.6,1383.4 979.8,1383.4 980,1383.4 980.1,1383.4 980.3,1383.4 980.5,1383.4 980.6,1383.4 980.8,1383.4 980.9,1383.4 981.1,1383.3 981.3,1383.3 981.4,1383.3 981.6,1383.3 981.7,1383.3 981.9,1383.3 982.1,1383.3 982.2,1383.3 982.4,1383.3 982.6,1383.3 982.7,1383.3 982.9,1383.2 983,1383.2 983.2,1383.2 983.4,1383.2 983.5,1383.2 983.7,1383.2 983.8,1383.2 984,1383.2 984.2,1383.1 984.3,1383.1 984.5,1383.1 984.6,1383.1 984.8,1383.1 985,1383.1 985.1,1383.1 985.3,1383.1 985.5,1383 985.6,1383 985.8,1383 985.9,1383 986.1,1383 986.3,1383 986.4,1382.9 986.6,1382.9 986.7,1382.9 986.9,1382.9 987.1,1382.9 987.2,1382.9 987.4,1382.8 987.6,1382.8 987.7,1382.8 987.9,1382.8 988,1382.7 988.2,1382.7 988.4,1382.7 988.5,1382.7 988.7,1382.7 988.8,1382.6 989,1382.6 989.2,1382.6 989.3,1382.6 989.5,1382.5 989.7,1382.5 989.8,1382.5 990,1382.4 990.1,1382.4 990.3,1382.4 990.5,1382.3 990.6,1382.3 990.8,1382.3 990.9,1382.2 991.1,1382.2 991.3,1382.2 991.4,1382.1 991.6,1382.1 991.7,1382.1 991.9,1382 992.1,1382 992.2,1381.9 992.4,1381.9 992.6,1381.8 992.7,1381.8 992.9,1381.8 993,1381.7 993.2,1381.7 993.4,1381.6 993.5,1381.5 993.7,1381.5 993.8,1381.4 994,1381.4 994.2,1381.3 994.3,1381.3 994.5,1381.2 994.7,1381.1 994.8,1381.1 995,1381 995.1,1380.9 995.3,1380.8 995.5,1380.8 995.6,1380.7 995.8,1380.6 995.9,1380.5 996.1,1380.4 996.3,1380.3 996.4,1380.2 996.6,1380.1 996.8,1380 996.9,1379.9 997.1,1379.8 997.2,1379.7 997.4,1379.6 997.6,1379.5 997.7,1379.4 997.9,1379.3 998,1379.1 998.2,1379 998.4,1378.9 998.5,1378.7 998.7,1378.6 998.8,1378.4 999,1378.3 999.2,1378.1 999.3,1377.9 999.5,1377.7 999.7,1377.6 999.8,1377.4 1000,1377.2 1000.1,1377 1000.3,1376.8 1000.5,1376.5 1000.6,1376.3 1000.8,1376.1 1000.9,1375.8 1001.1,1375.6 1001.3,1375.3 1001.4,1375 1001.6,1374.8 1001.8,1374.5 1001.9,1374.1 1002.1,1373.8 1002.2,1373.5 1002.4,1373.1 1002.6,1372.8 1002.7,1372.4 1002.9,1372 1003,1371.6 1003.2,1371.2 1003.4,1370.7 1003.5,1370.3 1003.7,1369.8 1003.8,1369.3 1004,1368.7 1004.2,1368.2 1004.3,1367.6 1004.5,1367 1004.7,1366.4 1004.8,1365.7 1005,1365 1005.1,1364.3 1005.3,1363.6 1005.5,1362.8 1005.6,1361.9 1005.8,1361.1 1005.9,1360.2 1006.1,1359.2 1006.3,1358.2 1006.4,1357.2 1006.6,1356.1 1006.8,1354.9 1006.9,1353.7 1007.1,1352.4 1007.2,1351.1 1007.4,1349.7 1007.6,1348.2 1007.7,1346.7 1007.9,1345.1 1008,1343.4 1008.2,1341.6 1008.4,1339.7 1008.5,1337.8 1008.7,1335.7 1008.9,1333.5 1009,1331.3 1009.2,1328.9 1009.3,1326.4 1009.5,1323.8 1009.7,1321.1 1009.8,1318.2 1010,1315.2 1010.1,1312.1 1010.3,1308.9 1010.5,1305.5 1010.6,1302.1 1010.8,1298.4 1010.9,1294.7 1011.1,1290.9 1011.3,1286.9 1011.4,1282.9 1011.6,1278.8 1011.8,1274.6 1011.9,1270.3 1012.1,1266.1 1012.2,1261.8 1012.4,1257.5 1012.6,1253.4 1012.7,1249.3 1012.9,1245.3 1013,1241.5 1013.2,1237.8 1013.4,1234.4 1013.5,1231.3 1013.7,1228.4 1013.9,1225.9 1014,1223.7 1014.2,1221.9 1014.3,1220.4 1014.5,1219.4 1014.7,1218.8 1014.8,1218.5 1015,1218.7 1015.1,1219.2 1015.3,1220.1 1015.5,1221.4 1015.6,1222.9 1015.8,1224.7 1015.9,1226.8 1016.1,1229.2 1016.3,1231.7 1016.4,1234.4 1016.6,1237.2 1016.8,1240.2 1016.9,1243.2 1017.1,1246.3 1017.2,1249.4 1017.4,1252.6 1017.6,1255.7 1017.7,1258.9 1017.9,1262 1018,1265.1 1018.2,1268.2 1018.4,1271.2 1018.5,1274.1 1018.7,1277 1018.9,1279.8 1019,1282.5 1019.2,1285.2 1019.3,1287.7 1019.5,1290.2 1019.7,1292.7 1019.8,1295 1020,1297.3 1020.1,1299.5 1020.3,1301.6 1020.5,1303.7 1020.6,1305.6 1020.8,1307.5 1021,1309.4 1021.1,1311.2 1021.3,1312.9 1021.4,1314.6 1021.6,1316.2 1021.8,1317.7 1021.9,1319.2 1022.1,1320.6 1022.2,1322 1022.4,1323.4 1022.6,1324.7 1022.7,1325.9 1022.9,1327.1 1023,1328.3 1023.2,1329.4 1023.4,1330.5 1023.5,1331.6 1023.7,1332.6 1023.9,1333.6 1024,1334.5 1024.2,1335.4 1024.3,1336.3 1024.5,1337.2 1024.7,1338 1024.8,1338.8 1025,1339.6 1025.1,1340.4 1025.3,1341.1 1025.5,1341.8 1025.6,1342.5 1025.8,1343.2 1026,1343.8 1026.1,1344.4 1026.3,1345.1 1026.4,1345.7 1026.6,1346.2 1026.8,1346.8 1026.9,1347.3 1027.1,1347.9 1027.2,1348.4 1027.4,1348.9 1027.6,1349.4 1027.7,1349.8 1027.9,1350.3 1028,1350.7 1028.2,1351.2 1028.4,1351.6 1028.5,1352 1028.7,1352.4 1028.9,1352.8 1029,1353.2 1029.2,1353.6 1029.3,1353.9 1029.5,1354.3 1029.7,1354.6 1029.8,1355 1030,1355.3 1030.1,1355.6 1030.3,1355.9 1030.5,1356.2 1030.6,1356.5 1030.8,1356.8 1031,1357.1 1031.1,1357.4 1031.3,1357.6 1031.4,1357.9 1031.6,1358.2 1031.8,1358.4 1031.9,1358.7 1032.1,1358.9 1032.2,1359.1 1032.4,1359.4 1032.6,1359.6 1032.7,1359.8 1032.9,1360 1033.1,1360.3 1033.2,1360.5 1033.4,1360.7 1033.5,1360.9 1033.7,1361.1 1033.9,1361.3 1034,1361.4 1034.2,1361.6 1034.3,1361.8 1034.5,1362 1034.7,1362.2 1034.8,1362.3 1035,1362.5 1035.1,1362.7 1035.3,1362.8 1035.5,1363 1035.6,1363.1 1035.8,1363.3 1036,1363.4 1036.1,1363.6 1036.3,1363.7 1036.4,1363.9 1036.6,1364 1036.8,1364.1 1036.9,1364.3 1037.1,1364.4 1037.2,1364.5 1037.4,1364.6 1037.6,1364.8 1037.7,1364.9 1037.9,1365 1038.1,1365.1 1038.2,1365.2 1038.4,1365.4 1038.5,1365.5 1038.7,1365.6 1038.9,1365.7 1039,1365.8 1039.2,1365.9 1039.3,1366 1039.5,1366.1 1039.7,1366.2 1039.8,1366.3 1040,1366.4 1040.2,1366.5 1040.3,1366.6 1040.5,1366.7 1040.6,1366.8 1040.8,1366.8 1041,1366.9 1041.1,1367 1041.3,1367.1 1041.4,1367.2 1041.6,1367.3 1041.8,1367.3 1041.9,1367.4" fill="none" stroke="#264c9e" stroke-width="3.0" stroke-linecap="round" stroke-linejoin="round"/>
<polyline points="1041.9,1383.3 1042.1,1383.3 1042.3,1383.3 1042.4,1383.4 1042.6,1383.4 1042.7,1383.4 1042.9,1383.4 1043.1,1383.5 1043.2,1383.5 1043.4,1383.5 1043.6,1383.5 1043.7,1383.6 1043.9,1383.6 1044.1,1383.6 1044.2,1383.6 1044.4,1383.7 1044.5,1383.7 1044.7,1383.7 1044.9,1383.8 1045,1383.8 1045.2,1383.8 1045.4,1383.8 1045.5,1383.9 1045.7,1383.9 1045.9,1383.9 1046,1384 1046.2,1384 1046.4,1384 1046.5,1384 1046.7,1384.1 1046.8,1384.1 1047,1384.1 1047.2,1384.2 1047.3,1384.2 1047.5,1384.2 1047.7,1384.3 1047.8,1384.3 1048,1384.3 1048.2,1384.4 1048.3,1384.4 1048.5,1384.4 1048.7,1384.5 1048.8,1384.5 1049,1384.5 1049.1,1384.6 1049.3,1384.6 1049.5,1384.7 1049.6,1384.7 1049.8,1384.7 1050,1384.8 1050.1,1384.8 1050.3,1384.9 1050.5,1384.9 1050.6,1384.9 1050.8,1385 1050.9,1385 1051.1,1385.1 1051.3,1385.1 1051.4,1385.2 1051.6,1385.2 1051.8,1385.2 1051.9,1385.3 1052.1,1385.3 1052.3,1385.4 1052.4,1385.4 1052.6,1385.5 1052.8,1385.5 1052.9,1385.6 1053.1,1385.6 1053.2,1385.7 1053.4,1385.7 1053.6,1385.8 1053.7,1385.8 1053.9,1385.9 1054.1,1386 1054.2,1386 1054.4,1386.1 1054.6,1386.1 1054.7,1386.2 1054.9,1386.3 1055,1386.3 1055.2,1386.4 1055.4,1386.4 1055.5,1386.5 1055.7,1386.6 1055.9,1386.7 1056,1386.7 1056.2,1386.8 1056.4,1386.9 1056.5,1386.9 1056.7,1387 1056.9,1387.1 1057,1387.2 1057.2,1387.2 1057.3,1387.3 1057.5,1387.4 1057.7,1387.5 1057.8,1387.6 1058,1387.7 1058.2,1387.8 1058.3,1387.8 1058.5,1387.9 1058.7,1388 1058.8,1388.1 1059,1388.2 1059.1,1388.3 1059.3,1388.4 1059.5,1388.5 1059.6,1388.6 1059.8,1388.8 1060,1388.9 1060.1,1389 1060.3,1389.1 1060.5,1389.2 1060.6,1389.4 1060.8,1389.5 1061,1389.6 1061.1,1389.7 1061.3,1389.9 1061.4,1390 1061.6,1390.2 1061.8,1390.3 1061.9,1390.5 1062.1,1390.6 1062.3,1390.8 1062.4,1390.9 1062.6,1391.1 1062.8,1391.3 1062.9,1391.5 1063.1,1391.7 1063.2,1391.8 1063.4,1392 1063.6,1392.2 1063.7,1392.5 1063.9,1392.7 1064.1,1392.9 1064.2,1393.1 1064.4,1393.4 1064.6,1393.6 1064.7,1393.9 1064.9,1394.1 1065.1,1394.4 1065.2,1394.7 1065.4,1395 1065.5,1395.3 1065.7,1395.6 1065.9,1395.9 1066,1396.2 1066.2,1396.6 1066.4,1396.9 1066.5,1397.3 1066.7,1397.7 1066.9,1398.1 1067,1398.5 1067.2,1399 1067.3,1399.4 1067.5,1399.9 1067.7,1400.4 1067.8,1400.9 1068,1401.5 1068.2,1402.1 1068.3,1402.7 1068.5,1403.3 1068.7,1404 1068.8,1404.7 1069,1405.4 1069.2,1406.2 1069.3,1407 1069.5,1407.9 1069.6,1408.8 1069.8,1409.8 1070,1410.8 1070.1,1411.9 1070.3,1413 1070.5,1414.2 1070.6,1415.5 1070.8,1416.9 1071,1418.4 1071.1,1419.9 1071.3,1421.6 1071.4,1423.4 1071.6,1425.3 1071.8,1427.4 1071.9,1429.6 1072.1,1431.9 1072.3,1434.4 1072.4,1437.1 1072.6,1440 1072.8,1443.1 1072.9,1446.4 1073.1,1449.9 1073.3,1453.7 1073.4,1457.7 1073.6,1461.9 1073.7,1466.3 1073.9,1470.9 1074.1,1475.5 1074.2,1480.2 1074.4,1484.9 1074.6,1489.3 1074.7,1493.3 1074.9,1496.8 1075.1,1499.6 1075.2,1501.3 1075.4,1501.9 1075.6,1501.1 1075.7,1499 1075.9,1495.5 1076,1490.7 1076.2,1484.8 1076.4,1478.2 1076.5,1470.9 1076.7,1463.4 1076.9,1455.9 1077,1448.5 1077.2,1441.5 1077.4,1434.8 1077.5,1428.7 1077.7,1423.1 1077.8,1417.9 1078,1413.3 1078.2,1409.2 1078.3,1405.5 1078.5,1402.2 1078.7,1399.2 1078.8,1396.6 1079,1394.3 1079.2,1392.2 1079.3,1390.3 1079.5,1388.7 1079.7,1387.2 1079.8,1385.9 1080,1384.8 1080.1,1383.7 1080.3,1382.8 1080.5,1382 1080.6,1381.2 1080.8,1380.6 1081,1380 1081.1,1379.5 1081.3,1379 1081.5,1378.5 1081.6,1378.2 1081.8,1377.8 1081.9,1377.5 1082.1,1377.2 1082.3,1377 1082.4,1376.8 1082.6,1376.6 1082.8,1376.4 1082.9,1376.2 1083.1,1376.1 1083.3,1376 1083.4,1375.8 1083.6,1375.7 1083.8,1375.6 1083.9,1375.6 1084.1,1375.5 1084.2,1375.4 1084.4,1375.4 1084.6,1375.3 1084.7,1375.3 1084.9,1375.3 1085.1,1375.2 1085.2,1375.2 1085.4,1375.2 1085.6,1375.2 1085.7,1375.2 1085.9,1375.2 1086,1375.2 1086.2,1375.2 1086.4,1375.2 1086.5,1375.2 1086.7,1375.2 1086.9,1375.2 1087,1375.2 1087.2,1375.2 1087.4,1375.2 1087.5,1375.2 1087.7,1375.2 1087.9,1375.3 1088,1375.3 1088.2,1375.3 1088.3,1375.3 1088.5,1375.3 1088.7,1375.4 1088.8,1375.4 1089,1375.4 1089.2,1375.4 1089.3,1375.4 1089.5,1375.5 1089.7,1375.5 1089.8,1375.5 1090,1375.5 1090.1,1375.6 1090.3,1375.6 1090.5,1375.6 1090.6,1375.7 1090.8,1375.7 1091,1375.7 1091.1,1375.7 1091.3,1375.8 1091.5,1375.8 1091.6,1375.8 1091.8,1375.8 1092,1375.9 1092.1,1375.9 1092.3,1375.9 1092.4,1375.9 1092.6,1376 1092.8,1376 1092.9,1376 1093.1,1376 1093.3,1376.1 1093.4,1376.1 1093.6,1376.1 1093.8,1376.2 1093.9,1376.2 1094.1,1376.2 1094.2,1376.2 1094.4,1376.3 1094.6,1376.3 1094.7,1376.3 1094.9,1376.3 1095.1,1376.4 1095.2,1376.4 1095.4,1376.4 1095.6,1376.4 1095.7,1376.5 1095.9,1376.5 1096.1,1376.5 1096.2,1376.5 1096.4,1376.5 1096.5,1376.6 1096.7,1376.6 1096.9,1376.6 1097,1376.6 1097.2,1376.7 1097.4,1376.7 1097.5,1376.7 1097.7,1376.7 1097.9,1376.8 1098,1376.8 1098.2,1376.8 1098.4,1376.8 1098.5,1376.8 1098.7,1376.9 1098.8,1376.9 1099,1376.9 1099.2,1376.9 1099.3,1376.9 1099.5,1377 1099.7,1377 1099.8,1377 1100,1377 1100.2,1377 1100.3,1377.1 1100.5,1377.1 1100.6,1377.1 1100.8,1377.1 1101,1377.1 1101.1,1377.2 1101.3,1377.2 1101.5,1377.2 1101.6,1377.2 1101.8,1377.2 1102,1377.3 1102.1,1377.3 1102.3,1377.3 1102.5,1377.3 1102.6,1377.3 1102.8,1377.4 1102.9,1377.4 1103.1,1377.4 1103.3,1377.4 1103.4,1377.4 1103.6,1377.4 1103.8,1377.5 1103.9,1377.5 1104.1,1377.5 1104.3,1377.5 1104.4,1377.5 1104.6,1377.5 1104.7,1377.6 1104.9,1377.6 1105.1,1377.6 1105.2,1377.6 1105.4,1377.6 1105.6,1377.6 1105.7,1377.7 1105.9,1377.7 1106.1,1377.7 1106.2,1377.7 1106.4,1377.7 1106.6,1377.7 1106.7,1377.8 1106.9,1377.8 1107,1377.8 1107.2,1377.8 1107.4,1377.8" fill="none" stroke="#264c9e" stroke-width="3.0" stroke-linecap="round" stroke-linejoin="round"/>
<polyline points="1074.1,1387.7 1074.4,1387.7 1074.8,1387.7 1075.1,1387.7 1075.4,1387.8 1075.7,1387.8 1076.1,1387.8 1076.4,1387.8 1076.7,1387.8 1077,1387.9 1077.4,1387.9 1077.7,1387.9 1078,1387.9 1078.3,1387.9 1078.7,1388 1079,1388 1079.3,1388 1079.6,1388 1080,1388.1 1080.3,1388.1 1080.6,1388.1 1080.9,1388.1 1081.3,1388.2 1081.6,1388.2 1081.9,1388.2 1082.2,1388.2 1082.6,1388.3 1082.9,1388.3 1083.2,1388.3 1083.5,1388.3 1083.9,1388.4 1084.2,1388.4 1084.5,1388.4 1084.8,1388.4 1085.2,1388.5 1085.5,1388.5 1085.8,1388.5 1086.2,1388.6 1086.5,1388.6 1086.8,1388.6 1087.1,1388.7 1087.5,1388.7 1087.8,1388.7 1088.1,1388.7 1088.4,1388.8 1088.8,1388.8 1089.1,1388.8 1089.4,1388.9 1089.7,1388.9 1090.1,1388.9 1090.4,1389 1090.7,1389 1091,1389.1 1091.4,1389.1 1091.7,1389.1 1092,1389.2 1092.3,1389.2 1092.7,1389.2 1093,1389.3 1093.3,1389.3 1093.6,1389.4 1094,1389.4 1094.3,1389.4 1094.6,1389.5 1094.9,1389.5 1095.3,1389.6 1095.6,1389.6 1095.9,1389.7 1096.2,1389.7 1096.6,1389.8 1096.9,1389.8 1097.2,1389.8 1097.5,1389.9 1097.9,1389.9 1098.2,1390 1098.5,1390 1098.8,1390.1 1099.2,1390.1 1099.5,1390.2 1099.8,1390.3 1100.1,1390.3 1100.5,1390.4 1100.8,1390.4 1101.1,1390.5 1101.4,1390.5 1101.8,1390.6 1102.1,1390.6 1102.4,1390.7 1102.7,1390.8 1103.1,1390.8 1103.4,1390.9 1103.7,1391 1104,1391 1104.4,1391.1 1104.7,1391.2 1105,1391.2 1105.3,1391.3 1105.7,1391.4 1106,1391.4 1106.3,1391.5 1106.6,1391.6 1107,1391.7 1107.3,1391.7 1107.6,1391.8 1108,1391.9 1108.3,1392 1108.6,1392.1 1108.9,1392.2 1109.3,1392.2 1109.6,1392.3 1109.9,1392.4 1110.2,1392.5 1110.6,1392.6 1110.9,1392.7 1111.2,1392.8 1111.5,1392.9 1111.9,1393 1112.2,1393.1 1112.5,1393.2 1112.8,1393.3 1113.2,1393.4 1113.5,1393.5 1113.8,1393.6 1114.1,1393.8 1114.5,1393.9 1114.8,1394 1115.1,1394.1 1115.4,1394.2 1115.8,1394.4 1116.1,1394.5 1116.4,1394.6 1116.7,1394.8 1117.1,1394.9 1117.4,1395 1117.7,1395.2 1118,1395.3 1118.4,1395.5 1118.7,1395.6 1119,1395.8 1119.3,1396 1119.7,1396.1 1120,1396.3 1120.3,1396.5 1120.6,1396.7 1121,1396.8 1121.3,1397 1121.6,1397.2 1121.9,1397.4 1122.3,1397.6 1122.6,1397.8 1122.9,1398 1123.2,1398.3 1123.6,1398.5 1123.9,1398.7 1124.2,1398.9 1124.5,1399.2 1124.9,1399.4 1125.2,1399.7 1125.5,1400 1125.8,1400.2 1126.2,1400.5 1126.5,1400.8 1126.8,1401.1 1127.1,1401.4 1127.5,1401.7 1127.8,1402 1128.1,1402.4 1128.4,1402.7 1128.8,1403.1 1129.1,1403.4 1129.4,1403.8 1129.7,1404.2 1130.1,1404.6 1130.4,1405 1130.7,1405.5 1131.1,1405.9 1131.4,1406.4 1131.7,1406.9 1132,1407.4 1132.4,1407.9 1132.7,1408.4 1133,1409 1133.3,1409.6 1133.7,1410.2 1134,1410.8 1134.3,1411.5 1134.6,1412.2 1135,1412.9 1135.3,1413.6 1135.6,1414.4 1135.9,1415.2 1136.3,1416.1 1136.6,1417 1136.9,1417.9 1137.2,1418.9 1137.6,1420 1137.9,1421 1138.2,1422.2 1138.5,1423.4 1138.9,1424.7 1139.2,1426 1139.5,1427.4 1139.8,1428.9 1140.2,1430.5 1140.5,1432.1 1140.8,1433.9 1141.1,1435.8 1141.5,1437.7 1141.8,1439.8 1142.1,1442 1142.4,1444.4 1142.8,1446.9 1143.1,1449.5 1143.4,1452.3 1143.7,1455.3 1144.1,1458.4 1144.4,1461.7 1144.7,1465.1 1145,1468.7 1145.4,1472.4 1145.7,1476.1 1146,1479.9 1146.3,1483.6 1146.7,1487.1 1147,1490.3 1147.3,1493 1147.6,1495 1148,1496.1 1148.3,1496 1148.6,1494.5 1148.9,1491.3 1149.3,1486.5 1149.6,1479.9 1149.9,1471.8 1150.2,1462.4 1150.6,1452.2 1150.9,1441.5 1151.2,1430.9 1151.5,1420.7 1151.9,1411.1 1152.2,1402.4 1152.5,1394.6 1152.9,1387.8 1153.2,1381.9 1153.5,1376.8 1153.8,1372.6 1154.2,1369 1154.5,1366.1 1154.8,1363.6 1155.1,1361.6 1155.5,1360 1155.8,1358.7 1156.1,1357.7 1156.4,1356.9 1156.8,1356.3 1157.1,1355.8 1157.4,1355.5 1157.7,1355.2 1158.1,1355.1 1158.4,1355 1158.7,1355.1 1159,1355.1 1159.4,1355.2 1159.7,1355.4 1160,1355.5 1160.3,1355.7 1160.7,1355.9 1161,1356.1 1161.3,1356.4 1161.6,1356.6 1162,1356.9 1162.3,1357.1 1162.6,1357.4 1162.9,1357.6 1163.3,1357.9 1163.6,1358.2 1163.9,1358.4 1164.2,1358.7 1164.6,1358.9 1164.9,1359.2 1165.2,1359.5 1165.5,1359.7 1165.9,1359.9 1166.2,1360.2 1166.5,1360.4 1166.8,1360.7 1167.2,1360.9 1167.5,1361.1 1167.8,1361.3 1168.1,1361.5 1168.5,1361.8 1168.8,1362 1169.1,1362.2 1169.4,1362.4 1169.8,1362.6 1170.1,1362.8 1170.4,1363 1170.7,1363.1 1171.1,1363.3 1171.4,1363.5 1171.7,1363.7 1172,1363.8 1172.4,1364 1172.7,1364.2 1173,1364.3 1173.3,1364.5 1173.7,1364.7 1174,1364.8 1174.3,1364.9 1174.6,1365.1 1175,1365.2 1175.3,1365.4 1175.6,1365.5 1176,1365.6 1176.3,1365.8 1176.6,1365.9 1176.9,1366 1177.3,1366.2 1177.6,1366.3 1177.9,1366.4 1178.2,1366.5 1178.6,1366.6 1178.9,1366.7 1179.2,1366.9 1179.5,1367 1179.9,1367.1 1180.2,1367.2 1180.5,1367.3 1180.8,1367.4 1181.2,1367.5 1181.5,1367.6 1181.8,1367.7 1182.1,1367.8 1182.5,1367.9 1182.8,1368 1183.1,1368 1183.4,1368.1 1183.8,1368.2 1184.1,1368.3 1184.4,1368.4 1184.7,1368.5 1185.1,1368.5 1185.4,1368.6 1185.7,1368.7 1186,1368.8 1186.4,1368.9 1186.7,1368.9 1187,1369 1187.3,1369.1 1187.7,1369.1 1188,1369.2 1188.3,1369.3 1188.6,1369.3 1189,1369.4 1189.3,1369.5 1189.6,1369.5 1189.9,1369.6 1190.3,1369.7 1190.6,1369.7 1190.9,1369.8 1191.2,1369.8 1191.6,1369.9 1191.9,1370 1192.2,1370 1192.5,1370.1 1192.9,1370.1 1193.2,1370.2 1193.5,1370.2 1193.8,1370.3 1194.2,1370.3 1194.5,1370.4 1194.8,1370.4 1195.1,1370.5 1195.5,1370.5 1195.8,1370.6 1196.1,1370.6 1196.4,1370.7 1196.8,1370.7 1197.1,1370.8 1197.4,1370.8 1197.8,1370.9 1198.1,1370.9 1198.4,1370.9 1198.7,1371 1199.1,1371 1199.4,1371.1 1199.7,1371.1 1200,1371.1 1200.4,1371.2 1200.7,1371.2 1201,1371.3 1201.3,1371.3 1201.7,1371.3 1202,1371.4 1202.3,1371.4 1202.6,1371.4 1203,1371.5 1203.3,1371.5 1203.6,1371.5 1203.9,1371.6" fill="none" stroke="#60a5d3" stroke-width="3.0" stroke-linecap="round" stroke-linejoin="round"/>
<polyline points="1148.7,1386.9 1149.1,1386.9 1149.5,1386.9 1149.9,1387 1150.3,1387 1150.7,1387 1151.1,1387.1 1151.5,1387.1 1151.9,1387.1 1152.3,1387.2 1152.7,1387.2 1153.1,1387.2 1153.5,1387.2 1153.9,1387.3 1154.3,1387.3 1154.7,1387.3 1155.2,1387.4 1155.6,1387.4 1156,1387.4 1156.4,1387.5 1156.8,1387.5 1157.2,1387.5 1157.6,1387.6 1158,1387.6 1158.4,1387.6 1158.8,1387.7 1159.2,1387.7 1159.6,1387.7 1160,1387.8 1160.4,1387.8 1160.8,1387.8 1161.2,1387.9 1161.6,1387.9 1162,1388 1162.4,1388 1162.8,1388 1163.2,1388.1 1163.7,1388.1 1164.1,1388.1 1164.5,1388.2 1164.9,1388.2 1165.3,1388.2 1165.7,1388.3 1166.1,1388.3 1166.5,1388.4 1166.9,1388.4 1167.3,1388.4 1167.7,1388.5 1168.1,1388.5 1168.5,1388.6 1168.9,1388.6 1169.3,1388.6 1169.7,1388.7 1170.1,1388.7 1170.5,1388.8 1170.9,1388.8 1171.3,1388.8 1171.7,1388.9 1172.2,1388.9 1172.6,1389 1173,1389 1173.4,1389.1 1173.8,1389.1 1174.2,1389.2 1174.6,1389.2 1175,1389.2 1175.4,1389.3 1175.8,1389.3 1176.2,1389.4 1176.6,1389.4 1177,1389.5 1177.4,1389.5 1177.8,1389.6 1178.2,1389.6 1178.6,1389.7 1179,1389.7 1179.4,1389.8 1179.8,1389.8 1180.2,1389.9 1180.6,1389.9 1181.1,1390 1181.5,1390 1181.9,1390.1 1182.3,1390.1 1182.7,1390.2 1183.1,1390.2 1183.5,1390.3 1183.9,1390.3 1184.3,1390.4 1184.7,1390.4 1185.1,1390.5 1185.5,1390.6 1185.9,1390.6 1186.3,1390.7 1186.7,1390.7 1187.1,1390.8 1187.5,1390.8 1187.9,1390.9 1188.3,1391 1188.7,1391 1189.1,1391.1 1189.6,1391.1 1190,1391.2 1190.4,1391.3 1190.8,1391.3 1191.2,1391.4 1191.6,1391.5 1192,1391.5 1192.4,1391.6 1192.8,1391.7 1193.2,1391.7 1193.6,1391.8 1194,1391.9 1194.4,1391.9 1194.8,1392 1195.2,1392.1 1195.6,1392.1 1196,1392.2 1196.4,1392.3 1196.8,1392.4 1197.2,1392.4 1197.6,1392.5 1198.1,1392.6 1198.5,1392.7 1198.9,1392.7 1199.3,1392.8 1199.7,1392.9 1200.1,1393 1200.5,1393.1 1200.9,1393.1 1201.3,1393.2 1201.7,1393.3 1202.1,1393.4 1202.5,1393.5 1202.9,1393.6 1203.3,1393.7 1203.7,1393.7 1204.1,1393.8 1204.5,1393.9 1204.9,1394 1205.3,1394.1 1205.7,1394.2 1206.1,1394.3 1206.5,1394.4 1207,1394.5 1207.4,1394.6 1207.8,1394.7 1208.2,1394.8 1208.6,1394.9 1209,1395 1209.4,1395.1 1209.8,1395.2 1210.2,1395.3 1210.6,1395.4 1211,1395.6 1211.4,1395.7 1211.8,1395.8 1212.2,1395.9 1212.6,1396 1213,1396.1 1213.4,1396.3 1213.8,1396.4 1214.2,1396.5 1214.6,1396.6 1215,1396.8 1215.5,1396.9 1215.9,1397 1216.3,1397.2 1216.7,1397.3 1217.1,1397.4 1217.5,1397.6 1217.9,1397.7 1218.3,1397.9 1218.7,1398 1219.1,1398.2 1219.5,1398.3 1219.9,1398.5 1220.3,1398.6 1220.7,1398.8 1221.1,1398.9 1221.5,1399.1 1221.9,1399.3 1222.3,1399.5 1222.7,1399.6 1223.1,1399.8 1223.5,1400 1224,1400.2 1224.4,1400.4 1224.8,1400.5 1225.2,1400.7 1225.6,1400.9 1226,1401.1 1226.4,1401.3 1226.8,1401.5 1227.2,1401.8 1227.6,1402 1228,1402.2 1228.4,1402.4 1228.8,1402.6 1229.2,1402.9 1229.6,1403.1 1230,1403.3 1230.4,1403.6 1230.8,1403.8 1231.2,1404.1 1231.6,1404.4 1232,1404.6 1232.4,1404.9 1232.9,1405.2 1233.3,1405.5 1233.7,1405.8 1234.1,1406.1 1234.5,1406.4 1234.9,1406.7 1235.3,1407 1235.7,1407.3 1236.1,1407.7 1236.5,1408 1236.9,1408.3 1237.3,1408.7 1237.7,1409.1 1238.1,1409.4 1238.5,1409.8 1238.9,1410.2 1239.3,1410.6 1239.7,1411 1240.1,1411.5 1240.5,1411.9 1240.9,1412.4 1241.4,1412.8 1241.8,1413.3 1242.2,1413.8 1242.6,1414.3 1243,1414.8 1243.4,1415.3 1243.8,1415.9 1244.2,1416.4 1244.6,1417 1245,1417.6 1245.4,1418.2 1245.8,1418.8 1246.2,1419.5 1246.6,1420.2 1247,1420.9 1247.4,1421.6 1247.8,1422.3 1248.2,1423.1 1248.6,1423.9 1249,1424.7 1249.4,1425.5 1249.9,1426.4 1250.3,1427.3 1250.7,1428.2 1251.1,1429.2 1251.5,1430.2 1251.9,1431.2 1252.3,1432.3 1252.7,1433.4 1253.1,1434.5 1253.5,1435.7 1253.9,1437 1254.3,1438.2 1254.7,1439.6 1255.1,1441 1255.5,1442.4 1255.9,1443.9 1256.3,1445.4 1256.7,1447 1257.1,1448.6 1257.5,1450.3 1257.9,1452.1 1258.3,1453.9 1258.8,1455.7 1259.2,1457.6 1259.6,1459.6 1260,1461.6 1260.4,1463.6 1260.8,1465.7 1261.2,1467.7 1261.6,1469.8 1262,1471.8 1262.4,1473.8 1262.8,1475.8 1263.2,1477.6 1263.6,1479.2 1264,1480.7 1264.4,1481.9 1264.8,1482.9 1265.2,1483.4 1265.6,1483.5 1266,1483.1 1266.4,1482.1 1266.8,1480.4 1267.3,1478 1267.7,1474.9 1268.1,1471.1 1268.5,1466.4 1268.9,1461.1 1269.3,1455.2 1269.7,1448.7 1270.1,1441.8 1270.5,1434.6 1270.9,1427.3 1271.3,1420 1271.7,1412.9 1272.1,1405.9 1272.5,1399.4 1272.9,1393.2 1273.3,1387.5 1273.7,1382.2 1274.1,1377.4 1274.5,1373.2 1274.9,1369.3 1275.3,1365.9 1275.8,1363 1276.2,1360.4 1276.6,1358.1 1277,1356.2 1277.4,1354.5 1277.8,1353.1 1278.2,1352 1278.6,1351 1279,1350.2 1279.4,1349.5 1279.8,1349 1280.2,1348.6 1280.6,1348.3 1281,1348.1 1281.4,1347.9 1281.8,1347.9 1282.2,1347.9 1282.6,1347.9 1283,1348 1283.4,1348.1 1283.8,1348.3 1284.2,1348.5 1284.7,1348.7 1285.1,1348.9 1285.5,1349.1 1285.9,1349.4 1286.3,1349.7 1286.7,1350 1287.1,1350.2 1287.5,1350.5 1287.9,1350.8 1288.3,1351.1 1288.7,1351.4 1289.1,1351.7 1289.5,1352 1289.9,1352.3 1290.3,1352.6 1290.7,1352.9 1291.1,1353.2 1291.5,1353.5 1291.9,1353.8 1292.3,1354.1 1292.7,1354.4 1293.2,1354.7 1293.6,1355 1294,1355.3 1294.4,1355.6 1294.8,1355.8 1295.2,1356.1 1295.6,1356.4 1296,1356.6 1296.4,1356.9 1296.8,1357.1 1297.2,1357.4 1297.6,1357.6 1298,1357.9 1298.4,1358.1 1298.8,1358.4 1299.2,1358.6 1299.6,1358.8 1300,1359.1 1300.4,1359.3 1300.8,1359.5 1301.2,1359.7 1301.7,1359.9 1302.1,1360.1 1302.5,1360.3 1302.9,1360.5 1303.3,1360.7 1303.7,1360.9 1304.1,1361.1 1304.5,1361.3 1304.9,1361.5 1305.3,1361.7 1305.7,1361.9 1306.1,1362 1306.5,1362.2 1306.9,1362.4 1307.3,1362.6 1307.7,1362.7 1308.1,1362.9 1308.5,1363.1 1308.9,1363.2 1309.3,1363.4 1309.7,1363.5 1310.2,1363.7" fill="none" stroke="#f55f42" stroke-width="3.0" stroke-linecap="round" stroke-linejoin="round"/>
<path d="M793 1469.5H838" stroke="#264c9e" stroke-width="3.0" stroke-linecap="round" fill="none"/>
<text transform="translate(843.3 1476.2)" font-size="27.1">2 GHz</text>
<path d="M793 1502.7H838" stroke="#60a5d3" stroke-width="3.0" stroke-linecap="round" fill="none"/>
<text transform="translate(844.8 1509.5)" font-size="27.1">4 GHz</text>
<path d="M793 1535.9H838" stroke="#f55f42" stroke-width="3.0" stroke-linecap="round" fill="none"/>
<text transform="translate(844.8 1542.7)" font-size="27.1">6 GHz</text>
<rect x="773.7" y="1163.3" width="536.5" height="432.1" fill="none" stroke="#000" stroke-width="2.7"/>
<path d="M827.3 1595.4v-7.9M827.3 1163.3v7.9M934.6 1595.4v-7.9M934.6 1163.3v7.9M1041.9 1595.4v-7.9M1041.9 1163.3v7.9M1149.2 1595.4v-7.9M1149.2 1163.3v7.9M1256.5 1595.4v-7.9M1256.5 1163.3v7.9M773.7 1523.4h7.9M1310.2 1523.4h-7.9M773.7 1451.4h7.9M1310.2 1451.4h-7.9M773.7 1379.4h7.9M1310.2 1379.4h-7.9M773.7 1307.4h7.9M1310.2 1307.4h-7.9M773.7 1235.4h7.9M1310.2 1235.4h-7.9" stroke="#000" stroke-width="3.0" fill="none"/>
<text transform="translate(826.9 1626.8) scale(0.99 1.05)" font-size="28" text-anchor="middle">−400</text>
<text transform="translate(934.2 1626.8) scale(0.99 1.05)" font-size="28" text-anchor="middle">−200</text>
<text transform="translate(1041.5 1626.8) scale(0.99 1.05)" font-size="28" text-anchor="middle">0</text>
<text transform="translate(1148.8 1626.8) scale(0.99 1.05)" font-size="28" text-anchor="middle">200</text>
<text transform="translate(1256.1 1626.8) scale(0.99 1.05)" font-size="28" text-anchor="middle">400</text>
<text transform="translate(764.3 1603.9) scale(0.99 1.05)" font-size="28" text-anchor="end">−30</text>
<text transform="translate(764.3 1531.9) scale(0.99 1.05)" font-size="28" text-anchor="end">−20</text>
<text transform="translate(764.3 1459.9) scale(0.99 1.05)" font-size="28" text-anchor="end">−10</text>
<text transform="translate(764.3 1387.9) scale(0.99 1.05)" font-size="28" text-anchor="end">0</text>
<text transform="translate(764.3 1315.9) scale(0.99 1.05)" font-size="28" text-anchor="end">10</text>
<text transform="translate(764.3 1243.9) scale(0.99 1.05)" font-size="28" text-anchor="end">20</text>
<text transform="translate(764.3 1171.8) scale(0.99 1.05)" font-size="28" text-anchor="end">30</text>
<text transform="translate(987 1662) scale(1 1.015)" font-size="37"><tspan font-style="italic">H</tspan> (Oe)</text>
<text transform="translate(696.8 1466) rotate(-90) scale(1 1.015)"><tspan font-size="36.81" font-style="italic">V</tspan><tspan font-style="italic" font-size="24.37" dy="9.95">mixed</tspan><tspan font-size="36.81" dy="-9.95"> (<tspan font-size="36.81" font-family="'Liberation Serif',serif" font-style="normal">μ</tspan>V)</tspan></text>
<text transform="translate(692.3 1136.3) scale(0.97 1.0)" font-size="42">h</text>
<path d="M1521 1226.5V1254.5M1516.5 1226.5h9M1516.5 1254.5h9" stroke="#000" stroke-width="2.0" fill="none"/>
<rect x="1516.5" y="1236" width="9.0" height="9.0" fill="#000"/>
<path d="M1651.4 1215V1271M1646.9 1215h9M1646.9 1271h9" stroke="#000" stroke-width="2.0" fill="none"/>
<rect x="1646.9" y="1238.5" width="9.0" height="9.0" fill="#000"/>
<path d="M1781.7 1205.1V1289M1777.2 1205.1h9M1777.2 1289h9" stroke="#000" stroke-width="2.0" fill="none"/>
<rect x="1777.2" y="1242.6" width="9.0" height="9.0" fill="#000"/>
<path d="M1912.1 1246.2V1274.2M1907.6 1246.2h9M1907.6 1274.2h9" stroke="#000" stroke-width="2.0" fill="none"/>
<rect x="1907.6" y="1255.7" width="9.0" height="9.0" fill="#000"/>
<rect x="1455.8" y="1170.5" width="521.4" height="419.7" fill="none" stroke="#000" stroke-width="2.7"/>
<path d="M1521 1590.2v-7.9M1521 1170.5v7.9M1651.4 1590.2v-7.9M1651.4 1170.5v7.9M1781.7 1590.2v-7.9M1781.7 1170.5v7.9M1912.1 1590.2v-7.9M1912.1 1170.5v7.9M1455.8 1520.3h7.9M1977.2 1520.3h-7.9M1455.8 1450.3h7.9M1977.2 1450.3h-7.9M1455.8 1380.4h7.9M1977.2 1380.4h-7.9M1455.8 1310.4h7.9M1977.2 1310.4h-7.9M1455.8 1240.5h7.9M1977.2 1240.5h-7.9" stroke="#000" stroke-width="3.0" fill="none"/>
<text transform="translate(1520.6 1620.5) scale(0.99 1.05)" font-size="28" text-anchor="middle">2</text>
<text transform="translate(1651 1620.5) scale(0.99 1.05)" font-size="28" text-anchor="middle">4</text>
<text transform="translate(1781.3 1620.5) scale(0.99 1.05)" font-size="28" text-anchor="middle">6</text>
<text transform="translate(1911.7 1620.5) scale(0.99 1.05)" font-size="28" text-anchor="middle">8</text>
<text transform="translate(1446.4 1598.7) scale(0.99 1.05)" font-size="28" text-anchor="end">−1.5</text>
<text transform="translate(1446.4 1528.8) scale(0.99 1.05)" font-size="28" text-anchor="end">−1.0</text>
<text transform="translate(1446.4 1458.8) scale(0.99 1.05)" font-size="28" text-anchor="end">−0.5</text>
<text transform="translate(1446.4 1388.9) scale(0.99 1.05)" font-size="28" text-anchor="end">0.0</text>
<text transform="translate(1446.4 1318.9) scale(0.99 1.05)" font-size="28" text-anchor="end">0.5</text>
<text transform="translate(1446.4 1249) scale(0.99 1.05)" font-size="28" text-anchor="end">1.0</text>
<text transform="translate(1446.4 1179) scale(0.99 1.05)" font-size="28" text-anchor="end">1.5</text>
<text transform="translate(1573 1666) scale(1 1.015)" font-size="37">Frequency (GHZ)</text>
<text transform="translate(1373.6 1523.3) rotate(-90) scale(1 1.015)"><tspan font-size="35.97" font-style="italic">V</tspan><tspan font-style="italic" font-size="24.61" dy="9.46" dx="-0.95">ISHE</tspan><tspan font-size="35.97" font-style="italic" dy="-9.46"> / </tspan><tspan font-size="35.97">V</tspan><tspan font-size="24.61" dy="9.46" dx="1.89">ISHE</tspan><tspan font-size="24.61"> (2 GHz)</tspan></text>
<text transform="translate(1365 1136.3) scale(0.97 1.0)" font-size="42">i</text>
</svg></body></html>
